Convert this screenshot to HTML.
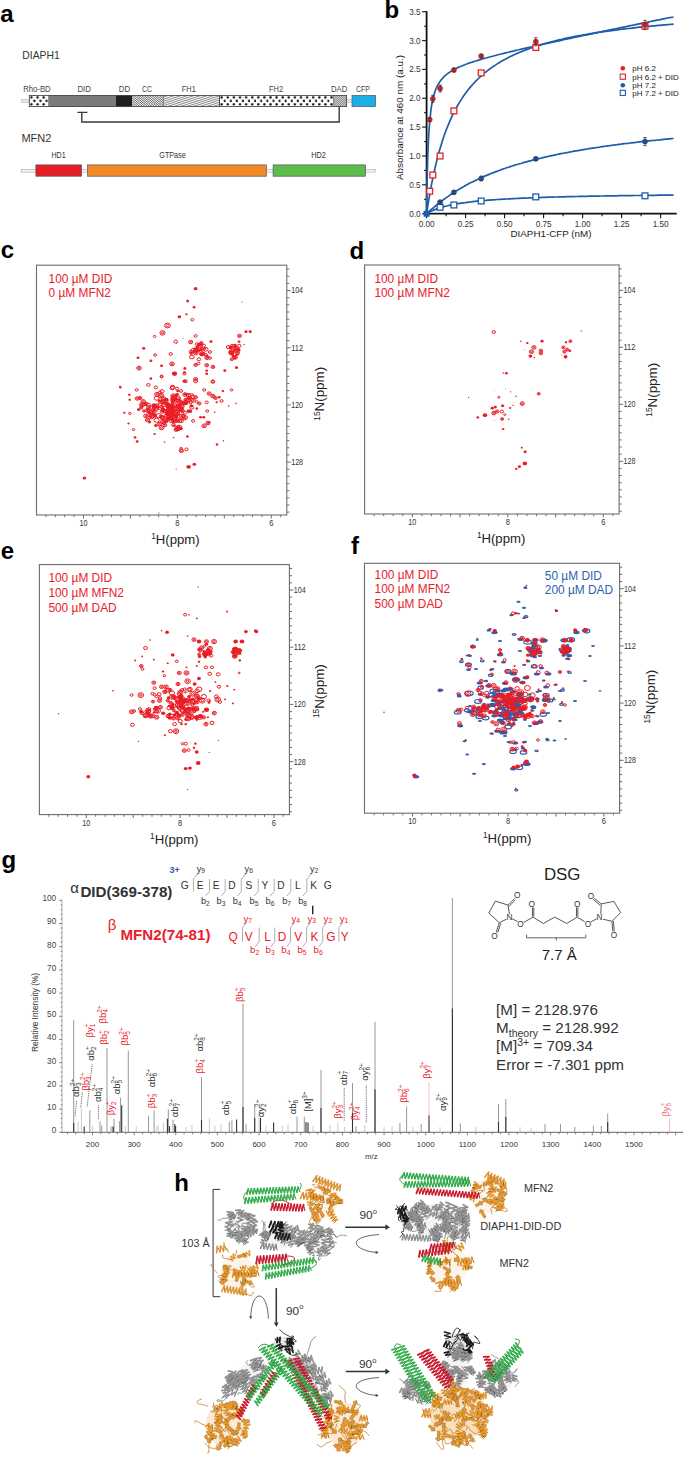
<!DOCTYPE html><html><head><meta charset="utf-8"><style>html,body{margin:0;padding:0;background:#fff;}svg{display:block;}.a{fill:none;stroke:#ea1c24;stroke-width:1}.b{fill:#ea1c24}.c{fill:none;stroke:#2a5fb0;stroke-width:1.2}.d{fill:#2a5fb0}</style></head><body><svg width="685" height="1458" viewBox="0 0 685 1458" font-family="Liberation Sans, sans-serif"><rect width="685" height="1458" fill="#fff"/><text x="0.3" y="21.6" font-size="24" fill="#000" text-anchor="start" font-weight="bold" >a</text><text x="384.6" y="18.4" font-size="24" fill="#000" text-anchor="start" font-weight="bold" >b</text><text x="0.7" y="258.3" font-size="24" fill="#000" text-anchor="start" font-weight="bold" >c</text><text x="349.6" y="258.6" font-size="24" fill="#000" text-anchor="start" font-weight="bold" >d</text><text x="0.7" y="559.4" font-size="24" fill="#000" text-anchor="start" font-weight="bold" >e</text><text x="351" y="553.8" font-size="24" fill="#000" text-anchor="start" font-weight="bold" >f</text><text x="1.5" y="867.5" font-size="24" fill="#000" text-anchor="start" font-weight="bold" >g</text><text x="174.3" y="1190.5" font-size="24" fill="#000" text-anchor="start" font-weight="bold" >h</text><defs><pattern id="dots" x="29.8" y="96.2" width="6.1" height="6.9" patternUnits="userSpaceOnUse"><rect width="6.1" height="6.9" fill="#fff"/><circle cx="1.6" cy="1.3" r="1.2" fill="#111"/><circle cx="4.6" cy="4.7" r="1.2" fill="#111"/></pattern><pattern id="dots2" x="219.5" y="96.2" width="6.1" height="6.9" patternUnits="userSpaceOnUse"><rect width="6.1" height="6.9" fill="#fff"/><circle cx="2.2" cy="1.3" r="1.2" fill="#111"/><circle cx="5.2" cy="4.7" r="1.2" fill="#111"/></pattern><pattern id="hatchCC" width="1.6" height="1.6" patternUnits="userSpaceOnUse" patternTransform="rotate(-50)"><rect width="1.6" height="1.6" fill="#fff"/><rect width="0.7" height="1.6" fill="#555"/></pattern><pattern id="hatchFH1" width="2" height="1.8" patternUnits="userSpaceOnUse" patternTransform="rotate(16)"><rect width="2" height="1.8" fill="#fff"/><rect width="2" height="0.7" fill="#6a6a6a"/></pattern><pattern id="dad" width="1.4" height="1.4" patternUnits="userSpaceOnUse" patternTransform="rotate(45)"><rect width="1.4" height="1.4" fill="#c8c8c8"/><rect width="0.6" height="1.4" fill="#8a8a8a"/></pattern></defs><text x="22.3" y="59" font-size="11.5" fill="#333" textLength="37.5" lengthAdjust="spacingAndGlyphs">DIAPH1</text><rect x="21.4" y="99.6" width="8" height="3" fill="#e6e6e6" stroke="#aaa" stroke-width="0.5" /><rect x="346.4" y="99.6" width="6" height="3" fill="#e6e6e6" stroke="#aaa" stroke-width="0.5" /><rect x="29.3" y="95.4" width="18.9" height="11.2" fill="url(#dots)" stroke="none" stroke-width="1" /><rect x="48.2" y="95.4" width="67.8" height="11.2" fill="#7b7b7b" stroke="none" stroke-width="1" /><rect x="116" y="95.4" width="16.4" height="11.2" fill="#231f20" stroke="none" stroke-width="1" /><rect x="132.4" y="95.4" width="31" height="11.2" fill="url(#hatchCC)" stroke="none" stroke-width="1" /><rect x="163.4" y="95.4" width="56.1" height="11.2" fill="url(#hatchFH1)" stroke="none" stroke-width="1" /><rect x="219.5" y="95.4" width="114.1" height="11.2" fill="url(#dots2)" stroke="none" stroke-width="1" /><rect x="333.6" y="95.4" width="12.8" height="11.2" fill="url(#dad)" stroke="none" stroke-width="1" /><rect x="29.3" y="95.4" width="317.1" height="11.2" fill="none" stroke="#3a3a3a" stroke-width="0.8" /><path d="M163.4,95.4L163.4,106.6" stroke="#444" stroke-width="0.6" /><path d="M219.5,95.4L219.5,106.6" stroke="#222" stroke-width="0.8" /><path d="M333.6,95.4L333.6,106.6" stroke="#444" stroke-width="0.6" /><rect x="352" y="95.4" width="23.6" height="11.2" fill="#1aafe6" stroke="#555" stroke-width="0.7" /><text x="36.9" y="91.9" font-size="8.6" fill="#444" text-anchor="middle" textLength="27.5" lengthAdjust="spacingAndGlyphs">Rho-BD</text><text x="84.2" y="91.9" font-size="8.6" fill="#444" text-anchor="middle" textLength="13.5" lengthAdjust="spacingAndGlyphs">DID</text><text x="124.5" y="91.9" font-size="8.6" fill="#444" text-anchor="middle" textLength="11.3" lengthAdjust="spacingAndGlyphs">DD</text><text x="147" y="91.9" font-size="8.6" fill="#444" text-anchor="middle" textLength="10" lengthAdjust="spacingAndGlyphs">CC</text><text x="188.8" y="91.9" font-size="8.6" fill="#444" text-anchor="middle" textLength="14" lengthAdjust="spacingAndGlyphs">FH1</text><text x="276.1" y="91.9" font-size="8.6" fill="#444" text-anchor="middle" textLength="14" lengthAdjust="spacingAndGlyphs">FH2</text><text x="339.1" y="91.9" font-size="8.6" fill="#444" text-anchor="middle" textLength="16.2" lengthAdjust="spacingAndGlyphs">DAD</text><text x="363" y="91.9" font-size="8.6" fill="#444" text-anchor="middle" textLength="14" lengthAdjust="spacingAndGlyphs">CFP</text><path d="M77.4,112.4 H87.4 M81.8,112.4 V122 H339.2 V106.6" fill="none" stroke="#3a3a3a" stroke-width="1.4"/><text x="21.4" y="142" font-size="11" fill="#333" text-anchor="start" >MFN2</text><rect x="21.4" y="169.3" width="354" height="2.8" fill="#f2f2f2" stroke="#9a9a9a" stroke-width="0.5" /><rect x="35.9" y="164.9" width="45.6" height="11.3" fill="#e31e25" stroke="#555" stroke-width="0.7" /><rect x="87.6" y="164.9" width="178.7" height="11.3" fill="#f18a26" stroke="#555" stroke-width="0.7" /><rect x="273.1" y="164.9" width="92.4" height="11.3" fill="#5dbd4c" stroke="#555" stroke-width="0.7" /><text x="58.6" y="157.9" font-size="8.6" fill="#333" text-anchor="middle" textLength="14.2" lengthAdjust="spacingAndGlyphs">HD1</text><text x="172.5" y="157.9" font-size="8.6" fill="#333" text-anchor="middle" textLength="26.3" lengthAdjust="spacingAndGlyphs">GTPase</text><text x="318.6" y="157.9" font-size="8.6" fill="#333" text-anchor="middle" textLength="14.7" lengthAdjust="spacingAndGlyphs">HD2</text><path d="M426.6,11.2L426.6,214.7" stroke="#111" stroke-width="1.8" /><path d="M425.6,213.7L676.7,213.7" stroke="#111" stroke-width="1.8" /><path d="M422.1,213.7L426.6,213.7" stroke="#111" stroke-width="1.1" /><text x="420.6" y="216.6" font-size="8.2" fill="#333" text-anchor="end" >0.0</text><path d="M424.1,199.3L426.6,199.3" stroke="#111" stroke-width="1.1" /><path d="M422.1,184.8L426.6,184.8" stroke="#111" stroke-width="1.1" /><text x="420.6" y="187.7" font-size="8.2" fill="#333" text-anchor="end" >0.5</text><path d="M424.1,170.4L426.6,170.4" stroke="#111" stroke-width="1.1" /><path d="M422.1,156L426.6,156" stroke="#111" stroke-width="1.1" /><text x="420.6" y="158.9" font-size="8.2" fill="#333" text-anchor="end" >1.0</text><path d="M424.1,141.6L426.6,141.6" stroke="#111" stroke-width="1.1" /><path d="M422.1,127.1L426.6,127.1" stroke="#111" stroke-width="1.1" /><text x="420.6" y="130" font-size="8.2" fill="#333" text-anchor="end" >1.5</text><path d="M424.1,112.7L426.6,112.7" stroke="#111" stroke-width="1.1" /><path d="M422.1,98.3L426.6,98.3" stroke="#111" stroke-width="1.1" /><text x="420.6" y="101.2" font-size="8.2" fill="#333" text-anchor="end" >2.0</text><path d="M424.1,83.9L426.6,83.9" stroke="#111" stroke-width="1.1" /><path d="M422.1,69.4L426.6,69.4" stroke="#111" stroke-width="1.1" /><text x="420.6" y="72.3" font-size="8.2" fill="#333" text-anchor="end" >2.5</text><path d="M424.1,55L426.6,55" stroke="#111" stroke-width="1.1" /><path d="M422.1,40.6L426.6,40.6" stroke="#111" stroke-width="1.1" /><text x="420.6" y="43.5" font-size="8.2" fill="#333" text-anchor="end" >3.0</text><path d="M424.1,26.2L426.6,26.2" stroke="#111" stroke-width="1.1" /><path d="M422.1,11.7L426.6,11.7" stroke="#111" stroke-width="1.1" /><text x="420.6" y="14.6" font-size="8.2" fill="#333" text-anchor="end" >3.5</text><path d="M426.6,213.7L426.6,218.2" stroke="#111" stroke-width="1.1" /><text x="426.6" y="227" font-size="8.2" fill="#333" text-anchor="middle" >0.00</text><path d="M446.1,213.7L446.1,216.2" stroke="#111" stroke-width="1.1" /><path d="M465.6,213.7L465.6,218.2" stroke="#111" stroke-width="1.1" /><text x="465.6" y="227" font-size="8.2" fill="#333" text-anchor="middle" >0.25</text><path d="M485.1,213.7L485.1,216.2" stroke="#111" stroke-width="1.1" /><path d="M504.6,213.7L504.6,218.2" stroke="#111" stroke-width="1.1" /><text x="504.6" y="227" font-size="8.2" fill="#333" text-anchor="middle" >0.50</text><path d="M524.1,213.7L524.1,216.2" stroke="#111" stroke-width="1.1" /><path d="M543.6,213.7L543.6,218.2" stroke="#111" stroke-width="1.1" /><text x="543.6" y="227" font-size="8.2" fill="#333" text-anchor="middle" >0.75</text><path d="M563.1,213.7L563.1,216.2" stroke="#111" stroke-width="1.1" /><path d="M582.6,213.7L582.6,218.2" stroke="#111" stroke-width="1.1" /><text x="582.6" y="227" font-size="8.2" fill="#333" text-anchor="middle" >1.00</text><path d="M602.1,213.7L602.1,216.2" stroke="#111" stroke-width="1.1" /><path d="M621.6,213.7L621.6,218.2" stroke="#111" stroke-width="1.1" /><text x="621.6" y="227" font-size="8.2" fill="#333" text-anchor="middle" >1.25</text><path d="M641.1,213.7L641.1,216.2" stroke="#111" stroke-width="1.1" /><path d="M660.6,213.7L660.6,218.2" stroke="#111" stroke-width="1.1" /><text x="660.6" y="227" font-size="8.2" fill="#333" text-anchor="middle" >1.50</text><text x="551" y="236.8" font-size="9.8" fill="#222" text-anchor="middle" >DIAPH1-CFP (nM)</text><text x="0" y="0" font-size="9.9" fill="#222" text-anchor="middle" transform="translate(402.9,117.5) rotate(-90)">Absorbance at 460 nm (a.u.)</text><polyline points="426.6,213.7 426.6,208 426.7,202.7 426.8,197.8 426.9,193.2 426.9,189 427,185 427.1,181.3 427.2,177.7 427.3,174.4 427.3,171.3 427.7,158 428.1,147.6 428.5,139.3 428.9,132.5 429.3,126.8 429.7,121.9 430.1,117.7 430.5,114.1 430.8,110.9 431.2,108.1 431.6,105.6 432,103.4 432.4,101.3 432.8,99.5 433.2,97.8 433.6,96.2 435.4,90.2 437.3,85.9 439.2,82.6 441.1,79.9 442.9,77.8 444.8,75.9 446.7,74.3 448.6,72.9 450.4,71.7 452.3,70.5 454.2,69.5 456,68.5 457.9,67.6 459.8,66.8 461.7,66 463.5,65.2 465.4,64.5 467.3,63.8 469.1,63.1 471,62.5 472.9,61.9 474.8,61.3 476.6,60.7 478.5,60.1 480.4,59.6 482.2,59 484.1,58.5 486,58 487.9,57.5 489.7,57 491.6,56.5 493.5,56 495.4,55.5 497.2,55 499.1,54.5 501,54 502.8,53.6 504.7,53.1 506.6,52.7 508.5,52.2 510.3,51.7 512.2,51.3 514.1,50.9 515.9,50.4 517.8,50 519.7,49.5 521.6,49.1 523.4,48.7 525.3,48.2 527.2,47.8 529,47.4 530.9,47 532.8,46.5 534.7,46.1 536.5,45.7 538.4,45.3 540.3,44.9 542.2,44.4 544,44 545.9,43.6 547.8,43.2 549.6,42.8 551.5,42.4 553.4,42 555.3,41.6 557.1,41.2 559,40.8 560.9,40.4 562.7,39.9 564.6,39.5 566.5,39.1 568.4,38.7 570.2,38.3 572.1,37.9 574,37.5 575.8,37.1 577.7,36.7 579.6,36.3 581.5,35.9 583.3,35.5 585.2,35.1 587.1,34.8 589,34.4 590.8,34 592.7,33.6 594.6,33.2 596.4,32.8 598.3,32.4 600.2,32 602.1,31.6 603.9,31.2 605.8,30.8 607.7,30.4 609.5,30 611.4,29.6 613.3,29.2 615.2,28.9 617,28.5 618.9,28.1 620.8,27.7 622.6,27.3 624.5,26.9 626.4,26.5 628.3,26.1 630.1,25.7 632,25.4 633.9,25 635.8,24.6 637.6,24.2 639.5,23.8 641.4,23.4 643.2,23 645.1,22.6 647,22.3 648.9,21.9 650.7,21.5 652.6,21.1 654.5,20.7 656.3,20.3 658.2,19.9 660.1,19.6 662,19.2 663.8,18.8 665.7,18.4 667.6,18 669.4,17.6 671.3,17.3 673.2,16.9 673.5,16.8" fill="none" stroke="#1f5cab" stroke-width="1.7"/><polyline points="426.6,213.7 426.6,213.2 426.7,212.7 426.8,212.2 426.9,211.7 426.9,211.2 427,210.7 427.1,210.2 427.2,209.7 427.3,209.3 427.3,208.8 427.7,206.3 428.1,203.9 428.5,201.5 428.9,199.2 429.3,196.9 429.7,194.7 430.1,192.5 430.5,190.3 430.8,188.2 431.2,186.1 431.6,184.1 432,182.1 432.4,180.2 432.8,178.2 433.2,176.4 433.6,174.5 435.4,166.2 437.3,158.6 439.2,151.6 441.1,145.2 442.9,139.3 444.8,133.8 446.7,128.8 448.6,124.1 450.4,119.8 452.3,115.7 454.2,111.9 456,108.4 457.9,105 459.8,101.9 461.7,98.9 463.5,96.1 465.4,93.5 467.3,91 469.1,88.6 471,86.4 472.9,84.3 474.8,82.2 476.6,80.3 478.5,78.5 480.4,76.7 482.2,75 484.1,73.4 486,71.9 487.9,70.4 489.7,69 491.6,67.6 493.5,66.3 495.4,65.1 497.2,63.9 499.1,62.7 501,61.6 502.8,60.5 504.7,59.5 506.6,58.5 508.5,57.5 510.3,56.6 512.2,55.7 514.1,54.8 515.9,53.9 517.8,53.1 519.7,52.3 521.6,51.6 523.4,50.8 525.3,50.1 527.2,49.4 529,48.7 530.9,48 532.8,47.4 534.7,46.8 536.5,46.1 538.4,45.5 540.3,45 542.2,44.4 544,43.9 545.9,43.3 547.8,42.8 549.6,42.3 551.5,41.8 553.4,41.3 555.3,40.8 557.1,40.4 559,39.9 560.9,39.5 562.7,39.1 564.6,38.6 566.5,38.2 568.4,37.8 570.2,37.4 572.1,37.1 574,36.7 575.8,36.3 577.7,35.9 579.6,35.6 581.5,35.3 583.3,34.9 585.2,34.6 587.1,34.3 589,33.9 590.8,33.6 592.7,33.3 594.6,33 596.4,32.7 598.3,32.4 600.2,32.2 602.1,31.9 603.9,31.6 605.8,31.3 607.7,31.1 609.5,30.8 611.4,30.6 613.3,30.3 615.2,30.1 617,29.8 618.9,29.6 620.8,29.4 622.6,29.1 624.5,28.9 626.4,28.7 628.3,28.5 630.1,28.3 632,28.1 633.9,27.8 635.8,27.6 637.6,27.4 639.5,27.2 641.4,27.1 643.2,26.9 645.1,26.7 647,26.5 648.9,26.3 650.7,26.1 652.6,25.9 654.5,25.8 656.3,25.6 658.2,25.4 660.1,25.3 662,25.1 663.8,24.9 665.7,24.8 667.6,24.6 669.4,24.5 671.3,24.3 673.2,24.2 673.5,24.1" fill="none" stroke="#1f5cab" stroke-width="1.7"/><polyline points="426.6,213.7 426.6,213.6 426.7,213.5 426.8,213.5 426.9,213.4 426.9,213.3 427,213.3 427.1,213.2 427.2,213.1 427.3,213.1 427.3,213 427.7,212.7 428.1,212.3 428.5,212 428.9,211.6 429.3,211.3 429.7,211 430.1,210.6 430.5,210.3 430.8,209.9 431.2,209.6 431.6,209.3 432,208.9 432.4,208.6 432.8,208.3 433.2,207.9 433.6,207.6 435.4,206 437.3,204.5 439.2,203 441.1,201.5 442.9,200.1 444.8,198.7 446.7,197.4 448.6,196.1 450.4,194.8 452.3,193.5 454.2,192.3 456,191.1 457.9,190 459.8,188.8 461.7,187.7 463.5,186.7 465.4,185.6 467.3,184.6 469.1,183.6 471,182.6 472.9,181.7 474.8,180.8 476.6,179.9 478.5,179 480.4,178.1 482.2,177.3 484.1,176.4 486,175.6 487.9,174.9 489.7,174.1 491.6,173.3 493.5,172.6 495.4,171.9 497.2,171.2 499.1,170.5 501,169.8 502.8,169.1 504.7,168.5 506.6,167.8 508.5,167.2 510.3,166.6 512.2,166 514.1,165.4 515.9,164.8 517.8,164.3 519.7,163.7 521.6,163.2 523.4,162.6 525.3,162.1 527.2,161.6 529,161.1 530.9,160.6 532.8,160.1 534.7,159.6 536.5,159.2 538.4,158.7 540.3,158.3 542.2,157.8 544,157.4 545.9,156.9 547.8,156.5 549.6,156.1 551.5,155.7 553.4,155.3 555.3,154.9 557.1,154.5 559,154.1 560.9,153.7 562.7,153.4 564.6,153 566.5,152.6 568.4,152.3 570.2,151.9 572.1,151.6 574,151.2 575.8,150.9 577.7,150.6 579.6,150.3 581.5,149.9 583.3,149.6 585.2,149.3 587.1,149 589,148.7 590.8,148.4 592.7,148.1 594.6,147.8 596.4,147.5 598.3,147.3 600.2,147 602.1,146.7 603.9,146.4 605.8,146.2 607.7,145.9 609.5,145.7 611.4,145.4 613.3,145.2 615.2,144.9 617,144.7 618.9,144.4 620.8,144.2 622.6,143.9 624.5,143.7 626.4,143.5 628.3,143.3 630.1,143 632,142.8 633.9,142.6 635.8,142.4 637.6,142.2 639.5,141.9 641.4,141.7 643.2,141.5 645.1,141.3 647,141.1 648.9,140.9 650.7,140.7 652.6,140.5 654.5,140.3 656.3,140.2 658.2,140 660.1,139.8 662,139.6 663.8,139.4 665.7,139.2 667.6,139.1 669.4,138.9 671.3,138.7 673.2,138.5 673.5,138.5" fill="none" stroke="#1f5cab" stroke-width="1.7"/><polyline points="426.6,213.7 426.6,213.6 426.7,213.6 426.8,213.5 426.9,213.5 426.9,213.4 427,213.4 427.1,213.3 427.2,213.3 427.3,213.2 427.3,213.2 427.7,213 428.1,212.7 428.5,212.5 428.9,212.3 429.3,212.1 429.7,211.9 430.1,211.7 430.5,211.5 430.8,211.3 431.2,211.2 431.6,211 432,210.8 432.4,210.6 432.8,210.5 433.2,210.3 433.6,210.1 435.4,209.4 437.3,208.7 439.2,208.1 441.1,207.5 442.9,206.9 444.8,206.4 446.7,206 448.6,205.5 450.4,205.1 452.3,204.7 454.2,204.4 456,204 457.9,203.7 459.8,203.4 461.7,203.1 463.5,202.8 465.4,202.6 467.3,202.3 469.1,202.1 471,201.9 472.9,201.6 474.8,201.4 476.6,201.2 478.5,201.1 480.4,200.9 482.2,200.7 484.1,200.5 486,200.4 487.9,200.2 489.7,200.1 491.6,199.9 493.5,199.8 495.4,199.7 497.2,199.5 499.1,199.4 501,199.3 502.8,199.2 504.7,199.1 506.6,199 508.5,198.9 510.3,198.8 512.2,198.7 514.1,198.6 515.9,198.5 517.8,198.4 519.7,198.3 521.6,198.2 523.4,198.1 525.3,198.1 527.2,198 529,197.9 530.9,197.8 532.8,197.8 534.7,197.7 536.5,197.6 538.4,197.6 540.3,197.5 542.2,197.4 544,197.4 545.9,197.3 547.8,197.2 549.6,197.2 551.5,197.1 553.4,197.1 555.3,197 557.1,197 559,196.9 560.9,196.9 562.7,196.8 564.6,196.8 566.5,196.7 568.4,196.7 570.2,196.6 572.1,196.6 574,196.6 575.8,196.5 577.7,196.5 579.6,196.4 581.5,196.4 583.3,196.4 585.2,196.3 587.1,196.3 589,196.2 590.8,196.2 592.7,196.2 594.6,196.1 596.4,196.1 598.3,196.1 600.2,196 602.1,196 603.9,196 605.8,195.9 607.7,195.9 609.5,195.9 611.4,195.9 613.3,195.8 615.2,195.8 617,195.8 618.9,195.7 620.8,195.7 622.6,195.7 624.5,195.7 626.4,195.6 628.3,195.6 630.1,195.6 632,195.6 633.9,195.5 635.8,195.5 637.6,195.5 639.5,195.5 641.4,195.4 643.2,195.4 645.1,195.4 647,195.4 648.9,195.4 650.7,195.3 652.6,195.3 654.5,195.3 656.3,195.3 658.2,195.2 660.1,195.2 662,195.2 663.8,195.2 665.7,195.2 667.6,195.2 669.4,195.1 671.3,195.1 673.2,195.1 673.5,195.1" fill="none" stroke="#1f5cab" stroke-width="1.7"/><rect x="426.8" y="188.3" width="5.8" height="5.8" fill="#fff" stroke="#e8202a" stroke-width="1.3" /><rect x="429.9" y="172.1" width="5.8" height="5.8" fill="#fff" stroke="#e8202a" stroke-width="1.3" /><rect x="437.2" y="153.1" width="5.8" height="5.8" fill="#fff" stroke="#e8202a" stroke-width="1.3" /><rect x="451" y="108" width="5.8" height="5.8" fill="#fff" stroke="#e8202a" stroke-width="1.3" /><rect x="478.3" y="70" width="5.8" height="5.8" fill="#fff" stroke="#e8202a" stroke-width="1.3" /><rect x="532.9" y="44.6" width="5.8" height="5.8" fill="#fff" stroke="#e8202a" stroke-width="1.3" /><rect x="642.1" y="23.2" width="5.8" height="5.8" fill="#fff" stroke="#e8202a" stroke-width="1.3" /><rect x="437.2" y="204.4" width="5.8" height="5.8" fill="#fff" stroke="#1f5cab" stroke-width="1.3" /><rect x="451" y="202.1" width="5.8" height="5.8" fill="#fff" stroke="#1f5cab" stroke-width="1.3" /><rect x="478.3" y="198.1" width="5.8" height="5.8" fill="#fff" stroke="#1f5cab" stroke-width="1.3" /><rect x="532.9" y="194" width="5.8" height="5.8" fill="#fff" stroke="#1f5cab" stroke-width="1.3" /><rect x="642.1" y="192.9" width="5.8" height="5.8" fill="#fff" stroke="#1f5cab" stroke-width="1.3" /><circle cx="429.7" cy="119.6" r="2.6" fill="#e8202a" stroke="#7a2020" stroke-width="0.4"/><path d="M429.7,117.9L429.7,121.4" stroke="#333" stroke-width="0.8" /><path d="M428.1,117.9L431.3,117.9" stroke="#333" stroke-width="0.8" /><path d="M428.1,121.4L431.3,121.4" stroke="#333" stroke-width="0.8" /><circle cx="432.8" cy="98.8" r="2.6" fill="#e8202a" stroke="#7a2020" stroke-width="0.4"/><path d="M432.8,95.4L432.8,102.3" stroke="#333" stroke-width="0.8" /><path d="M431.2,95.4L434.4,95.4" stroke="#333" stroke-width="0.8" /><path d="M431.2,102.3L434.4,102.3" stroke="#333" stroke-width="0.8" /><circle cx="440.1" cy="88.4" r="2.6" fill="#e8202a" stroke="#7a2020" stroke-width="0.4"/><path d="M440.2,85L440.2,92" stroke="#333" stroke-width="0.8" /><path d="M438.6,85L441.8,85" stroke="#333" stroke-width="0.8" /><path d="M438.6,92L441.8,92" stroke="#333" stroke-width="0.8" /><circle cx="453.9" cy="70" r="2.6" fill="#e8202a" stroke="#7a2020" stroke-width="0.4"/><path d="M453.9,68.3L453.9,71.8" stroke="#333" stroke-width="0.8" /><path d="M452.3,68.3L455.5,68.3" stroke="#333" stroke-width="0.8" /><path d="M452.3,71.8L455.5,71.8" stroke="#333" stroke-width="0.8" /><circle cx="481.2" cy="56.1" r="2.6" fill="#e8202a" stroke="#7a2020" stroke-width="0.4"/><path d="M481.2,54.4L481.2,57.9" stroke="#333" stroke-width="0.8" /><path d="M479.6,54.4L482.8,54.4" stroke="#333" stroke-width="0.8" /><path d="M479.6,57.9L482.8,57.9" stroke="#333" stroke-width="0.8" /><circle cx="535.8" cy="41.7" r="2.6" fill="#e8202a" stroke="#7a2020" stroke-width="0.4"/><path d="M535.8,37.7L535.8,45.8" stroke="#333" stroke-width="0.8" /><path d="M534.2,37.7L537.4,37.7" stroke="#333" stroke-width="0.8" /><path d="M534.2,45.8L537.4,45.8" stroke="#333" stroke-width="0.8" /><circle cx="645" cy="25" r="2.6" fill="#e8202a" stroke="#7a2020" stroke-width="0.4"/><path d="M645,20.4L645,29.6" stroke="#333" stroke-width="0.8" /><path d="M643.4,20.4L646.6,20.4" stroke="#333" stroke-width="0.8" /><path d="M643.4,29.6L646.6,29.6" stroke="#333" stroke-width="0.8" /><circle cx="440.1" cy="202.1" r="2.6" fill="#1f5cab" stroke="#1a2f60" stroke-width="0.4"/><path d="M440.2,201L440.2,203.3" stroke="#333" stroke-width="0.8" /><path d="M438.6,201L441.8,201" stroke="#333" stroke-width="0.8" /><path d="M438.6,203.3L441.8,203.3" stroke="#333" stroke-width="0.8" /><circle cx="453.9" cy="192.3" r="2.6" fill="#1f5cab" stroke="#1a2f60" stroke-width="0.4"/><path d="M453.9,191.2L453.9,193.5" stroke="#333" stroke-width="0.8" /><path d="M452.3,191.2L455.5,191.2" stroke="#333" stroke-width="0.8" /><path d="M452.3,193.5L455.5,193.5" stroke="#333" stroke-width="0.8" /><circle cx="481.2" cy="178.5" r="2.6" fill="#1f5cab" stroke="#1a2f60" stroke-width="0.4"/><path d="M481.2,176.2L481.2,180.8" stroke="#333" stroke-width="0.8" /><path d="M479.6,176.2L482.8,176.2" stroke="#333" stroke-width="0.8" /><path d="M479.6,180.8L482.8,180.8" stroke="#333" stroke-width="0.8" /><circle cx="535.8" cy="158.8" r="2.6" fill="#1f5cab" stroke="#1a2f60" stroke-width="0.4"/><path d="M535.8,157.7L535.8,160" stroke="#333" stroke-width="0.8" /><path d="M534.2,157.7L537.4,157.7" stroke="#333" stroke-width="0.8" /><path d="M534.2,160L537.4,160" stroke="#333" stroke-width="0.8" /><circle cx="645" cy="141.5" r="2.6" fill="#1f5cab" stroke="#1a2f60" stroke-width="0.4"/><path d="M645,137.5L645,145.6" stroke="#333" stroke-width="0.8" /><path d="M643.4,137.5L646.6,137.5" stroke="#333" stroke-width="0.8" /><path d="M643.4,145.6L646.6,145.6" stroke="#333" stroke-width="0.8" /><circle cx="426.6" cy="213.7" r="3" fill="#1f5cab"/><rect x="423.6" y="210.7" width="6" height="6" fill="#1f5cab" stroke="none" stroke-width="1" /><circle cx="622.8" cy="68.3" r="2.3" fill="#e8202a"/><rect x="620.2" y="74.1" width="5.2" height="5.2" fill="#fff" stroke="#e8202a" stroke-width="1.1" /><circle cx="622.8" cy="85.3" r="2.3" fill="#1f5cab"/><rect x="620.2" y="90.3" width="5.2" height="5.2" fill="#fff" stroke="#1f5cab" stroke-width="1.1" /><text x="632.3" y="71.2" font-size="8" fill="#222" text-anchor="start" >pH 6.2</text><text x="632.3" y="79.5" font-size="8" fill="#222" text-anchor="start" >pH 6.2 + DID</text><text x="632.3" y="87.9" font-size="8" fill="#222" text-anchor="start" >pH 7.2</text><text x="632.3" y="96.2" font-size="8" fill="#222" text-anchor="start" >pH 7.2 + DID</text><rect x="36.5" y="265.2" width="250.3" height="249.8" fill="none" stroke="#6d6d6d" stroke-width="1.1"/><path d="M286.8,269.1L289.4,269.1" stroke="#6d6d6d" stroke-width="1" /><path d="M286.8,276.3L289.4,276.3" stroke="#6d6d6d" stroke-width="1" /><path d="M286.8,283.4L289.4,283.4" stroke="#6d6d6d" stroke-width="1" /><path d="M286.8,290.6L290.8,290.6" stroke="#6d6d6d" stroke-width="1" /><text x="291.2" y="293.4" font-size="8.2" fill="#333" textLength="11.9" lengthAdjust="spacingAndGlyphs">104</text><path d="M286.8,297.7L289.4,297.7" stroke="#6d6d6d" stroke-width="1" /><path d="M286.8,304.9L289.4,304.9" stroke="#6d6d6d" stroke-width="1" /><path d="M286.8,312L289.4,312" stroke="#6d6d6d" stroke-width="1" /><path d="M286.8,319.2L289.4,319.2" stroke="#6d6d6d" stroke-width="1" /><path d="M286.8,326.3L289.4,326.3" stroke="#6d6d6d" stroke-width="1" /><path d="M286.8,333.5L289.4,333.5" stroke="#6d6d6d" stroke-width="1" /><path d="M286.8,340.6L289.4,340.6" stroke="#6d6d6d" stroke-width="1" /><path d="M286.8,347.8L290.8,347.8" stroke="#6d6d6d" stroke-width="1" /><text x="291.2" y="350.6" font-size="8.2" fill="#333" textLength="11.9" lengthAdjust="spacingAndGlyphs">112</text><path d="M286.8,354.9L289.4,354.9" stroke="#6d6d6d" stroke-width="1" /><path d="M286.8,362L289.4,362" stroke="#6d6d6d" stroke-width="1" /><path d="M286.8,369.2L289.4,369.2" stroke="#6d6d6d" stroke-width="1" /><path d="M286.8,376.3L289.4,376.3" stroke="#6d6d6d" stroke-width="1" /><path d="M286.8,383.5L289.4,383.5" stroke="#6d6d6d" stroke-width="1" /><path d="M286.8,390.6L289.4,390.6" stroke="#6d6d6d" stroke-width="1" /><path d="M286.8,397.8L289.4,397.8" stroke="#6d6d6d" stroke-width="1" /><path d="M286.8,404.9L290.8,404.9" stroke="#6d6d6d" stroke-width="1" /><text x="291.2" y="407.8" font-size="8.2" fill="#333" textLength="11.9" lengthAdjust="spacingAndGlyphs">120</text><path d="M286.8,412.1L289.4,412.1" stroke="#6d6d6d" stroke-width="1" /><path d="M286.8,419.2L289.4,419.2" stroke="#6d6d6d" stroke-width="1" /><path d="M286.8,426.4L289.4,426.4" stroke="#6d6d6d" stroke-width="1" /><path d="M286.8,433.5L289.4,433.5" stroke="#6d6d6d" stroke-width="1" /><path d="M286.8,440.7L289.4,440.7" stroke="#6d6d6d" stroke-width="1" /><path d="M286.8,447.8L289.4,447.8" stroke="#6d6d6d" stroke-width="1" /><path d="M286.8,455L289.4,455" stroke="#6d6d6d" stroke-width="1" /><path d="M286.8,462.1L290.8,462.1" stroke="#6d6d6d" stroke-width="1" /><text x="291.2" y="465" font-size="8.2" fill="#333" textLength="11.9" lengthAdjust="spacingAndGlyphs">128</text><path d="M286.8,469.3L289.4,469.3" stroke="#6d6d6d" stroke-width="1" /><path d="M286.8,476.4L289.4,476.4" stroke="#6d6d6d" stroke-width="1" /><path d="M286.8,483.6L289.4,483.6" stroke="#6d6d6d" stroke-width="1" /><path d="M286.8,490.7L289.4,490.7" stroke="#6d6d6d" stroke-width="1" /><path d="M286.8,497.8L289.4,497.8" stroke="#6d6d6d" stroke-width="1" /><path d="M286.8,505L289.4,505" stroke="#6d6d6d" stroke-width="1" /><path d="M286.8,512.1L289.4,512.1" stroke="#6d6d6d" stroke-width="1" /><path d="M45.9,515L45.9,517.2" stroke="#6d6d6d" stroke-width="1" /><path d="M55.3,515L55.3,517.2" stroke="#6d6d6d" stroke-width="1" /><path d="M64.7,515L64.7,517.2" stroke="#6d6d6d" stroke-width="1" /><path d="M74.1,515L74.1,517.2" stroke="#6d6d6d" stroke-width="1" /><path d="M83.5,515L83.5,518.4" stroke="#6d6d6d" stroke-width="1" /><text x="83.4" y="526.4" font-size="8.2" fill="#333" text-anchor="middle" textLength="8" lengthAdjust="spacingAndGlyphs">10</text><path d="M92.9,515L92.9,517.2" stroke="#6d6d6d" stroke-width="1" /><path d="M102.2,515L102.2,517.2" stroke="#6d6d6d" stroke-width="1" /><path d="M111.6,515L111.6,517.2" stroke="#6d6d6d" stroke-width="1" /><path d="M121,515L121,517.2" stroke="#6d6d6d" stroke-width="1" /><path d="M130.4,515L130.4,518.4" stroke="#6d6d6d" stroke-width="1" /><path d="M139.8,515L139.8,517.2" stroke="#6d6d6d" stroke-width="1" /><path d="M149.2,515L149.2,517.2" stroke="#6d6d6d" stroke-width="1" /><path d="M158.6,515L158.6,517.2" stroke="#6d6d6d" stroke-width="1" /><path d="M168,515L168,517.2" stroke="#6d6d6d" stroke-width="1" /><path d="M177.4,515L177.4,518.4" stroke="#6d6d6d" stroke-width="1" /><text x="177.3" y="526.4" font-size="8.2" fill="#333" text-anchor="middle" textLength="4.2" lengthAdjust="spacingAndGlyphs">8</text><path d="M186.8,515L186.8,517.2" stroke="#6d6d6d" stroke-width="1" /><path d="M196.2,515L196.2,517.2" stroke="#6d6d6d" stroke-width="1" /><path d="M205.6,515L205.6,517.2" stroke="#6d6d6d" stroke-width="1" /><path d="M215,515L215,517.2" stroke="#6d6d6d" stroke-width="1" /><path d="M224.3,515L224.3,518.4" stroke="#6d6d6d" stroke-width="1" /><path d="M233.7,515L233.7,517.2" stroke="#6d6d6d" stroke-width="1" /><path d="M243.1,515L243.1,517.2" stroke="#6d6d6d" stroke-width="1" /><path d="M252.5,515L252.5,517.2" stroke="#6d6d6d" stroke-width="1" /><path d="M261.9,515L261.9,517.2" stroke="#6d6d6d" stroke-width="1" /><path d="M271.3,515L271.3,518.4" stroke="#6d6d6d" stroke-width="1" /><text x="271.3" y="526.4" font-size="8.2" fill="#333" text-anchor="middle" textLength="4.2" lengthAdjust="spacingAndGlyphs">6</text><path d="M280.7,515L280.7,517.2" stroke="#6d6d6d" stroke-width="1" /><text x="151.2" y="539.1" font-size="8.3" fill="#222">1</text><text x="155.8" y="543.7" font-size="13.3" fill="#222" textLength="43.8" lengthAdjust="spacingAndGlyphs">H(ppm)</text><g transform="translate(324.3,393.8) rotate(-90)"><text x="-26.9" y="-4.6" font-size="8.3" fill="#222">15</text><text x="-17.7" y="0" font-size="13.3" fill="#222" textLength="44.6" lengthAdjust="spacingAndGlyphs">N(ppm)</text></g><rect x="364.6" y="265" width="254.5" height="249" fill="none" stroke="#6d6d6d" stroke-width="1.1"/><path d="M619.1,268.9L621.7,268.9" stroke="#6d6d6d" stroke-width="1" /><path d="M619.1,276L621.7,276" stroke="#6d6d6d" stroke-width="1" /><path d="M619.1,283.2L621.7,283.2" stroke="#6d6d6d" stroke-width="1" /><path d="M619.1,290.3L623.1,290.3" stroke="#6d6d6d" stroke-width="1" /><text x="623.5" y="293.1" font-size="8.2" fill="#333" textLength="11.9" lengthAdjust="spacingAndGlyphs">104</text><path d="M619.1,297.4L621.7,297.4" stroke="#6d6d6d" stroke-width="1" /><path d="M619.1,304.5L621.7,304.5" stroke="#6d6d6d" stroke-width="1" /><path d="M619.1,311.7L621.7,311.7" stroke="#6d6d6d" stroke-width="1" /><path d="M619.1,318.8L621.7,318.8" stroke="#6d6d6d" stroke-width="1" /><path d="M619.1,325.9L621.7,325.9" stroke="#6d6d6d" stroke-width="1" /><path d="M619.1,333L621.7,333" stroke="#6d6d6d" stroke-width="1" /><path d="M619.1,340.2L621.7,340.2" stroke="#6d6d6d" stroke-width="1" /><path d="M619.1,347.3L623.1,347.3" stroke="#6d6d6d" stroke-width="1" /><text x="623.5" y="350.1" font-size="8.2" fill="#333" textLength="11.9" lengthAdjust="spacingAndGlyphs">112</text><path d="M619.1,354.4L621.7,354.4" stroke="#6d6d6d" stroke-width="1" /><path d="M619.1,361.5L621.7,361.5" stroke="#6d6d6d" stroke-width="1" /><path d="M619.1,368.7L621.7,368.7" stroke="#6d6d6d" stroke-width="1" /><path d="M619.1,375.8L621.7,375.8" stroke="#6d6d6d" stroke-width="1" /><path d="M619.1,382.9L621.7,382.9" stroke="#6d6d6d" stroke-width="1" /><path d="M619.1,390L621.7,390" stroke="#6d6d6d" stroke-width="1" /><path d="M619.1,397.2L621.7,397.2" stroke="#6d6d6d" stroke-width="1" /><path d="M619.1,404.3L623.1,404.3" stroke="#6d6d6d" stroke-width="1" /><text x="623.5" y="407.1" font-size="8.2" fill="#333" textLength="11.9" lengthAdjust="spacingAndGlyphs">120</text><path d="M619.1,411.4L621.7,411.4" stroke="#6d6d6d" stroke-width="1" /><path d="M619.1,418.5L621.7,418.5" stroke="#6d6d6d" stroke-width="1" /><path d="M619.1,425.7L621.7,425.7" stroke="#6d6d6d" stroke-width="1" /><path d="M619.1,432.8L621.7,432.8" stroke="#6d6d6d" stroke-width="1" /><path d="M619.1,439.9L621.7,439.9" stroke="#6d6d6d" stroke-width="1" /><path d="M619.1,447L621.7,447" stroke="#6d6d6d" stroke-width="1" /><path d="M619.1,454.2L621.7,454.2" stroke="#6d6d6d" stroke-width="1" /><path d="M619.1,461.3L623.1,461.3" stroke="#6d6d6d" stroke-width="1" /><text x="623.5" y="464.1" font-size="8.2" fill="#333" textLength="11.9" lengthAdjust="spacingAndGlyphs">128</text><path d="M619.1,468.4L621.7,468.4" stroke="#6d6d6d" stroke-width="1" /><path d="M619.1,475.5L621.7,475.5" stroke="#6d6d6d" stroke-width="1" /><path d="M619.1,482.7L621.7,482.7" stroke="#6d6d6d" stroke-width="1" /><path d="M619.1,489.8L621.7,489.8" stroke="#6d6d6d" stroke-width="1" /><path d="M619.1,496.9L621.7,496.9" stroke="#6d6d6d" stroke-width="1" /><path d="M619.1,504L621.7,504" stroke="#6d6d6d" stroke-width="1" /><path d="M619.1,511.2L621.7,511.2" stroke="#6d6d6d" stroke-width="1" /><path d="M374.1,514L374.1,516.2" stroke="#6d6d6d" stroke-width="1" /><path d="M383.7,514L383.7,516.2" stroke="#6d6d6d" stroke-width="1" /><path d="M393.2,514L393.2,516.2" stroke="#6d6d6d" stroke-width="1" /><path d="M402.8,514L402.8,516.2" stroke="#6d6d6d" stroke-width="1" /><path d="M412.3,514L412.3,517.4" stroke="#6d6d6d" stroke-width="1" /><text x="412.3" y="525.2" font-size="8.2" fill="#333" text-anchor="middle" textLength="8" lengthAdjust="spacingAndGlyphs">10</text><path d="M421.9,514L421.9,516.2" stroke="#6d6d6d" stroke-width="1" /><path d="M431.4,514L431.4,516.2" stroke="#6d6d6d" stroke-width="1" /><path d="M441,514L441,516.2" stroke="#6d6d6d" stroke-width="1" /><path d="M450.5,514L450.5,516.2" stroke="#6d6d6d" stroke-width="1" /><path d="M460.1,514L460.1,517.4" stroke="#6d6d6d" stroke-width="1" /><path d="M469.6,514L469.6,516.2" stroke="#6d6d6d" stroke-width="1" /><path d="M479.2,514L479.2,516.2" stroke="#6d6d6d" stroke-width="1" /><path d="M488.7,514L488.7,516.2" stroke="#6d6d6d" stroke-width="1" /><path d="M498.3,514L498.3,516.2" stroke="#6d6d6d" stroke-width="1" /><path d="M507.8,514L507.8,517.4" stroke="#6d6d6d" stroke-width="1" /><text x="507.8" y="525.2" font-size="8.2" fill="#333" text-anchor="middle" textLength="4.2" lengthAdjust="spacingAndGlyphs">8</text><path d="M517.4,514L517.4,516.2" stroke="#6d6d6d" stroke-width="1" /><path d="M526.9,514L526.9,516.2" stroke="#6d6d6d" stroke-width="1" /><path d="M536.5,514L536.5,516.2" stroke="#6d6d6d" stroke-width="1" /><path d="M546,514L546,516.2" stroke="#6d6d6d" stroke-width="1" /><path d="M555.6,514L555.6,517.4" stroke="#6d6d6d" stroke-width="1" /><path d="M565.1,514L565.1,516.2" stroke="#6d6d6d" stroke-width="1" /><path d="M574.7,514L574.7,516.2" stroke="#6d6d6d" stroke-width="1" /><path d="M584.2,514L584.2,516.2" stroke="#6d6d6d" stroke-width="1" /><path d="M593.8,514L593.8,516.2" stroke="#6d6d6d" stroke-width="1" /><path d="M603.3,514L603.3,517.4" stroke="#6d6d6d" stroke-width="1" /><text x="603.3" y="525.2" font-size="8.2" fill="#333" text-anchor="middle" textLength="4.2" lengthAdjust="spacingAndGlyphs">6</text><path d="M612.9,514L612.9,516.2" stroke="#6d6d6d" stroke-width="1" /><text x="476.9" y="538.4" font-size="8.3" fill="#222">1</text><text x="481.5" y="543" font-size="13.3" fill="#222" textLength="43.8" lengthAdjust="spacingAndGlyphs">H(ppm)</text><g transform="translate(656.5,389.8) rotate(-90)"><text x="-26.9" y="-4.6" font-size="8.3" fill="#222">15</text><text x="-17.7" y="0" font-size="13.3" fill="#222" textLength="44.6" lengthAdjust="spacingAndGlyphs">N(ppm)</text></g><rect x="39.4" y="564.6" width="250" height="250" fill="none" stroke="#6d6d6d" stroke-width="1.1"/><path d="M289.4,568.5L292,568.5" stroke="#6d6d6d" stroke-width="1" /><path d="M289.4,575.7L292,575.7" stroke="#6d6d6d" stroke-width="1" /><path d="M289.4,582.8L292,582.8" stroke="#6d6d6d" stroke-width="1" /><path d="M289.4,590L293.4,590" stroke="#6d6d6d" stroke-width="1" /><text x="293.8" y="592.8" font-size="8.2" fill="#333" textLength="11.9" lengthAdjust="spacingAndGlyphs">104</text><path d="M289.4,597.1L292,597.1" stroke="#6d6d6d" stroke-width="1" /><path d="M289.4,604.3L292,604.3" stroke="#6d6d6d" stroke-width="1" /><path d="M289.4,611.5L292,611.5" stroke="#6d6d6d" stroke-width="1" /><path d="M289.4,618.6L292,618.6" stroke="#6d6d6d" stroke-width="1" /><path d="M289.4,625.8L292,625.8" stroke="#6d6d6d" stroke-width="1" /><path d="M289.4,632.9L292,632.9" stroke="#6d6d6d" stroke-width="1" /><path d="M289.4,640.1L292,640.1" stroke="#6d6d6d" stroke-width="1" /><path d="M289.4,647.2L293.4,647.2" stroke="#6d6d6d" stroke-width="1" /><text x="293.8" y="650.1" font-size="8.2" fill="#333" textLength="11.9" lengthAdjust="spacingAndGlyphs">112</text><path d="M289.4,654.4L292,654.4" stroke="#6d6d6d" stroke-width="1" /><path d="M289.4,661.5L292,661.5" stroke="#6d6d6d" stroke-width="1" /><path d="M289.4,668.7L292,668.7" stroke="#6d6d6d" stroke-width="1" /><path d="M289.4,675.8L292,675.8" stroke="#6d6d6d" stroke-width="1" /><path d="M289.4,683L292,683" stroke="#6d6d6d" stroke-width="1" /><path d="M289.4,690.1L292,690.1" stroke="#6d6d6d" stroke-width="1" /><path d="M289.4,697.3L292,697.3" stroke="#6d6d6d" stroke-width="1" /><path d="M289.4,704.4L293.4,704.4" stroke="#6d6d6d" stroke-width="1" /><text x="293.8" y="707.3" font-size="8.2" fill="#333" textLength="11.9" lengthAdjust="spacingAndGlyphs">120</text><path d="M289.4,711.6L292,711.6" stroke="#6d6d6d" stroke-width="1" /><path d="M289.4,718.7L292,718.7" stroke="#6d6d6d" stroke-width="1" /><path d="M289.4,725.9L292,725.9" stroke="#6d6d6d" stroke-width="1" /><path d="M289.4,733.1L292,733.1" stroke="#6d6d6d" stroke-width="1" /><path d="M289.4,740.2L292,740.2" stroke="#6d6d6d" stroke-width="1" /><path d="M289.4,747.4L292,747.4" stroke="#6d6d6d" stroke-width="1" /><path d="M289.4,754.5L292,754.5" stroke="#6d6d6d" stroke-width="1" /><path d="M289.4,761.7L293.4,761.7" stroke="#6d6d6d" stroke-width="1" /><text x="293.8" y="764.5" font-size="8.2" fill="#333" textLength="11.9" lengthAdjust="spacingAndGlyphs">128</text><path d="M289.4,768.8L292,768.8" stroke="#6d6d6d" stroke-width="1" /><path d="M289.4,776L292,776" stroke="#6d6d6d" stroke-width="1" /><path d="M289.4,783.1L292,783.1" stroke="#6d6d6d" stroke-width="1" /><path d="M289.4,790.3L292,790.3" stroke="#6d6d6d" stroke-width="1" /><path d="M289.4,797.4L292,797.4" stroke="#6d6d6d" stroke-width="1" /><path d="M289.4,804.6L292,804.6" stroke="#6d6d6d" stroke-width="1" /><path d="M289.4,811.7L292,811.7" stroke="#6d6d6d" stroke-width="1" /><path d="M48.8,814.6L48.8,816.8" stroke="#6d6d6d" stroke-width="1" /><path d="M58.2,814.6L58.2,816.8" stroke="#6d6d6d" stroke-width="1" /><path d="M67.5,814.6L67.5,816.8" stroke="#6d6d6d" stroke-width="1" /><path d="M76.9,814.6L76.9,816.8" stroke="#6d6d6d" stroke-width="1" /><path d="M86.3,814.6L86.3,818" stroke="#6d6d6d" stroke-width="1" /><text x="86.3" y="825.9" font-size="8.2" fill="#333" text-anchor="middle" textLength="8" lengthAdjust="spacingAndGlyphs">10</text><path d="M95.7,814.6L95.7,816.8" stroke="#6d6d6d" stroke-width="1" /><path d="M105.1,814.6L105.1,816.8" stroke="#6d6d6d" stroke-width="1" /><path d="M114.4,814.6L114.4,816.8" stroke="#6d6d6d" stroke-width="1" /><path d="M123.8,814.6L123.8,816.8" stroke="#6d6d6d" stroke-width="1" /><path d="M133.2,814.6L133.2,818" stroke="#6d6d6d" stroke-width="1" /><path d="M142.6,814.6L142.6,816.8" stroke="#6d6d6d" stroke-width="1" /><path d="M152,814.6L152,816.8" stroke="#6d6d6d" stroke-width="1" /><path d="M161.4,814.6L161.4,816.8" stroke="#6d6d6d" stroke-width="1" /><path d="M170.7,814.6L170.7,816.8" stroke="#6d6d6d" stroke-width="1" /><path d="M180.1,814.6L180.1,818" stroke="#6d6d6d" stroke-width="1" /><text x="180.1" y="825.9" font-size="8.2" fill="#333" text-anchor="middle" textLength="4.2" lengthAdjust="spacingAndGlyphs">8</text><path d="M189.5,814.6L189.5,816.8" stroke="#6d6d6d" stroke-width="1" /><path d="M198.9,814.6L198.9,816.8" stroke="#6d6d6d" stroke-width="1" /><path d="M208.3,814.6L208.3,816.8" stroke="#6d6d6d" stroke-width="1" /><path d="M217.6,814.6L217.6,816.8" stroke="#6d6d6d" stroke-width="1" /><path d="M227,814.6L227,818" stroke="#6d6d6d" stroke-width="1" /><path d="M236.4,814.6L236.4,816.8" stroke="#6d6d6d" stroke-width="1" /><path d="M245.8,814.6L245.8,816.8" stroke="#6d6d6d" stroke-width="1" /><path d="M255.2,814.6L255.2,816.8" stroke="#6d6d6d" stroke-width="1" /><path d="M264.5,814.6L264.5,816.8" stroke="#6d6d6d" stroke-width="1" /><path d="M273.9,814.6L273.9,818" stroke="#6d6d6d" stroke-width="1" /><text x="273.9" y="825.9" font-size="8.2" fill="#333" text-anchor="middle" textLength="4.2" lengthAdjust="spacingAndGlyphs">6</text><path d="M283.3,814.6L283.3,816.8" stroke="#6d6d6d" stroke-width="1" /><text x="150.1" y="838.9" font-size="8.3" fill="#222">1</text><text x="154.7" y="843.5" font-size="13.3" fill="#222" textLength="43.8" lengthAdjust="spacingAndGlyphs">H(ppm)</text><g transform="translate(324,691.1) rotate(-90)"><text x="-26.9" y="-4.6" font-size="8.3" fill="#222">15</text><text x="-17.7" y="0" font-size="13.3" fill="#222" textLength="44.6" lengthAdjust="spacingAndGlyphs">N(ppm)</text></g><rect x="364.5" y="563.3" width="255.1" height="249.9" fill="none" stroke="#6d6d6d" stroke-width="1.1"/><path d="M619.6,567.2L622.2,567.2" stroke="#6d6d6d" stroke-width="1" /><path d="M619.6,574.4L622.2,574.4" stroke="#6d6d6d" stroke-width="1" /><path d="M619.6,581.5L622.2,581.5" stroke="#6d6d6d" stroke-width="1" /><path d="M619.6,588.7L623.6,588.7" stroke="#6d6d6d" stroke-width="1" /><text x="624" y="591.5" font-size="8.2" fill="#333" textLength="11.9" lengthAdjust="spacingAndGlyphs">104</text><path d="M619.6,595.8L622.2,595.8" stroke="#6d6d6d" stroke-width="1" /><path d="M619.6,603L622.2,603" stroke="#6d6d6d" stroke-width="1" /><path d="M619.6,610.1L622.2,610.1" stroke="#6d6d6d" stroke-width="1" /><path d="M619.6,617.3L622.2,617.3" stroke="#6d6d6d" stroke-width="1" /><path d="M619.6,624.4L622.2,624.4" stroke="#6d6d6d" stroke-width="1" /><path d="M619.6,631.6L622.2,631.6" stroke="#6d6d6d" stroke-width="1" /><path d="M619.6,638.7L622.2,638.7" stroke="#6d6d6d" stroke-width="1" /><path d="M619.6,645.9L623.6,645.9" stroke="#6d6d6d" stroke-width="1" /><text x="624" y="648.7" font-size="8.2" fill="#333" textLength="11.9" lengthAdjust="spacingAndGlyphs">112</text><path d="M619.6,653L622.2,653" stroke="#6d6d6d" stroke-width="1" /><path d="M619.6,660.2L622.2,660.2" stroke="#6d6d6d" stroke-width="1" /><path d="M619.6,667.3L622.2,667.3" stroke="#6d6d6d" stroke-width="1" /><path d="M619.6,674.5L622.2,674.5" stroke="#6d6d6d" stroke-width="1" /><path d="M619.6,681.6L622.2,681.6" stroke="#6d6d6d" stroke-width="1" /><path d="M619.6,688.8L622.2,688.8" stroke="#6d6d6d" stroke-width="1" /><path d="M619.6,695.9L622.2,695.9" stroke="#6d6d6d" stroke-width="1" /><path d="M619.6,703.1L623.6,703.1" stroke="#6d6d6d" stroke-width="1" /><text x="624" y="705.9" font-size="8.2" fill="#333" textLength="11.9" lengthAdjust="spacingAndGlyphs">120</text><path d="M619.6,710.2L622.2,710.2" stroke="#6d6d6d" stroke-width="1" /><path d="M619.6,717.4L622.2,717.4" stroke="#6d6d6d" stroke-width="1" /><path d="M619.6,724.5L622.2,724.5" stroke="#6d6d6d" stroke-width="1" /><path d="M619.6,731.7L622.2,731.7" stroke="#6d6d6d" stroke-width="1" /><path d="M619.6,738.8L622.2,738.8" stroke="#6d6d6d" stroke-width="1" /><path d="M619.6,746L622.2,746" stroke="#6d6d6d" stroke-width="1" /><path d="M619.6,753.1L622.2,753.1" stroke="#6d6d6d" stroke-width="1" /><path d="M619.6,760.3L623.6,760.3" stroke="#6d6d6d" stroke-width="1" /><text x="624" y="763.1" font-size="8.2" fill="#333" textLength="11.9" lengthAdjust="spacingAndGlyphs">128</text><path d="M619.6,767.4L622.2,767.4" stroke="#6d6d6d" stroke-width="1" /><path d="M619.6,774.6L622.2,774.6" stroke="#6d6d6d" stroke-width="1" /><path d="M619.6,781.7L622.2,781.7" stroke="#6d6d6d" stroke-width="1" /><path d="M619.6,788.9L622.2,788.9" stroke="#6d6d6d" stroke-width="1" /><path d="M619.6,796L622.2,796" stroke="#6d6d6d" stroke-width="1" /><path d="M619.6,803.2L622.2,803.2" stroke="#6d6d6d" stroke-width="1" /><path d="M619.6,810.3L622.2,810.3" stroke="#6d6d6d" stroke-width="1" /><path d="M374.1,813.2L374.1,815.4" stroke="#6d6d6d" stroke-width="1" /><path d="M383.6,813.2L383.6,815.4" stroke="#6d6d6d" stroke-width="1" /><path d="M393.2,813.2L393.2,815.4" stroke="#6d6d6d" stroke-width="1" /><path d="M402.8,813.2L402.8,815.4" stroke="#6d6d6d" stroke-width="1" /><path d="M412.4,813.2L412.4,816.6" stroke="#6d6d6d" stroke-width="1" /><text x="412.3" y="824.3" font-size="8.2" fill="#333" text-anchor="middle" textLength="8" lengthAdjust="spacingAndGlyphs">10</text><path d="M421.9,813.2L421.9,815.4" stroke="#6d6d6d" stroke-width="1" /><path d="M431.5,813.2L431.5,815.4" stroke="#6d6d6d" stroke-width="1" /><path d="M441.1,813.2L441.1,815.4" stroke="#6d6d6d" stroke-width="1" /><path d="M450.7,813.2L450.7,815.4" stroke="#6d6d6d" stroke-width="1" /><path d="M460.2,813.2L460.2,816.6" stroke="#6d6d6d" stroke-width="1" /><path d="M469.8,813.2L469.8,815.4" stroke="#6d6d6d" stroke-width="1" /><path d="M479.4,813.2L479.4,815.4" stroke="#6d6d6d" stroke-width="1" /><path d="M488.9,813.2L488.9,815.4" stroke="#6d6d6d" stroke-width="1" /><path d="M498.5,813.2L498.5,815.4" stroke="#6d6d6d" stroke-width="1" /><path d="M508.1,813.2L508.1,816.6" stroke="#6d6d6d" stroke-width="1" /><text x="508" y="824.3" font-size="8.2" fill="#333" text-anchor="middle" textLength="4.2" lengthAdjust="spacingAndGlyphs">8</text><path d="M517.7,813.2L517.7,815.4" stroke="#6d6d6d" stroke-width="1" /><path d="M527.2,813.2L527.2,815.4" stroke="#6d6d6d" stroke-width="1" /><path d="M536.8,813.2L536.8,815.4" stroke="#6d6d6d" stroke-width="1" /><path d="M546.4,813.2L546.4,815.4" stroke="#6d6d6d" stroke-width="1" /><path d="M555.9,813.2L555.9,816.6" stroke="#6d6d6d" stroke-width="1" /><path d="M565.5,813.2L565.5,815.4" stroke="#6d6d6d" stroke-width="1" /><path d="M575.1,813.2L575.1,815.4" stroke="#6d6d6d" stroke-width="1" /><path d="M584.7,813.2L584.7,815.4" stroke="#6d6d6d" stroke-width="1" /><path d="M594.2,813.2L594.2,815.4" stroke="#6d6d6d" stroke-width="1" /><path d="M603.8,813.2L603.8,816.6" stroke="#6d6d6d" stroke-width="1" /><text x="603.8" y="824.3" font-size="8.2" fill="#333" text-anchor="middle" textLength="4.2" lengthAdjust="spacingAndGlyphs">6</text><path d="M613.4,813.2L613.4,815.4" stroke="#6d6d6d" stroke-width="1" /><text x="483" y="838.2" font-size="8.3" fill="#222">1</text><text x="487.6" y="842.8" font-size="13.3" fill="#222" textLength="43.8" lengthAdjust="spacingAndGlyphs">H(ppm)</text><g transform="translate(654.9,696.6) rotate(-90)"><text x="-26.9" y="-4.6" font-size="8.3" fill="#222">15</text><text x="-17.7" y="0" font-size="13.3" fill="#222" textLength="44.6" lengthAdjust="spacingAndGlyphs">N(ppm)</text></g><text x="48.6" y="283.1" font-size="11.9" fill="#e8202a" text-anchor="start" >100 µM DID</text><text x="48.6" y="297.2" font-size="11.9" fill="#e8202a" text-anchor="start" >0 µM MFN2</text><text x="374.4" y="282.9" font-size="11.9" fill="#e8202a" text-anchor="start" >100 µM DID</text><text x="374.4" y="297.2" font-size="11.9" fill="#e8202a" text-anchor="start" >100 µM MFN2</text><text x="48.4" y="582.3" font-size="11.9" fill="#e8202a" text-anchor="start" >100 µM DID</text><text x="48.4" y="596.9" font-size="11.9" fill="#e8202a" text-anchor="start" >100 µM MFN2</text><text x="48.4" y="611.6" font-size="11.9" fill="#e8202a" text-anchor="start" >500 µM DAD</text><text x="374.6" y="578.6" font-size="11.9" fill="#e8202a" text-anchor="start" >100 µM DID</text><text x="374.6" y="593.1" font-size="11.9" fill="#e8202a" text-anchor="start" >100 µM MFN2</text><text x="374.6" y="607.6" font-size="11.9" fill="#e8202a" text-anchor="start" >500 µM DAD</text><text x="544.8" y="579.9" font-size="11.9" fill="#2b62b3" text-anchor="start" >50 µM DID</text><text x="544.8" y="594.3" font-size="11.9" fill="#2b62b3" text-anchor="start" >200 µM DAD</text><ellipse cx="207" cy="357.7" rx="2.2" ry="1.8" class="a"/><ellipse cx="207" cy="357.7" rx="1" ry="0.8" class="a"/><ellipse cx="206.8" cy="356.2" rx="1.6" ry="1.4" class="b"/><ellipse cx="200.5" cy="348.3" rx="1.1" ry="0.9" class="b"/><ellipse cx="191.5" cy="353.9" rx="1" ry="0.9" class="b"/><ellipse cx="198.9" cy="359.4" rx="1.8" ry="1.5" class="a"/><ellipse cx="201.1" cy="349.7" rx="1.1" ry="0.9" class="a"/><ellipse cx="205" cy="348.6" rx="1.3" ry="1.1" class="b"/><ellipse cx="198.9" cy="344.4" rx="2" ry="1.7" class="b"/><ellipse cx="195.2" cy="349" rx="1.9" ry="1.6" class="b"/><ellipse cx="202.2" cy="349.4" rx="2" ry="1.6" class="a"/><ellipse cx="202.2" cy="349.4" rx="0.9" ry="0.7" class="a"/><ellipse cx="203.5" cy="353.6" rx="1.9" ry="1.6" class="b"/><ellipse cx="201.6" cy="354.3" rx="2.2" ry="1.9" class="b"/><ellipse cx="203.7" cy="345.6" rx="1.8" ry="1.5" class="a"/><ellipse cx="190.9" cy="351.5" rx="1.6" ry="1.3" class="a"/><ellipse cx="201.4" cy="342.4" rx="1.2" ry="1" class="a"/><ellipse cx="201.1" cy="344.5" rx="1.5" ry="1.3" class="b"/><ellipse cx="199.3" cy="344.9" rx="1.4" ry="1.2" class="b"/><ellipse cx="197.9" cy="348" rx="1.4" ry="1.1" class="a"/><ellipse cx="200.8" cy="344.3" rx="2.2" ry="1.8" class="a"/><ellipse cx="195.8" cy="353" rx="2.3" ry="1.9" class="a"/><ellipse cx="195.8" cy="353" rx="1" ry="0.8" class="a"/><ellipse cx="195.7" cy="351.5" rx="1.8" ry="1.5" class="a"/><ellipse cx="191.9" cy="357" rx="2.3" ry="1.9" class="a"/><ellipse cx="192.9" cy="349.7" rx="1.6" ry="1.3" class="a"/><ellipse cx="194.8" cy="351" rx="1.7" ry="1.5" class="b"/><ellipse cx="194.8" cy="350.9" rx="1.6" ry="1.3" class="a"/><ellipse cx="194.8" cy="350.9" rx="0.7" ry="0.6" class="a"/><ellipse cx="198.7" cy="350.8" rx="1.4" ry="1.1" class="a"/><ellipse cx="196.7" cy="349.5" rx="1.3" ry="1" class="a"/><ellipse cx="196.7" cy="349.5" rx="0.6" ry="0.4" class="a"/><ellipse cx="191.1" cy="352.9" rx="1.5" ry="1.3" class="a"/><ellipse cx="191.1" cy="352.9" rx="0.7" ry="0.5" class="a"/><ellipse cx="205.9" cy="354.9" rx="1.5" ry="1.3" class="a"/><ellipse cx="202" cy="353.8" rx="2.4" ry="2" class="a"/><ellipse cx="202" cy="353.8" rx="1.1" ry="0.9" class="a"/><ellipse cx="197.2" cy="347.1" rx="1.9" ry="1.6" class="b"/><ellipse cx="198.8" cy="350.6" rx="1.5" ry="1.3" class="b"/><ellipse cx="201.2" cy="346.8" rx="1.4" ry="1.2" class="a"/><ellipse cx="205.7" cy="349.3" rx="2.3" ry="1.9" class="a"/><ellipse cx="235.8" cy="350.8" rx="2" ry="1.6" class="a"/><ellipse cx="230.3" cy="352.3" rx="1.6" ry="1.3" class="a"/><ellipse cx="238.5" cy="349.5" rx="1.9" ry="1.6" class="b"/><ellipse cx="234.7" cy="357.2" rx="1.7" ry="1.4" class="a"/><ellipse cx="234.7" cy="357.2" rx="0.7" ry="0.6" class="a"/><ellipse cx="232.1" cy="346.2" rx="2" ry="1.7" class="a"/><ellipse cx="231.7" cy="359.3" rx="1.6" ry="1.3" class="a"/><ellipse cx="231.7" cy="359.3" rx="0.7" ry="0.6" class="a"/><ellipse cx="233.8" cy="345.5" rx="1.4" ry="1.2" class="a"/><ellipse cx="228.1" cy="347" rx="1.8" ry="1.5" class="a"/><ellipse cx="238.1" cy="349" rx="1.3" ry="1.1" class="a"/><ellipse cx="231.8" cy="353.5" rx="1.3" ry="1.1" class="b"/><ellipse cx="230.8" cy="347.5" rx="2.2" ry="1.9" class="b"/><ellipse cx="232.9" cy="355.8" rx="1.4" ry="1.2" class="b"/><ellipse cx="234.5" cy="349.9" rx="1.4" ry="1.2" class="a"/><ellipse cx="234.5" cy="349.9" rx="0.6" ry="0.5" class="a"/><ellipse cx="235.5" cy="344.8" rx="1.2" ry="1" class="b"/><ellipse cx="235.1" cy="357.4" rx="2.2" ry="1.9" class="a"/><ellipse cx="235.1" cy="357.4" rx="1" ry="0.8" class="a"/><ellipse cx="239.3" cy="345.8" rx="1.8" ry="1.5" class="a"/><ellipse cx="234.8" cy="351" rx="1.3" ry="1" class="a"/><ellipse cx="235.9" cy="348.7" rx="2.1" ry="1.8" class="a"/><ellipse cx="235.9" cy="348.7" rx="1" ry="0.8" class="a"/><ellipse cx="232" cy="353.6" rx="1.4" ry="1.2" class="b"/><ellipse cx="236.7" cy="355" rx="1.2" ry="1" class="a"/><ellipse cx="231.3" cy="353" rx="2.3" ry="1.9" class="a"/><ellipse cx="235.4" cy="346.6" rx="1.8" ry="1.5" class="b"/><ellipse cx="237.6" cy="353.2" rx="1.9" ry="1.6" class="a"/><ellipse cx="237.6" cy="353.2" rx="0.8" ry="0.7" class="a"/><ellipse cx="232.2" cy="353.4" rx="1.8" ry="1.5" class="a"/><ellipse cx="231.4" cy="351.5" rx="2.2" ry="1.8" class="a"/><ellipse cx="231.4" cy="351.5" rx="1" ry="0.8" class="a"/><ellipse cx="238.8" cy="351" rx="1.2" ry="1" class="a"/><ellipse cx="177.7" cy="391.1" rx="1.4" ry="1.2" class="b"/><ellipse cx="174.9" cy="421.1" rx="2.2" ry="1.8" class="a"/><ellipse cx="167.7" cy="404.4" rx="2.4" ry="2" class="b"/><ellipse cx="173.2" cy="395.9" rx="2.5" ry="2" class="a"/><ellipse cx="173.2" cy="395.9" rx="1.1" ry="0.9" class="a"/><ellipse cx="165.5" cy="399.8" rx="1.6" ry="1.3" class="a"/><ellipse cx="165.5" cy="399.8" rx="0.7" ry="0.6" class="a"/><ellipse cx="169.6" cy="410.4" rx="2.7" ry="2.2" class="a"/><ellipse cx="169.6" cy="410.4" rx="1.2" ry="1" class="a"/><ellipse cx="166.4" cy="399.5" rx="1.7" ry="1.4" class="b"/><ellipse cx="174.3" cy="415.3" rx="2" ry="1.7" class="b"/><ellipse cx="163.1" cy="402.1" rx="2.1" ry="1.7" class="a"/><ellipse cx="163.1" cy="402.1" rx="0.9" ry="0.7" class="a"/><ellipse cx="171.5" cy="420.7" rx="2.4" ry="1.9" class="a"/><ellipse cx="181" cy="408.6" rx="2.2" ry="1.8" class="a"/><ellipse cx="181" cy="408.6" rx="1" ry="0.8" class="a"/><ellipse cx="179.1" cy="405.6" rx="1.7" ry="1.4" class="a"/><ellipse cx="179.1" cy="405.6" rx="0.8" ry="0.6" class="a"/><ellipse cx="176.2" cy="429.6" rx="2.1" ry="1.8" class="a"/><ellipse cx="176.2" cy="429.6" rx="0.9" ry="0.8" class="a"/><ellipse cx="168.1" cy="415.5" rx="2.1" ry="1.7" class="a"/><ellipse cx="168" cy="412.4" rx="1.6" ry="1.3" class="a"/><ellipse cx="167.6" cy="407.5" rx="1.3" ry="1.1" class="a"/><ellipse cx="167.6" cy="407.5" rx="0.6" ry="0.5" class="a"/><ellipse cx="144.1" cy="411" rx="1.5" ry="1.2" class="a"/><ellipse cx="144.1" cy="411" rx="0.7" ry="0.5" class="a"/><ellipse cx="177.6" cy="428.4" rx="2.7" ry="2.2" class="a"/><ellipse cx="177.6" cy="428.4" rx="1.2" ry="1" class="a"/><ellipse cx="161.5" cy="427.7" rx="2.5" ry="2.1" class="a"/><ellipse cx="161.5" cy="427.7" rx="1.1" ry="0.9" class="a"/><ellipse cx="173.7" cy="415.8" rx="2" ry="1.6" class="a"/><ellipse cx="172.1" cy="388.1" rx="2.1" ry="1.7" class="a"/><ellipse cx="173.5" cy="421.5" rx="1.4" ry="1.2" class="a"/><ellipse cx="167.9" cy="414.3" rx="2.4" ry="2.1" class="b"/><ellipse cx="153.7" cy="405.4" rx="2.3" ry="2" class="b"/><ellipse cx="190.7" cy="411.5" rx="1.4" ry="1.2" class="b"/><ellipse cx="185.1" cy="412.6" rx="1.8" ry="1.5" class="a"/><ellipse cx="178.3" cy="414.2" rx="1.4" ry="1.2" class="a"/><ellipse cx="165.4" cy="425.2" rx="1.5" ry="1.2" class="a"/><ellipse cx="168.1" cy="411.4" rx="1.9" ry="1.6" class="b"/><ellipse cx="183.5" cy="402.7" rx="1.6" ry="1.3" class="a"/><ellipse cx="183.5" cy="402.7" rx="0.7" ry="0.6" class="a"/><ellipse cx="154.3" cy="410.4" rx="1.5" ry="1.3" class="b"/><ellipse cx="159.4" cy="424.1" rx="2.3" ry="1.9" class="a"/><ellipse cx="159.4" cy="424.1" rx="1" ry="0.8" class="a"/><ellipse cx="176.3" cy="408.5" rx="2.6" ry="2.2" class="a"/><ellipse cx="176.3" cy="408.5" rx="1.2" ry="1" class="a"/><ellipse cx="179" cy="427.2" rx="2.6" ry="2.1" class="a"/><ellipse cx="179" cy="427.2" rx="1.1" ry="0.9" class="a"/><ellipse cx="164.9" cy="419.6" rx="2" ry="1.6" class="a"/><ellipse cx="162" cy="391.3" rx="2" ry="1.7" class="a"/><ellipse cx="161.2" cy="406.7" rx="1.6" ry="1.3" class="a"/><ellipse cx="185.8" cy="403.1" rx="2.2" ry="1.9" class="b"/><ellipse cx="160" cy="392.6" rx="1.7" ry="1.4" class="a"/><ellipse cx="162.8" cy="409.2" rx="1.6" ry="1.3" class="a"/><ellipse cx="174.3" cy="408.3" rx="2.3" ry="1.9" class="a"/><ellipse cx="179.5" cy="407.8" rx="2.2" ry="1.9" class="b"/><ellipse cx="152.5" cy="416.3" rx="1.9" ry="1.6" class="a"/><ellipse cx="179.9" cy="421" rx="1.8" ry="1.5" class="a"/><ellipse cx="162.8" cy="401.8" rx="1.7" ry="1.4" class="a"/><ellipse cx="182.2" cy="406.3" rx="2" ry="1.7" class="a"/><ellipse cx="156.6" cy="398.2" rx="2.4" ry="2" class="a"/><ellipse cx="171.1" cy="416" rx="1.6" ry="1.3" class="a"/><ellipse cx="171.1" cy="416" rx="0.7" ry="0.6" class="a"/><ellipse cx="160.1" cy="405.3" rx="2.2" ry="1.8" class="a"/><ellipse cx="154.6" cy="406" rx="2.4" ry="2" class="a"/><ellipse cx="157.3" cy="404.9" rx="1.6" ry="1.3" class="a"/><ellipse cx="170.1" cy="408.5" rx="2" ry="1.7" class="a"/><ellipse cx="177.2" cy="420.7" rx="2.1" ry="1.7" class="a"/><ellipse cx="177.2" cy="420.7" rx="0.9" ry="0.8" class="a"/><ellipse cx="151.3" cy="416.9" rx="2.4" ry="2" class="a"/><ellipse cx="151.3" cy="416.9" rx="1.1" ry="0.9" class="a"/><ellipse cx="180.9" cy="410" rx="1.9" ry="1.6" class="a"/><ellipse cx="180.9" cy="410" rx="0.9" ry="0.7" class="a"/><ellipse cx="157.4" cy="407.3" rx="2.1" ry="1.8" class="b"/><ellipse cx="156.6" cy="420.3" rx="2.6" ry="2.1" class="a"/><ellipse cx="181.3" cy="408.9" rx="2.3" ry="2" class="b"/><ellipse cx="185.4" cy="402.7" rx="2.6" ry="2.1" class="a"/><ellipse cx="151" cy="415.5" rx="1.5" ry="1.2" class="a"/><ellipse cx="161.1" cy="395.7" rx="2.7" ry="2.2" class="a"/><ellipse cx="161.1" cy="395.7" rx="1.2" ry="1" class="a"/><ellipse cx="178.2" cy="397.8" rx="2.2" ry="1.8" class="a"/><ellipse cx="148.1" cy="410.9" rx="2.2" ry="1.8" class="a"/><ellipse cx="148.1" cy="410.9" rx="1" ry="0.8" class="a"/><ellipse cx="159.5" cy="401" rx="2" ry="1.7" class="b"/><ellipse cx="172.7" cy="387.2" rx="2.3" ry="1.9" class="a"/><ellipse cx="162.5" cy="417.6" rx="2.3" ry="1.9" class="a"/><ellipse cx="162.5" cy="417.6" rx="1" ry="0.8" class="a"/><ellipse cx="181.1" cy="428.5" rx="1.8" ry="1.6" class="b"/><ellipse cx="158.4" cy="409.3" rx="1.3" ry="1.1" class="b"/><ellipse cx="172" cy="411.9" rx="1.8" ry="1.5" class="a"/><ellipse cx="163.5" cy="398.6" rx="2.3" ry="1.9" class="a"/><ellipse cx="163.5" cy="398.6" rx="1" ry="0.8" class="a"/><ellipse cx="170" cy="417.9" rx="2.6" ry="2.1" class="a"/><ellipse cx="170" cy="417.9" rx="1.1" ry="0.9" class="a"/><ellipse cx="184.9" cy="417.7" rx="2.6" ry="2.2" class="a"/><ellipse cx="184.9" cy="417.7" rx="1.2" ry="0.9" class="a"/><ellipse cx="152.9" cy="413" rx="1.3" ry="1.1" class="a"/><ellipse cx="152.9" cy="413" rx="0.6" ry="0.5" class="a"/><ellipse cx="157.1" cy="394.4" rx="2.5" ry="2" class="a"/><ellipse cx="157.1" cy="394.4" rx="1.1" ry="0.9" class="a"/><ellipse cx="155.8" cy="425.5" rx="1.7" ry="1.5" class="b"/><ellipse cx="177.9" cy="428.7" rx="2.5" ry="2.1" class="a"/><ellipse cx="177.9" cy="428.7" rx="1.1" ry="0.9" class="a"/><ellipse cx="166" cy="400.9" rx="2.1" ry="1.7" class="a"/><ellipse cx="169.6" cy="407.5" rx="2.4" ry="2" class="b"/><ellipse cx="162.8" cy="421.6" rx="2.4" ry="2" class="a"/><ellipse cx="162.8" cy="421.6" rx="1.1" ry="0.9" class="a"/><ellipse cx="174.2" cy="425.6" rx="1.4" ry="1.2" class="b"/><ellipse cx="167.2" cy="413.2" rx="2.3" ry="2" class="b"/><ellipse cx="164" cy="422.8" rx="1.7" ry="1.4" class="a"/><ellipse cx="169.9" cy="404.8" rx="1.4" ry="1.2" class="b"/><ellipse cx="172.8" cy="411.2" rx="2.5" ry="2" class="a"/><ellipse cx="174.4" cy="408.1" rx="1.3" ry="1.1" class="b"/><ellipse cx="164.2" cy="425.5" rx="1.5" ry="1.2" class="a"/><ellipse cx="176.4" cy="416.8" rx="1.9" ry="1.7" class="b"/><ellipse cx="171.4" cy="418.9" rx="2" ry="1.7" class="b"/><ellipse cx="173.4" cy="425" rx="1.8" ry="1.5" class="a"/><ellipse cx="182.1" cy="416.3" rx="2.7" ry="2.2" class="a"/><ellipse cx="182.1" cy="416.3" rx="1.2" ry="1" class="a"/><ellipse cx="180.6" cy="401.3" rx="1.7" ry="1.4" class="a"/><ellipse cx="171.2" cy="407.1" rx="2.6" ry="2.2" class="a"/><ellipse cx="162.9" cy="409.1" rx="1.7" ry="1.4" class="a"/><ellipse cx="158.8" cy="415.7" rx="2.6" ry="2.1" class="a"/><ellipse cx="163.2" cy="409.6" rx="1.6" ry="1.3" class="a"/><ellipse cx="163.2" cy="409.6" rx="0.7" ry="0.6" class="a"/><ellipse cx="172.3" cy="403.1" rx="1.5" ry="1.3" class="b"/><ellipse cx="164" cy="401.3" rx="2.3" ry="1.9" class="a"/><ellipse cx="167.6" cy="404.7" rx="2.3" ry="1.9" class="a"/><ellipse cx="167.6" cy="404.7" rx="1" ry="0.8" class="a"/><ellipse cx="167.9" cy="407" rx="1.4" ry="1.2" class="a"/><ellipse cx="165.8" cy="421.3" rx="2.1" ry="1.7" class="a"/><ellipse cx="177.7" cy="405.9" rx="2" ry="1.7" class="b"/><ellipse cx="173.1" cy="410.4" rx="1.7" ry="1.4" class="a"/><ellipse cx="178.7" cy="398.8" rx="1.4" ry="1.2" class="a"/><ellipse cx="177.6" cy="406.6" rx="2" ry="1.7" class="a"/><ellipse cx="172.8" cy="411.7" rx="2" ry="1.7" class="b"/><ellipse cx="160.9" cy="416.6" rx="1.8" ry="1.5" class="a"/><ellipse cx="160.9" cy="416.6" rx="0.8" ry="0.6" class="a"/><ellipse cx="171.8" cy="408.5" rx="1.3" ry="1.1" class="b"/><ellipse cx="175.7" cy="414.3" rx="2.5" ry="2.1" class="a"/><ellipse cx="175.7" cy="414.3" rx="1.1" ry="0.9" class="a"/><ellipse cx="174.2" cy="397.1" rx="2.6" ry="2.2" class="a"/><ellipse cx="174.2" cy="397.1" rx="1.2" ry="1" class="a"/><ellipse cx="181.3" cy="421" rx="2" ry="1.7" class="a"/><ellipse cx="168.1" cy="418.7" rx="2.3" ry="2" class="b"/><ellipse cx="178.4" cy="419.5" rx="2" ry="1.6" class="a"/><ellipse cx="180.7" cy="402.3" rx="1.8" ry="1.4" class="a"/><ellipse cx="173" cy="420" rx="1.7" ry="1.5" class="b"/><ellipse cx="166.2" cy="421.1" rx="1.5" ry="1.2" class="a"/><ellipse cx="166.2" cy="421.1" rx="0.6" ry="0.5" class="a"/><ellipse cx="166" cy="415.6" rx="1.7" ry="1.4" class="a"/><ellipse cx="167.3" cy="411.2" rx="2.7" ry="2.3" class="a"/><ellipse cx="167.3" cy="411.2" rx="1.2" ry="1" class="a"/><ellipse cx="172.8" cy="401.1" rx="2.1" ry="1.7" class="a"/><ellipse cx="172.8" cy="401.1" rx="0.9" ry="0.7" class="a"/><ellipse cx="181.3" cy="404.8" rx="1.5" ry="1.3" class="b"/><ellipse cx="173.1" cy="399" rx="2.5" ry="2.1" class="a"/><ellipse cx="173.1" cy="399" rx="1.1" ry="0.9" class="a"/><ellipse cx="182.5" cy="411.1" rx="1.9" ry="1.6" class="a"/><ellipse cx="182.5" cy="411.1" rx="0.9" ry="0.7" class="a"/><ellipse cx="167.1" cy="410.9" rx="1.6" ry="1.3" class="a"/><ellipse cx="173.6" cy="420" rx="2.4" ry="1.9" class="a"/><ellipse cx="166.6" cy="399.7" rx="1.6" ry="1.3" class="a"/><ellipse cx="165.6" cy="404.3" rx="1.5" ry="1.2" class="a"/><ellipse cx="172.2" cy="406.2" rx="2.4" ry="2.1" class="b"/><ellipse cx="177.1" cy="413.1" rx="2.6" ry="2.2" class="a"/><ellipse cx="177.1" cy="413.1" rx="1.2" ry="1" class="a"/><ellipse cx="171.8" cy="417.5" rx="2" ry="1.7" class="a"/><ellipse cx="162.3" cy="417.7" rx="2.1" ry="1.7" class="a"/><ellipse cx="174.1" cy="398.9" rx="2.6" ry="2.1" class="a"/><ellipse cx="174.1" cy="398.9" rx="1.2" ry="0.9" class="a"/><ellipse cx="170.3" cy="412.6" rx="2" ry="1.7" class="b"/><ellipse cx="163.5" cy="411.1" rx="1.8" ry="1.6" class="b"/><ellipse cx="183.2" cy="416.1" rx="2" ry="1.6" class="a"/><ellipse cx="180.7" cy="408.7" rx="2.2" ry="1.8" class="a"/><ellipse cx="174.4" cy="402.8" rx="2.9" ry="2.4" class="a"/><ellipse cx="174.4" cy="402.8" rx="1.3" ry="1" class="a"/><ellipse cx="179" cy="410" rx="2.2" ry="1.9" class="a"/><ellipse cx="179" cy="410" rx="1" ry="0.8" class="a"/><ellipse cx="162.9" cy="410.3" rx="2.4" ry="2" class="b"/><ellipse cx="164.1" cy="405.2" rx="2" ry="1.6" class="a"/><ellipse cx="162.3" cy="411.5" rx="2.1" ry="1.7" class="a"/><ellipse cx="170.9" cy="413.1" rx="1.9" ry="1.6" class="a"/><ellipse cx="181.1" cy="405.7" rx="2.3" ry="1.9" class="a"/><ellipse cx="189.9" cy="397.9" rx="1.8" ry="1.5" class="a"/><ellipse cx="189.9" cy="397.9" rx="0.8" ry="0.7" class="a"/><ellipse cx="177" cy="394.6" rx="2" ry="1.7" class="b"/><ellipse cx="182.6" cy="402.6" rx="1.6" ry="1.3" class="b"/><ellipse cx="188.6" cy="397.5" rx="1.4" ry="1.2" class="a"/><ellipse cx="188.6" cy="397.5" rx="0.6" ry="0.5" class="a"/><ellipse cx="192.8" cy="400.3" rx="2.4" ry="2" class="a"/><ellipse cx="192.8" cy="400.3" rx="1.1" ry="0.9" class="a"/><ellipse cx="185.2" cy="394.3" rx="1.6" ry="1.4" class="b"/><ellipse cx="188.8" cy="411.1" rx="2.2" ry="1.9" class="b"/><ellipse cx="185.3" cy="399.8" rx="1.4" ry="1.1" class="a"/><ellipse cx="186.2" cy="403.1" rx="1.4" ry="1.2" class="b"/><ellipse cx="186.4" cy="399.7" rx="2" ry="1.6" class="a"/><ellipse cx="187.5" cy="400.1" rx="1.9" ry="1.6" class="a"/><ellipse cx="177.7" cy="400.1" rx="1.6" ry="1.3" class="a"/><ellipse cx="184.9" cy="394.5" rx="2.2" ry="1.8" class="a"/><ellipse cx="196.6" cy="401.7" rx="1.4" ry="1.2" class="a"/><ellipse cx="188.3" cy="394.6" rx="1.3" ry="1.1" class="b"/><ellipse cx="191.4" cy="405.8" rx="1.9" ry="1.6" class="b"/><ellipse cx="188.8" cy="400.6" rx="2.2" ry="1.8" class="a"/><ellipse cx="191.7" cy="407.5" rx="2" ry="1.7" class="a"/><ellipse cx="178.7" cy="401.3" rx="2.3" ry="1.9" class="a"/><ellipse cx="178.7" cy="401.3" rx="1" ry="0.8" class="a"/><ellipse cx="192.7" cy="396.8" rx="2.1" ry="1.8" class="a"/><ellipse cx="188.3" cy="395.2" rx="2.2" ry="1.8" class="a"/><ellipse cx="154.6" cy="407.3" rx="1.8" ry="1.5" class="b"/><ellipse cx="155.7" cy="411.1" rx="1.5" ry="1.3" class="a"/><ellipse cx="147.3" cy="409.2" rx="1.4" ry="1.2" class="a"/><ellipse cx="141.9" cy="406.7" rx="1.3" ry="1.1" class="b"/><ellipse cx="149.1" cy="413.1" rx="1.5" ry="1.3" class="b"/><ellipse cx="151.2" cy="412.2" rx="1.8" ry="1.5" class="a"/><ellipse cx="151.2" cy="412.2" rx="0.8" ry="0.7" class="a"/><ellipse cx="154.5" cy="414.7" rx="2" ry="1.7" class="b"/><ellipse cx="147.9" cy="407.6" rx="1.6" ry="1.3" class="a"/><ellipse cx="143.2" cy="401.5" rx="2.3" ry="1.9" class="a"/><ellipse cx="143.2" cy="401.5" rx="1" ry="0.8" class="a"/><ellipse cx="145" cy="404.4" rx="1.4" ry="1.1" class="a"/><ellipse cx="148.6" cy="404.9" rx="1.9" ry="1.6" class="a"/><ellipse cx="141.5" cy="405.3" rx="1.5" ry="1.2" class="a"/><ellipse cx="141.1" cy="407.8" rx="1.6" ry="1.4" class="a"/><ellipse cx="141.1" cy="407.8" rx="0.7" ry="0.6" class="a"/><ellipse cx="151.2" cy="408" rx="1.6" ry="1.3" class="a"/><ellipse cx="153.6" cy="409.6" rx="2.1" ry="1.7" class="a"/><ellipse cx="153.6" cy="409.6" rx="0.9" ry="0.8" class="a"/><ellipse cx="148.8" cy="415.1" rx="1.7" ry="1.4" class="a"/><ellipse cx="148.4" cy="410.1" rx="1.5" ry="1.2" class="a"/><ellipse cx="149.2" cy="406.8" rx="1.3" ry="1.1" class="a"/><ellipse cx="195.6" cy="288.7" rx="1.9" ry="1.6" class="b"/><ellipse cx="187.6" cy="301.1" rx="1.5" ry="1.3" class="b"/><ellipse cx="194.1" cy="307.3" rx="1.4" ry="1.2" class="b"/><ellipse cx="242.2" cy="301.9" rx="0.6" ry="0.5" class="b"/><ellipse cx="179.4" cy="316.8" rx="1.8" ry="1.5" class="b"/><ellipse cx="186.4" cy="314.3" rx="1.2" ry="1" class="b"/><ellipse cx="192.3" cy="319.7" rx="1.5" ry="1.2" class="a"/><ellipse cx="167.5" cy="325.5" rx="2.9" ry="2.4" class="a"/><ellipse cx="167.5" cy="325.5" rx="1.3" ry="1" class="a"/><ellipse cx="162.5" cy="332.9" rx="2.6" ry="2.2" class="a"/><ellipse cx="162.5" cy="332.9" rx="1.2" ry="0.9" class="a"/><ellipse cx="154.6" cy="336.4" rx="1.3" ry="1.1" class="a"/><ellipse cx="175.7" cy="341.6" rx="1.9" ry="1.5" class="a"/><ellipse cx="143.7" cy="348.3" rx="1.6" ry="1.4" class="b"/><ellipse cx="138" cy="357.7" rx="1.5" ry="1.3" class="b"/><ellipse cx="155.1" cy="355" rx="1.5" ry="1.2" class="a"/><ellipse cx="170.7" cy="354" rx="1.7" ry="1.4" class="a"/><ellipse cx="150.9" cy="360.7" rx="1.5" ry="1.3" class="b"/><ellipse cx="139" cy="368.1" rx="2.3" ry="1.9" class="a"/><ellipse cx="139" cy="368.1" rx="1" ry="0.8" class="a"/><ellipse cx="161.6" cy="365.7" rx="1.5" ry="1.3" class="b"/><ellipse cx="172" cy="363.9" rx="2.3" ry="1.9" class="a"/><ellipse cx="172" cy="363.9" rx="1" ry="0.8" class="a"/><ellipse cx="174.5" cy="373.6" rx="2.5" ry="2.1" class="b"/><ellipse cx="184.4" cy="373.6" rx="1.7" ry="1.4" class="a"/><ellipse cx="184.9" cy="368.4" rx="1.5" ry="1.3" class="b"/><ellipse cx="161.6" cy="376.8" rx="1.3" ry="1.1" class="a"/><ellipse cx="150.9" cy="378.6" rx="1.2" ry="1" class="b"/><ellipse cx="195.6" cy="335.9" rx="1.6" ry="1.3" class="a"/><ellipse cx="190.6" cy="342.1" rx="2.1" ry="1.7" class="a"/><ellipse cx="190.6" cy="342.1" rx="0.9" ry="0.7" class="a"/><ellipse cx="196.8" cy="344.1" rx="1.6" ry="1.3" class="a"/><ellipse cx="211" cy="341.6" rx="1.5" ry="1.3" class="b"/><ellipse cx="210" cy="352" rx="1.6" ry="1.3" class="a"/><ellipse cx="210" cy="358" rx="1.5" ry="1.2" class="a"/><ellipse cx="206.7" cy="365.2" rx="1.9" ry="1.6" class="a"/><ellipse cx="206.7" cy="365.2" rx="0.9" ry="0.7" class="a"/><ellipse cx="212.9" cy="366.9" rx="1.9" ry="1.6" class="a"/><ellipse cx="212.9" cy="366.9" rx="0.9" ry="0.7" class="a"/><ellipse cx="206.7" cy="370.6" rx="1.4" ry="1.2" class="b"/><ellipse cx="212.9" cy="381.8" rx="1.9" ry="1.5" class="a"/><ellipse cx="195.6" cy="364.9" rx="1.8" ry="1.5" class="a"/><ellipse cx="195.6" cy="364.9" rx="0.8" ry="0.6" class="a"/><ellipse cx="198.5" cy="363.5" rx="1.5" ry="1.2" class="a"/><ellipse cx="195.6" cy="379.3" rx="2.1" ry="1.7" class="a"/><ellipse cx="195.6" cy="379.3" rx="0.9" ry="0.7" class="a"/><ellipse cx="185.6" cy="381.3" rx="1.7" ry="1.4" class="a"/><ellipse cx="224.8" cy="370.6" rx="1.5" ry="1.3" class="b"/><ellipse cx="236.5" cy="367.7" rx="1.6" ry="1.4" class="b"/><ellipse cx="239.5" cy="335.9" rx="1.9" ry="1.6" class="a"/><ellipse cx="239.5" cy="335.9" rx="0.9" ry="0.7" class="a"/><ellipse cx="246" cy="331.7" rx="1.6" ry="1.4" class="b"/><ellipse cx="250.2" cy="331.7" rx="1.6" ry="1.4" class="b"/><ellipse cx="239" cy="341.6" rx="1.4" ry="1.2" class="b"/><ellipse cx="244" cy="344.6" rx="0.8" ry="0.7" class="b"/><ellipse cx="176.5" cy="343" rx="0.7" ry="0.6" class="b"/><ellipse cx="183" cy="338" rx="0.6" ry="0.5" class="b"/><ellipse cx="120.4" cy="387.4" rx="1.3" ry="1.1" class="b"/><ellipse cx="129.3" cy="394.8" rx="1.3" ry="1.1" class="b"/><ellipse cx="129.8" cy="399.8" rx="1.3" ry="1.1" class="b"/><ellipse cx="136.7" cy="389.9" rx="1.5" ry="1.2" class="a"/><ellipse cx="137.2" cy="398.5" rx="2.1" ry="1.7" class="a"/><ellipse cx="137.2" cy="398.5" rx="0.9" ry="0.7" class="a"/><ellipse cx="140" cy="398" rx="1.8" ry="1.5" class="a"/><ellipse cx="140" cy="398" rx="0.8" ry="0.6" class="a"/><ellipse cx="142.2" cy="404.7" rx="2.6" ry="2.2" class="a"/><ellipse cx="142.2" cy="404.7" rx="1.2" ry="0.9" class="a"/><ellipse cx="146" cy="404" rx="2.1" ry="1.7" class="a"/><ellipse cx="146" cy="404" rx="0.9" ry="0.7" class="a"/><ellipse cx="138.5" cy="409.7" rx="1.6" ry="1.4" class="b"/><ellipse cx="124.3" cy="412.7" rx="1.2" ry="1" class="b"/><ellipse cx="129.8" cy="413.4" rx="1.3" ry="1.1" class="a"/><ellipse cx="128.5" cy="423.4" rx="1.2" ry="1" class="b"/><ellipse cx="133.5" cy="429.6" rx="1.3" ry="1.1" class="a"/><ellipse cx="145.9" cy="415.9" rx="2.3" ry="1.9" class="a"/><ellipse cx="145.9" cy="415.9" rx="1" ry="0.8" class="a"/><ellipse cx="147.5" cy="420" rx="2.1" ry="1.7" class="a"/><ellipse cx="147.5" cy="420" rx="0.9" ry="0.7" class="a"/><ellipse cx="155.1" cy="415.9" rx="2.1" ry="1.8" class="b"/><ellipse cx="149.6" cy="422.1" rx="1.5" ry="1.3" class="b"/><ellipse cx="137.2" cy="441.5" rx="1.4" ry="1.2" class="b"/><ellipse cx="154.6" cy="434" rx="1.2" ry="1" class="b"/><ellipse cx="164.5" cy="442" rx="0.9" ry="0.8" class="b"/><ellipse cx="173.7" cy="437.5" rx="0.8" ry="0.7" class="b"/><ellipse cx="187.4" cy="436.5" rx="1.4" ry="1.2" class="b"/><ellipse cx="181.4" cy="450.7" rx="2.2" ry="1.8" class="a"/><ellipse cx="181.4" cy="450.7" rx="1" ry="0.8" class="a"/><ellipse cx="186.4" cy="449.4" rx="1.7" ry="1.4" class="a"/><ellipse cx="188.6" cy="466.8" rx="2.3" ry="1.9" class="b"/><ellipse cx="194.3" cy="464.3" rx="1.8" ry="1.5" class="b"/><ellipse cx="190.6" cy="402.3" rx="1.7" ry="1.4" class="a"/><ellipse cx="195.6" cy="397.3" rx="1.9" ry="1.6" class="a"/><ellipse cx="195.6" cy="397.3" rx="0.9" ry="0.7" class="a"/><ellipse cx="191.8" cy="394.8" rx="1.5" ry="1.2" class="a"/><ellipse cx="199.3" cy="403.5" rx="1.8" ry="1.5" class="a"/><ellipse cx="199.3" cy="403.5" rx="0.8" ry="0.6" class="a"/><ellipse cx="196.8" cy="408.5" rx="1.4" ry="1.2" class="b"/><ellipse cx="190.6" cy="411" rx="1.5" ry="1.3" class="b"/><ellipse cx="200.5" cy="417.2" rx="1.4" ry="1.2" class="b"/><ellipse cx="203.7" cy="417.2" rx="1.5" ry="1.3" class="b"/><ellipse cx="193.1" cy="420.9" rx="1.6" ry="1.3" class="a"/><ellipse cx="204.2" cy="425.8" rx="2.3" ry="1.9" class="a"/><ellipse cx="204.2" cy="425.8" rx="1" ry="0.8" class="a"/><ellipse cx="208" cy="423" rx="2.1" ry="1.7" class="a"/><ellipse cx="208" cy="423" rx="0.9" ry="0.7" class="a"/><ellipse cx="209.2" cy="422.1" rx="1.4" ry="1.2" class="b"/><ellipse cx="207.2" cy="411" rx="1.5" ry="1.2" class="a"/><ellipse cx="206.7" cy="402.3" rx="1.6" ry="1.3" class="a"/><ellipse cx="204.2" cy="389.9" rx="1.5" ry="1.2" class="a"/><ellipse cx="209.2" cy="393.6" rx="2.1" ry="1.7" class="a"/><ellipse cx="209.2" cy="393.6" rx="0.9" ry="0.7" class="a"/><ellipse cx="212.9" cy="396.1" rx="2.2" ry="1.8" class="a"/><ellipse cx="212.9" cy="396.1" rx="1" ry="0.8" class="a"/><ellipse cx="215.5" cy="398" rx="1.8" ry="1.5" class="a"/><ellipse cx="215.5" cy="398" rx="0.8" ry="0.6" class="a"/><ellipse cx="219.1" cy="397.3" rx="1.4" ry="1.2" class="b"/><ellipse cx="221.6" cy="401" rx="1.6" ry="1.3" class="a"/><ellipse cx="216.7" cy="402.3" rx="1.2" ry="1" class="b"/><ellipse cx="222.9" cy="391.1" rx="1.3" ry="1.1" class="b"/><ellipse cx="231.5" cy="389.9" rx="1.3" ry="1.1" class="a"/><ellipse cx="228.6" cy="406" rx="0.9" ry="0.8" class="b"/><ellipse cx="236" cy="403.5" rx="0.8" ry="0.7" class="b"/><ellipse cx="214.7" cy="412.2" rx="0.8" ry="0.7" class="b"/><ellipse cx="217.1" cy="444.5" rx="1.2" ry="1" class="b"/><ellipse cx="223.4" cy="440.7" rx="0.8" ry="0.7" class="b"/><ellipse cx="184.4" cy="381.2" rx="1.9" ry="1.6" class="b"/><ellipse cx="195.6" cy="381.2" rx="2" ry="1.6" class="a"/><ellipse cx="212.9" cy="381.2" rx="1.5" ry="1.2" class="a"/><ellipse cx="174.5" cy="373.7" rx="2.4" ry="2" class="b"/><ellipse cx="161.6" cy="376.2" rx="1.5" ry="1.2" class="a"/><ellipse cx="150.9" cy="378.7" rx="1.3" ry="1.1" class="b"/><ellipse cx="148.4" cy="384.9" rx="1.7" ry="1.4" class="a"/><ellipse cx="155.8" cy="387.4" rx="1.7" ry="1.4" class="a"/><ellipse cx="177" cy="388.6" rx="1.7" ry="1.4" class="a"/><ellipse cx="181" cy="391" rx="1.6" ry="1.3" class="a"/><ellipse cx="184.4" cy="372.5" rx="1.4" ry="1.2" class="b"/><ellipse cx="206.7" cy="373.7" rx="1.4" ry="1.2" class="b"/><ellipse cx="84.4" cy="477.9" rx="1.8" ry="1.5" class="b"/><ellipse cx="176.2" cy="469" rx="0.7" ry="0.6" class="b"/><ellipse cx="158.8" cy="513.1" rx="0.7" ry="0.6" class="b"/><ellipse cx="120.1" cy="386.8" rx="1.2" ry="1" class="b"/><ellipse cx="135" cy="437.4" rx="1.4" ry="1.2" class="b"/><ellipse cx="216.9" cy="444.4" rx="1.2" ry="1" class="b"/><ellipse cx="181.1" cy="448.4" rx="1.2" ry="1" class="a"/><ellipse cx="493.8" cy="332" rx="1.7" ry="1.4" class="a"/><ellipse cx="581.4" cy="330.9" rx="0.8" ry="0.7" class="b"/><ellipse cx="520.7" cy="341.2" rx="0.8" ry="0.7" class="b"/><ellipse cx="527.3" cy="343" rx="1.3" ry="1.1" class="b"/><ellipse cx="542" cy="341.2" rx="1.6" ry="1.4" class="b"/><ellipse cx="533.9" cy="347.4" rx="2.1" ry="1.8" class="a"/><ellipse cx="533.9" cy="347.4" rx="0.9" ry="0.8" class="a"/><ellipse cx="531.5" cy="351.7" rx="2.1" ry="1.8" class="a"/><ellipse cx="531.5" cy="351.7" rx="0.9" ry="0.8" class="a"/><ellipse cx="530.4" cy="356.1" rx="1.9" ry="1.7" class="b"/><ellipse cx="534.3" cy="357.7" rx="0.8" ry="0.7" class="b"/><ellipse cx="524.9" cy="349.6" rx="0.5" ry="0.4" class="b"/><ellipse cx="540.9" cy="350.7" rx="1.8" ry="1.5" class="a"/><ellipse cx="540.9" cy="350.7" rx="0.8" ry="0.6" class="a"/><ellipse cx="540.9" cy="353.3" rx="1.8" ry="1.5" class="a"/><ellipse cx="540.9" cy="353.3" rx="0.8" ry="0.6" class="a"/><ellipse cx="566" cy="342.3" rx="1.3" ry="1.1" class="b"/><ellipse cx="570.4" cy="341.2" rx="1.5" ry="1.3" class="a"/><ellipse cx="570.4" cy="341.2" rx="0.7" ry="0.5" class="a"/><ellipse cx="563.4" cy="347.4" rx="1.6" ry="1.4" class="a"/><ellipse cx="563.4" cy="347.4" rx="0.7" ry="0.6" class="a"/><ellipse cx="567.1" cy="349.6" rx="1.6" ry="1.4" class="a"/><ellipse cx="567.1" cy="349.6" rx="0.7" ry="0.6" class="a"/><ellipse cx="569.8" cy="350.7" rx="1.5" ry="1.3" class="b"/><ellipse cx="564.3" cy="351.7" rx="1.6" ry="1.4" class="a"/><ellipse cx="564.3" cy="351.7" rx="0.7" ry="0.6" class="a"/><ellipse cx="565.6" cy="356.8" rx="1.9" ry="1.7" class="b"/><ellipse cx="561.2" cy="355" rx="0.5" ry="0.4" class="b"/><ellipse cx="506.5" cy="373.2" rx="1.4" ry="1.2" class="b"/><ellipse cx="503.5" cy="373" rx="0.9" ry="0.8" class="b"/><ellipse cx="494.4" cy="390.7" rx="0.4" ry="0.3" class="b"/><ellipse cx="505.8" cy="389" rx="0.5" ry="0.4" class="b"/><ellipse cx="510.7" cy="391.8" rx="0.7" ry="0.6" class="b"/><ellipse cx="516.1" cy="396.2" rx="0.8" ry="0.7" class="b"/><ellipse cx="498.8" cy="397.3" rx="1.1" ry="0.9" class="a"/><ellipse cx="468.6" cy="397.3" rx="0.7" ry="0.6" class="b"/><ellipse cx="538.7" cy="393.8" rx="1.5" ry="1.3" class="a"/><ellipse cx="538.7" cy="393.8" rx="0.7" ry="0.5" class="a"/><ellipse cx="522.3" cy="403.6" rx="2.1" ry="1.8" class="a"/><ellipse cx="522.3" cy="403.6" rx="0.9" ry="0.8" class="a"/><ellipse cx="502.6" cy="405.8" rx="1.6" ry="1.4" class="b"/><ellipse cx="513.1" cy="405.4" rx="0.7" ry="0.6" class="b"/><ellipse cx="510.2" cy="408" rx="0.9" ry="0.7" class="a"/><ellipse cx="492.3" cy="408.2" rx="1.6" ry="1.4" class="b"/><ellipse cx="495.3" cy="407.1" rx="1.6" ry="1.4" class="b"/><ellipse cx="493.8" cy="413.1" rx="2.1" ry="1.8" class="a"/><ellipse cx="493.8" cy="413.1" rx="0.9" ry="0.8" class="a"/><ellipse cx="497.1" cy="411.5" rx="1.8" ry="1.5" class="a"/><ellipse cx="497.1" cy="411.5" rx="0.8" ry="0.6" class="a"/><ellipse cx="501.9" cy="411.5" rx="1.7" ry="1.4" class="a"/><ellipse cx="504.7" cy="414.6" rx="1.1" ry="0.9" class="a"/><ellipse cx="502.1" cy="419" rx="1.5" ry="1.3" class="a"/><ellipse cx="502.1" cy="419" rx="0.7" ry="0.5" class="a"/><ellipse cx="508.7" cy="419.2" rx="0.8" ry="0.7" class="b"/><ellipse cx="494.4" cy="420.7" rx="0.5" ry="0.4" class="b"/><ellipse cx="485" cy="415.2" rx="2.2" ry="1.9" class="b"/><ellipse cx="477.8" cy="417.4" rx="1.4" ry="1.2" class="b"/><ellipse cx="503.2" cy="429" rx="1.3" ry="1.1" class="b"/><ellipse cx="503.7" cy="424" rx="0.4" ry="0.3" class="b"/><ellipse cx="521.8" cy="447.7" rx="1.1" ry="0.9" class="b"/><ellipse cx="525.1" cy="451.8" rx="1.6" ry="1.4" class="b"/><ellipse cx="524.9" cy="463.4" rx="2.2" ry="1.9" class="b"/><ellipse cx="519.4" cy="466.7" rx="1.6" ry="1.4" class="b"/><ellipse cx="516.3" cy="468.9" rx="1.3" ry="1.1" class="b"/><ellipse cx="205.3" cy="657" rx="1.6" ry="1.4" class="b"/><ellipse cx="203.9" cy="650.9" rx="1.2" ry="1" class="b"/><ellipse cx="204.8" cy="654.9" rx="2.5" ry="2.1" class="b"/><ellipse cx="200.1" cy="650.7" rx="1.7" ry="1.4" class="a"/><ellipse cx="205.2" cy="654.2" rx="2.4" ry="2" class="b"/><ellipse cx="204.6" cy="646" rx="1.3" ry="1.1" class="a"/><ellipse cx="204.6" cy="652.9" rx="2.3" ry="2" class="b"/><ellipse cx="199.6" cy="656.5" rx="1.7" ry="1.5" class="b"/><ellipse cx="207" cy="651.5" rx="1.7" ry="1.4" class="a"/><ellipse cx="206.8" cy="654.1" rx="2.4" ry="2.1" class="b"/><ellipse cx="206.4" cy="644.2" rx="1.7" ry="1.5" class="b"/><ellipse cx="200.5" cy="649.7" rx="1.8" ry="1.4" class="a"/><ellipse cx="209.9" cy="648.5" rx="2.6" ry="2.1" class="a"/><ellipse cx="209.9" cy="648.5" rx="1.2" ry="0.9" class="a"/><ellipse cx="210.9" cy="651.6" rx="1.5" ry="1.2" class="a"/><ellipse cx="210.9" cy="651.6" rx="0.7" ry="0.5" class="a"/><ellipse cx="199.2" cy="649.3" rx="1.6" ry="1.3" class="a"/><ellipse cx="199.2" cy="649.3" rx="0.7" ry="0.6" class="a"/><ellipse cx="204.6" cy="653.4" rx="2.3" ry="2" class="b"/><ellipse cx="211.1" cy="655.7" rx="1.8" ry="1.4" class="a"/><ellipse cx="209.1" cy="652.5" rx="1.8" ry="1.5" class="a"/><ellipse cx="210.3" cy="653.5" rx="1.3" ry="1.1" class="a"/><ellipse cx="210.3" cy="653.5" rx="0.6" ry="0.5" class="a"/><ellipse cx="204.4" cy="654.8" rx="1.2" ry="1" class="a"/><ellipse cx="209.7" cy="654.5" rx="1.2" ry="1" class="a"/><ellipse cx="208.2" cy="651.4" rx="1.6" ry="1.3" class="a"/><ellipse cx="208.6" cy="651.5" rx="1.7" ry="1.4" class="a"/><ellipse cx="208.1" cy="649.6" rx="1.8" ry="1.5" class="b"/><ellipse cx="201.6" cy="647.7" rx="2.1" ry="1.7" class="a"/><ellipse cx="201.6" cy="647.7" rx="0.9" ry="0.7" class="a"/><ellipse cx="199.2" cy="654.6" rx="1.6" ry="1.3" class="a"/><ellipse cx="199.2" cy="654.6" rx="0.7" ry="0.6" class="a"/><ellipse cx="234.7" cy="651.9" rx="1.6" ry="1.4" class="a"/><ellipse cx="234.7" cy="651.9" rx="0.7" ry="0.6" class="a"/><ellipse cx="239" cy="651.2" rx="1.9" ry="1.6" class="a"/><ellipse cx="234.1" cy="654" rx="1.4" ry="1.2" class="a"/><ellipse cx="234.1" cy="654" rx="0.6" ry="0.5" class="a"/><ellipse cx="232.8" cy="652" rx="1.7" ry="1.4" class="a"/><ellipse cx="232.8" cy="652" rx="0.8" ry="0.6" class="a"/><ellipse cx="236.4" cy="650.3" rx="1.3" ry="1" class="a"/><ellipse cx="238.3" cy="650.4" rx="1.8" ry="1.5" class="a"/><ellipse cx="238.3" cy="650.4" rx="0.8" ry="0.7" class="a"/><ellipse cx="237.2" cy="652.8" rx="2.2" ry="1.9" class="a"/><ellipse cx="237.2" cy="652.8" rx="1" ry="0.8" class="a"/><ellipse cx="235.7" cy="654" rx="2.2" ry="1.8" class="a"/><ellipse cx="240.2" cy="650.1" rx="1.4" ry="1.1" class="a"/><ellipse cx="235.3" cy="648.8" rx="1.5" ry="1.3" class="b"/><ellipse cx="235.8" cy="649.8" rx="2" ry="1.7" class="a"/><ellipse cx="235.8" cy="649.8" rx="0.9" ry="0.7" class="a"/><ellipse cx="235.6" cy="648.9" rx="2.2" ry="1.8" class="a"/><ellipse cx="240.1" cy="653.5" rx="1.4" ry="1.2" class="b"/><ellipse cx="235.9" cy="656.6" rx="1.2" ry="1" class="a"/><ellipse cx="234.6" cy="656.6" rx="2" ry="1.7" class="a"/><ellipse cx="234.6" cy="656.6" rx="0.9" ry="0.7" class="a"/><ellipse cx="233.9" cy="656.1" rx="1.4" ry="1.1" class="a"/><ellipse cx="233.9" cy="656.1" rx="0.6" ry="0.5" class="a"/><ellipse cx="234.2" cy="649.1" rx="1.9" ry="1.6" class="a"/><ellipse cx="234.2" cy="649.1" rx="0.9" ry="0.7" class="a"/><ellipse cx="233" cy="652" rx="1.5" ry="1.3" class="b"/><ellipse cx="239" cy="651.7" rx="1.4" ry="1.2" class="b"/><ellipse cx="239.1" cy="650.7" rx="2.4" ry="2" class="a"/><ellipse cx="196.2" cy="708.4" rx="2.6" ry="2.1" class="a"/><ellipse cx="196.2" cy="708.4" rx="1.2" ry="0.9" class="a"/><ellipse cx="199.1" cy="689.3" rx="2.8" ry="2.3" class="a"/><ellipse cx="181.6" cy="702.9" rx="2.7" ry="2.2" class="a"/><ellipse cx="177.8" cy="705.1" rx="2.5" ry="2" class="a"/><ellipse cx="168.9" cy="705.8" rx="1.3" ry="1.1" class="b"/><ellipse cx="185.8" cy="709.7" rx="2.7" ry="2.3" class="b"/><ellipse cx="182" cy="702.3" rx="1.7" ry="1.4" class="a"/><ellipse cx="153" cy="701.6" rx="1.7" ry="1.4" class="a"/><ellipse cx="153" cy="701.6" rx="0.7" ry="0.6" class="a"/><ellipse cx="203.9" cy="696.6" rx="2.6" ry="2.1" class="a"/><ellipse cx="160.5" cy="707.1" rx="2" ry="1.7" class="a"/><ellipse cx="160.5" cy="707.1" rx="0.9" ry="0.7" class="a"/><ellipse cx="180.2" cy="721.2" rx="2.1" ry="1.7" class="a"/><ellipse cx="154.4" cy="709.2" rx="1.3" ry="1.1" class="a"/><ellipse cx="180.7" cy="702.6" rx="1.3" ry="1.2" class="b"/><ellipse cx="209" cy="702.5" rx="1.4" ry="1.2" class="b"/><ellipse cx="174.7" cy="714.7" rx="1.8" ry="1.5" class="b"/><ellipse cx="167.8" cy="700.6" rx="1.7" ry="1.4" class="a"/><ellipse cx="167.8" cy="700.6" rx="0.8" ry="0.6" class="a"/><ellipse cx="172.9" cy="708.4" rx="1.3" ry="1.1" class="b"/><ellipse cx="185.4" cy="692.3" rx="1.3" ry="1.1" class="b"/><ellipse cx="159.2" cy="694.2" rx="1.9" ry="1.6" class="a"/><ellipse cx="168.5" cy="697.8" rx="1.8" ry="1.6" class="b"/><ellipse cx="180.8" cy="696.4" rx="2.7" ry="2.3" class="b"/><ellipse cx="169" cy="708" rx="2.1" ry="1.8" class="a"/><ellipse cx="183.5" cy="698.5" rx="1.5" ry="1.3" class="a"/><ellipse cx="193.3" cy="701.8" rx="2.8" ry="2.3" class="a"/><ellipse cx="193.3" cy="701.8" rx="1.3" ry="1" class="a"/><ellipse cx="196.6" cy="717.6" rx="2.6" ry="2.3" class="b"/><ellipse cx="167.9" cy="690.4" rx="2.2" ry="1.8" class="a"/><ellipse cx="188.9" cy="689.8" rx="2.1" ry="1.7" class="a"/><ellipse cx="180.6" cy="702.7" rx="1.5" ry="1.2" class="a"/><ellipse cx="172.1" cy="697" rx="2.7" ry="2.2" class="a"/><ellipse cx="172.1" cy="697" rx="1.2" ry="1" class="a"/><ellipse cx="184.1" cy="701.3" rx="2.5" ry="2.2" class="b"/><ellipse cx="156.3" cy="696.6" rx="1.4" ry="1.1" class="a"/><ellipse cx="199.5" cy="717.3" rx="2.8" ry="2.3" class="a"/><ellipse cx="182.5" cy="710" rx="2.9" ry="2.3" class="a"/><ellipse cx="157.6" cy="710.8" rx="2.9" ry="2.4" class="a"/><ellipse cx="157.6" cy="710.8" rx="1.3" ry="1.1" class="a"/><ellipse cx="169.8" cy="714.1" rx="1.8" ry="1.5" class="b"/><ellipse cx="194.2" cy="703.7" rx="1.6" ry="1.4" class="b"/><ellipse cx="163.2" cy="713.2" rx="2.1" ry="1.8" class="b"/><ellipse cx="188.4" cy="715.2" rx="2.7" ry="2.2" class="a"/><ellipse cx="200.5" cy="716.3" rx="2.6" ry="2.2" class="b"/><ellipse cx="154.6" cy="694.7" rx="1.5" ry="1.3" class="a"/><ellipse cx="190.9" cy="716.5" rx="2.9" ry="2.4" class="a"/><ellipse cx="190.9" cy="716.5" rx="1.3" ry="1.1" class="a"/><ellipse cx="166" cy="686.9" rx="2.3" ry="1.9" class="a"/><ellipse cx="166" cy="686.9" rx="1" ry="0.8" class="a"/><ellipse cx="189.8" cy="699.9" rx="1.7" ry="1.4" class="b"/><ellipse cx="185.9" cy="719.6" rx="1.6" ry="1.4" class="b"/><ellipse cx="181.2" cy="699.9" rx="2.7" ry="2.3" class="b"/><ellipse cx="176.9" cy="698.8" rx="2.2" ry="1.8" class="a"/><ellipse cx="156.2" cy="708" rx="2.5" ry="2.2" class="b"/><ellipse cx="196.7" cy="695.9" rx="2.5" ry="2.1" class="a"/><ellipse cx="208.4" cy="700.4" rx="1.7" ry="1.4" class="a"/><ellipse cx="181.3" cy="700.1" rx="2.3" ry="1.9" class="a"/><ellipse cx="189.3" cy="701" rx="2.8" ry="2.3" class="a"/><ellipse cx="189.3" cy="701" rx="1.2" ry="1" class="a"/><ellipse cx="182.6" cy="710.3" rx="2.5" ry="2.1" class="a"/><ellipse cx="203.7" cy="717.4" rx="1.9" ry="1.5" class="a"/><ellipse cx="203.7" cy="717.4" rx="0.8" ry="0.7" class="a"/><ellipse cx="156.6" cy="711.2" rx="1.8" ry="1.5" class="a"/><ellipse cx="171.8" cy="716.1" rx="2.1" ry="1.7" class="a"/><ellipse cx="164.7" cy="691.7" rx="2.1" ry="1.7" class="a"/><ellipse cx="172.7" cy="704.4" rx="1.7" ry="1.4" class="b"/><ellipse cx="185.6" cy="703.3" rx="2.9" ry="2.4" class="a"/><ellipse cx="185.6" cy="703.3" rx="1.3" ry="1.1" class="a"/><ellipse cx="173.7" cy="696.5" rx="2.1" ry="1.7" class="a"/><ellipse cx="173.7" cy="696.5" rx="0.9" ry="0.8" class="a"/><ellipse cx="169.7" cy="718" rx="2" ry="1.8" class="b"/><ellipse cx="174.7" cy="705.7" rx="1.8" ry="1.5" class="a"/><ellipse cx="165.2" cy="691.8" rx="1.6" ry="1.4" class="a"/><ellipse cx="165.2" cy="691.8" rx="0.7" ry="0.6" class="a"/><ellipse cx="196.8" cy="695.7" rx="1.5" ry="1.2" class="a"/><ellipse cx="198.9" cy="698.4" rx="2.2" ry="1.9" class="b"/><ellipse cx="159.6" cy="700.6" rx="2.1" ry="1.8" class="a"/><ellipse cx="159.6" cy="700.6" rx="0.9" ry="0.8" class="a"/><ellipse cx="184.7" cy="689.1" rx="1.5" ry="1.2" class="a"/><ellipse cx="180.5" cy="692.2" rx="2.6" ry="2.1" class="a"/><ellipse cx="180.5" cy="692.2" rx="1.2" ry="0.9" class="a"/><ellipse cx="189.6" cy="711.1" rx="1.4" ry="1.2" class="a"/><ellipse cx="197.1" cy="709.4" rx="1.8" ry="1.5" class="a"/><ellipse cx="197.1" cy="709.4" rx="0.8" ry="0.6" class="a"/><ellipse cx="154.1" cy="712.4" rx="1.4" ry="1.2" class="b"/><ellipse cx="184.1" cy="701.6" rx="1.7" ry="1.4" class="a"/><ellipse cx="171.9" cy="693.1" rx="2.7" ry="2.2" class="a"/><ellipse cx="183.8" cy="712.5" rx="1.9" ry="1.6" class="b"/><ellipse cx="190" cy="689.2" rx="2.2" ry="1.8" class="a"/><ellipse cx="197" cy="690.8" rx="2.2" ry="1.8" class="a"/><ellipse cx="170.8" cy="702.9" rx="1.8" ry="1.5" class="a"/><ellipse cx="170.8" cy="702.9" rx="0.8" ry="0.6" class="a"/><ellipse cx="206.5" cy="709.7" rx="2.6" ry="2.2" class="b"/><ellipse cx="173.5" cy="718" rx="2.2" ry="1.9" class="a"/><ellipse cx="173.5" cy="718" rx="1" ry="0.8" class="a"/><ellipse cx="197.6" cy="696" rx="1.4" ry="1.1" class="a"/><ellipse cx="179.8" cy="705.2" rx="2.5" ry="2.1" class="a"/><ellipse cx="172.2" cy="707.5" rx="2.2" ry="1.8" class="a"/><ellipse cx="183.1" cy="701.5" rx="2.6" ry="2.2" class="b"/><ellipse cx="186.9" cy="711.2" rx="2.5" ry="2" class="a"/><ellipse cx="191.3" cy="717.6" rx="2.4" ry="2" class="a"/><ellipse cx="192.9" cy="708.7" rx="2.1" ry="1.8" class="b"/><ellipse cx="180.5" cy="702.9" rx="2.8" ry="2.3" class="a"/><ellipse cx="179.2" cy="694.1" rx="2" ry="1.6" class="a"/><ellipse cx="196.4" cy="700.3" rx="2.1" ry="1.8" class="a"/><ellipse cx="178.1" cy="707.3" rx="1.5" ry="1.3" class="a"/><ellipse cx="189" cy="696.6" rx="2" ry="1.7" class="b"/><ellipse cx="178.8" cy="697.5" rx="2" ry="1.7" class="b"/><ellipse cx="178.9" cy="715.4" rx="2.5" ry="2.2" class="b"/><ellipse cx="173.8" cy="710.3" rx="1.6" ry="1.3" class="a"/><ellipse cx="173.8" cy="710.3" rx="0.7" ry="0.6" class="a"/><ellipse cx="176.8" cy="712.7" rx="2.2" ry="1.9" class="b"/><ellipse cx="182.1" cy="707.5" rx="1.9" ry="1.6" class="a"/><ellipse cx="182.1" cy="707.5" rx="0.8" ry="0.7" class="a"/><ellipse cx="187.5" cy="713.9" rx="1.8" ry="1.5" class="a"/><ellipse cx="192.5" cy="708.4" rx="2.2" ry="1.8" class="a"/><ellipse cx="189" cy="715.4" rx="2.1" ry="1.8" class="a"/><ellipse cx="183.5" cy="707.6" rx="2.1" ry="1.8" class="b"/><ellipse cx="194.3" cy="709.5" rx="1.8" ry="1.5" class="a"/><ellipse cx="180.5" cy="708.1" rx="2.9" ry="2.4" class="a"/><ellipse cx="182.4" cy="714.9" rx="1.8" ry="1.5" class="a"/><ellipse cx="182.4" cy="714.9" rx="0.8" ry="0.7" class="a"/><ellipse cx="176.7" cy="701.8" rx="1.7" ry="1.4" class="a"/><ellipse cx="184.3" cy="700.8" rx="2.8" ry="2.4" class="b"/><ellipse cx="171.7" cy="707.7" rx="1.6" ry="1.3" class="a"/><ellipse cx="171.7" cy="707.7" rx="0.7" ry="0.6" class="a"/><ellipse cx="176.9" cy="701.6" rx="1.5" ry="1.3" class="b"/><ellipse cx="192.5" cy="704.9" rx="1.5" ry="1.2" class="a"/><ellipse cx="181.3" cy="705.5" rx="2.1" ry="1.8" class="b"/><ellipse cx="193" cy="710.8" rx="2.8" ry="2.3" class="a"/><ellipse cx="192.8" cy="699" rx="1.9" ry="1.6" class="b"/><ellipse cx="188.6" cy="708.4" rx="2.3" ry="2" class="b"/><ellipse cx="187.6" cy="710.4" rx="2.8" ry="2.3" class="a"/><ellipse cx="171.9" cy="706.5" rx="2.2" ry="1.9" class="b"/><ellipse cx="187.9" cy="718.6" rx="2.7" ry="2.2" class="a"/><ellipse cx="187.9" cy="718.6" rx="1.2" ry="1" class="a"/><ellipse cx="188.7" cy="703.4" rx="2.1" ry="1.7" class="a"/><ellipse cx="142.1" cy="713.3" rx="1.7" ry="1.4" class="a"/><ellipse cx="141.3" cy="711.8" rx="2.2" ry="1.9" class="b"/><ellipse cx="149.1" cy="711.7" rx="1.5" ry="1.3" class="a"/><ellipse cx="148.7" cy="711" rx="2.1" ry="1.7" class="a"/><ellipse cx="145.6" cy="715" rx="2.2" ry="1.8" class="a"/><ellipse cx="147.6" cy="709.7" rx="1.7" ry="1.4" class="a"/><ellipse cx="150.3" cy="716.1" rx="2.4" ry="2" class="a"/><ellipse cx="150.3" cy="716.1" rx="1.1" ry="0.9" class="a"/><ellipse cx="146.2" cy="711.4" rx="1.4" ry="1.2" class="a"/><ellipse cx="148" cy="712.7" rx="1.5" ry="1.2" class="a"/><ellipse cx="147.4" cy="711.8" rx="1.6" ry="1.3" class="a"/><ellipse cx="148.9" cy="715.1" rx="1.9" ry="1.6" class="a"/><ellipse cx="148.9" cy="715.1" rx="0.8" ry="0.7" class="a"/><ellipse cx="149.1" cy="709" rx="1.5" ry="1.3" class="a"/><ellipse cx="198.2" cy="586.9" rx="0.7" ry="0.6" class="b"/><ellipse cx="185.1" cy="614.7" rx="1.6" ry="1.3" class="a"/><ellipse cx="189" cy="614.7" rx="0.9" ry="0.8" class="b"/><ellipse cx="196.8" cy="618.3" rx="1" ry="0.9" class="b"/><ellipse cx="227.3" cy="611.9" rx="0.9" ry="0.8" class="b"/><ellipse cx="167.1" cy="632.2" rx="1.9" ry="1.7" class="b"/><ellipse cx="161.6" cy="630.8" rx="0.9" ry="0.8" class="b"/><ellipse cx="187.6" cy="636" rx="0.9" ry="0.8" class="b"/><ellipse cx="194" cy="639.6" rx="2.1" ry="1.8" class="a"/><ellipse cx="194" cy="639.6" rx="0.9" ry="0.8" class="a"/><ellipse cx="199" cy="641.6" rx="2.3" ry="2" class="b"/><ellipse cx="206.5" cy="641.6" rx="2.1" ry="1.8" class="a"/><ellipse cx="206.5" cy="641.6" rx="0.9" ry="0.8" class="a"/><ellipse cx="214" cy="641.6" rx="2.5" ry="2.1" class="a"/><ellipse cx="214" cy="641.6" rx="1.1" ry="0.9" class="a"/><ellipse cx="235.6" cy="641.6" rx="2.3" ry="2" class="b"/><ellipse cx="242" cy="641.6" rx="2.3" ry="2" class="b"/><ellipse cx="245.9" cy="631.6" rx="1.9" ry="1.7" class="b"/><ellipse cx="256.4" cy="631.6" rx="1.9" ry="1.7" class="b"/><ellipse cx="239.8" cy="660.4" rx="1.3" ry="1.1" class="b"/><ellipse cx="239.2" cy="672.9" rx="0.9" ry="0.8" class="a"/><ellipse cx="145.5" cy="648" rx="1.9" ry="1.6" class="a"/><ellipse cx="142.1" cy="656.3" rx="1" ry="0.9" class="b"/><ellipse cx="135.2" cy="660.4" rx="1" ry="0.9" class="b"/><ellipse cx="153.8" cy="659.6" rx="1" ry="0.9" class="b"/><ellipse cx="172.7" cy="654.9" rx="1.9" ry="1.7" class="b"/><ellipse cx="176.8" cy="661.3" rx="1.5" ry="1.2" class="a"/><ellipse cx="167.7" cy="663.2" rx="1" ry="0.9" class="b"/><ellipse cx="141.3" cy="666" rx="1.8" ry="1.5" class="a"/><ellipse cx="141.3" cy="666" rx="0.8" ry="0.7" class="a"/><ellipse cx="142.5" cy="669" rx="1.5" ry="1.2" class="a"/><ellipse cx="163" cy="671.5" rx="1.3" ry="1.1" class="b"/><ellipse cx="164.3" cy="675.7" rx="1.3" ry="1.1" class="a"/><ellipse cx="179.3" cy="672.9" rx="2" ry="1.6" class="a"/><ellipse cx="179.3" cy="672.9" rx="0.9" ry="0.7" class="a"/><ellipse cx="186.5" cy="672.9" rx="2.5" ry="2.1" class="a"/><ellipse cx="186.5" cy="672.9" rx="1.1" ry="0.9" class="a"/><ellipse cx="186.5" cy="667.4" rx="1" ry="0.9" class="b"/><ellipse cx="199" cy="661.8" rx="1.3" ry="1.1" class="b"/><ellipse cx="196.8" cy="666" rx="1" ry="0.9" class="b"/><ellipse cx="205.9" cy="667.4" rx="1.7" ry="1.4" class="a"/><ellipse cx="212" cy="667.4" rx="1.6" ry="1.3" class="a"/><ellipse cx="209.8" cy="673.8" rx="1.9" ry="1.6" class="a"/><ellipse cx="218.2" cy="674.3" rx="1.9" ry="1.6" class="a"/><ellipse cx="199" cy="678.5" rx="1.9" ry="1.7" class="b"/><ellipse cx="187.6" cy="681.2" rx="2.8" ry="2.4" class="a"/><ellipse cx="187.6" cy="681.2" rx="1.3" ry="1" class="a"/><ellipse cx="194.6" cy="684" rx="1.9" ry="1.7" class="b"/><ellipse cx="215.4" cy="682.1" rx="1" ry="0.9" class="b"/><ellipse cx="227.3" cy="686" rx="1.1" ry="1" class="b"/><ellipse cx="219" cy="686.8" rx="1.7" ry="1.4" class="a"/><ellipse cx="210.1" cy="691" rx="1.1" ry="1" class="b"/><ellipse cx="234.2" cy="689.6" rx="1" ry="0.9" class="b"/><ellipse cx="153.8" cy="682.6" rx="2" ry="1.6" class="a"/><ellipse cx="153.8" cy="682.6" rx="0.9" ry="0.7" class="a"/><ellipse cx="161.6" cy="686.8" rx="2.1" ry="1.8" class="a"/><ellipse cx="161.6" cy="686.8" rx="0.9" ry="0.8" class="a"/><ellipse cx="154.6" cy="688.2" rx="1.6" ry="1.3" class="a"/><ellipse cx="131.6" cy="695.1" rx="1.5" ry="1.2" class="a"/><ellipse cx="140.8" cy="695.1" rx="2.8" ry="2.4" class="a"/><ellipse cx="140.8" cy="695.1" rx="1.3" ry="1" class="a"/><ellipse cx="112.7" cy="691" rx="0.7" ry="0.6" class="b"/><ellipse cx="152.4" cy="693.7" rx="1.6" ry="1.3" class="a"/><ellipse cx="131.6" cy="711.8" rx="2.3" ry="1.9" class="a"/><ellipse cx="131.6" cy="711.8" rx="1" ry="0.8" class="a"/><ellipse cx="134" cy="711" rx="1.6" ry="1.3" class="a"/><ellipse cx="139.9" cy="709" rx="1.6" ry="1.3" class="a"/><ellipse cx="145.5" cy="715.9" rx="2.3" ry="1.9" class="a"/><ellipse cx="145.5" cy="715.9" rx="1" ry="0.8" class="a"/><ellipse cx="152.4" cy="715.9" rx="2.4" ry="2" class="a"/><ellipse cx="152.4" cy="715.9" rx="1.1" ry="0.9" class="a"/><ellipse cx="156.6" cy="717.3" rx="2.3" ry="1.9" class="a"/><ellipse cx="156.6" cy="717.3" rx="1" ry="0.8" class="a"/><ellipse cx="192.6" cy="693.7" rx="2.8" ry="2.4" class="a"/><ellipse cx="192.6" cy="693.7" rx="1.3" ry="1" class="a"/><ellipse cx="196.8" cy="702" rx="2.3" ry="1.9" class="a"/><ellipse cx="196.8" cy="702" rx="1" ry="0.8" class="a"/><ellipse cx="202.3" cy="700.7" rx="2.8" ry="2.4" class="a"/><ellipse cx="202.3" cy="700.7" rx="1.3" ry="1" class="a"/><ellipse cx="209.8" cy="700.7" rx="1.1" ry="1" class="b"/><ellipse cx="216.2" cy="696.5" rx="1.9" ry="1.6" class="a"/><ellipse cx="217.6" cy="699.3" rx="2.8" ry="2.4" class="a"/><ellipse cx="217.6" cy="699.3" rx="1.3" ry="1" class="a"/><ellipse cx="219.8" cy="702" rx="1.7" ry="1.4" class="a"/><ellipse cx="194" cy="710.4" rx="2.1" ry="1.8" class="a"/><ellipse cx="194" cy="710.4" rx="0.9" ry="0.8" class="a"/><ellipse cx="196.8" cy="720.1" rx="1.1" ry="1" class="b"/><ellipse cx="203.2" cy="711.8" rx="1.1" ry="1" class="b"/><ellipse cx="206" cy="724.2" rx="2.1" ry="1.8" class="a"/><ellipse cx="206" cy="724.2" rx="0.9" ry="0.8" class="a"/><ellipse cx="212" cy="722.9" rx="2" ry="1.7" class="a"/><ellipse cx="207.9" cy="717.3" rx="1.1" ry="1" class="b"/><ellipse cx="214.3" cy="713.1" rx="2.1" ry="1.8" class="a"/><ellipse cx="214.3" cy="713.1" rx="0.9" ry="0.8" class="a"/><ellipse cx="225.1" cy="699.3" rx="1" ry="0.9" class="b"/><ellipse cx="232.9" cy="703.4" rx="1" ry="0.9" class="b"/><ellipse cx="132.4" cy="724.8" rx="1.9" ry="1.6" class="a"/><ellipse cx="164.9" cy="735.3" rx="1.1" ry="1" class="b"/><ellipse cx="170.4" cy="731.2" rx="1.9" ry="1.6" class="a"/><ellipse cx="176" cy="731.2" rx="2.8" ry="2.4" class="a"/><ellipse cx="176" cy="731.2" rx="1.3" ry="1" class="a"/><ellipse cx="174.6" cy="724.2" rx="1.9" ry="1.6" class="a"/><ellipse cx="181.5" cy="724.2" rx="1.3" ry="1.1" class="b"/><ellipse cx="185.7" cy="724.2" rx="1.3" ry="1.1" class="b"/><ellipse cx="187.1" cy="716.5" rx="1.3" ry="1.1" class="b"/><ellipse cx="138.5" cy="741.4" rx="0.7" ry="0.6" class="b"/><ellipse cx="218.4" cy="740.3" rx="0.7" ry="0.6" class="b"/><ellipse cx="185.7" cy="743.7" rx="1.7" ry="1.4" class="a"/><ellipse cx="182.5" cy="743.7" rx="1.3" ry="1.1" class="a"/><ellipse cx="195.4" cy="743.7" rx="1.3" ry="1.1" class="b"/><ellipse cx="184.3" cy="750.6" rx="2.1" ry="1.8" class="a"/><ellipse cx="184.3" cy="750.6" rx="0.9" ry="0.8" class="a"/><ellipse cx="188.5" cy="750" rx="1.6" ry="1.3" class="a"/><ellipse cx="194" cy="747.8" rx="1.3" ry="1.1" class="b"/><ellipse cx="196.8" cy="752" rx="1.9" ry="1.7" class="b"/><ellipse cx="209.3" cy="752.5" rx="0.7" ry="0.6" class="b"/><ellipse cx="198.2" cy="763.1" rx="2.3" ry="2" class="b"/><ellipse cx="185.7" cy="768.6" rx="1.9" ry="1.7" class="b"/><ellipse cx="189.9" cy="768.1" rx="1.9" ry="1.7" class="b"/><ellipse cx="88.3" cy="776.7" rx="1.9" ry="1.7" class="b"/><ellipse cx="58.6" cy="713.7" rx="0.7" ry="0.6" class="b"/><ellipse cx="187.6" cy="789.6" rx="0.7" ry="0.6" class="b"/><ellipse cx="226.8" cy="611" rx="0.7" ry="0.6" class="b"/><ellipse cx="113.2" cy="690.4" rx="0.7" ry="0.6" class="b"/><ellipse cx="255.6" cy="630.8" rx="1.8" ry="1.6" class="b"/><ellipse cx="150" cy="640" rx="0.9" ry="0.8" class="b"/><ellipse cx="160" cy="698" rx="1.6" ry="1.3" class="a"/><ellipse cx="170" cy="690" rx="2" ry="1.6" class="a"/><ellipse cx="170" cy="690" rx="0.9" ry="0.7" class="a"/><ellipse cx="178" cy="684" rx="2" ry="1.6" class="a"/><ellipse cx="178" cy="684" rx="0.9" ry="0.7" class="a"/><ellipse cx="182" cy="690" rx="1.7" ry="1.4" class="a"/><ellipse cx="175" cy="698" rx="2.1" ry="1.8" class="a"/><ellipse cx="175" cy="698" rx="0.9" ry="0.8" class="a"/><ellipse cx="186" cy="700" rx="2" ry="1.6" class="a"/><ellipse cx="186" cy="700" rx="0.9" ry="0.7" class="a"/><ellipse cx="168" cy="716" rx="2" ry="1.6" class="a"/><ellipse cx="168" cy="716" rx="0.9" ry="0.7" class="a"/><ellipse cx="178" cy="718" rx="2.1" ry="1.8" class="a"/><ellipse cx="178" cy="718" rx="0.9" ry="0.8" class="a"/><ellipse cx="182" cy="707" rx="1.7" ry="1.4" class="a"/><ellipse cx="531.6" cy="651.5" rx="2.4" ry="1.3" class="d"/><ellipse cx="539.7" cy="652.3" rx="2.4" ry="1.3" class="c"/><ellipse cx="537.7" cy="651.6" rx="2.2" ry="1.1" class="d"/><ellipse cx="534.2" cy="643" rx="3.4" ry="1.8" class="d"/><ellipse cx="535.2" cy="652.7" rx="2.2" ry="1.2" class="d"/><ellipse cx="532" cy="648.4" rx="3.2" ry="1.7" class="d"/><ellipse cx="533.2" cy="654.1" rx="3.2" ry="1.8" class="c"/><ellipse cx="530.1" cy="649.6" rx="3" ry="1.6" class="d"/><ellipse cx="534.8" cy="657.1" rx="2.2" ry="1.2" class="d"/><ellipse cx="533.2" cy="655.7" rx="3.3" ry="1.7" class="d"/><ellipse cx="531.4" cy="654.4" rx="2" ry="1.1" class="d"/><ellipse cx="534.3" cy="649.9" rx="3" ry="1.7" class="c"/><ellipse cx="535" cy="645.8" rx="3.5" ry="1.8" class="d"/><ellipse cx="538.4" cy="648.7" rx="2.2" ry="1.1" class="d"/><ellipse cx="538.3" cy="652.3" rx="3.2" ry="1.7" class="d"/><ellipse cx="535.4" cy="651.1" rx="3.1" ry="1.6" class="d"/><ellipse cx="532" cy="650.8" rx="3.6" ry="2" class="c"/><ellipse cx="531.4" cy="647.6" rx="2.1" ry="1.1" class="d"/><ellipse cx="565.8" cy="647.1" rx="1.7" ry="1" class="c"/><ellipse cx="564.2" cy="653.3" rx="2.2" ry="1.2" class="d"/><ellipse cx="566.3" cy="647.2" rx="3" ry="1.6" class="d"/><ellipse cx="567.8" cy="649.1" rx="3.3" ry="1.8" class="c"/><ellipse cx="564.2" cy="646.8" rx="2.6" ry="1.4" class="d"/><ellipse cx="565.6" cy="653.3" rx="3.2" ry="1.7" class="d"/><ellipse cx="568.4" cy="650.7" rx="3.4" ry="1.8" class="d"/><ellipse cx="561.4" cy="649.4" rx="2.4" ry="1.3" class="c"/><ellipse cx="569.3" cy="655.6" rx="3" ry="1.6" class="d"/><ellipse cx="566.6" cy="647.6" rx="3.2" ry="1.7" class="d"/><ellipse cx="565.7" cy="647.6" rx="2.7" ry="1.4" class="d"/><ellipse cx="567.6" cy="645" rx="1.7" ry="0.9" class="d"/><ellipse cx="563.6" cy="655.5" rx="2.2" ry="1.2" class="d"/><ellipse cx="568.1" cy="648.4" rx="3.4" ry="1.8" class="d"/><ellipse cx="515" cy="701.5" rx="2.5" ry="1.3" class="d"/><ellipse cx="516.4" cy="699.6" rx="2.2" ry="1.2" class="c"/><ellipse cx="517.4" cy="705.5" rx="3.2" ry="1.8" class="c"/><ellipse cx="501.2" cy="706.7" rx="2.4" ry="1.3" class="c"/><ellipse cx="492.1" cy="695" rx="3.2" ry="1.8" class="c"/><ellipse cx="489.6" cy="705.8" rx="3.2" ry="1.7" class="d"/><ellipse cx="504.5" cy="700.8" rx="2" ry="1.1" class="d"/><ellipse cx="518" cy="701.2" rx="3.6" ry="1.9" class="d"/><ellipse cx="515.2" cy="704" rx="3.3" ry="1.7" class="d"/><ellipse cx="484.1" cy="704.2" rx="2.1" ry="1.1" class="d"/><ellipse cx="493.8" cy="700.5" rx="3.1" ry="1.6" class="d"/><ellipse cx="496" cy="692.5" rx="3.4" ry="1.9" class="c"/><ellipse cx="508" cy="717.5" rx="2.3" ry="1.2" class="d"/><ellipse cx="495.1" cy="712.2" rx="3.6" ry="1.9" class="d"/><ellipse cx="521" cy="697.6" rx="3.1" ry="1.6" class="d"/><ellipse cx="493.1" cy="704.8" rx="3.9" ry="2.1" class="d"/><ellipse cx="519.8" cy="710.9" rx="2.3" ry="1.2" class="d"/><ellipse cx="508.4" cy="714.9" rx="3.9" ry="2" class="d"/><ellipse cx="501.8" cy="690.6" rx="1.9" ry="1" class="d"/><ellipse cx="503.7" cy="711.8" rx="2" ry="1.1" class="c"/><ellipse cx="506.4" cy="689.6" rx="3.9" ry="2" class="d"/><ellipse cx="503.3" cy="690.9" rx="2.9" ry="1.5" class="d"/><ellipse cx="500.9" cy="710.6" rx="3.8" ry="2.1" class="c"/><ellipse cx="499.7" cy="715.5" rx="2.8" ry="1.4" class="d"/><ellipse cx="511.1" cy="699.9" rx="2.1" ry="1.1" class="d"/><ellipse cx="486.3" cy="708.6" rx="2.3" ry="1.3" class="c"/><ellipse cx="522.2" cy="699.8" rx="3.7" ry="1.9" class="d"/><ellipse cx="519.5" cy="698.8" rx="3.2" ry="1.7" class="d"/><ellipse cx="508.3" cy="727" rx="3.3" ry="1.8" class="c"/><ellipse cx="512.1" cy="701.6" rx="2.4" ry="1.2" class="d"/><ellipse cx="495.2" cy="696" rx="4" ry="2.1" class="d"/><ellipse cx="478" cy="701.4" rx="3.4" ry="1.9" class="c"/><ellipse cx="529.5" cy="694.6" rx="2.1" ry="1.1" class="d"/><ellipse cx="533.5" cy="707.3" rx="2.3" ry="1.3" class="c"/><ellipse cx="501.8" cy="715.7" rx="3.2" ry="1.7" class="d"/><ellipse cx="491.2" cy="705.2" rx="3.1" ry="1.6" class="d"/><ellipse cx="508.4" cy="708.6" rx="3.7" ry="2.1" class="c"/><ellipse cx="520.8" cy="700.4" rx="3.5" ry="1.8" class="d"/><ellipse cx="507.4" cy="713.7" rx="3.8" ry="2.1" class="c"/><ellipse cx="513.1" cy="691.7" rx="3.4" ry="1.8" class="d"/><ellipse cx="516.8" cy="711" rx="2.8" ry="1.6" class="c"/><ellipse cx="500.1" cy="720.2" rx="3.3" ry="1.7" class="d"/><ellipse cx="508.1" cy="702" rx="3.5" ry="1.8" class="d"/><ellipse cx="493.4" cy="691" rx="3.5" ry="1.9" class="c"/><ellipse cx="513.6" cy="705.6" rx="2.2" ry="1.2" class="c"/><ellipse cx="498.8" cy="694.4" rx="3.7" ry="1.9" class="d"/><ellipse cx="502" cy="714.2" rx="2.7" ry="1.4" class="d"/><ellipse cx="512.3" cy="713.9" rx="3.1" ry="1.6" class="d"/><ellipse cx="499.1" cy="704.3" rx="2.3" ry="1.2" class="d"/><ellipse cx="519.6" cy="711.6" rx="3.3" ry="1.7" class="d"/><ellipse cx="502" cy="722.2" rx="2.7" ry="1.4" class="d"/><ellipse cx="533" cy="706.8" rx="2.8" ry="1.5" class="d"/><ellipse cx="517.4" cy="713.1" rx="3.1" ry="1.6" class="d"/><ellipse cx="514.4" cy="719.7" rx="3.1" ry="1.6" class="d"/><ellipse cx="508.7" cy="719.1" rx="3.2" ry="1.7" class="d"/><ellipse cx="501.5" cy="720.9" rx="2.2" ry="1.2" class="d"/><ellipse cx="500.9" cy="701.9" rx="3.3" ry="1.7" class="d"/><ellipse cx="517.6" cy="699.2" rx="3.8" ry="2.1" class="c"/><ellipse cx="518.2" cy="715.7" rx="3.3" ry="1.9" class="c"/><ellipse cx="509.5" cy="703.1" rx="3.8" ry="2" class="d"/><ellipse cx="513.6" cy="713.6" rx="2.7" ry="1.4" class="d"/><ellipse cx="513.9" cy="706.4" rx="2.8" ry="1.5" class="d"/><ellipse cx="505.8" cy="708.9" rx="3" ry="1.6" class="c"/><ellipse cx="514.7" cy="699.8" rx="4" ry="2.1" class="d"/><ellipse cx="507.5" cy="715.1" rx="3" ry="1.6" class="d"/><ellipse cx="511.7" cy="717.8" rx="2.2" ry="1.1" class="d"/><ellipse cx="521.8" cy="713.3" rx="2.8" ry="1.4" class="d"/><ellipse cx="498.3" cy="701.9" rx="3.3" ry="1.8" class="d"/><ellipse cx="503.9" cy="709.6" rx="2.8" ry="1.5" class="d"/><ellipse cx="506.8" cy="701.2" rx="3.1" ry="1.6" class="d"/><ellipse cx="517.3" cy="706.7" rx="3.3" ry="1.7" class="d"/><ellipse cx="508.3" cy="713" rx="2.7" ry="1.4" class="d"/><ellipse cx="504.3" cy="703.4" rx="3.9" ry="2.2" class="c"/><ellipse cx="505" cy="719" rx="2.4" ry="1.3" class="d"/><ellipse cx="518.2" cy="698.3" rx="2.4" ry="1.3" class="d"/><ellipse cx="499.1" cy="708.7" rx="2.8" ry="1.5" class="d"/><ellipse cx="517.3" cy="705.6" rx="3.6" ry="1.9" class="d"/><ellipse cx="514.4" cy="703.7" rx="2.8" ry="1.5" class="d"/><ellipse cx="516.3" cy="702.9" rx="3.6" ry="1.9" class="d"/><ellipse cx="509.8" cy="703.7" rx="2.3" ry="1.3" class="c"/><ellipse cx="479.9" cy="710.7" rx="2.9" ry="1.6" class="c"/><ellipse cx="474.2" cy="713.2" rx="2.7" ry="1.5" class="c"/><ellipse cx="478.1" cy="708.5" rx="2.8" ry="1.5" class="d"/><ellipse cx="480" cy="709.9" rx="2.9" ry="1.5" class="d"/><ellipse cx="472.4" cy="710.8" rx="2.9" ry="1.5" class="d"/><ellipse cx="474.1" cy="708" rx="3" ry="1.6" class="d"/><ellipse cx="471.9" cy="712.5" rx="2.1" ry="1.1" class="d"/><ellipse cx="469.6" cy="711.7" rx="3.1" ry="1.6" class="d"/><ellipse cx="525.4" cy="587.1" rx="1.5" ry="0.8" class="d"/><ellipse cx="518.4" cy="613.6" rx="1.7" ry="0.9" class="d"/><ellipse cx="526" cy="616.7" rx="1.9" ry="1" class="c"/><ellipse cx="556.5" cy="610.7" rx="1.7" ry="0.9" class="d"/><ellipse cx="494.5" cy="632.6" rx="3.2" ry="1.7" class="d"/><ellipse cx="490.2" cy="628.9" rx="1.7" ry="0.9" class="d"/><ellipse cx="513.9" cy="634.5" rx="1.7" ry="0.9" class="c"/><ellipse cx="520.5" cy="639.2" rx="3.2" ry="1.7" class="d"/><ellipse cx="527.6" cy="642" rx="3.8" ry="2.1" class="c"/><ellipse cx="535.4" cy="639.9" rx="3.2" ry="1.7" class="d"/><ellipse cx="543.9" cy="640.6" rx="3.8" ry="2" class="d"/><ellipse cx="564.2" cy="640.2" rx="3.8" ry="2" class="d"/><ellipse cx="570.8" cy="639.7" rx="3.8" ry="2.1" class="c"/><ellipse cx="576.5" cy="632.5" rx="3.2" ry="1.7" class="d"/><ellipse cx="586.6" cy="631" rx="3.2" ry="1.8" class="c"/><ellipse cx="567.5" cy="658.7" rx="2.3" ry="1.2" class="d"/><ellipse cx="569.6" cy="672.6" rx="1.7" ry="0.9" class="c"/><ellipse cx="473" cy="646.7" rx="3" ry="1.6" class="d"/><ellipse cx="467.5" cy="655.6" rx="1.9" ry="1" class="d"/><ellipse cx="461.4" cy="661.6" rx="1.9" ry="1" class="c"/><ellipse cx="482.2" cy="660.8" rx="1.9" ry="1" class="c"/><ellipse cx="500.1" cy="654.7" rx="3.2" ry="1.7" class="d"/><ellipse cx="503.5" cy="662.3" rx="2.5" ry="1.3" class="d"/><ellipse cx="494.7" cy="661.3" rx="1.9" ry="1" class="d"/><ellipse cx="468.5" cy="664.8" rx="2.9" ry="1.6" class="c"/><ellipse cx="468.5" cy="669.7" rx="2.5" ry="1.3" class="d"/><ellipse cx="492.1" cy="669.3" rx="2.3" ry="1.2" class="d"/><ellipse cx="490.7" cy="675.3" rx="2.3" ry="1.2" class="c"/><ellipse cx="508" cy="671.4" rx="3" ry="1.7" class="c"/><ellipse cx="513.3" cy="673.5" rx="3.8" ry="2" class="d"/><ellipse cx="528.1" cy="661.3" rx="2.3" ry="1.2" class="d"/><ellipse cx="523.9" cy="665.1" rx="1.9" ry="1" class="d"/><ellipse cx="534.2" cy="666.4" rx="2.9" ry="1.6" class="c"/><ellipse cx="541.5" cy="668.1" rx="2.7" ry="1.4" class="d"/><ellipse cx="536.9" cy="674" rx="3" ry="1.6" class="d"/><ellipse cx="548.4" cy="673.9" rx="3" ry="1.6" class="d"/><ellipse cx="525.8" cy="677.7" rx="3.2" ry="1.7" class="d"/><ellipse cx="516.1" cy="679.6" rx="4.2" ry="2.2" class="d"/><ellipse cx="522.4" cy="682.5" rx="3.2" ry="1.7" class="d"/><ellipse cx="543.7" cy="680.5" rx="1.9" ry="1" class="d"/><ellipse cx="555.5" cy="684.8" rx="2.1" ry="1.1" class="d"/><ellipse cx="546" cy="687" rx="2.9" ry="1.5" class="d"/><ellipse cx="537.5" cy="691.8" rx="2.1" ry="1.1" class="d"/><ellipse cx="562.4" cy="690.2" rx="1.9" ry="1" class="c"/><ellipse cx="479.6" cy="683" rx="3" ry="1.6" class="d"/><ellipse cx="488.6" cy="685.9" rx="3.2" ry="1.7" class="d"/><ellipse cx="480.7" cy="687.7" rx="2.7" ry="1.5" class="c"/><ellipse cx="459.3" cy="696.2" rx="2.5" ry="1.3" class="d"/><ellipse cx="469" cy="693.3" rx="4.2" ry="2.3" class="c"/><ellipse cx="439.7" cy="690.7" rx="1.5" ry="0.8" class="c"/><ellipse cx="480.4" cy="694.5" rx="2.7" ry="1.4" class="d"/><ellipse cx="457.7" cy="712.3" rx="3.4" ry="1.9" class="c"/><ellipse cx="467" cy="710.3" rx="2.7" ry="1.5" class="c"/><ellipse cx="479.4" cy="716.6" rx="3.6" ry="2" class="c"/><ellipse cx="485.6" cy="718" rx="3.4" ry="1.9" class="c"/><ellipse cx="519.9" cy="694.1" rx="4.2" ry="2.2" class="d"/><ellipse cx="523.9" cy="699.9" rx="3.4" ry="1.8" class="d"/><ellipse cx="530.3" cy="698.7" rx="4.2" ry="2.2" class="d"/><ellipse cx="537.5" cy="698.9" rx="2.1" ry="1.1" class="d"/><ellipse cx="546.2" cy="695.3" rx="3" ry="1.7" class="c"/><ellipse cx="545.9" cy="699.9" rx="4.2" ry="2.2" class="d"/><ellipse cx="549.9" cy="700.4" rx="2.9" ry="1.6" class="c"/><ellipse cx="521.4" cy="709.5" rx="3.2" ry="1.7" class="d"/><ellipse cx="524.9" cy="719.8" rx="2.1" ry="1.1" class="d"/><ellipse cx="532.3" cy="710.7" rx="2.1" ry="1.1" class="d"/><ellipse cx="535.9" cy="723.4" rx="3.2" ry="1.7" class="d"/><ellipse cx="540" cy="721.9" rx="3.2" ry="1.7" class="d"/><ellipse cx="537.6" cy="716.3" rx="2.1" ry="1.1" class="d"/><ellipse cx="543.3" cy="714.5" rx="3.2" ry="1.8" class="c"/><ellipse cx="553.8" cy="699.4" rx="1.9" ry="1" class="d"/><ellipse cx="561.5" cy="704.3" rx="1.9" ry="1" class="c"/><ellipse cx="460.2" cy="725.8" rx="3" ry="1.6" class="d"/><ellipse cx="491.4" cy="733.5" rx="2.1" ry="1.1" class="d"/><ellipse cx="497.2" cy="731.2" rx="3" ry="1.6" class="d"/><ellipse cx="503.4" cy="732.4" rx="4.2" ry="2.2" class="d"/><ellipse cx="502.3" cy="722.6" rx="3" ry="1.6" class="d"/><ellipse cx="508.9" cy="724" rx="2.3" ry="1.2" class="d"/><ellipse cx="513.5" cy="724.2" rx="2.3" ry="1.2" class="d"/><ellipse cx="515.7" cy="715.8" rx="2.3" ry="1.2" class="c"/><ellipse cx="465.7" cy="740.3" rx="1.5" ry="0.8" class="d"/><ellipse cx="547.6" cy="740.1" rx="1.5" ry="0.8" class="c"/><ellipse cx="515.5" cy="743.1" rx="2.9" ry="1.5" class="d"/><ellipse cx="508.8" cy="742.1" rx="2.3" ry="1.2" class="d"/><ellipse cx="524.7" cy="742" rx="2.3" ry="1.2" class="d"/><ellipse cx="513" cy="751.7" rx="3.2" ry="1.8" class="c"/><ellipse cx="514.9" cy="749.6" rx="2.7" ry="1.4" class="d"/><ellipse cx="523" cy="748.2" rx="2.3" ry="1.2" class="d"/><ellipse cx="523.5" cy="752.4" rx="3.2" ry="1.8" class="c"/><ellipse cx="536.5" cy="750.8" rx="1.5" ry="0.8" class="c"/><ellipse cx="526.8" cy="764" rx="3.8" ry="2" class="d"/><ellipse cx="513.2" cy="768.7" rx="3.2" ry="1.7" class="d"/><ellipse cx="519.5" cy="767.7" rx="3.2" ry="1.8" class="c"/><ellipse cx="416" cy="776.8" rx="3.2" ry="1.7" class="d"/><ellipse cx="516.3" cy="790.2" rx="1.5" ry="0.8" class="c"/><ellipse cx="556.4" cy="611.2" rx="1.5" ry="0.8" class="d"/><ellipse cx="441.3" cy="690.2" rx="1.5" ry="0.8" class="c"/><ellipse cx="584.8" cy="630.4" rx="3" ry="1.6" class="d"/><ellipse cx="477.3" cy="639.9" rx="1.7" ry="0.9" class="d"/><ellipse cx="487.8" cy="697.2" rx="2.7" ry="1.4" class="d"/><ellipse cx="497.2" cy="690.4" rx="3" ry="1.6" class="d"/><ellipse cx="504.9" cy="683.3" rx="3" ry="1.6" class="d"/><ellipse cx="510.8" cy="688.7" rx="2.9" ry="1.5" class="d"/><ellipse cx="502.6" cy="696.4" rx="3.2" ry="1.7" class="d"/><ellipse cx="514.6" cy="700.7" rx="3" ry="1.6" class="d"/><ellipse cx="494.4" cy="715.8" rx="3" ry="1.6" class="d"/><ellipse cx="506.1" cy="716.4" rx="3.2" ry="1.8" class="c"/><ellipse cx="509.1" cy="707.5" rx="2.9" ry="1.5" class="d"/><ellipse cx="525.4" cy="587.9" rx="2.1" ry="1.1" class="d"/><ellipse cx="518.5" cy="601.8" rx="2.1" ry="1.1" class="d"/><ellipse cx="524" cy="607.9" rx="2.1" ry="1.1" class="d"/><ellipse cx="511.5" cy="615" rx="2.2" ry="1.2" class="d"/><ellipse cx="524" cy="617.9" rx="1.9" ry="1" class="d"/><ellipse cx="488.8" cy="630.4" rx="2.2" ry="1.2" class="d"/><ellipse cx="469.9" cy="655.9" rx="2.1" ry="1.1" class="d"/><ellipse cx="439.4" cy="690" rx="1.9" ry="1" class="d"/><ellipse cx="458.8" cy="694.7" rx="2.2" ry="1.2" class="d"/><ellipse cx="464.4" cy="741.3" rx="1.9" ry="1" class="d"/><ellipse cx="467.2" cy="754.4" rx="1.9" ry="1" class="d"/><ellipse cx="483.8" cy="764.1" rx="2.1" ry="1.1" class="d"/><ellipse cx="474.1" cy="773.8" rx="2.1" ry="1.1" class="d"/><ellipse cx="547" cy="739" rx="1.9" ry="1" class="d"/><ellipse cx="554.5" cy="740.5" rx="1.9" ry="1" class="d"/><ellipse cx="565.6" cy="739" rx="1.6" ry="0.8" class="d"/><ellipse cx="525.4" cy="762.7" rx="2.4" ry="1.3" class="d"/><ellipse cx="500" cy="641" rx="2.1" ry="1.1" class="d"/><ellipse cx="540" cy="656" rx="2.1" ry="1.1" class="d"/><ellipse cx="560" cy="691" rx="2.1" ry="1.1" class="d"/><ellipse cx="575" cy="701" rx="2.1" ry="1.1" class="d"/><ellipse cx="585" cy="681" rx="1.9" ry="1" class="d"/><ellipse cx="495" cy="701" rx="2.2" ry="1.2" class="d"/><ellipse cx="480" cy="721" rx="2.1" ry="1.1" class="d"/><ellipse cx="505" cy="736" rx="2.1" ry="1.1" class="d"/><ellipse cx="530" cy="726" rx="2.1" ry="1.1" class="d"/><ellipse cx="548" cy="713" rx="2.1" ry="1.1" class="d"/><ellipse cx="470" cy="706" rx="2.1" ry="1.1" class="d"/><ellipse cx="540" cy="691" rx="2.1" ry="1.1" class="d"/><ellipse cx="520" cy="651" rx="2.1" ry="1.1" class="d"/><ellipse cx="568" cy="651" rx="1.9" ry="1" class="d"/><ellipse cx="590" cy="656" rx="1.8" ry="0.9" class="d"/><ellipse cx="486" cy="681" rx="2.2" ry="1.2" class="d"/><ellipse cx="476" cy="669" rx="2.1" ry="1.1" class="d"/><ellipse cx="560" cy="721" rx="1.9" ry="1" class="d"/><ellipse cx="600" cy="691" rx="1.6" ry="0.8" class="d"/><ellipse cx="593" cy="646" rx="1.9" ry="1" class="d"/><ellipse cx="533.8" cy="655.6" rx="1.8" ry="1.5" class="b"/><ellipse cx="532.4" cy="649.6" rx="1.3" ry="1.1" class="b"/><ellipse cx="533.3" cy="653.5" rx="2.7" ry="2.3" class="b"/><ellipse cx="528.4" cy="649.3" rx="1.9" ry="1.6" class="a"/><ellipse cx="533.7" cy="652.9" rx="2.6" ry="2.2" class="b"/><ellipse cx="533.1" cy="644.7" rx="1.4" ry="1.1" class="a"/><ellipse cx="533.1" cy="651.6" rx="2.5" ry="2.1" class="b"/><ellipse cx="528" cy="655.2" rx="1.9" ry="1.6" class="b"/><ellipse cx="535.6" cy="650.1" rx="1.8" ry="1.5" class="a"/><ellipse cx="535.3" cy="652.7" rx="2.6" ry="2.3" class="b"/><ellipse cx="534.9" cy="642.9" rx="1.8" ry="1.6" class="b"/><ellipse cx="528.9" cy="648.4" rx="1.9" ry="1.6" class="a"/><ellipse cx="538.5" cy="647.2" rx="2.8" ry="2.3" class="a"/><ellipse cx="538.5" cy="647.2" rx="1.3" ry="1" class="a"/><ellipse cx="539.5" cy="650.3" rx="1.6" ry="1.3" class="a"/><ellipse cx="539.5" cy="650.3" rx="0.7" ry="0.6" class="a"/><ellipse cx="527.6" cy="648" rx="1.7" ry="1.4" class="a"/><ellipse cx="527.6" cy="648" rx="0.7" ry="0.6" class="a"/><ellipse cx="533.1" cy="652" rx="2.5" ry="2.1" class="b"/><ellipse cx="539.7" cy="654.4" rx="1.9" ry="1.6" class="a"/><ellipse cx="537.7" cy="651.2" rx="1.9" ry="1.6" class="a"/><ellipse cx="538.9" cy="652.1" rx="1.4" ry="1.2" class="a"/><ellipse cx="538.9" cy="652.1" rx="0.6" ry="0.5" class="a"/><ellipse cx="532.9" cy="653.5" rx="1.4" ry="1.1" class="a"/><ellipse cx="568.6" cy="651.7" rx="1.3" ry="1.1" class="a"/><ellipse cx="567.7" cy="649.1" rx="1.7" ry="1.4" class="a"/><ellipse cx="567.9" cy="649.2" rx="1.8" ry="1.5" class="a"/><ellipse cx="567.6" cy="647.7" rx="1.8" ry="1.6" class="b"/><ellipse cx="563.5" cy="646.2" rx="2.1" ry="1.8" class="a"/><ellipse cx="563.5" cy="646.2" rx="1" ry="0.8" class="a"/><ellipse cx="561.9" cy="651.8" rx="1.7" ry="1.4" class="a"/><ellipse cx="561.9" cy="651.8" rx="0.8" ry="0.6" class="a"/><ellipse cx="563.8" cy="650.6" rx="1.8" ry="1.5" class="a"/><ellipse cx="563.8" cy="650.6" rx="0.8" ry="0.6" class="a"/><ellipse cx="568.2" cy="649.9" rx="2.1" ry="1.7" class="a"/><ellipse cx="563.1" cy="652.7" rx="1.5" ry="1.3" class="a"/><ellipse cx="563.1" cy="652.7" rx="0.7" ry="0.6" class="a"/><ellipse cx="561.8" cy="650.7" rx="1.9" ry="1.5" class="a"/><ellipse cx="561.8" cy="650.7" rx="0.8" ry="0.7" class="a"/><ellipse cx="565.5" cy="648.9" rx="1.4" ry="1.1" class="a"/><ellipse cx="567.5" cy="649.1" rx="2" ry="1.7" class="a"/><ellipse cx="567.5" cy="649.1" rx="0.9" ry="0.7" class="a"/><ellipse cx="566.3" cy="651.5" rx="2.4" ry="2" class="a"/><ellipse cx="566.3" cy="651.5" rx="1.1" ry="0.9" class="a"/><ellipse cx="564.8" cy="652.6" rx="2.3" ry="1.9" class="a"/><ellipse cx="569.4" cy="648.7" rx="1.5" ry="1.2" class="a"/><ellipse cx="564.4" cy="647.5" rx="1.7" ry="1.4" class="b"/><ellipse cx="503.8" cy="700.6" rx="2.5" ry="2.1" class="a"/><ellipse cx="503.8" cy="700.6" rx="1.1" ry="0.9" class="a"/><ellipse cx="503" cy="697.6" rx="2.8" ry="2.3" class="a"/><ellipse cx="530" cy="713.3" rx="1.7" ry="1.5" class="b"/><ellipse cx="504.4" cy="723.8" rx="1.5" ry="1.2" class="a"/><ellipse cx="496.3" cy="723.8" rx="2.5" ry="2.1" class="a"/><ellipse cx="496.3" cy="723.8" rx="1.1" ry="0.9" class="a"/><ellipse cx="492.5" cy="722" rx="1.7" ry="1.4" class="a"/><ellipse cx="492.5" cy="722" rx="0.7" ry="0.6" class="a"/><ellipse cx="494.4" cy="698.5" rx="2.4" ry="2" class="a"/><ellipse cx="494.4" cy="698.5" rx="1.1" ry="0.9" class="a"/><ellipse cx="486.7" cy="708" rx="1.8" ry="1.6" class="b"/><ellipse cx="523.3" cy="707.1" rx="1.7" ry="1.5" class="b"/><ellipse cx="524.2" cy="703.6" rx="3" ry="2.5" class="a"/><ellipse cx="524.5" cy="707" rx="2.8" ry="2.3" class="a"/><ellipse cx="524.5" cy="707" rx="1.3" ry="1" class="a"/><ellipse cx="527.4" cy="688" rx="3" ry="2.5" class="a"/><ellipse cx="509.6" cy="701.5" rx="2.9" ry="2.4" class="a"/><ellipse cx="505.7" cy="703.8" rx="2.7" ry="2.2" class="a"/><ellipse cx="496.6" cy="704.4" rx="1.4" ry="1.2" class="b"/><ellipse cx="513.9" cy="708.3" rx="2.9" ry="2.5" class="b"/><ellipse cx="510" cy="701" rx="1.8" ry="1.5" class="a"/><ellipse cx="480.4" cy="700.2" rx="1.8" ry="1.5" class="a"/><ellipse cx="480.4" cy="700.2" rx="0.8" ry="0.7" class="a"/><ellipse cx="532.4" cy="695.2" rx="2.8" ry="2.3" class="a"/><ellipse cx="488.1" cy="705.7" rx="2.2" ry="1.8" class="a"/><ellipse cx="488.1" cy="705.7" rx="1" ry="0.8" class="a"/><ellipse cx="508.2" cy="719.9" rx="2.3" ry="1.9" class="a"/><ellipse cx="481.8" cy="707.8" rx="1.5" ry="1.2" class="a"/><ellipse cx="508.7" cy="701.3" rx="1.5" ry="1.3" class="b"/><ellipse cx="537.6" cy="701.2" rx="1.5" ry="1.3" class="b"/><ellipse cx="502.6" cy="713.3" rx="1.9" ry="1.7" class="b"/><ellipse cx="495.5" cy="699.2" rx="1.8" ry="1.5" class="a"/><ellipse cx="495.5" cy="699.2" rx="0.8" ry="0.7" class="a"/><ellipse cx="500.7" cy="707.1" rx="1.4" ry="1.2" class="b"/><ellipse cx="513.5" cy="690.9" rx="1.5" ry="1.2" class="b"/><ellipse cx="486.7" cy="692.9" rx="2.1" ry="1.7" class="a"/><ellipse cx="496.3" cy="696.4" rx="2" ry="1.7" class="b"/><ellipse cx="508.8" cy="695.1" rx="2.9" ry="2.5" class="b"/><ellipse cx="496.8" cy="706.6" rx="2.3" ry="1.9" class="a"/><ellipse cx="511.5" cy="697.2" rx="1.7" ry="1.4" class="a"/><ellipse cx="521.6" cy="700.5" rx="3.1" ry="2.5" class="a"/><ellipse cx="521.6" cy="700.5" rx="1.4" ry="1.1" class="a"/><ellipse cx="524.9" cy="716.2" rx="2.9" ry="2.5" class="b"/><ellipse cx="495.6" cy="689.1" rx="2.4" ry="2" class="a"/><ellipse cx="517.1" cy="688.4" rx="2.2" ry="1.8" class="a"/><ellipse cx="508.6" cy="701.3" rx="1.6" ry="1.3" class="a"/><ellipse cx="499.9" cy="695.6" rx="2.9" ry="2.4" class="a"/><ellipse cx="499.9" cy="695.6" rx="1.3" ry="1.1" class="a"/><ellipse cx="512.2" cy="699.9" rx="2.7" ry="2.3" class="b"/><ellipse cx="483.8" cy="695.2" rx="1.5" ry="1.2" class="a"/><ellipse cx="527.9" cy="716" rx="3" ry="2.5" class="a"/><ellipse cx="510.5" cy="708.6" rx="3.1" ry="2.5" class="a"/><ellipse cx="485.1" cy="709.4" rx="3.1" ry="2.6" class="a"/><ellipse cx="485.1" cy="709.4" rx="1.4" ry="1.1" class="a"/><ellipse cx="497.6" cy="712.8" rx="1.9" ry="1.7" class="b"/><ellipse cx="522.4" cy="702.4" rx="1.8" ry="1.5" class="b"/><ellipse cx="490.8" cy="711.8" rx="2.3" ry="2" class="b"/><ellipse cx="516.5" cy="713.9" rx="2.9" ry="2.4" class="a"/><ellipse cx="528.9" cy="714.9" rx="2.8" ry="2.4" class="b"/><ellipse cx="482" cy="693.4" rx="1.7" ry="1.4" class="a"/><ellipse cx="519.1" cy="715.1" rx="3.1" ry="2.6" class="a"/><ellipse cx="519.1" cy="715.1" rx="1.4" ry="1.1" class="a"/><ellipse cx="493.7" cy="685.6" rx="2.5" ry="2.1" class="a"/><ellipse cx="493.7" cy="685.6" rx="1.1" ry="0.9" class="a"/><ellipse cx="518" cy="698.6" rx="1.8" ry="1.6" class="b"/><ellipse cx="514" cy="718.2" rx="1.8" ry="1.5" class="b"/><ellipse cx="509.2" cy="698.5" rx="2.9" ry="2.5" class="b"/><ellipse cx="504.8" cy="697.5" rx="2.4" ry="2" class="a"/><ellipse cx="483.6" cy="706.7" rx="2.7" ry="2.4" class="b"/><ellipse cx="525.1" cy="694.5" rx="2.7" ry="2.2" class="a"/><ellipse cx="536.9" cy="699.1" rx="1.8" ry="1.5" class="a"/><ellipse cx="509.3" cy="698.7" rx="2.5" ry="2" class="a"/><ellipse cx="517.4" cy="699.6" rx="3" ry="2.5" class="a"/><ellipse cx="517.4" cy="699.6" rx="1.4" ry="1.1" class="a"/><ellipse cx="510.6" cy="709" rx="2.8" ry="2.3" class="a"/><ellipse cx="532.2" cy="716.1" rx="2" ry="1.7" class="a"/><ellipse cx="532.2" cy="716.1" rx="0.9" ry="0.7" class="a"/><ellipse cx="484.1" cy="709.9" rx="2" ry="1.6" class="a"/><ellipse cx="505.5" cy="713" rx="2.4" ry="2" class="a"/><ellipse cx="501.7" cy="695.2" rx="2.4" ry="2" class="a"/><ellipse cx="506" cy="704.5" rx="2" ry="1.7" class="b"/><ellipse cx="513.1" cy="703.6" rx="3.3" ry="2.7" class="a"/><ellipse cx="513.1" cy="703.6" rx="1.5" ry="1.2" class="a"/><ellipse cx="506.6" cy="698.7" rx="2.4" ry="2" class="a"/><ellipse cx="506.6" cy="698.7" rx="1.1" ry="0.9" class="a"/><ellipse cx="504.4" cy="714.4" rx="2.4" ry="2" class="b"/><ellipse cx="507.1" cy="705.4" rx="2.1" ry="1.7" class="a"/><ellipse cx="501.9" cy="695.3" rx="1.9" ry="1.6" class="a"/><ellipse cx="501.9" cy="695.3" rx="0.9" ry="0.7" class="a"/><ellipse cx="519.1" cy="698.2" rx="1.8" ry="1.5" class="a"/><ellipse cx="520.3" cy="700.1" rx="2.5" ry="2.2" class="b"/><ellipse cx="498.9" cy="701.7" rx="2.5" ry="2" class="a"/><ellipse cx="498.9" cy="701.7" rx="1.1" ry="0.9" class="a"/><ellipse cx="512.5" cy="693.3" rx="1.8" ry="1.5" class="a"/><ellipse cx="510.3" cy="695.6" rx="2.9" ry="2.4" class="a"/><ellipse cx="510.3" cy="695.6" rx="1.3" ry="1.1" class="a"/><ellipse cx="515.2" cy="709.3" rx="1.7" ry="1.4" class="a"/><ellipse cx="519.3" cy="708.1" rx="2.1" ry="1.7" class="a"/><ellipse cx="519.3" cy="708.1" rx="0.9" ry="0.8" class="a"/><ellipse cx="495.9" cy="710.2" rx="1.6" ry="1.4" class="b"/><ellipse cx="512.2" cy="702.4" rx="2" ry="1.7" class="a"/><ellipse cx="505.6" cy="696.2" rx="3.1" ry="2.5" class="a"/><ellipse cx="512.1" cy="710.3" rx="2.2" ry="1.9" class="b"/><ellipse cx="515.4" cy="693.4" rx="2.6" ry="2.1" class="a"/><ellipse cx="519.2" cy="694.5" rx="2.5" ry="2.1" class="a"/><ellipse cx="505" cy="703.4" rx="2.1" ry="1.7" class="a"/><ellipse cx="505" cy="703.4" rx="0.9" ry="0.8" class="a"/><ellipse cx="524.4" cy="708.3" rx="2.9" ry="2.5" class="b"/><ellipse cx="506.5" cy="714.3" rx="2.6" ry="2.1" class="a"/><ellipse cx="506.5" cy="714.3" rx="1.2" ry="0.9" class="a"/><ellipse cx="519.6" cy="698.4" rx="1.6" ry="1.4" class="a"/><ellipse cx="509.9" cy="705.1" rx="2.9" ry="2.4" class="a"/><ellipse cx="500" cy="706.1" rx="2.4" ry="1.9" class="a"/><ellipse cx="511.1" cy="700.2" rx="2.8" ry="2.4" class="b"/><ellipse cx="477.8" cy="711.9" rx="2.2" ry="1.8" class="a"/><ellipse cx="480" cy="713.9" rx="2.2" ry="1.8" class="a"/><ellipse cx="480.9" cy="711.1" rx="2" ry="1.7" class="b"/><ellipse cx="474.5" cy="709.3" rx="2.5" ry="2" class="a"/><ellipse cx="473.8" cy="706.6" rx="1.9" ry="1.5" class="a"/><ellipse cx="482.7" cy="708.5" rx="2" ry="1.6" class="a"/><ellipse cx="473.3" cy="710.7" rx="1.5" ry="1.2" class="a"/><ellipse cx="478.9" cy="707.4" rx="1.8" ry="1.6" class="b"/><ellipse cx="473.7" cy="707.6" rx="1.9" ry="1.6" class="b"/><ellipse cx="526.5" cy="585.5" rx="0.8" ry="0.7" class="b"/><ellipse cx="513.1" cy="613.3" rx="1.7" ry="1.4" class="a"/><ellipse cx="517.1" cy="613.3" rx="1" ry="0.8" class="b"/><ellipse cx="525.1" cy="616.9" rx="1.1" ry="0.9" class="b"/><ellipse cx="556.2" cy="610.5" rx="1" ry="0.8" class="b"/><ellipse cx="494.8" cy="630.8" rx="2.1" ry="1.8" class="b"/><ellipse cx="489.1" cy="629.4" rx="1" ry="0.8" class="b"/><ellipse cx="515.7" cy="634.6" rx="1" ry="0.8" class="b"/><ellipse cx="522.2" cy="638.2" rx="2.3" ry="1.9" class="a"/><ellipse cx="522.2" cy="638.2" rx="1" ry="0.8" class="a"/><ellipse cx="527.3" cy="640.2" rx="2.5" ry="2.2" class="b"/><ellipse cx="535" cy="640.2" rx="2.3" ry="1.9" class="a"/><ellipse cx="535" cy="640.2" rx="1" ry="0.8" class="a"/><ellipse cx="542.6" cy="640.2" rx="2.8" ry="2.3" class="a"/><ellipse cx="542.6" cy="640.2" rx="1.2" ry="1" class="a"/><ellipse cx="564.7" cy="640.2" rx="2.5" ry="2.2" class="b"/><ellipse cx="571.2" cy="640.2" rx="2.5" ry="2.2" class="b"/><ellipse cx="575.2" cy="630.2" rx="2.1" ry="1.8" class="b"/><ellipse cx="585.9" cy="630.2" rx="2.1" ry="1.8" class="b"/><ellipse cx="568.9" cy="659" rx="1.4" ry="1.2" class="b"/><ellipse cx="568.3" cy="671.5" rx="1" ry="0.8" class="a"/><ellipse cx="472.7" cy="646.6" rx="2" ry="1.7" class="a"/><ellipse cx="469.3" cy="654.9" rx="1.1" ry="0.9" class="b"/><ellipse cx="462.2" cy="659" rx="1.1" ry="0.9" class="b"/><ellipse cx="481.2" cy="658.2" rx="1.1" ry="0.9" class="b"/><ellipse cx="500.5" cy="653.5" rx="2.1" ry="1.8" class="b"/><ellipse cx="504.7" cy="659.9" rx="1.6" ry="1.3" class="a"/><ellipse cx="495.4" cy="661.8" rx="1.1" ry="0.9" class="b"/><ellipse cx="468.4" cy="664.6" rx="2" ry="1.6" class="a"/><ellipse cx="468.4" cy="664.6" rx="0.9" ry="0.7" class="a"/><ellipse cx="469.7" cy="667.6" rx="1.6" ry="1.3" class="a"/><ellipse cx="490.6" cy="670.1" rx="1.4" ry="1.2" class="b"/><ellipse cx="491.9" cy="674.3" rx="1.4" ry="1.2" class="a"/><ellipse cx="507.2" cy="671.5" rx="2.1" ry="1.8" class="a"/><ellipse cx="507.2" cy="671.5" rx="1" ry="0.8" class="a"/><ellipse cx="514.6" cy="671.5" rx="2.8" ry="2.3" class="a"/><ellipse cx="514.6" cy="671.5" rx="1.2" ry="1" class="a"/><ellipse cx="514.6" cy="666" rx="1.1" ry="0.9" class="b"/><ellipse cx="527.3" cy="660.4" rx="1.4" ry="1.2" class="b"/><ellipse cx="525.1" cy="664.6" rx="1.1" ry="0.9" class="b"/><ellipse cx="534.4" cy="666" rx="1.9" ry="1.6" class="a"/><ellipse cx="540.6" cy="666" rx="1.7" ry="1.4" class="a"/><ellipse cx="538.3" cy="672.4" rx="2" ry="1.7" class="a"/><ellipse cx="546.9" cy="672.9" rx="2" ry="1.7" class="a"/><ellipse cx="527.3" cy="677.1" rx="2.1" ry="1.8" class="b"/><ellipse cx="515.7" cy="679.8" rx="3.1" ry="2.6" class="a"/><ellipse cx="515.7" cy="679.8" rx="1.4" ry="1.1" class="a"/><ellipse cx="522.8" cy="682.6" rx="2.1" ry="1.8" class="b"/><ellipse cx="544" cy="680.7" rx="1.1" ry="0.9" class="b"/><ellipse cx="556.2" cy="684.6" rx="1.2" ry="1.1" class="b"/><ellipse cx="547.7" cy="685.4" rx="1.9" ry="1.6" class="a"/><ellipse cx="538.6" cy="689.6" rx="1.2" ry="1.1" class="b"/><ellipse cx="563.2" cy="688.2" rx="1.1" ry="0.9" class="b"/><ellipse cx="481.2" cy="681.2" rx="2.1" ry="1.8" class="a"/><ellipse cx="481.2" cy="681.2" rx="1" ry="0.8" class="a"/><ellipse cx="489.1" cy="685.4" rx="2.3" ry="1.9" class="a"/><ellipse cx="489.1" cy="685.4" rx="1" ry="0.8" class="a"/><ellipse cx="482" cy="686.8" rx="1.7" ry="1.4" class="a"/><ellipse cx="458.5" cy="693.7" rx="1.6" ry="1.3" class="a"/><ellipse cx="467.9" cy="693.7" rx="3.1" ry="2.6" class="a"/><ellipse cx="467.9" cy="693.7" rx="1.4" ry="1.1" class="a"/><ellipse cx="439.3" cy="689.6" rx="0.8" ry="0.7" class="b"/><ellipse cx="479.8" cy="692.3" rx="1.7" ry="1.4" class="a"/><ellipse cx="458.5" cy="710.4" rx="2.5" ry="2" class="a"/><ellipse cx="458.5" cy="710.4" rx="1.1" ry="0.9" class="a"/><ellipse cx="461" cy="709.6" rx="1.7" ry="1.4" class="a"/><ellipse cx="467" cy="707.6" rx="1.7" ry="1.4" class="a"/><ellipse cx="472.7" cy="714.5" rx="2.5" ry="2" class="a"/><ellipse cx="472.7" cy="714.5" rx="1.1" ry="0.9" class="a"/><ellipse cx="479.8" cy="714.5" rx="2.6" ry="2.2" class="a"/><ellipse cx="479.8" cy="714.5" rx="1.2" ry="0.9" class="a"/><ellipse cx="484" cy="715.9" rx="2.5" ry="2" class="a"/><ellipse cx="484" cy="715.9" rx="1.1" ry="0.9" class="a"/><ellipse cx="520.8" cy="692.3" rx="3.1" ry="2.6" class="a"/><ellipse cx="520.8" cy="692.3" rx="1.4" ry="1.1" class="a"/><ellipse cx="525.1" cy="700.6" rx="2.5" ry="2" class="a"/><ellipse cx="525.1" cy="700.6" rx="1.1" ry="0.9" class="a"/><ellipse cx="530.7" cy="699.3" rx="3.1" ry="2.6" class="a"/><ellipse cx="530.7" cy="699.3" rx="1.4" ry="1.1" class="a"/><ellipse cx="538.3" cy="699.3" rx="1.2" ry="1.1" class="b"/><ellipse cx="544.9" cy="695.1" rx="2" ry="1.7" class="a"/><ellipse cx="546.3" cy="697.9" rx="3.1" ry="2.6" class="a"/><ellipse cx="546.3" cy="697.9" rx="1.4" ry="1.1" class="a"/><ellipse cx="548.5" cy="700.6" rx="1.9" ry="1.6" class="a"/><ellipse cx="522.2" cy="709" rx="2.3" ry="1.9" class="a"/><ellipse cx="522.2" cy="709" rx="1" ry="0.8" class="a"/><ellipse cx="525.1" cy="718.7" rx="1.2" ry="1.1" class="b"/><ellipse cx="531.6" cy="710.4" rx="1.2" ry="1.1" class="b"/><ellipse cx="534.5" cy="722.8" rx="2.3" ry="1.9" class="a"/><ellipse cx="534.5" cy="722.8" rx="1" ry="0.8" class="a"/><ellipse cx="540.6" cy="721.5" rx="2.2" ry="1.8" class="a"/><ellipse cx="536.4" cy="715.9" rx="1.2" ry="1.1" class="b"/><ellipse cx="542.9" cy="711.7" rx="2.3" ry="1.9" class="a"/><ellipse cx="542.9" cy="711.7" rx="1" ry="0.8" class="a"/><ellipse cx="553.9" cy="697.9" rx="1.1" ry="0.9" class="b"/><ellipse cx="561.9" cy="702" rx="1.1" ry="0.9" class="b"/><ellipse cx="459.4" cy="723.4" rx="2" ry="1.7" class="a"/><ellipse cx="492.5" cy="733.9" rx="1.2" ry="1.1" class="b"/><ellipse cx="498.1" cy="729.8" rx="2" ry="1.7" class="a"/><ellipse cx="503.8" cy="729.8" rx="3.1" ry="2.6" class="a"/><ellipse cx="503.8" cy="729.8" rx="1.4" ry="1.1" class="a"/><ellipse cx="502.4" cy="722.8" rx="2" ry="1.7" class="a"/><ellipse cx="509.5" cy="722.8" rx="1.4" ry="1.2" class="b"/><ellipse cx="513.7" cy="722.8" rx="1.4" ry="1.2" class="b"/><ellipse cx="515.2" cy="715.1" rx="1.4" ry="1.2" class="b"/><ellipse cx="465.6" cy="740" rx="0.8" ry="0.7" class="b"/><ellipse cx="547.1" cy="738.9" rx="0.8" ry="0.7" class="b"/><ellipse cx="513.7" cy="742.3" rx="1.9" ry="1.6" class="a"/><ellipse cx="510.5" cy="742.3" rx="1.4" ry="1.2" class="a"/><ellipse cx="523.6" cy="742.3" rx="1.4" ry="1.2" class="b"/><ellipse cx="512.3" cy="749.2" rx="2.3" ry="1.9" class="a"/><ellipse cx="512.3" cy="749.2" rx="1" ry="0.8" class="a"/><ellipse cx="516.6" cy="748.6" rx="1.7" ry="1.4" class="a"/><ellipse cx="522.2" cy="746.4" rx="1.4" ry="1.2" class="b"/><ellipse cx="525.1" cy="750.6" rx="2.1" ry="1.8" class="b"/><ellipse cx="537.8" cy="751.1" rx="0.8" ry="0.7" class="b"/><ellipse cx="526.5" cy="761.7" rx="2.5" ry="2.2" class="b"/><ellipse cx="513.7" cy="767.2" rx="2.1" ry="1.8" class="b"/><ellipse cx="518" cy="766.7" rx="2.1" ry="1.8" class="b"/><ellipse cx="414.4" cy="775.3" rx="2.1" ry="1.8" class="b"/><ellipse cx="384" cy="712.3" rx="0.8" ry="0.7" class="b"/><ellipse cx="515.7" cy="788.2" rx="0.8" ry="0.7" class="b"/><ellipse cx="555.7" cy="609.6" rx="0.8" ry="0.7" class="b"/><ellipse cx="439.8" cy="689" rx="0.8" ry="0.7" class="b"/><ellipse cx="585.1" cy="629.4" rx="2" ry="1.7" class="b"/><ellipse cx="477.3" cy="638.6" rx="1" ry="0.8" class="b"/><ellipse cx="487.5" cy="696.6" rx="1.7" ry="1.4" class="a"/><ellipse cx="497.7" cy="688.6" rx="2.1" ry="1.8" class="a"/><ellipse cx="497.7" cy="688.6" rx="1" ry="0.8" class="a"/><ellipse cx="505.9" cy="682.6" rx="2.1" ry="1.8" class="a"/><ellipse cx="505.9" cy="682.6" rx="1" ry="0.8" class="a"/><ellipse cx="510" cy="688.6" rx="1.9" ry="1.6" class="a"/><ellipse cx="502.8" cy="696.6" rx="2.3" ry="1.9" class="a"/><ellipse cx="502.8" cy="696.6" rx="1" ry="0.8" class="a"/><ellipse cx="514" cy="698.6" rx="2.1" ry="1.8" class="a"/><ellipse cx="514" cy="698.6" rx="1" ry="0.8" class="a"/><ellipse cx="495.7" cy="714.6" rx="2.1" ry="1.8" class="a"/><ellipse cx="495.7" cy="714.6" rx="1" ry="0.8" class="a"/><ellipse cx="505.9" cy="716.6" rx="2.3" ry="1.9" class="a"/><ellipse cx="505.9" cy="716.6" rx="1" ry="0.8" class="a"/><ellipse cx="510" cy="705.6" rx="1.9" ry="1.6" class="a"/><ellipse cx="515.7" cy="613.3" rx="1.4" ry="1.2" class="b"/><ellipse cx="555.9" cy="610.5" rx="1.2" ry="1" class="b"/><ellipse cx="494.3" cy="630.8" rx="1.5" ry="1.3" class="b"/><ellipse cx="575.3" cy="629.9" rx="1.5" ry="1.3" class="b"/><ellipse cx="585.9" cy="629.9" rx="1.5" ry="1.3" class="b"/><ellipse cx="472.7" cy="646.6" rx="1.4" ry="1.2" class="b"/><ellipse cx="461.6" cy="659" rx="1.3" ry="1.1" class="b"/><ellipse cx="459.7" cy="724.2" rx="1.4" ry="1.2" class="a"/><ellipse cx="517.1" cy="765.9" rx="1.6" ry="1.4" class="b"/><ellipse cx="522" cy="765" rx="1.4" ry="1.2" class="b"/><ellipse cx="530" cy="700" rx="1.9" ry="1.6" class="a"/><ellipse cx="530" cy="700" rx="0.8" ry="0.7" class="a"/><ellipse cx="545" cy="705" rx="1.8" ry="1.5" class="a"/><ellipse cx="545" cy="705" rx="0.8" ry="0.6" class="a"/><ellipse cx="560" cy="672" rx="1.6" ry="1.4" class="a"/><ellipse cx="560" cy="672" rx="0.7" ry="0.6" class="a"/><ellipse cx="478" cy="690" rx="1.9" ry="1.6" class="a"/><ellipse cx="478" cy="690" rx="0.8" ry="0.7" class="a"/><ellipse cx="490" cy="712" rx="1.9" ry="1.6" class="a"/><ellipse cx="490" cy="712" rx="0.8" ry="0.7" class="a"/><ellipse cx="512" cy="725" rx="1.8" ry="1.5" class="a"/><ellipse cx="512" cy="725" rx="0.8" ry="0.6" class="a"/><ellipse cx="538" cy="740" rx="1.4" ry="1.2" class="a"/><ellipse cx="500" cy="650" rx="1.6" ry="1.4" class="a"/><ellipse cx="500" cy="650" rx="0.7" ry="0.6" class="a"/><ellipse cx="565" cy="705" rx="1.4" ry="1.2" class="a"/><path d="M62,899.8L62,1132.3" stroke="#b0b0b0" stroke-width="1" /><path d="M59.3,1132.3L62,1132.3" stroke="#555" stroke-width="0.8" /><text x="56.2" y="1133.1" font-size="8.2" fill="#444" text-anchor="end" >0</text><path d="M60.8,1127.7L62,1127.7" stroke="#555" stroke-width="0.8" /><path d="M60.8,1123L62,1123" stroke="#555" stroke-width="0.8" /><path d="M60.8,1118.4L62,1118.4" stroke="#555" stroke-width="0.8" /><path d="M60.8,1113.7L62,1113.7" stroke="#555" stroke-width="0.8" /><path d="M59.3,1109.1L62,1109.1" stroke="#555" stroke-width="0.8" /><text x="56.2" y="1109.9" font-size="8.2" fill="#444" text-anchor="end" >10</text><path d="M60.8,1104.5L62,1104.5" stroke="#555" stroke-width="0.8" /><path d="M60.8,1099.8L62,1099.8" stroke="#555" stroke-width="0.8" /><path d="M60.8,1095.2L62,1095.2" stroke="#555" stroke-width="0.8" /><path d="M60.8,1090.5L62,1090.5" stroke="#555" stroke-width="0.8" /><path d="M59.3,1085.9L62,1085.9" stroke="#555" stroke-width="0.8" /><text x="56.2" y="1086.7" font-size="8.2" fill="#444" text-anchor="end" >20</text><path d="M60.8,1081.3L62,1081.3" stroke="#555" stroke-width="0.8" /><path d="M60.8,1076.6L62,1076.6" stroke="#555" stroke-width="0.8" /><path d="M60.8,1072L62,1072" stroke="#555" stroke-width="0.8" /><path d="M60.8,1067.3L62,1067.3" stroke="#555" stroke-width="0.8" /><path d="M59.3,1062.7L62,1062.7" stroke="#555" stroke-width="0.8" /><text x="56.2" y="1063.5" font-size="8.2" fill="#444" text-anchor="end" >30</text><path d="M60.8,1058.1L62,1058.1" stroke="#555" stroke-width="0.8" /><path d="M60.8,1053.4L62,1053.4" stroke="#555" stroke-width="0.8" /><path d="M60.8,1048.8L62,1048.8" stroke="#555" stroke-width="0.8" /><path d="M60.8,1044.1L62,1044.1" stroke="#555" stroke-width="0.8" /><path d="M59.3,1039.5L62,1039.5" stroke="#555" stroke-width="0.8" /><text x="56.2" y="1040.3" font-size="8.2" fill="#444" text-anchor="end" >40</text><path d="M60.8,1034.9L62,1034.9" stroke="#555" stroke-width="0.8" /><path d="M60.8,1030.2L62,1030.2" stroke="#555" stroke-width="0.8" /><path d="M60.8,1025.6L62,1025.6" stroke="#555" stroke-width="0.8" /><path d="M60.8,1020.9L62,1020.9" stroke="#555" stroke-width="0.8" /><path d="M59.3,1016.3L62,1016.3" stroke="#555" stroke-width="0.8" /><text x="56.2" y="1017.1" font-size="8.2" fill="#444" text-anchor="end" >50</text><path d="M60.8,1011.7L62,1011.7" stroke="#555" stroke-width="0.8" /><path d="M60.8,1007L62,1007" stroke="#555" stroke-width="0.8" /><path d="M60.8,1002.4L62,1002.4" stroke="#555" stroke-width="0.8" /><path d="M60.8,997.7L62,997.7" stroke="#555" stroke-width="0.8" /><path d="M59.3,993.1L62,993.1" stroke="#555" stroke-width="0.8" /><text x="56.2" y="993.9" font-size="8.2" fill="#444" text-anchor="end" >60</text><path d="M60.8,988.5L62,988.5" stroke="#555" stroke-width="0.8" /><path d="M60.8,983.8L62,983.8" stroke="#555" stroke-width="0.8" /><path d="M60.8,979.2L62,979.2" stroke="#555" stroke-width="0.8" /><path d="M60.8,974.5L62,974.5" stroke="#555" stroke-width="0.8" /><path d="M59.3,969.9L62,969.9" stroke="#555" stroke-width="0.8" /><text x="56.2" y="970.7" font-size="8.2" fill="#444" text-anchor="end" >70</text><path d="M60.8,965.3L62,965.3" stroke="#555" stroke-width="0.8" /><path d="M60.8,960.6L62,960.6" stroke="#555" stroke-width="0.8" /><path d="M60.8,956L62,956" stroke="#555" stroke-width="0.8" /><path d="M60.8,951.3L62,951.3" stroke="#555" stroke-width="0.8" /><path d="M59.3,946.7L62,946.7" stroke="#555" stroke-width="0.8" /><text x="56.2" y="947.5" font-size="8.2" fill="#444" text-anchor="end" >80</text><path d="M60.8,942.1L62,942.1" stroke="#555" stroke-width="0.8" /><path d="M60.8,937.4L62,937.4" stroke="#555" stroke-width="0.8" /><path d="M60.8,932.8L62,932.8" stroke="#555" stroke-width="0.8" /><path d="M60.8,928.1L62,928.1" stroke="#555" stroke-width="0.8" /><path d="M59.3,923.5L62,923.5" stroke="#555" stroke-width="0.8" /><text x="56.2" y="924.3" font-size="8.2" fill="#444" text-anchor="end" >90</text><path d="M60.8,918.9L62,918.9" stroke="#555" stroke-width="0.8" /><path d="M60.8,914.2L62,914.2" stroke="#555" stroke-width="0.8" /><path d="M60.8,909.6L62,909.6" stroke="#555" stroke-width="0.8" /><path d="M60.8,904.9L62,904.9" stroke="#555" stroke-width="0.8" /><path d="M59.3,900.3L62,900.3" stroke="#555" stroke-width="0.8" /><text x="56.2" y="901.1" font-size="8.2" fill="#444" text-anchor="end" >100</text><text transform="translate(37.7,1012.4) rotate(-90)" x="0" y="0" font-size="8.4" fill="#333" text-anchor="middle">Relative Intensity (%)</text><path d="M61.5,1132.3L683.2,1132.3" stroke="#666" stroke-width="1" /><path d="M67.5,1132.3L67.5,1134.3" stroke="#666" stroke-width="0.8" /><path d="M75.8,1132.3L75.8,1134.3" stroke="#666" stroke-width="0.8" /><path d="M84.2,1132.3L84.2,1134.3" stroke="#666" stroke-width="0.8" /><path d="M92.5,1132.3L92.5,1135.3" stroke="#666" stroke-width="0.8" /><text x="92.5" y="1146.8" font-size="8" fill="#333" text-anchor="middle" >200</text><path d="M100.8,1132.3L100.8,1134.3" stroke="#666" stroke-width="0.8" /><path d="M109.2,1132.3L109.2,1134.3" stroke="#666" stroke-width="0.8" /><path d="M117.5,1132.3L117.5,1134.3" stroke="#666" stroke-width="0.8" /><path d="M125.8,1132.3L125.8,1134.3" stroke="#666" stroke-width="0.8" /><path d="M134.2,1132.3L134.2,1135.3" stroke="#666" stroke-width="0.8" /><text x="134.1" y="1146.8" font-size="8" fill="#333" text-anchor="middle" >300</text><path d="M142.5,1132.3L142.5,1134.3" stroke="#666" stroke-width="0.8" /><path d="M150.8,1132.3L150.8,1134.3" stroke="#666" stroke-width="0.8" /><path d="M159.1,1132.3L159.1,1134.3" stroke="#666" stroke-width="0.8" /><path d="M167.5,1132.3L167.5,1134.3" stroke="#666" stroke-width="0.8" /><path d="M175.8,1132.3L175.8,1135.3" stroke="#666" stroke-width="0.8" /><text x="175.8" y="1146.8" font-size="8" fill="#333" text-anchor="middle" >400</text><path d="M184.1,1132.3L184.1,1134.3" stroke="#666" stroke-width="0.8" /><path d="M192.5,1132.3L192.5,1134.3" stroke="#666" stroke-width="0.8" /><path d="M200.8,1132.3L200.8,1134.3" stroke="#666" stroke-width="0.8" /><path d="M209.1,1132.3L209.1,1134.3" stroke="#666" stroke-width="0.8" /><path d="M217.4,1132.3L217.4,1135.3" stroke="#666" stroke-width="0.8" /><text x="217.4" y="1146.8" font-size="8" fill="#333" text-anchor="middle" >500</text><path d="M225.8,1132.3L225.8,1134.3" stroke="#666" stroke-width="0.8" /><path d="M234.1,1132.3L234.1,1134.3" stroke="#666" stroke-width="0.8" /><path d="M242.4,1132.3L242.4,1134.3" stroke="#666" stroke-width="0.8" /><path d="M250.8,1132.3L250.8,1134.3" stroke="#666" stroke-width="0.8" /><path d="M259.1,1132.3L259.1,1135.3" stroke="#666" stroke-width="0.8" /><text x="259.1" y="1146.8" font-size="8" fill="#333" text-anchor="middle" >600</text><path d="M267.4,1132.3L267.4,1134.3" stroke="#666" stroke-width="0.8" /><path d="M275.8,1132.3L275.8,1134.3" stroke="#666" stroke-width="0.8" /><path d="M284.1,1132.3L284.1,1134.3" stroke="#666" stroke-width="0.8" /><path d="M292.4,1132.3L292.4,1134.3" stroke="#666" stroke-width="0.8" /><path d="M300.8,1132.3L300.8,1135.3" stroke="#666" stroke-width="0.8" /><text x="300.7" y="1146.8" font-size="8" fill="#333" text-anchor="middle" >700</text><path d="M309.1,1132.3L309.1,1134.3" stroke="#666" stroke-width="0.8" /><path d="M317.4,1132.3L317.4,1134.3" stroke="#666" stroke-width="0.8" /><path d="M325.7,1132.3L325.7,1134.3" stroke="#666" stroke-width="0.8" /><path d="M334.1,1132.3L334.1,1134.3" stroke="#666" stroke-width="0.8" /><path d="M342.4,1132.3L342.4,1135.3" stroke="#666" stroke-width="0.8" /><text x="342.4" y="1146.8" font-size="8" fill="#333" text-anchor="middle" >800</text><path d="M350.7,1132.3L350.7,1134.3" stroke="#666" stroke-width="0.8" /><path d="M359.1,1132.3L359.1,1134.3" stroke="#666" stroke-width="0.8" /><path d="M367.4,1132.3L367.4,1134.3" stroke="#666" stroke-width="0.8" /><path d="M375.7,1132.3L375.7,1134.3" stroke="#666" stroke-width="0.8" /><path d="M384.1,1132.3L384.1,1135.3" stroke="#666" stroke-width="0.8" /><text x="384" y="1146.8" font-size="8" fill="#333" text-anchor="middle" >900</text><path d="M392.4,1132.3L392.4,1134.3" stroke="#666" stroke-width="0.8" /><path d="M400.7,1132.3L400.7,1134.3" stroke="#666" stroke-width="0.8" /><path d="M409,1132.3L409,1134.3" stroke="#666" stroke-width="0.8" /><path d="M417.4,1132.3L417.4,1134.3" stroke="#666" stroke-width="0.8" /><path d="M425.7,1132.3L425.7,1135.3" stroke="#666" stroke-width="0.8" /><text x="425.7" y="1146.8" font-size="8" fill="#333" text-anchor="middle" >1000</text><path d="M434,1132.3L434,1134.3" stroke="#666" stroke-width="0.8" /><path d="M442.4,1132.3L442.4,1134.3" stroke="#666" stroke-width="0.8" /><path d="M450.7,1132.3L450.7,1134.3" stroke="#666" stroke-width="0.8" /><path d="M459,1132.3L459,1134.3" stroke="#666" stroke-width="0.8" /><path d="M467.3,1132.3L467.3,1135.3" stroke="#666" stroke-width="0.8" /><text x="467.3" y="1146.8" font-size="8" fill="#333" text-anchor="middle" >1100</text><path d="M475.7,1132.3L475.7,1134.3" stroke="#666" stroke-width="0.8" /><path d="M484,1132.3L484,1134.3" stroke="#666" stroke-width="0.8" /><path d="M492.3,1132.3L492.3,1134.3" stroke="#666" stroke-width="0.8" /><path d="M500.7,1132.3L500.7,1134.3" stroke="#666" stroke-width="0.8" /><path d="M509,1132.3L509,1135.3" stroke="#666" stroke-width="0.8" /><text x="509" y="1146.8" font-size="8" fill="#333" text-anchor="middle" >1200</text><path d="M517.3,1132.3L517.3,1134.3" stroke="#666" stroke-width="0.8" /><path d="M525.7,1132.3L525.7,1134.3" stroke="#666" stroke-width="0.8" /><path d="M534,1132.3L534,1134.3" stroke="#666" stroke-width="0.8" /><path d="M542.3,1132.3L542.3,1134.3" stroke="#666" stroke-width="0.8" /><path d="M550.6,1132.3L550.6,1135.3" stroke="#666" stroke-width="0.8" /><text x="550.6" y="1146.8" font-size="8" fill="#333" text-anchor="middle" >1300</text><path d="M559,1132.3L559,1134.3" stroke="#666" stroke-width="0.8" /><path d="M567.3,1132.3L567.3,1134.3" stroke="#666" stroke-width="0.8" /><path d="M575.6,1132.3L575.6,1134.3" stroke="#666" stroke-width="0.8" /><path d="M584,1132.3L584,1134.3" stroke="#666" stroke-width="0.8" /><path d="M592.3,1132.3L592.3,1135.3" stroke="#666" stroke-width="0.8" /><text x="592.3" y="1146.8" font-size="8" fill="#333" text-anchor="middle" >1400</text><path d="M600.6,1132.3L600.6,1134.3" stroke="#666" stroke-width="0.8" /><path d="M609,1132.3L609,1134.3" stroke="#666" stroke-width="0.8" /><path d="M617.3,1132.3L617.3,1134.3" stroke="#666" stroke-width="0.8" /><path d="M625.6,1132.3L625.6,1134.3" stroke="#666" stroke-width="0.8" /><path d="M633.9,1132.3L633.9,1135.3" stroke="#666" stroke-width="0.8" /><text x="633.9" y="1146.8" font-size="8" fill="#333" text-anchor="middle" >1500</text><path d="M642.3,1132.3L642.3,1134.3" stroke="#666" stroke-width="0.8" /><path d="M650.6,1132.3L650.6,1134.3" stroke="#666" stroke-width="0.8" /><path d="M658.9,1132.3L658.9,1134.3" stroke="#666" stroke-width="0.8" /><path d="M667.3,1132.3L667.3,1134.3" stroke="#666" stroke-width="0.8" /><path d="M675.6,1132.3L675.6,1135.3" stroke="#666" stroke-width="0.8" /><text x="371.4" y="1159.2" font-size="7.8" fill="#333" text-anchor="middle" >m/z</text><path d="M78,1121.3V1132.3M81.4,1109V1132.3M92.6,1126V1132.3M110.5,1126.6V1132.3M125.3,1126.2V1132.3M136.2,1126.2V1132.3M156.9,1126.6V1132.3M158.1,1125.2V1132.3M163.4,1123V1132.3M209.4,1118V1132.3M259,1112.3V1132.3M282.4,1125.4V1132.3M337.9,1122.5V1132.3M344.6,1127V1132.3M364.8,1124.8V1132.3M186,1127V1132.3M192,1125V1132.3M215,1126V1132.3M221,1124V1132.3M266,1126V1132.3M288,1124V1132.3M313,1126V1132.3M330,1125V1132.3M384,1127V1132.3M392,1126V1132.3M413,1127V1132.3M440,1127V1132.3M476,1127V1132.3M520,1127V1132.3M531,1128V1132.3" stroke="#c4c4c4" stroke-width="0.9"/><path d="M73.7,1020V1132.3M89.8,1110.3V1132.3M100,1121.3V1132.3M101.7,1125.7V1132.3M107,1048V1132.3M112,1126.6V1132.3M114,1118.7V1132.3M119.6,1121V1132.3M120.6,1097.7V1132.3M128.3,1050.5V1132.3M148.5,1115.7V1132.3M154.1,1110.5V1132.3M168.3,1109.6V1132.3M173,1119.7V1132.3M201.5,1077.2V1132.3M229.3,1121.6V1132.3M231.9,1120.4V1132.3M243,1003.6V1132.3M246,1124V1132.3M254.7,1104V1132.3M297,1116.7V1132.3M304.3,1116.7V1132.3M321,1070V1132.3M352.5,1083V1132.3M356,1126.3V1132.3M375,1021.8V1132.3M399.9,1123V1132.3M406.6,1107V1132.3M421.2,1124V1132.3M452.4,898V1132.3M460.3,1123.4V1132.3M498.5,1104V1132.3M505.8,1099V1132.3M545,1124.2V1132.3M560.5,1124V1132.3M574.8,1127V1132.3M593.4,1125.6V1132.3M601.3,1126V1132.3M607.7,1113.7V1132.3" stroke="#8c8c8c" stroke-width="0.9"/><path d="M73.7,1122.7V1132.3M84.2,1126.6V1132.3M113.2,1126.6V1132.3M121.7,1105.2V1132.3M167.4,1118.7V1132.3M169.5,1126.2V1132.3M174.8,1124V1132.3M175.6,1126V1132.3M201.5,1120V1132.3M236.6,1119.6V1132.3M243,1107V1132.3M254.7,1118V1132.3M260.5,1118V1132.3M273.6,1122.5V1132.3M306,1122V1132.3M308,1122.5V1132.3M321,1108V1132.3M352.5,1113V1132.3M375,1089.5V1132.3M429,1115.2V1132.3M452.4,1008.6V1132.3M452.4,1100V1132.3M498.5,1122V1132.3M505.8,1117V1132.3M607.7,1122V1132.3" stroke="#333" stroke-width="1.1"/><text transform="translate(79.4,1096.9) rotate(-90)" x="0" y="0" font-size="9.5" fill="#333"><tspan>αb</tspan><tspan font-size="6.5" dy="1.9">3</tspan><tspan font-size="6.5" dx="-3.6" dy="-6">2+</tspan></text><text transform="translate(94,1060.7) rotate(-90)" x="0" y="0" font-size="9.5" fill="#333"><tspan>αb</tspan><tspan font-size="6.5" dy="1.9">2</tspan><tspan font-size="6.5" dx="-3.6" dy="-6">+</tspan></text><text transform="translate(101.3,1102.1) rotate(-90)" x="0" y="0" font-size="9.5" fill="#333"><tspan>αb</tspan><tspan font-size="6.5" dy="1.9">4</tspan><tspan font-size="6.5" dx="-3.6" dy="-6">2+</tspan></text><text transform="translate(119.7,1094.2) rotate(-90)" x="0" y="0" font-size="9.5" fill="#333"><tspan>αb</tspan><tspan font-size="6.5" dy="1.9">5</tspan><tspan font-size="6.5" dx="-3.6" dy="-6">2+</tspan></text><text transform="translate(154.8,1087.2) rotate(-90)" x="0" y="0" font-size="9.5" fill="#333"><tspan>αb</tspan><tspan font-size="6.5" dy="1.9">6</tspan><tspan font-size="6.5" dx="-3.6" dy="-6">2+</tspan></text><text transform="translate(178.4,1117.2) rotate(-90)" x="0" y="0" font-size="9.5" fill="#333"><tspan>αb</tspan><tspan font-size="6.5" dy="1.9">7</tspan><tspan font-size="6.5" dx="-3.6" dy="-6">2+</tspan></text><text transform="translate(203.4,1051.6) rotate(-90)" x="0" y="0" font-size="9.5" fill="#333"><tspan>αb</tspan><tspan font-size="6.5" dy="1.9">8</tspan><tspan font-size="6.5" dx="-3.6" dy="-6">2+</tspan></text><text transform="translate(228.9,1115.2) rotate(-90)" x="0" y="0" font-size="9.5" fill="#333"><tspan>αb</tspan><tspan font-size="6.5" dy="1.9">5</tspan><tspan font-size="6.5" dx="-3.6" dy="-6">+</tspan></text><text transform="translate(263.9,1117.2) rotate(-90)" x="0" y="0" font-size="9.5" fill="#333"><tspan>αy</tspan><tspan font-size="6.5" dy="1.9">2</tspan><tspan font-size="6.5" dx="-3.6" dy="-6">2+</tspan></text><text transform="translate(295.9,1114.2) rotate(-90)" x="0" y="0" font-size="9.5" fill="#333"><tspan>αb</tspan><tspan font-size="6.5" dy="1.9">6</tspan><tspan font-size="6.5" dx="-3.6" dy="-6">+</tspan></text><text transform="translate(346.5,1085.2) rotate(-90)" x="0" y="0" font-size="9.5" fill="#333"><tspan>αb</tspan><tspan font-size="6.5" dy="1.9">7</tspan><tspan font-size="6.5" dx="-3.6" dy="-6">+</tspan></text><text transform="translate(368.1,1080.8) rotate(-90)" x="0" y="0" font-size="9.5" fill="#333"><tspan>αy</tspan><tspan font-size="6.5" dy="1.9">6</tspan><tspan font-size="6.5" dx="-3.6" dy="-6">2+</tspan></text><text transform="translate(445.5,1110.9) rotate(-90)" x="0" y="0" font-size="9.5" fill="#333"><tspan>αy</tspan><tspan font-size="6.5" dy="1.9">9</tspan><tspan font-size="6.5" dx="-3.6" dy="-6">2+</tspan></text><text transform="translate(89.1,1090.7) rotate(-90)" x="0" y="0" font-size="9.5" fill="#e8202a"><tspan>βb</tspan><tspan font-size="6.5" dy="1.9">3</tspan><tspan font-size="6.5" dx="-3.6" dy="-6">2+</tspan></text><text transform="translate(113.6,1115.3) rotate(-90)" x="0" y="0" font-size="9.5" fill="#e8202a"><tspan>βy</tspan><tspan font-size="6.5" dy="1.9">2</tspan><tspan font-size="6.5" dx="-3.6" dy="-6">+</tspan></text><text transform="translate(154.8,1108.2) rotate(-90)" x="0" y="0" font-size="9.5" fill="#e8202a"><tspan>βb</tspan><tspan font-size="6.5" dy="1.9">3</tspan><tspan font-size="6.5" dx="-3.6" dy="-6">+</tspan></text><text transform="translate(92.6,1037.4) rotate(-90)" x="0" y="0" font-size="9.5" fill="#e8202a"><tspan>βy</tspan><tspan font-size="6.5" dy="1.9">1</tspan><tspan font-size="6.5" dx="-3.6" dy="-6">+</tspan></text><text transform="translate(107.2,1044.7) rotate(-90)" x="0" y="0" font-size="9.5" fill="#e8202a"><tspan>βb</tspan><tspan font-size="6.5" dy="1.9">2</tspan><tspan font-size="6.5" dx="-3.6" dy="-6">+</tspan></text><text transform="translate(106.4,1023.5) rotate(-90)" x="0" y="0" font-size="9.5" fill="#e8202a"><tspan>βb</tspan><tspan font-size="6.5" dy="1.9">4</tspan><tspan font-size="6.5" dx="-3.6" dy="-6">2+</tspan></text><text transform="translate(128.3,1045.4) rotate(-90)" x="0" y="0" font-size="9.5" fill="#e8202a"><tspan>βb</tspan><tspan font-size="6.5" dy="1.9">5</tspan><tspan font-size="6.5" dx="-3.6" dy="-6">2+</tspan></text><text transform="translate(203.4,1073.5) rotate(-90)" x="0" y="0" font-size="9.5" fill="#e8202a"><tspan>βb</tspan><tspan font-size="6.5" dy="1.9">4</tspan><tspan font-size="6.5" dx="-3.6" dy="-6">+</tspan></text><text transform="translate(243,1002) rotate(-90)" x="0" y="0" font-size="9.5" fill="#e8202a"><tspan>βb</tspan><tspan font-size="6.5" dy="1.9">5</tspan><tspan font-size="6.5" dx="-3.6" dy="-6">+</tspan></text><text transform="translate(340.7,1118.8) rotate(-90)" x="0" y="0" font-size="9.5" fill="#e8202a"><tspan>βy</tspan><tspan font-size="6.5" dy="1.9">3</tspan><tspan font-size="6.5" dx="-3.6" dy="-6">2+</tspan></text><text transform="translate(357.7,1120.2) rotate(-90)" x="0" y="0" font-size="9.5" fill="#e8202a"><tspan>βy</tspan><tspan font-size="6.5" dy="1.9">4</tspan><tspan font-size="6.5" dx="-3.6" dy="-6">2+</tspan></text><text transform="translate(406.7,1102.7) rotate(-90)" x="0" y="0" font-size="9.5" fill="#e8202a"><tspan>βb</tspan><tspan font-size="6.5" dy="1.9">6</tspan><tspan font-size="6.5" dx="-3.6" dy="-6">2+</tspan></text><text transform="translate(429.5,1078.8) rotate(-90)" x="0" y="0" font-size="9.5" fill="#e8202a"><tspan>βy</tspan><tspan font-size="6.5" dy="1.9">7</tspan><tspan font-size="6.5" dx="-3.6" dy="-6">2+</tspan></text><text transform="translate(668.7,1116.6) rotate(-90)" x="0" y="0" font-size="9.5" fill="#f06a6a"><tspan>βy</tspan><tspan font-size="6.5" dy="1.9">5</tspan><tspan font-size="6.5" dx="-3.6" dy="-6">+</tspan></text><text transform="translate(311,1111.5) rotate(-90)" x="0" y="0" font-size="9.2" fill="#333">[M]<tspan font-size="6.5" dy="-4.2">3+</tspan></text><path d="M76.6,1101L74.9,1117" stroke="#333" stroke-width="0.8" stroke-dasharray="0.9 0.9"/><path d="M82.4,1092.4L80.7,1108.2" stroke="#333" stroke-width="0.8" stroke-dasharray="0.9 0.9"/><path d="M92.1,1064.4L87.2,1106.4" stroke="#333" stroke-width="0.8" stroke-dasharray="0.9 0.9"/><path d="M98.5,1105.5L98.5,1119.6" stroke="#333" stroke-width="0.8" stroke-dasharray="0.9 0.9"/><path d="M344.2,1088L344.2,1121" stroke="#333" stroke-width="0.8" stroke-dasharray="0.9 0.9"/><path d="M366.3,1085.5L366.3,1122.5" stroke="#333" stroke-width="0.8" stroke-dasharray="0.9 0.9"/><path d="M429,1082L429,1115" stroke="#f4a0a0" stroke-width="0.7" /><path d="M669.5,1119L669.5,1132" stroke="#f4a0a0" stroke-width="0.7" /><path d="M406.6,1105L406.6,1108" stroke="#f4a0a0" stroke-width="0.7" /><path d="M243,1004L243,1006" stroke="#f4a0a0" stroke-width="0.7" /><text x="70.2" y="892.9" font-size="15" fill="#333">α</text><text x="80.4" y="896.7" font-size="15" font-weight="bold" fill="#333" textLength="92" lengthAdjust="spacingAndGlyphs">DID(369-378)</text><text x="107.8" y="929.8" font-size="15" fill="#e8202a">β</text><text x="120.5" y="940.3" font-size="15" font-weight="bold" fill="#e8202a" textLength="90" lengthAdjust="spacingAndGlyphs">MFN2(74-81)</text><text x="169.4" y="873.1" font-size="9" font-weight="bold" fill="#3556b0">3+</text><text x="184.6" y="888.7" font-size="10.2" fill="#333" text-anchor="middle" >G</text><text x="200.2" y="888.7" font-size="10.2" fill="#333" text-anchor="middle" >E</text><text x="216.1" y="888.7" font-size="10.2" fill="#333" text-anchor="middle" >E</text><text x="231.9" y="888.7" font-size="10.2" fill="#333" text-anchor="middle" >D</text><text x="248.8" y="888.7" font-size="10.2" fill="#333" text-anchor="middle" >S</text><text x="264.9" y="888.7" font-size="10.2" fill="#333" text-anchor="middle" >Y</text><text x="281" y="888.7" font-size="10.2" fill="#333" text-anchor="middle" >D</text><text x="297.9" y="888.7" font-size="10.2" fill="#333" text-anchor="middle" >L</text><text x="313.6" y="888.7" font-size="10.2" fill="#333" text-anchor="middle" >K</text><text x="327.7" y="888.7" font-size="10.2" fill="#333" text-anchor="middle" >G</text><path d="M193.4,879L193.4,891.5" stroke="#999" stroke-width="0.8" /><path d="M193.4,879L198.4,873.5" stroke="#999" stroke-width="0.8" /><text x="200.8" y="871.6" font-size="9.2" fill="#333" text-anchor="middle">y<tspan font-size="6.6" dy="1.6">9</tspan></text><path d="M209.5,879L209.5,891.5" stroke="#999" stroke-width="0.8" /><path d="M209.5,891.5L205.5,896" stroke="#999" stroke-width="0.8" /><text x="205.3" y="904" font-size="9.2" fill="#333" text-anchor="middle">b<tspan font-size="6.6" dy="1.6">2</tspan></text><path d="M225.2,879L225.2,891.5" stroke="#999" stroke-width="0.8" /><path d="M225.2,891.5L221.2,896" stroke="#999" stroke-width="0.8" /><text x="221" y="904" font-size="9.2" fill="#333" text-anchor="middle">b<tspan font-size="6.6" dy="1.6">3</tspan></text><path d="M241.3,879L241.3,891.5" stroke="#999" stroke-width="0.8" /><path d="M241.3,879L246.3,873.5" stroke="#999" stroke-width="0.8" /><text x="248.7" y="871.6" font-size="9.2" fill="#333" text-anchor="middle">y<tspan font-size="6.6" dy="1.6">6</tspan></text><path d="M241.3,891.5L237.3,896" stroke="#999" stroke-width="0.8" /><text x="237.1" y="904" font-size="9.2" fill="#333" text-anchor="middle">b<tspan font-size="6.6" dy="1.6">4</tspan></text><path d="M258.2,879L258.2,891.5" stroke="#999" stroke-width="0.8" /><path d="M258.2,891.5L254.2,896" stroke="#999" stroke-width="0.8" /><text x="254" y="904" font-size="9.2" fill="#333" text-anchor="middle">b<tspan font-size="6.6" dy="1.6">5</tspan></text><path d="M274.2,879L274.2,891.5" stroke="#999" stroke-width="0.8" /><path d="M274.2,891.5L270.2,896" stroke="#999" stroke-width="0.8" /><text x="270" y="904" font-size="9.2" fill="#333" text-anchor="middle">b<tspan font-size="6.6" dy="1.6">6</tspan></text><path d="M290.8,879L290.8,891.5" stroke="#999" stroke-width="0.8" /><path d="M290.8,891.5L286.8,896" stroke="#999" stroke-width="0.8" /><text x="286.6" y="904" font-size="9.2" fill="#333" text-anchor="middle">b<tspan font-size="6.6" dy="1.6">7</tspan></text><path d="M306.8,879L306.8,891.5" stroke="#999" stroke-width="0.8" /><path d="M306.8,879L311.8,873.5" stroke="#999" stroke-width="0.8" /><text x="314.2" y="871.6" font-size="9.2" fill="#333" text-anchor="middle">y<tspan font-size="6.6" dy="1.6">2</tspan></text><path d="M306.8,891.5L302.8,896" stroke="#999" stroke-width="0.8" /><text x="302.6" y="904" font-size="9.2" fill="#333" text-anchor="middle">b<tspan font-size="6.6" dy="1.6">8</tspan></text><path d="M312.7,905.7L312.7,914.2" stroke="#222" stroke-width="1.4" /><text x="233" y="940.8" font-size="11.9" fill="#e8202a" text-anchor="middle" >Q</text><text x="248.7" y="940.8" font-size="11.9" fill="#e8202a" text-anchor="middle" >V</text><text x="267.5" y="940.8" font-size="11.9" fill="#e8202a" text-anchor="middle" >L</text><text x="282.1" y="940.8" font-size="11.9" fill="#e8202a" text-anchor="middle" >D</text><text x="298.1" y="940.8" font-size="11.9" fill="#e8202a" text-anchor="middle" >V</text><text x="314.4" y="940.8" font-size="11.9" fill="#e8202a" text-anchor="middle" >K</text><text x="330.8" y="940.8" font-size="11.9" fill="#e8202a" text-anchor="middle" >G</text><text x="344.8" y="940.8" font-size="11.9" fill="#e8202a" text-anchor="middle" >Y</text><path d="M242.5,927.5L242.5,941.8" stroke="#999" stroke-width="0.8" /><path d="M242.5,927.5L246.5,922.5" stroke="#999" stroke-width="0.8" /><text x="247.7" y="921.6" font-size="9.6" fill="#e8202a" text-anchor="middle">y<tspan font-size="6.8" dy="1.6">7</tspan></text><path d="M259.2,927.5L259.2,941.8" stroke="#999" stroke-width="0.8" /><path d="M259.2,941.8L255.2,946.8" stroke="#999" stroke-width="0.8" /><text x="254.6" y="953.4" font-size="9.6" fill="#e8202a" text-anchor="middle">b<tspan font-size="6.8" dy="1.6">2</tspan></text><path d="M274.7,927.5L274.7,941.8" stroke="#999" stroke-width="0.8" /><path d="M274.7,941.8L270.7,946.8" stroke="#999" stroke-width="0.8" /><text x="270.1" y="953.4" font-size="9.6" fill="#e8202a" text-anchor="middle">b<tspan font-size="6.8" dy="1.6">3</tspan></text><path d="M290.5,927.5L290.5,941.8" stroke="#999" stroke-width="0.8" /><path d="M290.5,927.5L294.5,922.5" stroke="#999" stroke-width="0.8" /><text x="295.7" y="921.6" font-size="9.6" fill="#e8202a" text-anchor="middle">y<tspan font-size="6.8" dy="1.6">4</tspan></text><path d="M290.5,941.8L286.5,946.8" stroke="#999" stroke-width="0.8" /><text x="285.9" y="953.4" font-size="9.6" fill="#e8202a" text-anchor="middle">b<tspan font-size="6.8" dy="1.6">4</tspan></text><path d="M306.6,927.5L306.6,941.8" stroke="#999" stroke-width="0.8" /><path d="M306.6,927.5L310.6,922.5" stroke="#999" stroke-width="0.8" /><text x="311.8" y="921.6" font-size="9.6" fill="#e8202a" text-anchor="middle">y<tspan font-size="6.8" dy="1.6">3</tspan></text><path d="M306.6,941.8L302.6,946.8" stroke="#999" stroke-width="0.8" /><text x="302" y="953.4" font-size="9.6" fill="#e8202a" text-anchor="middle">b<tspan font-size="6.8" dy="1.6">5</tspan></text><path d="M322.7,927.5L322.7,941.8" stroke="#999" stroke-width="0.8" /><path d="M322.7,927.5L326.7,922.5" stroke="#999" stroke-width="0.8" /><text x="327.9" y="921.6" font-size="9.6" fill="#e8202a" text-anchor="middle">y<tspan font-size="6.8" dy="1.6">2</tspan></text><path d="M322.7,941.8L318.7,946.8" stroke="#999" stroke-width="0.8" /><text x="318.1" y="953.4" font-size="9.6" fill="#e8202a" text-anchor="middle">b<tspan font-size="6.8" dy="1.6">6</tspan></text><path d="M338.9,927.5L338.9,941.8" stroke="#999" stroke-width="0.8" /><path d="M338.9,927.5L342.9,922.5" stroke="#999" stroke-width="0.8" /><text x="344.1" y="921.6" font-size="9.6" fill="#e8202a" text-anchor="middle">y<tspan font-size="6.8" dy="1.6">1</tspan></text><text x="562.2" y="880.4" font-size="16.9" fill="#222" text-anchor="middle" >DSG</text><path d="M509.4,914.2 L508.1,905.1 L495.3,901.1 L488.8,913.1 L499.3,922.7 L506.5,919.2" stroke="#444" stroke-width="0.9" fill="none"/><path d="M508.1,905.1 L514.6,898.4 M509,906.4 L515.6,899.6" stroke="#444" stroke-width="0.9" fill="none"/><path d="M499.3,922.7 L496.2,932.3 M500.7,923.3 L497.7,932.8" stroke="#444" stroke-width="0.9" fill="none"/><path d="M512.2,918.8 L517.5,921.6 M523.8,922.4 L533,917.1 L543.4,923.5 L554.7,917.1 L566.7,923.5 L577.2,917.1 L584.6,921.6" stroke="#444" stroke-width="0.9" fill="none"/><path d="M532.4,916.6 L532.4,907.4 M533.8,916.6 L533.8,907.4 M576.5,916.6 L576.5,907.4 M577.9,916.6 L577.9,907.4" stroke="#444" stroke-width="0.9" fill="none"/><path d="M591,921.8 L596.6,918.8" stroke="#444" stroke-width="0.9" fill="none"/><path d="M600.8,914.2 L601.2,903.9 L613.9,901.4 L620.6,912.6 L611.9,921.3 L603.2,919.2" stroke="#444" stroke-width="0.9" fill="none"/><path d="M601.2,903.9 L594.2,898.2 M600,905.2 L593.2,899.4" stroke="#444" stroke-width="0.9" fill="none"/><path d="M611.9,921.3 L612.8,931.5 M613.4,921.1 L614.3,931.3" stroke="#444" stroke-width="0.9" fill="none"/><text x="517.3" y="898.4" font-size="8.3" fill="#333" text-anchor="middle" >O</text><text x="494.5" y="938.6" font-size="8.3" fill="#333" text-anchor="middle" >O</text><text x="520.6" y="926.5" font-size="8.3" fill="#333" text-anchor="middle" >O</text><text x="531.7" y="907.3" font-size="8.3" fill="#333" text-anchor="middle" >O</text><text x="577.2" y="907.3" font-size="8.3" fill="#333" text-anchor="middle" >O</text><text x="587.9" y="926.8" font-size="8.3" fill="#333" text-anchor="middle" >O</text><text x="591" y="898.7" font-size="8.3" fill="#333" text-anchor="middle" >O</text><text x="613.9" y="938.1" font-size="8.3" fill="#333" text-anchor="middle" >O</text><text x="509.4" y="920.1" font-size="8.3" fill="#333" text-anchor="middle" >N</text><text x="599.6" y="920.2" font-size="8.3" fill="#333" text-anchor="middle" >N</text><path d="M526.6,934.6 V937.8 H585.8 V934.6 M556.3,937.8 V940.4" stroke="#555" stroke-width="0.9" fill="none"/><text x="559.2" y="959.9" font-size="15" fill="#222" text-anchor="middle" >7.7 Å</text><text x="496.1" y="1015.4" font-size="15.2" fill="#333" text-anchor="start" >[M] = 2128.976</text><text x="496.1" y="1033.4" font-size="15.2" fill="#333">M<tspan font-size="10.5" dy="3.2">theory</tspan><tspan dy="-3.2"> = 2128.992</tspan></text><text x="496.1" y="1051.4" font-size="15.2" fill="#333">[M]<tspan font-size="10.5" dy="-5.5">3+</tspan><tspan dy="5.5"> = 709.34</tspan></text><text x="496.1" y="1070.2" font-size="15.2" fill="#333" text-anchor="start" >Error = -7.301 ppm</text><text x="181.6" y="1247.3" font-size="10.7" fill="#333">103 Å</text><path d="M220.2,1189.4 H213.1 V1296.7 H220.2" fill="none" stroke="#333" stroke-width="1"/><text x="359.5" y="1219.4" font-size="11.8" fill="#333">90<tspan font-size="7.5" dy="-5.2">o</tspan></text><text x="286" y="1314.6" font-size="11.8" fill="#333">90<tspan font-size="7.5" dy="-5.2">o</tspan></text><text x="359" y="1367.8" font-size="11.8" fill="#333">90<tspan font-size="7.5" dy="-5.2">o</tspan></text><line x1="345.3" y1="1227.2" x2="385.9" y2="1227.2" stroke="#333" stroke-width="1.5"/><polygon points="385.4,1224.3 389.9,1227.2 385.4,1230.1" fill="#333"/><line x1="345.7" y1="1371.6" x2="385.9" y2="1371.6" stroke="#333" stroke-width="1.5"/><polygon points="385.4,1368.6 389.9,1371.6 385.4,1374.5" fill="#333"/><line x1="276.3" y1="1288.1" x2="276.3" y2="1323" stroke="#333" stroke-width="1.5"/><polygon points="274,1322.6 276.3,1326.9 278.6,1322.6" fill="#333"/><path d="M379,1234.6 C366.2,1235.1 356.2,1238.6 356.2,1242.8 C356.2,1248.1 368.2,1252.1 376.2,1252.3" fill="none" stroke="#555" stroke-width="0.9"/><polygon points="375.7,1250.8 378.7,1252.5 375.7,1254" fill="#444"/><path d="M379,1377.6 C366.2,1378.1 356.2,1381.6 356.2,1385.8 C356.2,1391.1 368.2,1395.1 376.2,1395.3" fill="none" stroke="#555" stroke-width="0.9"/><polygon points="375.7,1393.8 378.7,1395.5 375.7,1397" fill="#444"/><path d="M268.4,1318.7 C268,1305 264,1296 259.4,1296 C254.5,1296 251.2,1305 250.7,1316.5" fill="none" stroke="#555" stroke-width="0.9"/><polygon points="249.1,1316.3 250.7,1319.3 252.3,1316.3" fill="#444"/><text x="523.9" y="1192" font-size="10.8" fill="#333" text-anchor="start" >MFN2</text><text x="480.2" y="1230" font-size="10.9" fill="#333" text-anchor="start" >DIAPH1-DID-DD</text><text x="499.5" y="1267" font-size="10.8" fill="#333" text-anchor="start" >MFN2</text><ellipse cx="241" cy="1227" rx="14.4" ry="13.6" fill="#939393" fill-opacity="0.1" transform="rotate(0 241 1227)"/><path d="M239.2,1229 Q238.7,1233.2 236.8,1235.1 Q234.9,1236.9 234.8,1237.6 Q234.7,1238.3 232.8,1237.9 L230.9,1237.6" fill="none" stroke="#7c7c7c" stroke-width="0.8"/><path d="M228.1,1228.3 Q229.7,1229.4 229.1,1229.1 Q228.4,1228.9 229.9,1229.8 Q231.3,1230.7 232,1232.6 Q232.8,1234.6 230.2,1231.8 L227.5,1229.1" fill="none" stroke="#7c7c7c" stroke-width="0.8"/><path d="M254.6,1230.3 Q252.5,1231.4 250.7,1229.8 Q248.9,1228.2 247.6,1225.3 Q246.4,1222.3 243.9,1223.2 L241.4,1224.2" fill="none" stroke="#7c7c7c" stroke-width="0.8"/><path d="M237.6,1228.7 Q240.1,1226.5 238.5,1225.2 Q236.8,1223.9 234.3,1225.5 L231.7,1227.1" fill="none" stroke="#7c7c7c" stroke-width="0.8"/><path d="M237.4,1238.7 Q232.2,1232.9 233.3,1231.2 Q234.4,1229.5 237,1226.8 Q239.5,1224.1 238.8,1225.4 L238,1226.6" fill="none" stroke="#7c7c7c" stroke-width="0.8"/><path d="M238.1,1229.2 Q241.4,1226.4 238.9,1225.4 Q236.5,1224.4 239.2,1226 L242,1227.5" fill="none" stroke="#7c7c7c" stroke-width="0.8"/><path d="M227.2,1218.3 Q221.3,1217.9 221.3,1219 Q221.2,1220.1 219.3,1220.1 L217.4,1220.2" fill="none" stroke="#7c7c7c" stroke-width="0.8"/><path d="M238,1223 Q237.1,1219.6 235.7,1222.4 Q234.3,1225.2 236.2,1224 Q238,1222.9 240.3,1221.1 L242.6,1219.4" fill="none" stroke="#7c7c7c" stroke-width="0.8"/><path d="M237.1,1239 Q238.1,1233.5 236,1233.2 Q233.8,1232.8 230.9,1233.5 Q227.9,1234.1 229.9,1233.4 Q231.9,1232.8 229.4,1231 L226.8,1229.3" fill="none" stroke="#7c7c7c" stroke-width="0.8"/><path d="M236.2,1231.1 Q241.7,1230.9 242.2,1233.1 Q242.6,1235.3 240.7,1233.2 L238.8,1231.2" fill="none" stroke="#7c7c7c" stroke-width="0.8"/><path d="M234.2,1214.3L229.3,1217.2M235,1217.1L230.1,1220" stroke="#505050" stroke-width="0.8"/><path d="M228.5,1214.4L234.2,1214.3M229.3,1217.2L235,1217.1" stroke="#939393" stroke-width="1.8" stroke-linecap="round"/><path d="M254.3,1227.9L253.7,1232.3M257.2,1229.5L256.6,1234" stroke="#505050" stroke-width="0.8"/><path d="M250.8,1230.7L254.3,1227.9M253.7,1232.3L257.2,1229.5" stroke="#939393" stroke-width="1.8" stroke-linecap="round"/><path d="M233.3,1231.6L229.4,1234.5M234.2,1235.2L230.3,1238.1" stroke="#505050" stroke-width="0.8"/><path d="M228.5,1230.9L233.3,1231.6M229.4,1234.5L234.2,1235.2" stroke="#939393" stroke-width="1.8" stroke-linecap="round"/><path d="M231.8,1234.2L227.3,1233.6M230.7,1236.6L226.2,1236" stroke="#505050" stroke-width="0.8"/><path d="M228.4,1231.2L231.8,1234.2M227.3,1233.6L230.7,1236.6" stroke="#939393" stroke-width="1.8" stroke-linecap="round"/><path d="M243.9,1235.4L240.6,1238.6M245.1,1238.1L241.8,1241.2M246.3,1240.7L243,1243.8" stroke="#505050" stroke-width="0.8"/><path d="M239.4,1236L243.9,1235.4M240.6,1238.6L245.1,1238.1M241.8,1241.2L246.3,1240.7" stroke="#939393" stroke-width="1.8" stroke-linecap="round"/><path d="M240.6,1209.8L236.9,1213M241.7,1212.5L238.1,1215.6" stroke="#505050" stroke-width="0.8"/><path d="M235.8,1210.3L240.6,1209.8M236.9,1213L241.7,1212.5" stroke="#939393" stroke-width="1.8" stroke-linecap="round"/><path d="M243.6,1210.6L240.7,1215M245.5,1212.9L242.6,1217.2M247.4,1215.1L244.5,1219.5" stroke="#505050" stroke-width="0.8"/><path d="M238.8,1212.7L243.6,1210.6M240.7,1215L245.5,1212.9M242.6,1217.2L247.4,1215.1" stroke="#939393" stroke-width="1.8" stroke-linecap="round"/><path d="M250.3,1229.2L246,1229.2M249.3,1231.9L245,1231.8" stroke="#505050" stroke-width="0.8"/><path d="M246.9,1226.6L250.3,1229.2M246,1229.2L249.3,1231.9" stroke="#939393" stroke-width="1.8" stroke-linecap="round"/><path d="M241.2,1232.2L238.6,1236.6M243,1234.1L240.5,1238.4" stroke="#505050" stroke-width="0.8"/><path d="M236.8,1234.7L241.2,1232.2M238.6,1236.6L243,1234.1" stroke="#939393" stroke-width="1.8" stroke-linecap="round"/><path d="M253.3,1234.7L249.2,1230.9M251,1236.2L246.9,1232.4M248.7,1237.7L244.6,1233.8" stroke="#505050" stroke-width="0.8"/><path d="M251.5,1229.4L253.3,1234.7M249.2,1230.9L251,1236.2M246.9,1232.4L248.7,1237.7" stroke="#939393" stroke-width="1.8" stroke-linecap="round"/><path d="M238.7,1232.6L233.2,1232.4M237.6,1235.8L232,1235.5" stroke="#505050" stroke-width="0.8"/><path d="M234.4,1229.3L238.7,1232.6M233.2,1232.4L237.6,1235.8" stroke="#939393" stroke-width="1.8" stroke-linecap="round"/><path d="M254.8,1226.6L252.2,1230.8M257.1,1229.6L254.4,1233.9" stroke="#505050" stroke-width="0.8"/><path d="M250,1227.8L254.8,1226.6M252.2,1230.8L257.1,1229.6" stroke="#939393" stroke-width="1.8" stroke-linecap="round"/><path d="M247.3,1228.4L241.7,1228.7M246.6,1231.3L241,1231.6M246,1234.2L240.4,1234.5" stroke="#505050" stroke-width="0.8"/><path d="M242.3,1225.7L247.3,1228.4M241.7,1228.7L246.6,1231.3M241,1231.6L246,1234.2" stroke="#939393" stroke-width="1.8" stroke-linecap="round"/><path d="M251.7,1221.3L246.8,1223.2M251.6,1225.2L246.7,1227.1" stroke="#505050" stroke-width="0.8"/><path d="M246.8,1219.2L251.7,1221.3M246.8,1223.2L251.6,1225.2" stroke="#939393" stroke-width="1.8" stroke-linecap="round"/><path d="M241.6,1238L236.5,1237.8M240.9,1240.4L235.8,1240.3" stroke="#505050" stroke-width="0.8"/><path d="M237.2,1235.4L241.6,1238M236.5,1237.8L240.9,1240.4" stroke="#939393" stroke-width="1.8" stroke-linecap="round"/><path d="M242.8,1216.1L237.9,1217.7M242.6,1219.9L237.6,1221.5" stroke="#505050" stroke-width="0.8"/><path d="M238.2,1213.8L242.8,1216.1M237.9,1217.7L242.6,1219.9" stroke="#939393" stroke-width="1.8" stroke-linecap="round"/><path d="M247.3,1239.2L242.6,1241.9M247.9,1242.2L243.3,1244.9" stroke="#505050" stroke-width="0.8"/><path d="M242,1238.8L247.3,1239.2M242.6,1241.9L247.9,1242.2" stroke="#939393" stroke-width="1.8" stroke-linecap="round"/><path d="M232.3,1212.5L227.6,1214.8M232.8,1215.3L228,1217.6M233.3,1218.2L228.5,1220.4" stroke="#505050" stroke-width="0.8"/><path d="M227.1,1211.9L232.3,1212.5M227.6,1214.8L232.8,1215.3M228,1217.6L233.3,1218.2" stroke="#939393" stroke-width="1.8" stroke-linecap="round"/><path d="M240.4,1238L236.8,1241.4M241.7,1240.6L238.1,1244" stroke="#505050" stroke-width="0.8"/><path d="M235.5,1238.8L240.4,1238M236.8,1241.4L241.7,1240.6" stroke="#939393" stroke-width="1.8" stroke-linecap="round"/><path d="M257.3,1221.8L252.5,1222.5M256.4,1225.4L251.6,1226.1" stroke="#505050" stroke-width="0.8"/><path d="M253.4,1219L257.3,1221.8M252.5,1222.5L256.4,1225.4" stroke="#939393" stroke-width="1.8" stroke-linecap="round"/><path d="M230.9,1225.3L225.2,1226.5M230.4,1229.2L224.6,1230.4" stroke="#505050" stroke-width="0.8"/><path d="M225.7,1222.6L230.9,1225.3M225.2,1226.5L230.4,1229.2" stroke="#939393" stroke-width="1.8" stroke-linecap="round"/><path d="M233.3,1213L231.4,1217.3M235.7,1215.3L233.9,1219.7" stroke="#505050" stroke-width="0.8"/><path d="M229,1215L233.3,1213M231.4,1217.3L235.7,1215.3" stroke="#939393" stroke-width="1.8" stroke-linecap="round"/><path d="M232.3,1221.4L228.4,1225.4M233.8,1224.1L229.9,1228.1" stroke="#505050" stroke-width="0.8"/><path d="M226.8,1222.6L232.3,1221.4M228.4,1225.4L233.8,1224.1" stroke="#939393" stroke-width="1.8" stroke-linecap="round"/><path d="M250,1226.8L246.2,1230.7M251.6,1229.5L247.7,1233.4" stroke="#505050" stroke-width="0.8"/><path d="M244.7,1228L250,1226.8M246.2,1230.7L251.6,1229.5" stroke="#939393" stroke-width="1.8" stroke-linecap="round"/><path d="M254.9,1215.9L250.5,1218.4M255.5,1219.6L251.1,1222.1" stroke="#505050" stroke-width="0.8"/><path d="M250,1214.7L254.9,1215.9M250.5,1218.4L255.5,1219.6" stroke="#939393" stroke-width="1.8" stroke-linecap="round"/><path d="M248,1229.2L242.8,1231.3M248.4,1231.9L243.1,1234M248.8,1234.6L243.5,1236.7" stroke="#505050" stroke-width="0.8"/><path d="M242.4,1228.6L248,1229.2M242.8,1231.3L248.4,1231.9M243.1,1234L248.8,1234.6" stroke="#939393" stroke-width="1.8" stroke-linecap="round"/><path d="M249.3,1214.6L245.5,1217.8M250.3,1216.9L246.6,1220.1" stroke="#505050" stroke-width="0.8"/><path d="M244.4,1215.5L249.3,1214.6M245.5,1217.8L250.3,1216.9" stroke="#939393" stroke-width="1.8" stroke-linecap="round"/><path d="M250.7,1214.2L246.5,1216.5M251.2,1217.2L247,1219.5" stroke="#505050" stroke-width="0.8"/><path d="M245.9,1213.5L250.7,1214.2M246.5,1216.5L251.2,1217.2" stroke="#939393" stroke-width="1.8" stroke-linecap="round"/><ellipse cx="283" cy="1238" rx="16.8" ry="10.4" fill="#939393" fill-opacity="0.1" transform="rotate(0 283 1238)"/><path d="M281.9,1242 Q280.1,1240.6 283.1,1240.5 Q286,1240.4 286.9,1240.2 Q287.8,1239.9 290,1238.3 Q292.1,1236.7 289.1,1237.4 L286.2,1238.2" fill="none" stroke="#7c7c7c" stroke-width="0.8"/><path d="M303,1234.5 Q307.9,1229.2 309.8,1226.7 Q311.7,1224.1 312.9,1223.1 Q314,1222.2 313.4,1224.2 L312.8,1226.3" fill="none" stroke="#7c7c7c" stroke-width="0.8"/><path d="M300.4,1238.2 Q306.3,1237.3 305.9,1238.2 Q305.6,1239.2 308.4,1239.4 L311.2,1239.7" fill="none" stroke="#7c7c7c" stroke-width="0.8"/><path d="M299,1239.5 Q303.6,1240.1 303.7,1237.6 Q303.7,1235.1 304.4,1236.1 Q305,1237.2 304.8,1237.8 Q304.6,1238.5 304.9,1239.3 L305.1,1240.2" fill="none" stroke="#7c7c7c" stroke-width="0.8"/><path d="M295,1231.8 Q299.4,1230.4 298.3,1228.9 Q297.1,1227.4 296.1,1226.6 Q295.2,1225.9 295.6,1227.5 L296,1229" fill="none" stroke="#7c7c7c" stroke-width="0.8"/><path d="M269.5,1234.9 Q263.9,1229.2 264.9,1226.4 Q266,1223.7 264.2,1224.3 Q262.4,1225 264,1223.3 L265.5,1221.6" fill="none" stroke="#7c7c7c" stroke-width="0.8"/><path d="M265.2,1232.1 Q262.5,1230.2 263.4,1227.5 Q264.2,1224.8 263.9,1223.1 Q263.7,1221.3 262.4,1221.2 L261.1,1221" fill="none" stroke="#7c7c7c" stroke-width="0.8"/><path d="M302.2,1237.5 Q301.8,1238 299.9,1239.6 Q298,1241.2 296.3,1241.9 L294.6,1242.5" fill="none" stroke="#7c7c7c" stroke-width="0.8"/><path d="M298.5,1230.3L294.3,1227.9M295.5,1232.6L291.3,1230.2" stroke="#505050" stroke-width="0.8"/><path d="M297.3,1225.7L298.5,1230.3M294.3,1227.9L295.5,1232.6" stroke="#939393" stroke-width="1.8" stroke-linecap="round"/><path d="M269.8,1233.4L264.2,1234M269.4,1236.2L263.7,1236.8" stroke="#505050" stroke-width="0.8"/><path d="M264.6,1231.1L269.8,1233.4M264.2,1234L269.4,1236.2" stroke="#939393" stroke-width="1.8" stroke-linecap="round"/><path d="M300.2,1239.6L297,1244.1M302,1241.8L298.8,1246.2" stroke="#505050" stroke-width="0.8"/><path d="M295.2,1241.9L300.2,1239.6M297,1244.1L302,1241.8" stroke="#939393" stroke-width="1.8" stroke-linecap="round"/><path d="M284,1234.2L280.4,1237.5M285.2,1236.7L281.6,1240M286.4,1239.2L282.8,1242.6" stroke="#505050" stroke-width="0.8"/><path d="M279.1,1235L284,1234.2M280.4,1237.5L285.2,1236.7M281.6,1240L286.4,1239.2" stroke="#939393" stroke-width="1.8" stroke-linecap="round"/><path d="M295.6,1236.3L290.9,1235.9M294.7,1238.7L290,1238.3" stroke="#505050" stroke-width="0.8"/><path d="M291.9,1233.4L295.6,1236.3M290.9,1235.9L294.7,1238.7" stroke="#939393" stroke-width="1.8" stroke-linecap="round"/><path d="M300.2,1238.3L295.4,1240.6M300.8,1241.2L295.9,1243.6M301.3,1244.1L296.4,1246.5" stroke="#505050" stroke-width="0.8"/><path d="M294.9,1237.7L300.2,1238.3M295.4,1240.6L300.8,1241.2M295.9,1243.6L301.3,1244.1" stroke="#939393" stroke-width="1.8" stroke-linecap="round"/><path d="M285.1,1229.1L284.4,1234.1M287.8,1230.4L287.2,1235.3" stroke="#505050" stroke-width="0.8"/><path d="M281.7,1232.8L285.1,1229.1M284.4,1234.1L287.8,1230.4" stroke="#939393" stroke-width="1.8" stroke-linecap="round"/><path d="M268.2,1238.7L263.8,1237.2M266.2,1241.2L261.7,1239.7M264.1,1243.7L259.7,1242.2" stroke="#505050" stroke-width="0.8"/><path d="M265.8,1234.7L268.2,1238.7M263.8,1237.2L266.2,1241.2M261.7,1239.7L264.1,1243.7" stroke="#939393" stroke-width="1.8" stroke-linecap="round"/><path d="M266,1232.1L264.3,1237.8M269.1,1234.4L267.4,1240.1" stroke="#505050" stroke-width="0.8"/><path d="M261.1,1235.5L266,1232.1M264.3,1237.8L269.1,1234.4" stroke="#939393" stroke-width="1.8" stroke-linecap="round"/><path d="M287.4,1231.8L286.5,1236.2M289.8,1233.2L289,1237.6M292.3,1234.5L291.5,1238.9" stroke="#505050" stroke-width="0.8"/><path d="M284.1,1234.8L287.4,1231.8M286.5,1236.2L289.8,1233.2M289,1237.6L292.3,1234.5" stroke="#939393" stroke-width="1.8" stroke-linecap="round"/><path d="M264,1231.8L262.2,1237M266.6,1233.7L264.8,1238.9M269.2,1235.6L267.4,1240.8" stroke="#505050" stroke-width="0.8"/><path d="M259.6,1235.1L264,1231.8M262.2,1237L266.6,1233.7M264.8,1238.9L269.2,1235.6" stroke="#939393" stroke-width="1.8" stroke-linecap="round"/><path d="M291.8,1226L288.9,1230.5M293.7,1228.2L290.9,1232.7M295.7,1230.5L292.9,1235" stroke="#505050" stroke-width="0.8"/><path d="M287,1228.2L291.8,1226M288.9,1230.5L293.7,1228.2M290.9,1232.7L295.7,1230.5" stroke="#939393" stroke-width="1.8" stroke-linecap="round"/><path d="M282.7,1237.7L281.1,1242.9M285.8,1240.1L284.2,1245.4" stroke="#505050" stroke-width="0.8"/><path d="M277.9,1240.4L282.7,1237.7M281.1,1242.9L285.8,1240.1" stroke="#939393" stroke-width="1.8" stroke-linecap="round"/><path d="M287.8,1224.7L284.4,1227.9M289,1227.1L285.5,1230.3" stroke="#505050" stroke-width="0.8"/><path d="M283.2,1225.4L287.8,1224.7M284.4,1227.9L289,1227.1" stroke="#939393" stroke-width="1.8" stroke-linecap="round"/><path d="M292.1,1241.1L288.7,1245.2M293.8,1243.5L290.4,1247.6" stroke="#505050" stroke-width="0.8"/><path d="M287.1,1242.7L292.1,1241.1M288.7,1245.2L293.8,1243.5" stroke="#939393" stroke-width="1.8" stroke-linecap="round"/><path d="M288.8,1233.4L287.4,1238.5M291.4,1235L290,1240" stroke="#505050" stroke-width="0.8"/><path d="M284.9,1236.9L288.8,1233.4M287.4,1238.5L291.4,1235" stroke="#939393" stroke-width="1.8" stroke-linecap="round"/><path d="M285.5,1225.5L279.8,1225.7M284.4,1229L278.7,1229.2" stroke="#505050" stroke-width="0.8"/><path d="M280.9,1222.2L285.5,1225.5M279.8,1225.7L284.4,1229" stroke="#939393" stroke-width="1.8" stroke-linecap="round"/><path d="M298.2,1240.1L296,1244.2M300.5,1243.2L298.2,1247.2" stroke="#505050" stroke-width="0.8"/><path d="M293.7,1241.1L298.2,1240.1M296,1244.2L300.5,1243.2" stroke="#939393" stroke-width="1.8" stroke-linecap="round"/><path d="M302.3,1231.9L297.5,1233.6M302.3,1235.4L297.5,1237.1" stroke="#505050" stroke-width="0.8"/><path d="M297.5,1230.2L302.3,1231.9M297.5,1233.6L302.3,1235.4" stroke="#939393" stroke-width="1.8" stroke-linecap="round"/><path d="M294.3,1238.2L290,1234.9M292.3,1239.8L288,1236.6" stroke="#505050" stroke-width="0.8"/><path d="M292.1,1233.3L294.3,1238.2M290,1234.9L292.3,1239.8" stroke="#939393" stroke-width="1.8" stroke-linecap="round"/><ellipse cx="319" cy="1240" rx="14.4" ry="12" fill="#939393" fill-opacity="0.1" transform="rotate(0 319 1240)"/><path d="M310.3,1245.5 Q313.9,1250.2 314.8,1251.2 Q315.7,1252.2 317.9,1253 Q320.2,1253.9 318.3,1251.3 Q316.4,1248.7 318.5,1250.2 L320.6,1251.7" fill="none" stroke="#7c7c7c" stroke-width="0.8"/><path d="M332.9,1232.8 Q335.9,1238.2 337.6,1236.8 Q339.4,1235.3 341.5,1235.2 Q343.6,1235.1 345.1,1235.5 L346.7,1235.9" fill="none" stroke="#7c7c7c" stroke-width="0.8"/><path d="M316.4,1235.9 Q318.1,1237.7 317.2,1238.3 Q316.2,1238.9 317,1237.5 Q317.8,1236 317.5,1236.7 L317.2,1237.4" fill="none" stroke="#7c7c7c" stroke-width="0.8"/><path d="M336.5,1238.2 Q335.8,1234.3 334,1234.4 Q332.2,1234.6 330.8,1234.3 Q329.3,1234.1 329.9,1233.4 Q330.6,1232.8 328.3,1232.8 L326.1,1232.7" fill="none" stroke="#7c7c7c" stroke-width="0.8"/><path d="M309.4,1232 Q311.8,1227.6 311.4,1228.4 Q311,1229.1 310.8,1226.2 L310.6,1223.2" fill="none" stroke="#7c7c7c" stroke-width="0.8"/><path d="M316.2,1251 Q311.9,1254.7 314,1255.5 Q316,1256.3 313.9,1255.8 L311.9,1255.3" fill="none" stroke="#7c7c7c" stroke-width="0.8"/><path d="M329.9,1231 Q328.4,1233.6 326.2,1236.5 Q324,1239.3 324.6,1240.6 Q325.3,1242 323.5,1242.7 Q321.8,1243.4 322.3,1243.9 L322.8,1244.5" fill="none" stroke="#7c7c7c" stroke-width="0.8"/><path d="M313.9,1246.8 Q310.1,1243.1 311.8,1243.4 Q313.5,1243.8 315.9,1241.8 Q318.3,1239.8 317.9,1240.3 L317.5,1240.9" fill="none" stroke="#7c7c7c" stroke-width="0.8"/><path d="M330,1245.8 Q333.9,1247.6 334.1,1245.3 Q334.2,1243.1 333.1,1242.5 Q332,1242 334.4,1242.4 L336.8,1242.7" fill="none" stroke="#7c7c7c" stroke-width="0.8"/><path d="M326.1,1253.1 Q324.5,1257.1 321.6,1256.1 Q318.6,1255.1 318.6,1258 Q318.5,1260.8 318.6,1260.6 Q318.7,1260.5 319.8,1259.2 L320.8,1258" fill="none" stroke="#7c7c7c" stroke-width="0.8"/><path d="M312.3,1243.3L308,1245.9M312.9,1247L308.6,1249.5" stroke="#505050" stroke-width="0.8"/><path d="M307.4,1242.3L312.3,1243.3M308,1245.9L312.9,1247" stroke="#939393" stroke-width="1.8" stroke-linecap="round"/><path d="M311,1231.2L307.8,1234.8M312.5,1233.7L309.3,1237.3" stroke="#505050" stroke-width="0.8"/><path d="M306.3,1232.3L311,1231.2M307.8,1234.8L312.5,1233.7" stroke="#939393" stroke-width="1.8" stroke-linecap="round"/><path d="M329.4,1228L327.2,1232.3M331.6,1230.3L329.4,1234.5" stroke="#505050" stroke-width="0.8"/><path d="M325.1,1230L329.4,1228M327.2,1232.3L331.6,1230.3" stroke="#939393" stroke-width="1.8" stroke-linecap="round"/><path d="M317.9,1225.8L314.3,1228.3M318.7,1228.6L315,1231M319.4,1231.3L315.8,1233.7" stroke="#505050" stroke-width="0.8"/><path d="M313.5,1225.6L317.9,1225.8M314.3,1228.3L318.7,1228.6M315,1231L319.4,1231.3" stroke="#939393" stroke-width="1.8" stroke-linecap="round"/><path d="M332,1229.5L328.7,1232.4M333.1,1231.8L329.8,1234.8" stroke="#505050" stroke-width="0.8"/><path d="M327.7,1230.1L332,1229.5M328.7,1232.4L333.1,1231.8" stroke="#939393" stroke-width="1.8" stroke-linecap="round"/><path d="M316.8,1235.4L311.2,1236.8M316.8,1238.3L311.2,1239.7M316.8,1241.1L311.2,1242.5" stroke="#505050" stroke-width="0.8"/><path d="M311.2,1234L316.8,1235.4M311.2,1236.8L316.8,1238.3M311.2,1239.7L316.8,1241.1" stroke="#939393" stroke-width="1.8" stroke-linecap="round"/><path d="M305.4,1239.8L299.9,1240.7M305.1,1242.9L299.5,1243.9" stroke="#505050" stroke-width="0.8"/><path d="M300.2,1237.6L305.4,1239.8M299.9,1240.7L305.1,1242.9" stroke="#939393" stroke-width="1.8" stroke-linecap="round"/><path d="M323,1227.8L318.5,1228.5M322.6,1230.3L318.1,1231" stroke="#505050" stroke-width="0.8"/><path d="M318.8,1226L323,1227.8M318.5,1228.5L322.6,1230.3" stroke="#939393" stroke-width="1.8" stroke-linecap="round"/><path d="M319.3,1233.4L316.2,1237.8M321.2,1235.7L318.1,1240" stroke="#505050" stroke-width="0.8"/><path d="M314.4,1235.5L319.3,1233.4M316.2,1237.8L321.2,1235.7" stroke="#939393" stroke-width="1.8" stroke-linecap="round"/><path d="M322.5,1251.4L317.3,1252.1M321.8,1254.8L316.6,1255.4" stroke="#505050" stroke-width="0.8"/><path d="M318,1248.8L322.5,1251.4M317.3,1252.1L321.8,1254.8" stroke="#939393" stroke-width="1.8" stroke-linecap="round"/><path d="M325.5,1248.4L321,1250.6M326,1251.1L321.5,1253.4" stroke="#505050" stroke-width="0.8"/><path d="M320.5,1247.9L325.5,1248.4M321,1250.6L326,1251.1" stroke="#939393" stroke-width="1.8" stroke-linecap="round"/><path d="M332.1,1238.5L327.7,1242.1M333.4,1241.3L329,1245" stroke="#505050" stroke-width="0.8"/><path d="M326.4,1239.3L332.1,1238.5M327.7,1242.1L333.4,1241.3" stroke="#939393" stroke-width="1.8" stroke-linecap="round"/><path d="M313.3,1225.2L309.7,1228.1M314.2,1229L310.6,1231.9" stroke="#505050" stroke-width="0.8"/><path d="M308.8,1224.3L313.3,1225.2M309.7,1228.1L314.2,1229" stroke="#939393" stroke-width="1.8" stroke-linecap="round"/><path d="M328.4,1247.4L323.8,1250.3M329.3,1250.2L324.7,1253.2M330.2,1253.1L325.5,1256.1" stroke="#505050" stroke-width="0.8"/><path d="M322.9,1247.4L328.4,1247.4M323.8,1250.3L329.3,1250.2M324.7,1253.2L330.2,1253.1" stroke="#939393" stroke-width="1.8" stroke-linecap="round"/><path d="M318.8,1242L313.7,1243.8M319,1245.1L313.8,1246.9" stroke="#505050" stroke-width="0.8"/><path d="M313.5,1240.7L318.8,1242M313.7,1243.8L319,1245.1" stroke="#939393" stroke-width="1.8" stroke-linecap="round"/><path d="M304.4,1230.5L302.2,1234.9M306.6,1232.5L304.4,1237M308.7,1234.6L306.5,1239.1" stroke="#505050" stroke-width="0.8"/><path d="M300.1,1232.8L304.4,1230.5M302.2,1234.9L306.6,1232.5M304.4,1237L308.7,1234.6" stroke="#939393" stroke-width="1.8" stroke-linecap="round"/><path d="M312.3,1246.6L308.6,1249.3M313.2,1249L309.4,1251.7" stroke="#505050" stroke-width="0.8"/><path d="M307.7,1246.9L312.3,1246.6M308.6,1249.3L313.2,1249" stroke="#939393" stroke-width="1.8" stroke-linecap="round"/><path d="M311.3,1247.1L307.3,1249.9M312.1,1249.8L308.1,1252.6M313,1252.5L309,1255.2" stroke="#505050" stroke-width="0.8"/><path d="M306.4,1247.2L311.3,1247.1M307.3,1249.9L312.1,1249.8M308.1,1252.6L313,1252.5" stroke="#939393" stroke-width="1.8" stroke-linecap="round"/><path d="M317.9,1230.1L317.4,1234.7M321,1231.9L320.5,1236.5" stroke="#505050" stroke-width="0.8"/><path d="M314.3,1232.9L317.9,1230.1M317.4,1234.7L321,1231.9" stroke="#939393" stroke-width="1.8" stroke-linecap="round"/><path d="M316.8,1237.5L312.1,1239.6M317.2,1240.4L312.5,1242.5" stroke="#505050" stroke-width="0.8"/><path d="M311.7,1236.8L316.8,1237.5M312.1,1239.6L317.2,1240.4" stroke="#939393" stroke-width="1.8" stroke-linecap="round"/><path d="M324.8,1232.4L319.5,1234.3M324.9,1236L319.6,1237.8" stroke="#505050" stroke-width="0.8"/><path d="M319.5,1230.7L324.8,1232.4M319.5,1234.3L324.9,1236" stroke="#939393" stroke-width="1.8" stroke-linecap="round"/><path d="M309.6,1244.5L306.8,1248.7M311.7,1247.6L308.9,1251.8" stroke="#505050" stroke-width="0.8"/><path d="M304.7,1245.5L309.6,1244.5M306.8,1248.7L311.7,1247.6" stroke="#939393" stroke-width="1.8" stroke-linecap="round"/><path d="M305.3,1238.1L300.5,1240.2M305.5,1241.6L300.7,1243.7" stroke="#505050" stroke-width="0.8"/><path d="M300.2,1236.8L305.3,1238.1M300.5,1240.2L305.5,1241.6" stroke="#939393" stroke-width="1.8" stroke-linecap="round"/><path d="M311.4,1238.8L307.6,1241.9M312.4,1241L308.7,1244.2" stroke="#505050" stroke-width="0.8"/><path d="M306.6,1239.6L311.4,1238.8M307.6,1241.9L312.4,1241" stroke="#939393" stroke-width="1.8" stroke-linecap="round"/><path d="M330,1232.6L326.1,1235.9M331.2,1236.4L327.3,1239.6" stroke="#505050" stroke-width="0.8"/><path d="M325,1232.2L330,1232.6M326.1,1235.9L331.2,1236.4" stroke="#939393" stroke-width="1.8" stroke-linecap="round"/><path d="M333,1243L328.4,1246M333.8,1246.8L329.3,1249.8" stroke="#505050" stroke-width="0.8"/><path d="M327.6,1242.1L333,1243M328.4,1246L333.8,1246.8" stroke="#939393" stroke-width="1.8" stroke-linecap="round"/><path d="M324.4,1231L320.2,1232.6M324.2,1234.7L320,1236.3" stroke="#505050" stroke-width="0.8"/><path d="M320.4,1228.9L324.4,1231M320.2,1232.6L324.2,1234.7" stroke="#939393" stroke-width="1.8" stroke-linecap="round"/><path d="M326.9,1241.8L321.5,1243M326.5,1245.3L321.1,1246.6" stroke="#505050" stroke-width="0.8"/><path d="M321.8,1239.5L326.9,1241.8M321.5,1243L326.5,1245.3" stroke="#939393" stroke-width="1.8" stroke-linecap="round"/><path d="M263,1243L263.9,1248.8M266.3,1243.5L267.2,1249.2M269.6,1243.9L270.5,1249.6M272.8,1244.3L273.8,1250.1M276.1,1244.7L277,1250.5" stroke="#505050" stroke-width="0.8"/><path d="M260.6,1248.4L263,1243M263.9,1248.8L266.3,1243.5M267.2,1249.2L269.6,1243.9M270.5,1249.6L272.8,1244.3M273.8,1250.1L276.1,1244.7" stroke="#939393" stroke-width="1.8" stroke-linecap="round"/><path d="M271.3,1221.3L272.7,1227.4M274.9,1221.6L276.2,1227.7M278.4,1221.8L279.8,1227.9M282,1222.1L283.4,1228.2" stroke="#0e0e0e" stroke-width="0.8"/><path d="M269.1,1227.2L271.3,1221.3M272.7,1227.4L274.9,1221.6M276.2,1227.7L278.4,1221.8M279.8,1227.9L282,1222.1" stroke="#1a1a1a" stroke-width="1.8" stroke-linecap="round"/><path d="M277.3,1232.6L278.1,1238.8M280.4,1233L281.1,1239.2M283.4,1233.4L284.2,1239.6M286.5,1233.8L287.3,1240M289.6,1234.2L290.3,1240.4" stroke="#0e0e0e" stroke-width="0.8"/><path d="M275,1238.4L277.3,1232.6M278.1,1238.8L280.4,1233M281.1,1239.2L283.4,1233.4M284.2,1239.6L286.5,1233.8M287.3,1240L289.6,1234.2" stroke="#1a1a1a" stroke-width="1.8" stroke-linecap="round"/><ellipse cx="280" cy="1230" rx="6.4" ry="4.8" fill="#1a1a1a" fill-opacity="0.1" transform="rotate(0 280 1230)"/><path d="M273.7,1232.4 Q274,1229.3 275.4,1228.1 Q276.8,1226.8 274.2,1226.5 Q271.7,1226.2 271.5,1228.5 Q271.3,1230.7 270.6,1233.2 L270,1235.6" fill="none" stroke="#161616" stroke-width="0.8"/><path d="M276.2,1234.4 Q274.5,1231.5 276.3,1232.3 Q278.1,1233.1 276,1233.4 Q273.9,1233.7 274.9,1231.7 L275.9,1229.7" fill="none" stroke="#161616" stroke-width="0.8"/><path d="M282.4,1225.4 Q276.7,1222.7 278.8,1222 Q281,1221.3 281.5,1223.9 Q282,1226.5 284.3,1224.1 L286.7,1221.6" fill="none" stroke="#161616" stroke-width="0.8"/><path d="M282.2,1234.6 Q283.3,1236.2 281.4,1233.8 Q279.5,1231.3 281.7,1231.4 Q283.9,1231.5 282.1,1231.2 Q280.3,1230.9 278.6,1232.7 L276.9,1234.5" fill="none" stroke="#161616" stroke-width="0.8"/><path d="M282.1,1226.5L278.8,1223.4M280.3,1227.7L276.9,1224.6" stroke="#0e0e0e" stroke-width="0.8"/><path d="M280.7,1222.2L282.1,1226.5M278.8,1223.4L280.3,1227.7" stroke="#1a1a1a" stroke-width="1.8" stroke-linecap="round"/><path d="M273,1227.4L273.1,1232.7M276.1,1228.3L276.2,1233.7" stroke="#0e0e0e" stroke-width="0.8"/><path d="M270,1231.8L273,1227.4M273.1,1232.7L276.1,1228.3" stroke="#1a1a1a" stroke-width="1.8" stroke-linecap="round"/><path d="M283,1227.8L278.1,1229.6M283.1,1230.9L278.2,1232.7" stroke="#0e0e0e" stroke-width="0.8"/><path d="M277.9,1226.5L283,1227.8M278.1,1229.6L283.1,1230.9" stroke="#1a1a1a" stroke-width="1.8" stroke-linecap="round"/><ellipse cx="323" cy="1202" rx="15.2" ry="16.8" fill="#e8982c" fill-opacity="0.1" transform="rotate(0 323 1202)"/><path d="M331.9,1187.6 Q326.1,1192.1 327.2,1194.3 Q328.3,1196.4 331.3,1194.9 L334.3,1193.3" fill="none" stroke="#c58125" stroke-width="0.8"/><path d="M316.8,1210.7 Q315.5,1208.8 318.1,1207.1 Q320.7,1205.3 319.9,1204.2 Q319,1203.1 317.8,1204.4 L316.7,1205.8" fill="none" stroke="#c58125" stroke-width="0.8"/><path d="M319.9,1205.2 Q319.8,1204.7 321.6,1204.4 Q323.4,1204 322.3,1205.2 Q321.2,1206.3 320.9,1208 L320.6,1209.7" fill="none" stroke="#c58125" stroke-width="0.8"/><path d="M311.4,1203.4 Q316.6,1205.7 318,1204.4 Q319.3,1203.1 319.2,1205.4 Q319.2,1207.8 316.8,1205.4 Q314.4,1203.1 311.7,1203 L309,1202.8" fill="none" stroke="#c58125" stroke-width="0.8"/><path d="M335.9,1204.3 Q341,1201.1 341.2,1201.1 Q341.5,1201.1 339,1199.9 Q336.4,1198.8 334.4,1199.5 L332.4,1200.3" fill="none" stroke="#c58125" stroke-width="0.8"/><path d="M318.7,1201 Q322,1204.1 324.1,1202.7 Q326.1,1201.3 323.9,1202.4 Q321.8,1203.4 321.1,1200.5 L320.5,1197.6" fill="none" stroke="#c58125" stroke-width="0.8"/><path d="M321.1,1183.5 Q317,1183.4 316.9,1186.3 Q316.8,1189.2 314,1186.5 Q311.3,1183.9 313.3,1184.3 L315.4,1184.7" fill="none" stroke="#c58125" stroke-width="0.8"/><path d="M321.5,1213.6 Q320.9,1216.3 322,1216.9 Q323.1,1217.6 320.4,1219.1 Q317.7,1220.6 319.7,1220.2 Q321.8,1219.8 319.1,1222.5 L316.4,1225.1" fill="none" stroke="#c58125" stroke-width="0.8"/><path d="M315.4,1199.7 Q319.3,1203.3 321.7,1205.6 Q324,1208 321.1,1209 Q318.2,1210 317.3,1209.4 Q316.4,1208.7 316.5,1206.5 L316.6,1204.4" fill="none" stroke="#c58125" stroke-width="0.8"/><path d="M316.5,1219.3 Q317.6,1219.2 314.6,1218.3 Q311.6,1217.5 310,1220 Q308.3,1222.6 310.4,1223.4 Q312.6,1224.3 312.6,1226.9 L312.6,1229.6" fill="none" stroke="#c58125" stroke-width="0.8"/><path d="M319.1,1217.7 Q317.1,1215.5 316.9,1216.1 Q316.7,1216.8 317.4,1217.3 L318.1,1217.7" fill="none" stroke="#c58125" stroke-width="0.8"/><path d="M326,1185.2 Q328.5,1184.7 326.5,1182.9 Q324.5,1181.1 324.7,1181.8 L325,1182.5" fill="none" stroke="#c58125" stroke-width="0.8"/><polygon points="311.8,1199.9 318,1199.1 318.1,1200.4 320.8,1197.4 317.5,1195.2 317.6,1196.5 311.5,1197.3" fill="#e8982c" stroke="#8b5b1a" stroke-width="0.4"/><polygon points="330.3,1210.4 333.4,1204.7 334.6,1205.4 333.7,1201.5 330,1202.9 331.1,1203.5 328,1209.1" fill="#e8982c" stroke="#8b5b1a" stroke-width="0.4"/><polygon points="343.2,1201.9 338.6,1198.4 339.4,1197.3 335.4,1197.6 336.2,1201.5 337,1200.4 341.6,1204" fill="#e8982c" stroke="#8b5b1a" stroke-width="0.4"/><polygon points="317.9,1209.3 315.5,1212.4 314.4,1211.6 314.6,1215.6 318.5,1214.9 317.5,1214 319.9,1211" fill="#e8982c" stroke="#8b5b1a" stroke-width="0.4"/><polygon points="322.3,1189.6 326.2,1191.3 325.6,1192.5 329.4,1191.4 327.8,1187.8 327.2,1189 323.4,1187.2" fill="#e8982c" stroke="#8b5b1a" stroke-width="0.4"/><polygon points="333.6,1195.9 337.5,1202.2 336.4,1202.9 340.2,1204 340.8,1200.1 339.7,1200.8 335.8,1194.5" fill="#e8982c" stroke="#8b5b1a" stroke-width="0.4"/><polygon points="314.3,1210.4 317.8,1207 318.7,1208 319,1204 315.1,1204.2 316,1205.2 312.5,1208.5" fill="#e8982c" stroke="#8b5b1a" stroke-width="0.4"/><polygon points="309.1,1208.4 312.3,1214.3 311.2,1214.9 314.9,1216.3 315.7,1212.4 314.6,1213 311.3,1207.1" fill="#e8982c" stroke="#8b5b1a" stroke-width="0.4"/><polygon points="317.8,1187.8 321.8,1189.6 321.3,1190.8 325.1,1189.7 323.4,1186.1 322.9,1187.2 318.9,1185.4" fill="#e8982c" stroke="#8b5b1a" stroke-width="0.4"/><polygon points="324.6,1216.1 320.6,1209.3 321.7,1208.7 318,1207.4 317.3,1211.3 318.4,1210.7 322.4,1217.5" fill="#e8982c" stroke="#8b5b1a" stroke-width="0.4"/><polygon points="324,1199.7 322.1,1197.1 323.2,1196.4 319.3,1195.4 319,1199.4 320,1198.6 321.8,1201.2" fill="#e8982c" stroke="#8b5b1a" stroke-width="0.4"/><polygon points="331.3,1194.5 327.4,1200.9 326.3,1200.2 327,1204.1 330.8,1202.9 329.7,1202.2 333.5,1195.8" fill="#e8982c" stroke="#8b5b1a" stroke-width="0.4"/><polygon points="330.2,1189.5 325.2,1191 324.8,1189.8 322.7,1193.1 326.3,1194.8 325.9,1193.5 330.9,1192" fill="#e8982c" stroke="#8b5b1a" stroke-width="0.4"/><polygon points="326.2,1199.7 330.7,1204.1 329.8,1205.1 333.7,1205.3 333.4,1201.4 332.5,1202.3 328,1197.8" fill="#e8982c" stroke="#8b5b1a" stroke-width="0.4"/><path d="M316.9,1216.4L313.9,1220.5M318.9,1219.8L315.8,1223.9" stroke="#7f5318" stroke-width="0.8"/><path d="M311.9,1217.1L316.9,1216.4M313.9,1220.5L318.9,1219.8" stroke="#e8982c" stroke-width="1.8" stroke-linecap="round"/><path d="M312.2,1202.2L308.3,1204.9M313.1,1204.7L309.1,1207.5" stroke="#7f5318" stroke-width="0.8"/><path d="M307.4,1202.3L312.2,1202.2M308.3,1204.9L313.1,1204.7" stroke="#e8982c" stroke-width="1.8" stroke-linecap="round"/><path d="M319.1,1220.8L315.5,1216.4M316.3,1222L312.7,1217.6" stroke="#7f5318" stroke-width="0.8"/><path d="M318.2,1215.2L319.1,1220.8M315.5,1216.4L316.3,1222" stroke="#e8982c" stroke-width="1.8" stroke-linecap="round"/><path d="M315,1195.6L312.5,1199.6M317.2,1198.7L314.8,1202.8" stroke="#7f5318" stroke-width="0.8"/><path d="M310.3,1196.5L315,1195.6M312.5,1199.6L317.2,1198.7" stroke="#e8982c" stroke-width="1.8" stroke-linecap="round"/><path d="M311.1,1189.1L308.3,1193.4M313.2,1191.8L310.4,1196.1" stroke="#7f5318" stroke-width="0.8"/><path d="M306.2,1190.7L311.1,1189.1M308.3,1193.4L313.2,1191.8" stroke="#e8982c" stroke-width="1.8" stroke-linecap="round"/><path d="M342.6,1200L338.1,1201.1M342.4,1202.7L338,1203.8" stroke="#7f5318" stroke-width="0.8"/><path d="M338.3,1198.4L342.6,1200M338.1,1201.1L342.4,1202.7" stroke="#e8982c" stroke-width="1.8" stroke-linecap="round"/><path d="M314.3,1190.5L310,1193.8M315.3,1194.1L311.1,1197.4" stroke="#7f5318" stroke-width="0.8"/><path d="M308.9,1190.1L314.3,1190.5M310,1193.8L315.3,1194.1" stroke="#e8982c" stroke-width="1.8" stroke-linecap="round"/><path d="M331.7,1214.1L329.4,1210M328.3,1214.6L326,1210.6" stroke="#7f5318" stroke-width="0.8"/><path d="M332.8,1209.5L331.7,1214.1M329.4,1210L328.3,1214.6" stroke="#e8982c" stroke-width="1.8" stroke-linecap="round"/><path d="M335.8,1193.4L332.5,1196.9M337.3,1196.1L334,1199.7" stroke="#7f5318" stroke-width="0.8"/><path d="M331,1194.1L335.8,1193.4M332.5,1196.9L337.3,1196.1" stroke="#e8982c" stroke-width="1.8" stroke-linecap="round"/><path d="M335.7,1204L333.1,1199.4M331.8,1204.5L329.2,1199.9" stroke="#7f5318" stroke-width="0.8"/><path d="M337,1198.9L335.7,1204M333.1,1199.4L331.8,1204.5" stroke="#e8982c" stroke-width="1.8" stroke-linecap="round"/><path d="M303,1192.7L303.9,1198.9M306.3,1193.2L307.2,1199.4M309.7,1193.6L310.6,1199.8M313,1194.1L313.9,1200.2M316.4,1194.5L317.3,1200.7M319.8,1195L320.7,1201.1M323.1,1195.4L324,1201.6" stroke="#7f5318" stroke-width="0.8"/><path d="M300.5,1198.5L303,1192.7M303.9,1198.9L306.3,1193.2M307.2,1199.4L309.7,1193.6M310.6,1199.8L313,1194.1M313.9,1200.2L316.4,1194.5M317.3,1200.7L319.8,1195M320.7,1201.1L323.1,1195.4" stroke="#e8982c" stroke-width="1.8" stroke-linecap="round"/><path d="M316.8,1175.8L316,1182.3M319.8,1176.9L319,1183.5M322.7,1178L321.9,1184.6M325.7,1179.2L324.9,1185.7M328.6,1180.3L327.8,1186.9M331.6,1181.4L330.8,1188M334.6,1182.6L333.7,1189.1M337.5,1183.7L336.7,1190.3M340.5,1184.8L339.7,1191.4" stroke="#7f5318" stroke-width="0.8"/><path d="M313.1,1181.2L316.8,1175.8M316,1182.3L319.8,1176.9M319,1183.5L322.7,1178M321.9,1184.6L325.7,1179.2M324.9,1185.7L328.6,1180.3M327.8,1186.9L331.6,1181.4M330.8,1188L334.6,1182.6M333.7,1189.1L337.5,1183.7M336.7,1190.3L340.5,1184.8" stroke="#e8982c" stroke-width="1.8" stroke-linecap="round"/><path d="M333,1211.9L329.3,1215.8M334.5,1214.4L330.8,1218.3M336,1216.9L332.3,1220.8M337.5,1219.4L333.8,1223.3" stroke="#7f5318" stroke-width="0.8"/><path d="M327.8,1213.3L333,1211.9M329.3,1215.8L334.5,1214.4M330.8,1218.3L336,1216.9M332.3,1220.8L337.5,1219.4" stroke="#e8982c" stroke-width="1.8" stroke-linecap="round"/><ellipse cx="237" cy="1272" rx="16" ry="18.4" fill="#e8982c" fill-opacity="0.1" transform="rotate(0 237 1272)"/><path d="M231.4,1271.1 Q228.1,1265.1 230.3,1266.4 Q232.4,1267.7 230.8,1266 Q229.2,1264.3 228,1266.2 L226.8,1268.1" fill="none" stroke="#c58125" stroke-width="0.8"/><path d="M243.6,1292.7 Q241.3,1296.2 244.1,1294.7 Q246.8,1293.2 249.2,1295.1 Q251.5,1296.9 252.5,1294.1 Q253.6,1291.3 253.3,1292 L253,1292.8" fill="none" stroke="#c58125" stroke-width="0.8"/><path d="M228.8,1259.3 Q227.1,1258.3 224.7,1258.3 Q222.2,1258.2 222.3,1256.3 Q222.4,1254.3 222.8,1254.8 L223.1,1255.3" fill="none" stroke="#c58125" stroke-width="0.8"/><path d="M228.3,1252.8 Q228.5,1249.6 226.5,1248.4 Q224.4,1247.3 224.2,1244.7 L223.9,1242.1" fill="none" stroke="#c58125" stroke-width="0.8"/><path d="M244.9,1282.4 Q244.3,1286.8 241.4,1288.8 Q238.4,1290.9 239.6,1288.6 L240.8,1286.4" fill="none" stroke="#c58125" stroke-width="0.8"/><path d="M243.1,1293.5 Q239.9,1292.4 239.1,1292.6 Q238.3,1292.8 239.3,1292.2 Q240.3,1291.6 239.2,1291.7 Q238.1,1291.8 240.8,1293.5 L243.5,1295.2" fill="none" stroke="#c58125" stroke-width="0.8"/><path d="M243.2,1286.5 Q241,1289 241.3,1287.5 Q241.5,1285.9 240.9,1283.2 L240.2,1280.5" fill="none" stroke="#c58125" stroke-width="0.8"/><path d="M250.7,1282.9 Q256,1286.1 253.9,1286.9 Q251.8,1287.7 250.3,1285.8 L248.9,1283.9" fill="none" stroke="#c58125" stroke-width="0.8"/><path d="M217.4,1273.1 Q212.6,1268.9 212,1266.1 Q211.3,1263.4 211.1,1264.7 L210.9,1266.1" fill="none" stroke="#c58125" stroke-width="0.8"/><path d="M235.4,1250.8 Q237.9,1249.9 236.4,1252.7 Q234.9,1255.5 234.2,1257.4 L233.5,1259.2" fill="none" stroke="#c58125" stroke-width="0.8"/><path d="M221.5,1278.1 Q216.9,1277.3 218.9,1275.7 Q221,1274.1 223.3,1276.4 Q225.6,1278.6 225.2,1277 L224.8,1275.3" fill="none" stroke="#c58125" stroke-width="0.8"/><path d="M224.3,1279.7 Q228.7,1276.2 228.2,1273.3 Q227.8,1270.4 226.6,1269.2 L225.4,1268" fill="none" stroke="#c58125" stroke-width="0.8"/><polygon points="241.1,1271.5 235.2,1272.5 235,1271.2 232.5,1274.3 235.9,1276.4 235.7,1275.1 241.5,1274" fill="#e8982c" stroke="#8b5b1a" stroke-width="0.4"/><polygon points="232.4,1270.5 237.8,1273.4 237.2,1274.5 241.1,1273.7 239.7,1270 239.1,1271.1 233.7,1268.2" fill="#e8982c" stroke="#8b5b1a" stroke-width="0.4"/><polygon points="244.1,1277.9 242.1,1282.8 240.9,1282.3 242.1,1286.1 245.7,1284.3 244.5,1283.8 246.5,1278.9" fill="#e8982c" stroke="#8b5b1a" stroke-width="0.4"/><polygon points="245.2,1282.4 249.6,1283.9 249.2,1285.2 252.8,1283.7 250.8,1280.2 250.4,1281.5 246,1280" fill="#e8982c" stroke="#8b5b1a" stroke-width="0.4"/><polygon points="226.3,1278.3 222.3,1281.2 221.5,1280.1 220.6,1283.9 224.5,1284.3 223.8,1283.3 227.8,1280.4" fill="#e8982c" stroke="#8b5b1a" stroke-width="0.4"/><polygon points="228.1,1274.1 226.8,1268 228.1,1267.8 225,1265.4 223,1268.8 224.3,1268.6 225.5,1274.6" fill="#e8982c" stroke="#8b5b1a" stroke-width="0.4"/><polygon points="229,1268.4 226.6,1266.1 227.5,1265.2 223.6,1264.9 223.9,1268.9 224.8,1268 227.2,1270.3" fill="#e8982c" stroke="#8b5b1a" stroke-width="0.4"/><polygon points="237.8,1258.3 244,1256.5 244.3,1257.8 246.5,1254.4 242.9,1252.8 243.3,1254 237.1,1255.8" fill="#e8982c" stroke="#8b5b1a" stroke-width="0.4"/><polygon points="224,1277.1 228.1,1271.1 229.2,1271.8 228.8,1267.9 224.9,1268.9 226,1269.6 221.9,1275.6" fill="#e8982c" stroke="#8b5b1a" stroke-width="0.4"/><polygon points="245,1283.5 244.7,1276 246,1275.9 243.2,1273 240.8,1276.2 242.1,1276.1 242.4,1283.7" fill="#e8982c" stroke="#8b5b1a" stroke-width="0.4"/><polygon points="237.5,1281.7 239.1,1276.4 240.4,1276.8 238.8,1273.2 235.4,1275.3 236.6,1275.6 235,1280.9" fill="#e8982c" stroke="#8b5b1a" stroke-width="0.4"/><polygon points="227.4,1271 223.6,1276.3 222.5,1275.6 222.9,1279.5 226.8,1278.6 225.7,1277.9 229.6,1272.5" fill="#e8982c" stroke="#8b5b1a" stroke-width="0.4"/><polygon points="225.5,1280.5 225.7,1276.9 227,1277 224.6,1273.9 221.8,1276.7 223.1,1276.8 222.9,1280.4" fill="#e8982c" stroke="#8b5b1a" stroke-width="0.4"/><polygon points="222.6,1266.6 224,1269.8 222.8,1270.3 226.4,1272 227.6,1268.2 226.4,1268.7 224.9,1265.6" fill="#e8982c" stroke="#8b5b1a" stroke-width="0.4"/><path d="M226.6,1280.3L222.6,1277.6M224.5,1282L220.5,1279.3M222.4,1283.8L218.4,1281" stroke="#7f5318" stroke-width="0.8"/><path d="M224.7,1275.9L226.6,1280.3M222.6,1277.6L224.5,1282M220.5,1279.3L222.4,1283.8" stroke="#e8982c" stroke-width="1.8" stroke-linecap="round"/><path d="M249.5,1255.5L246.3,1252.4M246.5,1256.9L243.2,1253.8" stroke="#7f5318" stroke-width="0.8"/><path d="M249.3,1251L249.5,1255.5M246.3,1252.4L246.5,1256.9" stroke="#e8982c" stroke-width="1.8" stroke-linecap="round"/><path d="M234.9,1258.1L230.9,1256.5M232.7,1260.5L228.6,1258.9" stroke="#7f5318" stroke-width="0.8"/><path d="M233.1,1254.2L234.9,1258.1M230.9,1256.5L232.7,1260.5" stroke="#e8982c" stroke-width="1.8" stroke-linecap="round"/><path d="M258,1268.6L253.6,1266.1M255.1,1270.9L250.7,1268.4" stroke="#7f5318" stroke-width="0.8"/><path d="M256.5,1263.8L258,1268.6M253.6,1266.1L255.1,1270.9" stroke="#e8982c" stroke-width="1.8" stroke-linecap="round"/><path d="M243.6,1271.8L244.5,1276.5M246.6,1272.2L247.5,1276.9M249.6,1272.6L250.4,1277.3" stroke="#7f5318" stroke-width="0.8"/><path d="M241.5,1276.1L243.6,1271.8M244.5,1276.5L246.6,1272.2M247.5,1276.9L249.6,1272.6" stroke="#e8982c" stroke-width="1.8" stroke-linecap="round"/><path d="M244.7,1270L242.8,1266.1M241.9,1270.4L240,1266.5" stroke="#7f5318" stroke-width="0.8"/><path d="M245.6,1265.8L244.7,1270M242.8,1266.1L241.9,1270.4" stroke="#e8982c" stroke-width="1.8" stroke-linecap="round"/><path d="M252.9,1272L250.3,1266.9M250.2,1272.6L247.6,1267.5" stroke="#7f5318" stroke-width="0.8"/><path d="M253.1,1266.3L252.9,1272M250.3,1266.9L250.2,1272.6" stroke="#e8982c" stroke-width="1.8" stroke-linecap="round"/><path d="M228,1273.8L223.1,1273.6M227,1276.6L222.1,1276.4M225.9,1279.4L221.1,1279.1" stroke="#7f5318" stroke-width="0.8"/><path d="M224.2,1270.8L228,1273.8M223.1,1273.6L227,1276.6M222.1,1276.4L225.9,1279.4" stroke="#e8982c" stroke-width="1.8" stroke-linecap="round"/><path d="M255.5,1270.2L250.9,1271.1M255.2,1273.1L250.6,1274.1M254.9,1276.1L250.2,1277" stroke="#7f5318" stroke-width="0.8"/><path d="M251.2,1268.2L255.5,1270.2M250.9,1271.1L255.2,1273.1M250.6,1274.1L254.9,1276.1" stroke="#e8982c" stroke-width="1.8" stroke-linecap="round"/><path d="M217.2,1246.4L220.1,1252M220.6,1245.8L223.5,1251.3M224,1245.1L226.9,1250.6" stroke="#7f5318" stroke-width="0.8"/><path d="M216.7,1252.6L217.2,1246.4M220.1,1252L220.6,1245.8M223.5,1251.3L224,1245.1" stroke="#e8982c" stroke-width="1.8" stroke-linecap="round"/><path d="M224.3,1285.8L224.9,1292M227.4,1286.3L227.9,1292.5M230.5,1286.8L231,1293M233.5,1287.3L234.1,1293.5M236.6,1287.8L237.1,1294M239.6,1288.4L240.2,1294.5M242.7,1288.9L243.2,1295M245.8,1289.4L246.3,1295.6" stroke="#7f5318" stroke-width="0.8"/><path d="M221.8,1291.5L224.3,1285.8M224.9,1292L227.4,1286.3M227.9,1292.5L230.5,1286.8M231,1293L233.5,1287.3M234.1,1293.5L236.6,1287.8M237.1,1294L239.6,1288.4M240.2,1294.5L242.7,1288.9M243.2,1295L245.8,1289.4" stroke="#e8982c" stroke-width="1.8" stroke-linecap="round"/><path d="M234,1271.1L235.9,1277.1M237.4,1271L239.2,1276.9M240.7,1270.9L242.6,1276.8M244,1270.8L245.9,1276.7M247.3,1270.6L249.2,1276.6M250.6,1270.5L252.5,1276.4M253.9,1270.4L255.8,1276.3M257.2,1270.3L259.1,1276.2" stroke="#7f5318" stroke-width="0.8"/><path d="M232.6,1277.2L234,1271.1M235.9,1277.1L237.4,1271M239.2,1276.9L240.7,1270.9M242.6,1276.8L244,1270.8M245.9,1276.7L247.3,1270.6M249.2,1276.6L250.6,1270.5M252.5,1276.4L253.9,1270.4M255.8,1276.3L257.2,1270.3" stroke="#e8982c" stroke-width="1.8" stroke-linecap="round"/><path d="M271,1204 Q276,1199 281,1200 Q286,1201 289,1203 L292,1205" fill="none" stroke="#b31123" stroke-width="0.9"/><path d="M272.9,1203.6L274.3,1210.1M276,1203.7L277.3,1210.2M279.1,1203.8L280.4,1210.3M282.1,1203.9L283.5,1210.4M285.2,1204L286.5,1210.5M288.2,1204.1L289.6,1210.5M291.3,1204.2L292.7,1210.6M294.4,1204.3L295.7,1210.7M297.4,1204.4L298.8,1210.8M300.5,1204.5L301.8,1210.9M303.6,1204.6L304.9,1211" stroke="#740b17" stroke-width="0.8"/><path d="M271.2,1210L272.9,1203.6M274.3,1210.1L276,1203.7M277.3,1210.2L279.1,1203.8M280.4,1210.3L282.1,1203.9M283.5,1210.4L285.2,1204M286.5,1210.5L288.2,1204.1M289.6,1210.5L291.3,1204.2M292.7,1210.6L294.4,1204.3M295.7,1210.7L297.4,1204.4M298.8,1210.8L300.5,1204.5M301.8,1210.9L303.6,1204.6" stroke="#d3152a" stroke-width="1.8" stroke-linecap="round"/><path d="M257.4,1256.4L259.4,1263.3M260.5,1256.2L262.6,1263.1M263.7,1256L265.7,1262.9M266.9,1255.8L268.9,1262.7M270,1255.6L272.1,1262.4M273.2,1255.4L275.3,1262.2M276.4,1255.1L278.4,1262M279.5,1254.9L281.6,1261.8M282.7,1254.7L284.8,1261.6M285.9,1254.5L287.9,1261.4" stroke="#740b17" stroke-width="0.8"/><path d="M256.2,1263.5L257.4,1256.4M259.4,1263.3L260.5,1256.2M262.6,1263.1L263.7,1256M265.7,1262.9L266.9,1255.8M268.9,1262.7L270,1255.6M272.1,1262.4L273.2,1255.4M275.3,1262.2L276.4,1255.1M278.4,1262L279.5,1254.9M281.6,1261.8L282.7,1254.7M284.8,1261.6L285.9,1254.5" stroke="#d3152a" stroke-width="1.8" stroke-linecap="round"/><path d="M287,1256 Q295,1256 294.5,1259 Q294,1262 288,1263.5 L282,1265" fill="none" stroke="#b31123" stroke-width="0.9"/><path d="M248.3,1188.8L250,1194M251.4,1188.7L253.1,1193.9M254.5,1188.6L256.3,1193.7M257.6,1188.5L259.4,1193.6M260.8,1188.4L262.5,1193.5M263.9,1188.3L265.6,1193.4M267,1188.1L268.8,1193.3M270.1,1188L271.9,1193.2M273.3,1187.9L275,1193M276.4,1187.8L278.1,1192.9M279.5,1187.7L281.3,1192.8M282.6,1187.5L284.4,1192.7M285.7,1187.4L287.5,1192.6M288.9,1187.3L290.6,1192.5M292,1187.2L293.8,1192.3M295.1,1187.1L296.9,1192.2M298.2,1187L300,1192.1" stroke="#196228" stroke-width="0.8"/><path d="M246.9,1194.1L248.3,1188.8M250,1194L251.4,1188.7M253.1,1193.9L254.5,1188.6M256.3,1193.7L257.6,1188.5M259.4,1193.6L260.8,1188.4M262.5,1193.5L263.9,1188.3M265.6,1193.4L267,1188.1M268.8,1193.3L270.1,1188M271.9,1193.2L273.3,1187.9M275,1193L276.4,1187.8M278.1,1192.9L279.5,1187.7M281.3,1192.8L282.6,1187.5M284.4,1192.7L285.7,1187.4M287.5,1192.6L288.9,1187.3M290.6,1192.5L292,1187.2M293.8,1192.3L295.1,1187.1M296.9,1192.2L298.2,1187" stroke="#2fb34a" stroke-width="1.8" stroke-linecap="round"/><path d="M246.1,1198L248.1,1203M249.3,1197.7L251.3,1202.8M252.5,1197.5L254.5,1202.5M255.7,1197.2L257.7,1202.3M258.9,1197L260.9,1202M262.1,1196.7L264.1,1201.8M265.3,1196.4L267.3,1201.5M268.4,1196.2L270.5,1201.2M271.6,1195.9L273.7,1201M274.8,1195.7L276.8,1200.7M278,1195.4L280,1200.5M281.2,1195.2L283.2,1200.2M284.4,1194.9L286.4,1200M287.6,1194.6L289.6,1199.7M290.8,1194.4L292.8,1199.4M294,1194.1L296,1199.2" stroke="#196228" stroke-width="0.8"/><path d="M244.9,1203.3L246.1,1198M248.1,1203L249.3,1197.7M251.3,1202.8L252.5,1197.5M254.5,1202.5L255.7,1197.2M257.7,1202.3L258.9,1197M260.9,1202L262.1,1196.7M264.1,1201.8L265.3,1196.4M267.3,1201.5L268.4,1196.2M270.5,1201.2L271.6,1195.9M273.7,1201L274.8,1195.7M276.8,1200.7L278,1195.4M280,1200.5L281.2,1195.2M283.2,1200.2L284.4,1194.9M286.4,1200L287.6,1194.6M289.6,1199.7L290.8,1194.4M292.8,1199.4L294,1194.1" stroke="#2fb34a" stroke-width="1.8" stroke-linecap="round"/><path d="M299.9,1189.5 Q302,1185 301,1184 L300,1183" fill="none" stroke="#27983e" stroke-width="0.9"/><path d="M246.8,1191.5 Q243,1196 243.8,1198.3 L244.7,1200.7" fill="none" stroke="#27983e" stroke-width="0.9"/><path d="M263.3,1265.3L265.6,1270.2M266.4,1264.8L268.8,1269.7M269.5,1264.3L271.9,1269.2M272.7,1263.9L275,1268.8M275.8,1263.4L278.1,1268.3M278.9,1262.9L281.3,1267.8M282,1262.4L284.4,1267.3M285.2,1262L287.5,1266.9M288.3,1261.5L290.7,1266.4M291.4,1261L293.8,1265.9M294.6,1260.5L296.9,1265.4M297.7,1260.1L300,1265M300.8,1259.6L303.2,1264.5M304,1259.1L306.3,1264M307.1,1258.6L309.4,1263.5M310.2,1258.1L312.6,1263M313.3,1257.7L315.7,1262.6" stroke="#196228" stroke-width="0.8"/><path d="M262.5,1270.7L263.3,1265.3M265.6,1270.2L266.4,1264.8M268.8,1269.7L269.5,1264.3M271.9,1269.2L272.7,1263.9M275,1268.8L275.8,1263.4M278.1,1268.3L278.9,1262.9M281.3,1267.8L282,1262.4M284.4,1267.3L285.2,1262M287.5,1266.9L288.3,1261.5M290.7,1266.4L291.4,1261M293.8,1265.9L294.6,1260.5M296.9,1265.4L297.7,1260.1M300,1265L300.8,1259.6M303.2,1264.5L304,1259.1M306.3,1264L307.1,1258.6M309.4,1263.5L310.2,1258.1M312.6,1263L313.3,1257.7" stroke="#2fb34a" stroke-width="1.8" stroke-linecap="round"/><path d="M266.3,1273.5L268.7,1278.3M269.3,1272.9L271.8,1277.8M272.4,1272.4L274.9,1277.2M275.5,1271.8L277.9,1276.7M278.5,1271.3L281,1276.1M281.6,1270.7L284.1,1275.6M284.7,1270.2L287.1,1275M287.7,1269.6L290.2,1274.5M290.8,1269.1L293.3,1273.9M293.9,1268.5L296.3,1273.4M296.9,1268L299.4,1272.8M300,1267.5L302.5,1272.3M303.1,1266.9L305.5,1271.8M306.1,1266.4L308.6,1271.2M309.2,1265.8L311.7,1270.7" stroke="#196228" stroke-width="0.8"/><path d="M265.7,1278.9L266.3,1273.5M268.7,1278.3L269.3,1272.9M271.8,1277.8L272.4,1272.4M274.9,1277.2L275.5,1271.8M277.9,1276.7L278.5,1271.3M281,1276.1L281.6,1270.7M284.1,1275.6L284.7,1270.2M287.1,1275L287.7,1269.6M290.2,1274.5L290.8,1269.1M293.3,1273.9L293.9,1268.5M296.3,1273.4L296.9,1268M299.4,1272.8L300,1267.5M302.5,1272.3L303.1,1266.9M305.5,1271.8L306.1,1266.4M308.6,1271.2L309.2,1265.8" stroke="#2fb34a" stroke-width="1.8" stroke-linecap="round"/><path d="M315.3,1260 Q318,1264 314.6,1266 L311.2,1268.1" fill="none" stroke="#27983e" stroke-width="0.9"/><ellipse cx="437" cy="1220" rx="28.8" ry="16" fill="#939393" fill-opacity="0.1" transform="rotate(0 437 1220)"/><path d="M412.8,1227.5 Q410.2,1231.7 413.1,1231.5 Q416.1,1231.4 418.9,1229.5 Q421.6,1227.6 421.8,1229.3 Q422,1231 419.1,1233.6 L416.1,1236.2" fill="none" stroke="#7c7c7c" stroke-width="0.8"/><path d="M431.8,1205.8 Q436.8,1208.1 436.5,1211.1 Q436.1,1214 437.7,1213.5 L439.3,1212.9" fill="none" stroke="#7c7c7c" stroke-width="0.8"/><path d="M432.8,1238.2 Q432.7,1233.6 435.4,1232.8 Q438.2,1232 436.1,1233.9 Q434,1235.8 431.8,1238.4 Q429.5,1241 429.2,1241.3 L429,1241.6" fill="none" stroke="#7c7c7c" stroke-width="0.8"/><path d="M425.6,1219.3 Q427.6,1219 429.5,1216.4 Q431.5,1213.9 429.7,1214.9 L427.8,1216" fill="none" stroke="#7c7c7c" stroke-width="0.8"/><path d="M458.8,1226.3 Q464.6,1221.1 465,1221.5 Q465.4,1221.8 464.7,1220.9 Q464,1219.9 461.9,1220.1 Q459.8,1220.4 458.5,1223.1 L457.3,1225.8" fill="none" stroke="#7c7c7c" stroke-width="0.8"/><path d="M437.1,1212.7 Q435.7,1207 433.3,1208.3 Q430.8,1209.6 433.8,1209.6 Q436.7,1209.6 436.7,1209.9 L436.6,1210.2" fill="none" stroke="#7c7c7c" stroke-width="0.8"/><path d="M454.8,1208.8 Q452.6,1214.6 450.3,1215.6 Q448,1216.6 448.8,1218.6 Q449.5,1220.6 448.5,1222.2 Q447.5,1223.8 450.1,1222.3 L452.7,1220.7" fill="none" stroke="#7c7c7c" stroke-width="0.8"/><path d="M413.5,1217.1 Q415.7,1219.2 418.1,1222 Q420.5,1224.7 419.9,1227.6 L419.4,1230.6" fill="none" stroke="#7c7c7c" stroke-width="0.8"/><path d="M470.2,1223.6 Q470.1,1222.1 468.6,1224.3 Q467,1226.6 465,1224 Q463,1221.4 464.8,1223.1 L466.6,1224.7" fill="none" stroke="#7c7c7c" stroke-width="0.8"/><path d="M435.7,1233.4 Q440,1235.3 437.2,1233.8 Q434.4,1232.3 433.8,1234.5 L433.1,1236.8" fill="none" stroke="#7c7c7c" stroke-width="0.8"/><path d="M447.4,1205.8 Q450.4,1205.5 448.9,1208.3 Q447.4,1211.1 447.6,1212.4 L447.7,1213.8" fill="none" stroke="#7c7c7c" stroke-width="0.8"/><path d="M461.3,1231.8 Q462.5,1230.9 463,1233 Q463.5,1235.1 462.3,1235.3 Q461.2,1235.5 459.9,1237.1 L458.5,1238.7" fill="none" stroke="#7c7c7c" stroke-width="0.8"/><path d="M443.7,1225.7 Q442.8,1227.9 444.3,1229.8 Q445.8,1231.7 443.6,1229.5 Q441.4,1227.4 440.8,1225.5 Q440.2,1223.6 441,1225.3 L441.9,1227" fill="none" stroke="#7c7c7c" stroke-width="0.8"/><path d="M421.2,1212.1 Q420,1216.8 420.7,1214.9 Q421.4,1213 423.6,1211.2 Q425.7,1209.4 427.2,1210.9 L428.6,1212.5" fill="none" stroke="#7c7c7c" stroke-width="0.8"/><path d="M444.4,1220.2 Q447.7,1223.6 444.8,1223.4 Q441.8,1223.2 439.2,1224.8 Q436.6,1226.4 434.6,1227.6 Q432.7,1228.9 431.2,1230.1 L429.7,1231.3" fill="none" stroke="#7c7c7c" stroke-width="0.8"/><path d="M423.5,1201.6 Q419.4,1204.3 422.4,1206.3 Q425.3,1208.2 427.1,1208.1 Q428.9,1208 429.4,1208.3 L429.8,1208.6" fill="none" stroke="#7c7c7c" stroke-width="0.8"/><path d="M406.2,1221L403.4,1225M408.2,1224.2L405.4,1228.2" stroke="#505050" stroke-width="0.8"/><path d="M401.4,1221.7L406.2,1221M403.4,1225L408.2,1224.2" stroke="#939393" stroke-width="1.8" stroke-linecap="round"/><path d="M445,1226.9L443.6,1231.4M447.2,1228.4L445.8,1232.9M449.5,1230L448.1,1234.5" stroke="#505050" stroke-width="0.8"/><path d="M441.4,1229.9L445,1226.9M443.6,1231.4L447.2,1228.4M445.8,1232.9L449.5,1230" stroke="#939393" stroke-width="1.8" stroke-linecap="round"/><path d="M451.9,1218L448.6,1214M449.4,1219.1L446.1,1215.1M446.9,1220.2L443.6,1216.2" stroke="#505050" stroke-width="0.8"/><path d="M451.1,1212.9L451.9,1218M448.6,1214L449.4,1219.1M446.1,1215.1L446.9,1220.2" stroke="#939393" stroke-width="1.8" stroke-linecap="round"/><path d="M440.9,1236.8L436.1,1235.4M439.4,1239.2L434.6,1237.8M437.8,1241.6L433.1,1240.2" stroke="#505050" stroke-width="0.8"/><path d="M437.6,1233L440.9,1236.8M436.1,1235.4L439.4,1239.2M434.6,1237.8L437.8,1241.6" stroke="#939393" stroke-width="1.8" stroke-linecap="round"/><path d="M437.2,1232.3L437.4,1237.5M439.7,1232.8L439.9,1238.1" stroke="#505050" stroke-width="0.8"/><path d="M434.9,1236.9L437.2,1232.3M437.4,1237.5L439.7,1232.8" stroke="#939393" stroke-width="1.8" stroke-linecap="round"/><path d="M445,1212.7L440.8,1215.3M445.7,1215.7L441.5,1218.2M446.4,1218.6L442.2,1221.1" stroke="#505050" stroke-width="0.8"/><path d="M440.2,1212.3L445,1212.7M440.8,1215.3L445.7,1215.7M441.5,1218.2L446.4,1218.6" stroke="#939393" stroke-width="1.8" stroke-linecap="round"/><path d="M427.8,1210.3L425.4,1206.8M425.1,1211.1L422.7,1207.5M422.5,1211.8L420.1,1208.2" stroke="#505050" stroke-width="0.8"/><path d="M428,1206.1L427.8,1210.3M425.4,1206.8L425.1,1211.1M422.7,1207.5L422.5,1211.8" stroke="#939393" stroke-width="1.8" stroke-linecap="round"/><path d="M416.2,1214.2L411.2,1214.2M415.2,1217.1L410.2,1217" stroke="#505050" stroke-width="0.8"/><path d="M412.2,1211.3L416.2,1214.2M411.2,1214.2L415.2,1217.1" stroke="#939393" stroke-width="1.8" stroke-linecap="round"/><path d="M450.3,1224.5L445.4,1222M448.5,1226.5L443.7,1224M446.8,1228.5L441.9,1226" stroke="#505050" stroke-width="0.8"/><path d="M447.2,1220L450.3,1224.5M445.4,1222L448.5,1226.5M443.7,1224L446.8,1228.5" stroke="#939393" stroke-width="1.8" stroke-linecap="round"/><path d="M422.2,1217.6L417.6,1219.3M422.2,1220.9L417.6,1222.5" stroke="#505050" stroke-width="0.8"/><path d="M417.6,1216L422.2,1217.6M417.6,1219.3L422.2,1220.9" stroke="#939393" stroke-width="1.8" stroke-linecap="round"/><path d="M440.7,1230.1L438.1,1226.4M438,1230.9L435.3,1227.2" stroke="#505050" stroke-width="0.8"/><path d="M440.9,1225.6L440.7,1230.1M438.1,1226.4L438,1230.9" stroke="#939393" stroke-width="1.8" stroke-linecap="round"/><path d="M463.3,1225.9L463.4,1231M466.1,1226.7L466.2,1231.8" stroke="#505050" stroke-width="0.8"/><path d="M460.5,1230.2L463.3,1225.9M463.4,1231L466.1,1226.7" stroke="#939393" stroke-width="1.8" stroke-linecap="round"/><path d="M449.9,1214.6L444.8,1211.9M447.7,1216.9L442.5,1214.3M445.4,1219.3L440.2,1216.7" stroke="#505050" stroke-width="0.8"/><path d="M447,1209.5L449.9,1214.6M444.8,1211.9L447.7,1216.9M442.5,1214.3L445.4,1219.3" stroke="#939393" stroke-width="1.8" stroke-linecap="round"/><path d="M416,1217.2L410.9,1216M414.2,1220.1L409.1,1218.9" stroke="#505050" stroke-width="0.8"/><path d="M412.7,1213.1L416,1217.2M410.9,1216L414.2,1220.1" stroke="#939393" stroke-width="1.8" stroke-linecap="round"/><path d="M465.5,1216.5L463,1221.2M467.5,1218.4L465.1,1223.1M469.6,1220.3L467.1,1225" stroke="#505050" stroke-width="0.8"/><path d="M460.9,1219.3L465.5,1216.5M463,1221.2L467.5,1218.4M465.1,1223.1L469.6,1220.3" stroke="#939393" stroke-width="1.8" stroke-linecap="round"/><path d="M414.2,1213.2L409.9,1216.5M415.3,1216.7L411,1220" stroke="#505050" stroke-width="0.8"/><path d="M408.8,1213L414.2,1213.2M409.9,1216.5L415.3,1216.7" stroke="#939393" stroke-width="1.8" stroke-linecap="round"/><path d="M452.3,1226.5L446.6,1225.7M451.3,1229L445.6,1228.2" stroke="#505050" stroke-width="0.8"/><path d="M447.7,1223.1L452.3,1226.5M446.6,1225.7L451.3,1229" stroke="#939393" stroke-width="1.8" stroke-linecap="round"/><path d="M419.8,1212.1L415,1211.7M418.6,1214.9L413.8,1214.5M417.4,1217.8L412.5,1217.4" stroke="#505050" stroke-width="0.8"/><path d="M416.2,1208.8L419.8,1212.1M415,1211.7L418.6,1214.9M413.8,1214.5L417.4,1217.8" stroke="#939393" stroke-width="1.8" stroke-linecap="round"/><path d="M408.1,1220.7L404.2,1223.9M409.2,1224.2L405.3,1227.4" stroke="#505050" stroke-width="0.8"/><path d="M403,1220.5L408.1,1220.7M404.2,1223.9L409.2,1224.2" stroke="#939393" stroke-width="1.8" stroke-linecap="round"/><path d="M413.3,1212.4L414.7,1217.3M416.2,1212.4L417.6,1217.3" stroke="#505050" stroke-width="0.8"/><path d="M411.8,1217.3L413.3,1212.4M414.7,1217.3L416.2,1212.4" stroke="#939393" stroke-width="1.8" stroke-linecap="round"/><path d="M469.2,1218.5L465.5,1215.2M466.3,1220.1L462.7,1216.8" stroke="#505050" stroke-width="0.8"/><path d="M468.4,1213.7L469.2,1218.5M465.5,1215.2L466.3,1220.1" stroke="#939393" stroke-width="1.8" stroke-linecap="round"/><path d="M467.7,1207.4L462.5,1207.7M466.9,1210.3L461.8,1210.7M466.2,1213.3L461.1,1213.6" stroke="#505050" stroke-width="0.8"/><path d="M463.2,1204.8L467.7,1207.4M462.5,1207.7L466.9,1210.3M461.8,1210.7L466.2,1213.3" stroke="#939393" stroke-width="1.8" stroke-linecap="round"/><path d="M437.4,1231.6L432.6,1230.5M436.1,1234L431.3,1232.9" stroke="#505050" stroke-width="0.8"/><path d="M433.9,1228.2L437.4,1231.6M432.6,1230.5L436.1,1234" stroke="#939393" stroke-width="1.8" stroke-linecap="round"/><path d="M450.8,1204.2L446,1206.1M450.8,1208L446,1209.9" stroke="#505050" stroke-width="0.8"/><path d="M445.9,1202.3L450.8,1204.2M446,1206.1L450.8,1208" stroke="#939393" stroke-width="1.8" stroke-linecap="round"/><path d="M438.9,1227.1L434.6,1226.1M437.4,1229.5L433.1,1228.5" stroke="#505050" stroke-width="0.8"/><path d="M436.1,1223.6L438.9,1227.1M434.6,1226.1L437.4,1229.5" stroke="#939393" stroke-width="1.8" stroke-linecap="round"/><path d="M418.8,1223L420.2,1228.1M421.8,1223.1L423.2,1228.2M424.8,1223.2L426.2,1228.3" stroke="#505050" stroke-width="0.8"/><path d="M417.1,1228L418.8,1223M420.2,1228.1L421.8,1223.1M423.2,1228.2L424.8,1223.2" stroke="#939393" stroke-width="1.8" stroke-linecap="round"/><path d="M462.2,1212L458.4,1215.5M463.5,1214.6L459.7,1218.1" stroke="#505050" stroke-width="0.8"/><path d="M457.1,1212.9L462.2,1212M458.4,1215.5L463.5,1214.6" stroke="#939393" stroke-width="1.8" stroke-linecap="round"/><path d="M422.5,1229.7L418.7,1232.3M423.3,1232.1L419.5,1234.7" stroke="#505050" stroke-width="0.8"/><path d="M417.9,1229.8L422.5,1229.7M418.7,1232.3L423.3,1232.1" stroke="#939393" stroke-width="1.8" stroke-linecap="round"/><path d="M427.2,1206.9L425.2,1212.3M429.6,1208.6L427.6,1214" stroke="#505050" stroke-width="0.8"/><path d="M422.8,1210.5L427.2,1206.9M425.2,1212.3L429.6,1208.6" stroke="#939393" stroke-width="1.8" stroke-linecap="round"/><path d="M431.7,1209.8L429.9,1215M434.6,1212.2L432.8,1217.4" stroke="#505050" stroke-width="0.8"/><path d="M426.9,1212.6L431.7,1209.8M429.9,1215L434.6,1212.2" stroke="#939393" stroke-width="1.8" stroke-linecap="round"/><path d="M447.3,1225.2L442.6,1224.3M446.2,1227.5L441.5,1226.6" stroke="#505050" stroke-width="0.8"/><path d="M443.7,1222L447.3,1225.2M442.6,1224.3L446.2,1227.5" stroke="#939393" stroke-width="1.8" stroke-linecap="round"/><path d="M437.4,1232.9L433.3,1235M437.9,1235.4L433.7,1237.5" stroke="#505050" stroke-width="0.8"/><path d="M432.8,1232.5L437.4,1232.9M433.3,1235L437.9,1235.4" stroke="#939393" stroke-width="1.8" stroke-linecap="round"/><path d="M450.2,1224L445.5,1223.9M449.3,1226.7L444.6,1226.6" stroke="#505050" stroke-width="0.8"/><path d="M446.4,1221.3L450.2,1224M445.5,1223.9L449.3,1226.7" stroke="#939393" stroke-width="1.8" stroke-linecap="round"/><path d="M419.3,1218.8L413.9,1217M417.4,1221.5L411.9,1219.8" stroke="#505050" stroke-width="0.8"/><path d="M415.9,1214.2L419.3,1218.8M413.9,1217L417.4,1221.5" stroke="#939393" stroke-width="1.8" stroke-linecap="round"/><path d="M412,1207.9L413.3,1213.2M415.4,1208.2L416.7,1213.5" stroke="#505050" stroke-width="0.8"/><path d="M409.8,1212.9L412,1207.9M413.3,1213.2L415.4,1208.2" stroke="#939393" stroke-width="1.8" stroke-linecap="round"/><path d="M437.1,1213.6L435.6,1218.2M439.9,1216L438.5,1220.7" stroke="#505050" stroke-width="0.8"/><path d="M432.7,1215.7L437.1,1213.6M435.6,1218.2L439.9,1216" stroke="#939393" stroke-width="1.8" stroke-linecap="round"/><path d="M436.9,1232.4L434.7,1228.3M433.7,1232.9L431.5,1228.7M430.6,1233.3L428.4,1229.2" stroke="#505050" stroke-width="0.8"/><path d="M437.8,1227.8L436.9,1232.4M434.7,1228.3L433.7,1232.9M431.5,1228.7L430.6,1233.3" stroke="#939393" stroke-width="1.8" stroke-linecap="round"/><path d="M447.9,1212.7L442.8,1211.5M446.3,1215.3L441.2,1214.1M444.7,1218L439.6,1216.8" stroke="#505050" stroke-width="0.8"/><path d="M444.4,1208.8L447.9,1212.7M442.8,1211.5L446.3,1215.3M441.2,1214.1L444.7,1218" stroke="#939393" stroke-width="1.8" stroke-linecap="round"/><path d="M457.4,1207.1L451.6,1208.2M457,1210.5L451.3,1211.6" stroke="#505050" stroke-width="0.8"/><path d="M452,1204.8L457.4,1207.1M451.6,1208.2L457,1210.5" stroke="#939393" stroke-width="1.8" stroke-linecap="round"/><path d="M425.7,1205.3L420.9,1204.1M424.4,1207.6L419.6,1206.5M423.1,1209.9L418.3,1208.8" stroke="#505050" stroke-width="0.8"/><path d="M422.2,1201.8L425.7,1205.3M420.9,1204.1L424.4,1207.6M419.6,1206.5L423.1,1209.9" stroke="#939393" stroke-width="1.8" stroke-linecap="round"/><path d="M437.1,1204.6L435,1209.7M439.4,1206.5L437.3,1211.6" stroke="#505050" stroke-width="0.8"/><path d="M432.6,1207.9L437.1,1204.6M435,1209.7L439.4,1206.5" stroke="#939393" stroke-width="1.8" stroke-linecap="round"/><path d="M414.2,1216.5L415.2,1221M417.3,1216.9L418.3,1221.4M420.4,1217.3L421.3,1221.8" stroke="#505050" stroke-width="0.8"/><path d="M412.1,1220.6L414.2,1216.5M415.2,1221L417.3,1216.9M418.3,1221.4L420.4,1217.3" stroke="#939393" stroke-width="1.8" stroke-linecap="round"/><path d="M459.6,1211.5L455.7,1213.8M460.2,1214.6L456.4,1217" stroke="#505050" stroke-width="0.8"/><path d="M455.1,1210.6L459.6,1211.5M455.7,1213.8L460.2,1214.6" stroke="#939393" stroke-width="1.8" stroke-linecap="round"/><path d="M416.7,1203.4L415.6,1208.7M419.1,1204.5L418,1209.8" stroke="#505050" stroke-width="0.8"/><path d="M413.3,1207.6L416.7,1203.4M415.6,1208.7L419.1,1204.5" stroke="#939393" stroke-width="1.8" stroke-linecap="round"/><path d="M466.2,1213L462.2,1209.8M463,1214.8L459,1211.6" stroke="#505050" stroke-width="0.8"/><path d="M465.3,1208L466.2,1213M462.2,1209.8L463,1214.8" stroke="#939393" stroke-width="1.8" stroke-linecap="round"/><path d="M467.1,1221.8L463.3,1219.7M465,1223.6L461.2,1221.6M462.9,1225.5L459.2,1223.5" stroke="#505050" stroke-width="0.8"/><path d="M465.4,1217.8L467.1,1221.8M463.3,1219.7L465,1223.6M461.2,1221.6L462.9,1225.5" stroke="#939393" stroke-width="1.8" stroke-linecap="round"/><path d="M427.9,1212.9L422.5,1213.7M427.2,1216.5L421.8,1217.2" stroke="#505050" stroke-width="0.8"/><path d="M423.2,1210.1L427.9,1212.9M422.5,1213.7L427.2,1216.5" stroke="#939393" stroke-width="1.8" stroke-linecap="round"/><path d="M411.3,1226.3L407,1224.8M408.9,1229L404.5,1227.5" stroke="#505050" stroke-width="0.8"/><path d="M409.4,1222.1L411.3,1226.3M407,1224.8L408.9,1229" stroke="#939393" stroke-width="1.8" stroke-linecap="round"/><path d="M466.1,1219.8L462.4,1223.8M467.6,1222.5L463.9,1226.4M469.2,1225.2L465.5,1229.1" stroke="#505050" stroke-width="0.8"/><path d="M460.8,1221.1L466.1,1219.8M462.4,1223.8L467.6,1222.5M463.9,1226.4L469.2,1225.2" stroke="#939393" stroke-width="1.8" stroke-linecap="round"/><path d="M422.7,1204.4L418.6,1202.6M420.4,1206.7L416.3,1204.8M418.1,1208.9L414,1207.1" stroke="#505050" stroke-width="0.8"/><path d="M420.9,1200.3L422.7,1204.4M418.6,1202.6L420.4,1206.7M416.3,1204.8L418.1,1208.9" stroke="#939393" stroke-width="1.8" stroke-linecap="round"/><path d="M448.1,1224.5L442.8,1225.7M448,1227.4L442.7,1228.6" stroke="#505050" stroke-width="0.8"/><path d="M442.9,1222.9L448.1,1224.5M442.8,1225.7L448,1227.4" stroke="#939393" stroke-width="1.8" stroke-linecap="round"/><path d="M461.1,1207.7L459.1,1211.6M463.2,1210L461.2,1213.9M465.2,1212.2L463.3,1216.1" stroke="#505050" stroke-width="0.8"/><path d="M457.1,1209.4L461.1,1207.7M459.1,1211.6L463.2,1210M461.2,1213.9L465.2,1212.2" stroke="#939393" stroke-width="1.8" stroke-linecap="round"/><path d="M457.7,1220.8L453.3,1222.3M457.6,1224.1L453.2,1225.7M457.5,1227.5L453.1,1229" stroke="#505050" stroke-width="0.8"/><path d="M453.4,1219L457.7,1220.8M453.3,1222.3L457.6,1224.1M453.2,1225.7L457.5,1227.5" stroke="#939393" stroke-width="1.8" stroke-linecap="round"/><path d="M454.3,1217.9L449.4,1219.2M453.8,1221.7L448.9,1223.1" stroke="#505050" stroke-width="0.8"/><path d="M449.8,1215.4L454.3,1217.9M449.4,1219.2L453.8,1221.7" stroke="#939393" stroke-width="1.8" stroke-linecap="round"/><path d="M413.3,1212.9L408.5,1215.2M413.8,1215.6L409,1217.9M414.3,1218.3L409.5,1220.6" stroke="#505050" stroke-width="0.8"/><path d="M408,1212.5L413.3,1212.9M408.5,1215.2L413.8,1215.6M409,1217.9L414.3,1218.3" stroke="#939393" stroke-width="1.8" stroke-linecap="round"/><path d="M442.7,1213.5L440.2,1218.6M445,1215.5L442.5,1220.6M447.3,1217.6L444.8,1222.7" stroke="#505050" stroke-width="0.8"/><path d="M437.9,1216.5L442.7,1213.5M440.2,1218.6L445,1215.5M442.5,1220.6L447.3,1217.6" stroke="#939393" stroke-width="1.8" stroke-linecap="round"/><path d="M465.2,1232.3L462.4,1228.4M462.4,1233.2L459.7,1229.3M459.6,1234L456.9,1230.1" stroke="#505050" stroke-width="0.8"/><path d="M465.2,1227.5L465.2,1232.3M462.4,1228.4L462.4,1233.2M459.7,1229.3L459.6,1234" stroke="#939393" stroke-width="1.8" stroke-linecap="round"/><path d="M420.5,1223.7L417.6,1227.8M422.4,1226.3L419.6,1230.4M424.4,1228.9L421.5,1233.1" stroke="#505050" stroke-width="0.8"/><path d="M415.7,1225.1L420.5,1223.7M417.6,1227.8L422.4,1226.3M419.6,1230.4L424.4,1228.9" stroke="#939393" stroke-width="1.8" stroke-linecap="round"/><path d="M443.7,1205.1L439.4,1204.5M442.5,1207.6L438.2,1207M441.4,1210L437,1209.4" stroke="#505050" stroke-width="0.8"/><path d="M440.5,1202.1L443.7,1205.1M439.4,1204.5L442.5,1207.6M438.2,1207L441.4,1210" stroke="#939393" stroke-width="1.8" stroke-linecap="round"/><path d="M410.5,1225.2L408.3,1230.1M412.5,1226.7L410.3,1231.6" stroke="#505050" stroke-width="0.8"/><path d="M406.3,1228.6L410.5,1225.2M408.3,1230.1L412.5,1226.7" stroke="#939393" stroke-width="1.8" stroke-linecap="round"/><path d="M417.4,1219.6L415,1224.6M419.9,1222.1L417.6,1227.1" stroke="#505050" stroke-width="0.8"/><path d="M412.4,1222.1L417.4,1219.6M415,1224.6L419.9,1222.1" stroke="#939393" stroke-width="1.8" stroke-linecap="round"/><path d="M462.8,1218.1L460.7,1213.3M459.8,1218.5L457.7,1213.6M456.8,1218.9L454.7,1214" stroke="#505050" stroke-width="0.8"/><path d="M463.7,1212.9L462.8,1218.1M460.7,1213.3L459.8,1218.5M457.7,1213.6L456.8,1218.9" stroke="#939393" stroke-width="1.8" stroke-linecap="round"/><path d="M467.3,1216L462.4,1216.2M466.6,1218.5L461.8,1218.7" stroke="#505050" stroke-width="0.8"/><path d="M463.1,1213.6L467.3,1216M462.4,1216.2L466.6,1218.5" stroke="#939393" stroke-width="1.8" stroke-linecap="round"/><path d="M456.7,1216.4L457.4,1221.7M459.4,1216.7L460.1,1222.1M462.1,1217L462.8,1222.4" stroke="#505050" stroke-width="0.8"/><path d="M454.7,1221.4L456.7,1216.4M457.4,1221.7L459.4,1216.7M460.1,1222.1L462.1,1217" stroke="#939393" stroke-width="1.8" stroke-linecap="round"/><path d="M419.1,1215.1L416.8,1219.3M421.1,1217.4L418.9,1221.5M423.2,1219.6L421,1223.7" stroke="#505050" stroke-width="0.8"/><path d="M414.8,1217L419.1,1215.1M416.8,1219.3L421.1,1217.4M418.9,1221.5L423.2,1219.6" stroke="#939393" stroke-width="1.8" stroke-linecap="round"/><ellipse cx="452" cy="1235" rx="16" ry="6.4" fill="#939393" fill-opacity="0.1" transform="rotate(0 452 1235)"/><path d="M439.3,1228.9 Q443.9,1232.4 441.3,1231 Q438.8,1229.6 436.1,1232.5 Q433.4,1235.3 431.5,1235.7 Q429.6,1236 431,1235.5 L432.4,1235.1" fill="none" stroke="#7c7c7c" stroke-width="0.8"/><path d="M467.3,1236.2 Q468.4,1233.9 466.5,1236 Q464.7,1238.1 465.2,1240.7 L465.6,1243.4" fill="none" stroke="#7c7c7c" stroke-width="0.8"/><path d="M454.6,1238.1 Q452.6,1234.3 452,1236.7 Q451.3,1239.2 453.6,1241.9 Q455.8,1244.6 455.9,1243.3 Q456,1242 454.6,1243.1 L453.2,1244.3" fill="none" stroke="#7c7c7c" stroke-width="0.8"/><path d="M449.2,1232.4 Q448.3,1229.5 447,1231.7 Q445.7,1234 445.1,1236.6 L444.4,1239.1" fill="none" stroke="#7c7c7c" stroke-width="0.8"/><path d="M441.3,1234L437.1,1236.8M442.1,1236.4L437.9,1239.2" stroke="#505050" stroke-width="0.8"/><path d="M436.3,1234.4L441.3,1234M437.1,1236.8L442.1,1236.4" stroke="#939393" stroke-width="1.8" stroke-linecap="round"/><path d="M458.1,1235.2L453.9,1232.8M456.1,1237.1L451.8,1234.7M454,1239.1L449.7,1236.7" stroke="#505050" stroke-width="0.8"/><path d="M455.9,1230.8L458.1,1235.2M453.9,1232.8L456.1,1237.1M451.8,1234.7L454,1239.1" stroke="#939393" stroke-width="1.8" stroke-linecap="round"/><path d="M433.7,1231.3L433.7,1235.6M436.2,1232.2L436.3,1236.5M438.8,1233L438.9,1237.3" stroke="#505050" stroke-width="0.8"/><path d="M431.1,1234.8L433.7,1231.3M433.7,1235.6L436.2,1232.2M436.3,1236.5L438.8,1233" stroke="#939393" stroke-width="1.8" stroke-linecap="round"/><path d="M466.3,1227.6L464,1231.9M468.2,1229.3L465.9,1233.6" stroke="#505050" stroke-width="0.8"/><path d="M462.2,1230.2L466.3,1227.6M464,1231.9L468.2,1229.3" stroke="#939393" stroke-width="1.8" stroke-linecap="round"/><path d="M449.5,1231.6L446.4,1227.6M445.9,1232.6L442.8,1228.7" stroke="#505050" stroke-width="0.8"/><path d="M450,1226.5L449.5,1231.6M446.4,1227.6L445.9,1232.6" stroke="#939393" stroke-width="1.8" stroke-linecap="round"/><path d="M465.7,1238.6L461.3,1237.8M464.4,1241L460,1240.2" stroke="#505050" stroke-width="0.8"/><path d="M462.5,1235.4L465.7,1238.6M461.3,1237.8L464.4,1241" stroke="#939393" stroke-width="1.8" stroke-linecap="round"/><path d="M436.5,1235.4L435.8,1240.6M439.3,1236.6L438.5,1241.9" stroke="#505050" stroke-width="0.8"/><path d="M433,1239.4L436.5,1235.4M435.8,1240.6L439.3,1236.6" stroke="#939393" stroke-width="1.8" stroke-linecap="round"/><path d="M465,1231.5L465.8,1237.3M468.8,1232.3L469.6,1238.1" stroke="#505050" stroke-width="0.8"/><path d="M461.9,1236.5L465,1231.5M465.8,1237.3L468.8,1232.3" stroke="#939393" stroke-width="1.8" stroke-linecap="round"/><path d="M442.2,1226.3L441.2,1230.6M444.8,1228.1L443.9,1232.4" stroke="#505050" stroke-width="0.8"/><path d="M438.6,1228.8L442.2,1226.3M441.2,1230.6L444.8,1228.1" stroke="#939393" stroke-width="1.8" stroke-linecap="round"/><path d="M438.5,1235.8L433.8,1236.4M437.3,1239.6L432.7,1240.1" stroke="#505050" stroke-width="0.8"/><path d="M435,1232.7L438.5,1235.8M433.8,1236.4L437.3,1239.6" stroke="#939393" stroke-width="1.8" stroke-linecap="round"/><path d="M452.7,1232L452.8,1237.3M455.2,1232.5L455.3,1237.9" stroke="#505050" stroke-width="0.8"/><path d="M450.3,1236.8L452.7,1232M452.8,1237.3L455.2,1232.5" stroke="#939393" stroke-width="1.8" stroke-linecap="round"/><path d="M457.4,1234.8L452.6,1237.7M458.2,1237.4L453.5,1240.3" stroke="#505050" stroke-width="0.8"/><path d="M451.8,1235.1L457.4,1234.8M452.6,1237.7L458.2,1237.4" stroke="#939393" stroke-width="1.8" stroke-linecap="round"/><path d="M452.6,1226.2L450.3,1230.8M454.7,1228.1L452.3,1232.7M456.7,1229.9L454.4,1234.6" stroke="#505050" stroke-width="0.8"/><path d="M448.2,1228.9L452.6,1226.2M450.3,1230.8L454.7,1228.1M452.3,1232.7L456.7,1229.9" stroke="#939393" stroke-width="1.8" stroke-linecap="round"/><path d="M404,1234.5L405.4,1239.8M407.2,1234.7L408.5,1239.9M410.4,1234.8L411.7,1240.1M413.6,1235L414.9,1240.3M416.8,1235.2L418.1,1240.4M420,1235.3L421.3,1240.6M423.2,1235.5L424.5,1240.8M426.4,1235.7L427.7,1240.9M429.5,1235.8L430.9,1241.1" stroke="#505050" stroke-width="0.8"/><path d="M402.2,1239.6L404,1234.5M405.4,1239.8L407.2,1234.7M408.5,1239.9L410.4,1234.8M411.7,1240.1L413.6,1235M414.9,1240.3L416.8,1235.2M418.1,1240.4L420,1235.3M421.3,1240.6L423.2,1235.5M424.5,1240.8L426.4,1235.7M427.7,1240.9L429.5,1235.8" stroke="#939393" stroke-width="1.8" stroke-linecap="round"/><ellipse cx="405" cy="1216" rx="5.6" ry="7.2" fill="#1a1a1a" fill-opacity="0.1" transform="rotate(0 405 1216)"/><path d="M406.2,1214.6 Q404.5,1217.3 403.1,1214.4 Q401.7,1211.5 402.5,1213.9 Q403.2,1216.3 400.8,1219.2 Q398.5,1222.1 398.5,1219.2 L398.4,1216.3" fill="none" stroke="#161616" stroke-width="0.8"/><path d="M406.7,1214.7 Q403.2,1209.1 402.4,1207.2 Q401.6,1205.2 399.9,1206.6 L398.2,1208" fill="none" stroke="#161616" stroke-width="0.8"/><path d="M405.9,1222.4 Q403.2,1228.1 403.7,1230 Q404.1,1231.9 402.2,1231.8 Q400.3,1231.7 402,1232.8 Q403.8,1233.8 401.7,1235.6 L399.7,1237.4" fill="none" stroke="#161616" stroke-width="0.8"/><path d="M405.4,1219.1 Q401.8,1214.4 399.4,1211.7 Q397,1208.9 395.6,1209.4 Q394.3,1209.8 396.2,1208.8 Q398.1,1207.8 397.3,1206.5 L396.5,1205.2" fill="none" stroke="#161616" stroke-width="0.8"/><path d="M402.2,1221 Q398.8,1216.7 399.6,1214.5 Q400.3,1212.2 402,1212.1 Q403.8,1212.1 402.8,1209.9 Q401.8,1207.8 403.2,1205.4 L404.7,1203" fill="none" stroke="#161616" stroke-width="0.8"/><path d="M402.1,1212.6L403.1,1217.4M405.1,1212.9L406,1217.7" stroke="#0e0e0e" stroke-width="0.8"/><path d="M400.2,1217.1L402.1,1212.6M403.1,1217.4L405.1,1212.9" stroke="#1a1a1a" stroke-width="1.8" stroke-linecap="round"/><path d="M399.2,1208.4L400.2,1213.7M401.5,1208.5L402.5,1213.7" stroke="#0e0e0e" stroke-width="0.8"/><path d="M397.8,1213.6L399.2,1208.4M400.2,1213.7L401.5,1208.5" stroke="#1a1a1a" stroke-width="1.8" stroke-linecap="round"/><path d="M402.8,1206.2L404.1,1211.1M405.9,1206.4L407.3,1211.2" stroke="#0e0e0e" stroke-width="0.8"/><path d="M400.9,1210.9L402.8,1206.2M404.1,1211.1L405.9,1206.4" stroke="#1a1a1a" stroke-width="1.8" stroke-linecap="round"/><path d="M407.6,1219.1L403.6,1220.9M407.9,1221.5L403.9,1223.3" stroke="#0e0e0e" stroke-width="0.8"/><path d="M403.3,1218.4L407.6,1219.1M403.6,1220.9L407.9,1221.5" stroke="#1a1a1a" stroke-width="1.8" stroke-linecap="round"/><path d="M408.4,1218.8L404,1217.5M406.8,1221.1L402.4,1219.8" stroke="#0e0e0e" stroke-width="0.8"/><path d="M405.6,1215.1L408.4,1218.8M404,1217.5L406.8,1221.1" stroke="#1a1a1a" stroke-width="1.8" stroke-linecap="round"/><ellipse cx="488" cy="1196" rx="17.6" ry="16.8" fill="#e8982c" fill-opacity="0.1" transform="rotate(0 488 1196)"/><path d="M497.3,1210.2 Q493.9,1206.2 491.9,1207.3 Q489.9,1208.4 491.2,1211.4 L492.4,1214.4" fill="none" stroke="#c58125" stroke-width="0.8"/><path d="M501.4,1186.9 Q500.7,1191.2 503.7,1188.9 Q506.6,1186.6 506.7,1189.4 L506.8,1192.1" fill="none" stroke="#c58125" stroke-width="0.8"/><path d="M498.5,1193.6 Q498.5,1199.6 499.6,1198.1 Q500.7,1196.6 501.4,1197.7 Q502.1,1198.8 504.8,1196.2 L507.6,1193.7" fill="none" stroke="#c58125" stroke-width="0.8"/><path d="M494.5,1202.7 Q499.6,1200.5 502,1197.9 Q504.3,1195.3 501.9,1196.3 L499.5,1197.3" fill="none" stroke="#c58125" stroke-width="0.8"/><path d="M501.1,1209.4 Q505.4,1206.6 506.9,1209.1 Q508.3,1211.7 505.9,1211.6 Q503.5,1211.6 501.4,1209.4 L499.3,1207.3" fill="none" stroke="#c58125" stroke-width="0.8"/><path d="M487.1,1203.1 Q486.8,1200.2 486.8,1198.6 Q486.9,1196.9 488.6,1194.4 L490.4,1191.9" fill="none" stroke="#c58125" stroke-width="0.8"/><path d="M472,1188.1 Q473.8,1186.8 475.5,1186.2 Q477.3,1185.7 477.1,1187.6 Q476.9,1189.6 475.4,1187.7 Q473.9,1185.9 474.4,1185.5 L474.8,1185.1" fill="none" stroke="#c58125" stroke-width="0.8"/><path d="M504.4,1185.4 Q498.8,1189.9 500,1189.5 Q501.3,1189.1 503,1186.7 Q504.7,1184.2 502.2,1183.2 L499.7,1182.1" fill="none" stroke="#c58125" stroke-width="0.8"/><path d="M484,1190.8 Q484.9,1189.7 484.3,1188 Q483.6,1186.3 482.4,1185.1 Q481.3,1183.8 480.3,1186.3 L479.3,1188.7" fill="none" stroke="#c58125" stroke-width="0.8"/><path d="M501.1,1201.9 Q506,1207 503.1,1207.9 Q500.2,1208.7 499.6,1208.1 L499,1207.4" fill="none" stroke="#c58125" stroke-width="0.8"/><path d="M478.8,1193.9 Q481.9,1191.7 483.2,1191.1 Q484.5,1190.5 481.7,1190.2 Q478.8,1190 476.2,1191.7 Q473.6,1193.4 475.7,1193.6 L477.7,1193.8" fill="none" stroke="#c58125" stroke-width="0.8"/><path d="M505.5,1183.9 Q501.1,1187.8 498.8,1185.3 Q496.5,1182.8 494.9,1179.9 Q493.3,1177.1 496.1,1177 L498.9,1176.9" fill="none" stroke="#c58125" stroke-width="0.8"/><polygon points="474.7,1183.6 472,1190.5 470.8,1190 472.2,1193.7 475.7,1191.9 474.4,1191.4 477.1,1184.6" fill="#e8982c" stroke="#8b5b1a" stroke-width="0.4"/><polygon points="504.1,1199.4 498.5,1198.6 498.7,1197.3 495.4,1199.4 498,1202.4 498.1,1201.1 503.7,1201.9" fill="#e8982c" stroke="#8b5b1a" stroke-width="0.4"/><polygon points="476.4,1206.9 481.1,1204.3 481.7,1205.5 483,1201.7 479.2,1200.9 479.8,1202.1 475.2,1204.7" fill="#e8982c" stroke="#8b5b1a" stroke-width="0.4"/><polygon points="486.3,1216.9 482.7,1211.2 483.8,1210.5 480,1209.4 479.4,1213.3 480.5,1212.6 484.1,1218.3" fill="#e8982c" stroke="#8b5b1a" stroke-width="0.4"/><polygon points="492.4,1180 488.1,1181.7 487.6,1180.5 485.7,1184 489.5,1185.3 489,1184.1 493.4,1182.4" fill="#e8982c" stroke="#8b5b1a" stroke-width="0.4"/><polygon points="489,1178.5 495.4,1183.1 494.6,1184.2 498.6,1183.8 497.7,1180 496.9,1181 490.5,1176.4" fill="#e8982c" stroke="#8b5b1a" stroke-width="0.4"/><polygon points="490.6,1204.6 496.6,1200 497.4,1201 498.2,1197.1 494.2,1196.9 495,1197.9 489,1202.5" fill="#e8982c" stroke="#8b5b1a" stroke-width="0.4"/><polygon points="488.6,1178.7 484.2,1183 483.3,1182.1 483,1186 487,1185.8 486.1,1184.9 490.4,1180.6" fill="#e8982c" stroke="#8b5b1a" stroke-width="0.4"/><polygon points="497.3,1201.1 502.6,1200.8 502.7,1202.1 505.5,1199.4 502.4,1196.9 502.5,1198.2 497.2,1198.5" fill="#e8982c" stroke="#8b5b1a" stroke-width="0.4"/><polygon points="492.1,1202.5 485.6,1198.8 486.2,1197.7 482.3,1198.5 483.7,1202.3 484.3,1201.1 490.8,1204.8" fill="#e8982c" stroke="#8b5b1a" stroke-width="0.4"/><polygon points="481,1185.4 476.7,1186.1 476.5,1184.8 473.9,1187.9 477.3,1189.9 477.1,1188.7 481.4,1187.9" fill="#e8982c" stroke="#8b5b1a" stroke-width="0.4"/><polygon points="489.9,1182.6 491.3,1189.6 490.1,1189.8 493.2,1192.3 495.2,1188.8 493.9,1189.1 492.5,1182" fill="#e8982c" stroke="#8b5b1a" stroke-width="0.4"/><polygon points="496.3,1190.8 500.6,1193 500,1194.2 503.8,1193.2 502.3,1189.5 501.8,1190.7 497.5,1188.5" fill="#e8982c" stroke="#8b5b1a" stroke-width="0.4"/><polygon points="499.3,1196.2 504.5,1194.9 504.8,1196.2 507.1,1192.9 503.5,1191.1 503.8,1192.4 498.6,1193.7" fill="#e8982c" stroke="#8b5b1a" stroke-width="0.4"/><path d="M502.6,1206.9L498.1,1206.9M501.1,1210.2L496.6,1210.1" stroke="#7f5318" stroke-width="0.8"/><path d="M499.6,1203.6L502.6,1206.9M498.1,1206.9L501.1,1210.2" stroke="#e8982c" stroke-width="1.8" stroke-linecap="round"/><path d="M495,1192.1L492.3,1187.6M491.2,1192.7L488.6,1188.2" stroke="#7f5318" stroke-width="0.8"/><path d="M496,1187L495,1192.1M492.3,1187.6L491.2,1192.7" stroke="#e8982c" stroke-width="1.8" stroke-linecap="round"/><path d="M478.1,1185L473.4,1184.7M476.8,1188L472.1,1187.7" stroke="#7f5318" stroke-width="0.8"/><path d="M474.6,1181.8L478.1,1185M473.4,1184.7L476.8,1188" stroke="#e8982c" stroke-width="1.8" stroke-linecap="round"/><path d="M505.7,1188.8L502.5,1184.8M502.9,1189.9L499.6,1185.9" stroke="#7f5318" stroke-width="0.8"/><path d="M505.3,1183.7L505.7,1188.8M502.5,1184.8L502.9,1189.9" stroke="#e8982c" stroke-width="1.8" stroke-linecap="round"/><path d="M505.3,1187.3L502.5,1182.6M502.4,1188.1L499.6,1183.4" stroke="#7f5318" stroke-width="0.8"/><path d="M505.4,1181.8L505.3,1187.3M502.5,1182.6L502.4,1188.1" stroke="#e8982c" stroke-width="1.8" stroke-linecap="round"/><path d="M472.6,1194.3L470.3,1199.6M475.3,1196.7L473.1,1202.1" stroke="#7f5318" stroke-width="0.8"/><path d="M467.5,1197.2L472.6,1194.3M470.3,1199.6L475.3,1196.7" stroke="#e8982c" stroke-width="1.8" stroke-linecap="round"/><path d="M493.9,1199.4L490.4,1203.5M495.8,1202.9L492.3,1207" stroke="#7f5318" stroke-width="0.8"/><path d="M488.5,1200L493.9,1199.4M490.4,1203.5L495.8,1202.9" stroke="#e8982c" stroke-width="1.8" stroke-linecap="round"/><path d="M494.4,1188.8L489,1188.6M493.5,1191.6L488,1191.4" stroke="#7f5318" stroke-width="0.8"/><path d="M489.9,1185.8L494.4,1188.8M489,1188.6L493.5,1191.6" stroke="#e8982c" stroke-width="1.8" stroke-linecap="round"/><path d="M492.4,1192.2L488.2,1195.8M493.6,1194.9L489.4,1198.4" stroke="#7f5318" stroke-width="0.8"/><path d="M487,1193.1L492.4,1192.2M488.2,1195.8L493.6,1194.9" stroke="#e8982c" stroke-width="1.8" stroke-linecap="round"/><path d="M502.3,1208.6L500.7,1203.3M499.5,1208.7L497.9,1203.5" stroke="#7f5318" stroke-width="0.8"/><path d="M503.5,1203.2L502.3,1208.6M500.7,1203.3L499.5,1208.7" stroke="#e8982c" stroke-width="1.8" stroke-linecap="round"/><path d="M488.8,1172.2L487.8,1178.4M491.8,1173.6L490.9,1179.8M494.9,1175L494,1181.1M498,1176.3L497,1182.5M501,1177.7L500.1,1183.9M504.1,1179.1L503.2,1185.2" stroke="#7f5318" stroke-width="0.8"/><path d="M484.8,1177L488.8,1172.2M487.8,1178.4L491.8,1173.6M490.9,1179.8L494.9,1175M494,1181.1L498,1176.3M497,1182.5L501,1177.7M500.1,1183.9L504.1,1179.1" stroke="#e8982c" stroke-width="1.8" stroke-linecap="round"/><path d="M499.3,1198.2L494,1200.7M499.8,1201.7L494.5,1204.3M500.3,1205.3L495,1207.8M500.8,1208.8L495.5,1211.4" stroke="#7f5318" stroke-width="0.8"/><path d="M493.5,1197.2L499.3,1198.2M494,1200.7L499.8,1201.7M494.5,1204.3L500.3,1205.3M495,1207.8L500.8,1208.8" stroke="#e8982c" stroke-width="1.8" stroke-linecap="round"/><ellipse cx="448" cy="1265" rx="19.2" ry="20" fill="#e8982c" fill-opacity="0.1" transform="rotate(0 448 1265)"/><path d="M442,1286.3 Q438.6,1290.8 439.4,1288 Q440.3,1285.3 443,1283.8 L445.7,1282.3" fill="none" stroke="#c58125" stroke-width="0.8"/><path d="M438.6,1261.2 Q442.9,1262.1 444.3,1260.3 Q445.7,1258.4 448.5,1261.1 Q451.3,1263.8 450.1,1266.3 Q449,1268.8 449.3,1268.9 L449.6,1269" fill="none" stroke="#c58125" stroke-width="0.8"/><path d="M449.1,1284.1 Q451.3,1285.3 450.4,1284.4 Q449.6,1283.6 450.6,1284.3 Q451.7,1285 449.1,1284.4 Q446.5,1283.8 443.9,1284.6 L441.4,1285.5" fill="none" stroke="#c58125" stroke-width="0.8"/><path d="M450,1243.8 Q446.6,1242.9 447,1242.5 Q447.3,1242.1 447.3,1242.2 Q447.3,1242.2 447.2,1239.5 Q447.1,1236.9 449,1235.6 L450.9,1234.3" fill="none" stroke="#c58125" stroke-width="0.8"/><path d="M426.2,1260.4 Q427.8,1259.9 427.7,1258.2 Q427.5,1256.5 428.2,1255.6 Q428.9,1254.7 426.3,1252.5 L423.7,1250.3" fill="none" stroke="#c58125" stroke-width="0.8"/><path d="M428.4,1274.2 Q431.5,1270.8 429.3,1273.5 Q427.2,1276.2 426.5,1274.2 Q425.7,1272.2 426.1,1272.9 Q426.6,1273.7 426.8,1273.4 L427.1,1273.1" fill="none" stroke="#c58125" stroke-width="0.8"/><path d="M438.5,1264.7 Q438.1,1263.8 437.4,1263.8 Q436.7,1263.8 439.2,1266 Q441.8,1268.2 440.4,1267.1 L438.9,1266" fill="none" stroke="#c58125" stroke-width="0.8"/><path d="M451.4,1248.8 Q448.5,1244.1 450.4,1244.6 Q452.3,1245.2 449.5,1245.3 Q446.7,1245.4 444.6,1247.6 Q442.6,1249.8 441.2,1252.5 L439.9,1255.1" fill="none" stroke="#c58125" stroke-width="0.8"/><path d="M453.4,1243.9 Q455.4,1245.1 456.3,1245.3 Q457.2,1245.6 455,1248.4 Q452.8,1251.1 455.6,1248.7 L458.4,1246.2" fill="none" stroke="#c58125" stroke-width="0.8"/><path d="M451,1288.2 Q455.3,1292.9 453.4,1290.4 Q451.4,1287.8 453.9,1286.8 Q456.3,1285.8 454.3,1287.6 Q452.3,1289.4 450.9,1290.7 L449.5,1292" fill="none" stroke="#c58125" stroke-width="0.8"/><path d="M457.1,1254.6 Q458.3,1258.1 457.5,1256.6 Q456.7,1255.2 454,1253.1 Q451.3,1251.1 453.5,1248.3 L455.7,1245.5" fill="none" stroke="#c58125" stroke-width="0.8"/><path d="M438.7,1285.8 Q441.6,1291.6 440.7,1291.5 Q439.7,1291.3 437.1,1291.3 L434.4,1291.2" fill="none" stroke="#c58125" stroke-width="0.8"/><path d="M441.2,1265.1 Q440.6,1262.7 443.3,1260.7 Q446,1258.6 445.5,1257 Q444.9,1255.4 445.9,1258.1 L446.8,1260.8" fill="none" stroke="#c58125" stroke-width="0.8"/><path d="M463.8,1259.6 Q459.4,1264.2 460.4,1265.4 Q461.4,1266.7 463.8,1265.6 L466.2,1264.5" fill="none" stroke="#c58125" stroke-width="0.8"/><polygon points="459.2,1281.1 459.2,1277.8 460.5,1277.8 457.9,1274.8 455.3,1277.8 456.6,1277.8 456.6,1281.1" fill="#e8982c" stroke="#8b5b1a" stroke-width="0.4"/><polygon points="449.8,1245 445,1248.8 444.2,1247.8 443.4,1251.7 447.4,1251.9 446.6,1250.9 451.4,1247.1" fill="#e8982c" stroke="#8b5b1a" stroke-width="0.4"/><polygon points="457.6,1256 455.2,1258.6 454.3,1257.7 454.2,1261.7 458.1,1261.2 457.2,1260.4 459.6,1257.7" fill="#e8982c" stroke="#8b5b1a" stroke-width="0.4"/><polygon points="472.5,1266.5 468.8,1265.6 469.1,1264.3 465.5,1266.2 467.9,1269.4 468.2,1268.1 471.9,1269" fill="#e8982c" stroke="#8b5b1a" stroke-width="0.4"/><polygon points="452,1242.2 446.2,1244.1 445.8,1242.9 443.8,1246.3 447.5,1247.8 447,1246.6 452.8,1244.7" fill="#e8982c" stroke="#8b5b1a" stroke-width="0.4"/><polygon points="429.4,1277.6 432,1280.6 431.1,1281.5 435,1281.9 434.9,1277.9 434,1278.8 431.3,1275.9" fill="#e8982c" stroke="#8b5b1a" stroke-width="0.4"/><polygon points="443.8,1262.8 447.1,1262.6 447.2,1263.9 450.1,1261.2 447,1258.7 447,1260 443.7,1260.2" fill="#e8982c" stroke="#8b5b1a" stroke-width="0.4"/><polygon points="462.4,1261.2 465.2,1264.4 464.2,1265.2 468.1,1265.8 468.1,1261.9 467.1,1262.7 464.4,1259.5" fill="#e8982c" stroke="#8b5b1a" stroke-width="0.4"/><polygon points="448.9,1278.7 448.5,1274 449.8,1273.9 447,1271.1 444.7,1274.3 445.9,1274.2 446.4,1278.9" fill="#e8982c" stroke="#8b5b1a" stroke-width="0.4"/><polygon points="442.4,1285 446.1,1281.4 447,1282.3 447.4,1278.4 443.4,1278.6 444.3,1279.5 440.5,1283.2" fill="#e8982c" stroke="#8b5b1a" stroke-width="0.4"/><polygon points="437.2,1264.1 440.2,1265 439.8,1266.2 443.4,1264.6 441.3,1261.3 440.9,1262.5 438,1261.6" fill="#e8982c" stroke="#8b5b1a" stroke-width="0.4"/><polygon points="428.5,1262.1 428,1269 426.7,1269 429,1272.1 431.9,1269.3 430.6,1269.2 431,1262.3" fill="#e8982c" stroke="#8b5b1a" stroke-width="0.4"/><polygon points="426.9,1273.5 431.7,1274.1 431.5,1275.4 434.8,1273.2 432.2,1270.3 432,1271.5 427.3,1270.9" fill="#e8982c" stroke="#8b5b1a" stroke-width="0.4"/><polygon points="464.5,1260.2 464.5,1266 463.2,1266 465.8,1269 468.4,1266 467.1,1266 467.1,1260.2" fill="#e8982c" stroke="#8b5b1a" stroke-width="0.4"/><polygon points="442.5,1240.5 443.1,1243.7 441.8,1244 445,1246.4 446.9,1242.9 445.7,1243.2 445,1240" fill="#e8982c" stroke="#8b5b1a" stroke-width="0.4"/><polygon points="442.7,1268.1 447.8,1271.6 447.1,1272.7 451,1272.2 450,1268.4 449.3,1269.4 444.1,1266" fill="#e8982c" stroke="#8b5b1a" stroke-width="0.4"/><path d="M457.5,1288.4L455.1,1283.9M454.6,1289L452.2,1284.5M451.7,1289.5L449.3,1285.1" stroke="#7f5318" stroke-width="0.8"/><path d="M458,1283.3L457.5,1288.4M455.1,1283.9L454.6,1289M452.2,1284.5L451.7,1289.5" stroke="#e8982c" stroke-width="1.8" stroke-linecap="round"/><path d="M446.8,1258.2L446.2,1264.1M450.1,1259.7L449.6,1265.6" stroke="#7f5318" stroke-width="0.8"/><path d="M442.8,1262.6L446.8,1258.2M446.2,1264.1L450.1,1259.7" stroke="#e8982c" stroke-width="1.8" stroke-linecap="round"/><path d="M448.8,1279.9L446.4,1284.2M451,1282.3L448.6,1286.6" stroke="#7f5318" stroke-width="0.8"/><path d="M444.2,1281.8L448.8,1279.9M446.4,1284.2L451,1282.3" stroke="#e8982c" stroke-width="1.8" stroke-linecap="round"/><path d="M463.7,1248.3L458.6,1245.4M461.2,1250.6L456.1,1247.8" stroke="#7f5318" stroke-width="0.8"/><path d="M461.1,1243L463.7,1248.3M458.6,1245.4L461.2,1250.6" stroke="#e8982c" stroke-width="1.8" stroke-linecap="round"/><path d="M466.6,1258.3L463.9,1262.4M468.4,1260.5L465.7,1264.6M470.2,1262.7L467.5,1266.8" stroke="#7f5318" stroke-width="0.8"/><path d="M462.1,1260.3L466.6,1258.3M463.9,1262.4L468.4,1260.5M465.7,1264.6L470.2,1262.7" stroke="#e8982c" stroke-width="1.8" stroke-linecap="round"/><path d="M465.4,1264.4L465.7,1269.9M468,1264.9L468.3,1270.4" stroke="#7f5318" stroke-width="0.8"/><path d="M463,1269.4L465.4,1264.4M465.7,1269.9L468,1264.9" stroke="#e8982c" stroke-width="1.8" stroke-linecap="round"/><path d="M452,1277.5L447.4,1278.4M451.8,1280.1L447.2,1281" stroke="#7f5318" stroke-width="0.8"/><path d="M447.7,1275.8L452,1277.5M447.4,1278.4L451.8,1280.1" stroke="#e8982c" stroke-width="1.8" stroke-linecap="round"/><path d="M441,1281.6L438.4,1286.4M443.5,1284.6L441,1289.3" stroke="#7f5318" stroke-width="0.8"/><path d="M435.9,1283.4L441,1281.6M438.4,1286.4L443.5,1284.6" stroke="#e8982c" stroke-width="1.8" stroke-linecap="round"/><path d="M432.2,1261.3L427.4,1262.6M431.6,1265.2L426.8,1266.5" stroke="#7f5318" stroke-width="0.8"/><path d="M428,1258.7L432.2,1261.3M427.4,1262.6L431.6,1265.2" stroke="#e8982c" stroke-width="1.8" stroke-linecap="round"/><path d="M453,1283.3L450.6,1288M455,1285L452.6,1289.8M457,1286.8L454.7,1291.6" stroke="#7f5318" stroke-width="0.8"/><path d="M448.6,1286.3L453,1283.3M450.6,1288L455,1285M452.6,1289.8L457,1286.8" stroke="#e8982c" stroke-width="1.8" stroke-linecap="round"/><path d="M458.7,1259L461.1,1264.8M461.9,1258.6L464.3,1264.3M465.2,1258.2L467.6,1263.9M468.5,1257.8L470.9,1263.5M471.8,1257.3L474.2,1263.1" stroke="#7f5318" stroke-width="0.8"/><path d="M457.8,1265.2L458.7,1259M461.1,1264.8L461.9,1258.6M464.3,1264.3L465.2,1258.2M467.6,1263.9L468.5,1257.8M470.9,1263.5L471.8,1257.3" stroke="#e8982c" stroke-width="1.8" stroke-linecap="round"/><path d="M444.6,1279.6L446.2,1285.6M447.7,1279.6L449.2,1285.6M450.8,1279.6L452.3,1285.6M453.8,1279.6L455.4,1285.6M456.9,1279.6L458.4,1285.6M460,1279.6L461.5,1285.6" stroke="#7f5318" stroke-width="0.8"/><path d="M443.1,1285.6L444.6,1279.6M446.2,1285.6L447.7,1279.6M449.2,1285.6L450.8,1279.6M452.3,1285.6L453.8,1279.6M455.4,1285.6L456.9,1279.6M458.4,1285.6L460,1279.6" stroke="#e8982c" stroke-width="1.8" stroke-linecap="round"/><path d="M419.9,1250.8L422.2,1256.6M423.1,1250.4L425.5,1256.2M426.4,1250L428.8,1255.7M429.7,1249.6L432.1,1255.3M432.9,1249.2L435.3,1254.9M436.2,1248.8L438.6,1254.5M439.5,1248.4L441.9,1254.1M442.8,1247.9L445.1,1253.7M446,1247.5L448.4,1253.3M449.3,1247.1L451.7,1252.9" stroke="#740b17" stroke-width="0.8"/><path d="M419,1257L419.9,1250.8M422.2,1256.6L423.1,1250.4M425.5,1256.2L426.4,1250M428.8,1255.7L429.7,1249.6M432.1,1255.3L432.9,1249.2M435.3,1254.9L436.2,1248.8M438.6,1254.5L439.5,1248.4M441.9,1254.1L442.8,1247.9M445.1,1253.7L446,1247.5M448.4,1253.3L449.3,1247.1" stroke="#d3152a" stroke-width="1.8" stroke-linecap="round"/><path d="M431.4,1244.4L433.3,1249.2M434.5,1244.1L436.4,1249M437.6,1243.9L439.6,1248.7M440.7,1243.6L442.7,1248.5M443.9,1243.4L445.8,1248.2M447,1243.1L448.9,1248M450.1,1242.9L452.1,1247.7M453.2,1242.6L455.2,1247.5" stroke="#740b17" stroke-width="0.8"/><path d="M430.2,1249.5L431.4,1244.4M433.3,1249.2L434.5,1244.1M436.4,1249L437.6,1243.9M439.6,1248.7L440.7,1243.6M442.7,1248.5L443.9,1243.4M445.8,1248.2L447,1243.1M448.9,1248L450.1,1242.9M452.1,1247.7L453.2,1242.6" stroke="#d3152a" stroke-width="1.8" stroke-linecap="round"/><path d="M424.9,1255.5L425.1,1261.7M428,1256.2L428.2,1262.4M431,1256.9L431.2,1263.1M434.1,1257.6L434.3,1263.8M437.2,1258.2L437.4,1264.4M440.2,1258.9L440.4,1265.1" stroke="#196228" stroke-width="0.8"/><path d="M422,1261L424.9,1255.5M425.1,1261.7L428,1256.2M428.2,1262.4L431,1256.9M431.2,1263.1L434.1,1257.6M434.3,1263.8L437.2,1258.2M437.4,1264.4L440.2,1258.9" stroke="#2fb34a" stroke-width="1.8" stroke-linecap="round"/><path d="M418.4,1188.2L419.6,1193.5M421.6,1188.5L422.7,1193.8M424.7,1188.7L425.9,1194.1M427.9,1189L429.1,1194.3M431.1,1189.3L432.2,1194.6M434.2,1189.5L435.4,1194.8M437.4,1189.8L438.6,1195.1M440.6,1190L441.8,1195.3M443.8,1190.3L444.9,1195.6M446.9,1190.5L448.1,1195.8M450.1,1190.8L451.3,1196.1M453.3,1191L454.4,1196.4M456.4,1191.3L457.6,1196.6M459.6,1191.6L460.8,1196.9M462.8,1191.8L463.9,1197.1M465.9,1192.1L467.1,1197.4M469.1,1192.3L470.3,1197.6M472.3,1192.6L473.5,1197.9M475.5,1192.8L476.6,1198.1M478.6,1193.1L479.8,1198.4" stroke="#740b17" stroke-width="0.8"/><path d="M416.4,1193.3L418.4,1188.2M419.6,1193.5L421.6,1188.5M422.7,1193.8L424.7,1188.7M425.9,1194.1L427.9,1189M429.1,1194.3L431.1,1189.3M432.2,1194.6L434.2,1189.5M435.4,1194.8L437.4,1189.8M438.6,1195.1L440.6,1190M441.8,1195.3L443.8,1190.3M444.9,1195.6L446.9,1190.5M448.1,1195.8L450.1,1190.8M451.3,1196.1L453.3,1191M454.4,1196.4L456.4,1191.3M457.6,1196.6L459.6,1191.6M460.8,1196.9L462.8,1191.8M463.9,1197.1L465.9,1192.1M467.1,1197.4L469.1,1192.3M470.3,1197.6L472.3,1192.6M473.5,1197.9L475.5,1192.8M476.6,1198.1L478.6,1193.1" stroke="#d3152a" stroke-width="1.8" stroke-linecap="round"/><path d="M404.1,1172.8L405.3,1178.1M407.3,1173.1L408.5,1178.4M410.5,1173.3L411.7,1178.6M413.7,1173.6L414.9,1178.9M416.9,1173.8L418.2,1179.1M420.1,1174L421.4,1179.3M423.4,1174.3L424.6,1179.6M426.6,1174.5L427.8,1179.8M429.8,1174.8L431,1180.1M433,1175L434.2,1180.3M436.2,1175.3L437.4,1180.6M439.4,1175.5L440.6,1180.8M442.6,1175.7L443.8,1181M445.8,1176L447,1181.3M449,1176.2L450.2,1181.5M452.2,1176.5L453.5,1181.8M455.5,1176.7L456.7,1182M458.7,1177L459.9,1182.3M461.9,1177.2L463.1,1182.5M465.1,1177.4L466.3,1182.7M468.3,1177.7L469.5,1183" stroke="#196228" stroke-width="0.8"/><path d="M402.1,1177.9L404.1,1172.8M405.3,1178.1L407.3,1173.1M408.5,1178.4L410.5,1173.3M411.7,1178.6L413.7,1173.6M414.9,1178.9L416.9,1173.8M418.2,1179.1L420.1,1174M421.4,1179.3L423.4,1174.3M424.6,1179.6L426.6,1174.5M427.8,1179.8L429.8,1174.8M431,1180.1L433,1175M434.2,1180.3L436.2,1175.3M437.4,1180.6L439.4,1175.5M440.6,1180.8L442.6,1175.7M443.8,1181L445.8,1176M447,1181.3L449,1176.2M450.2,1181.5L452.2,1176.5M453.5,1181.8L455.5,1176.7M456.7,1182L458.7,1177M459.9,1182.3L461.9,1177.2M463.1,1182.5L465.1,1177.4M466.3,1182.7L468.3,1177.7" stroke="#2fb34a" stroke-width="1.8" stroke-linecap="round"/><path d="M405.8,1181.9L407.5,1187.1M409,1181.8L410.7,1187M412.2,1181.8L413.8,1187M415.3,1181.7L417,1186.9M418.5,1181.7L420.1,1186.9M421.7,1181.6L423.3,1186.8M424.8,1181.6L426.5,1186.8M428,1181.5L429.6,1186.7M431.1,1181.5L432.8,1186.7M434.3,1181.4L436,1186.6M437.5,1181.4L439.1,1186.6M440.6,1181.4L442.3,1186.5M443.8,1181.3L445.4,1186.5M446.9,1181.3L448.6,1186.4M450.1,1181.2L451.8,1186.4M453.3,1181.2L454.9,1186.3M456.4,1181.1L458.1,1186.3M459.6,1181.1L461.3,1186.2M462.8,1181L464.4,1186.2M465.9,1181L467.6,1186.1M469.1,1180.9L470.7,1186.1" stroke="#196228" stroke-width="0.8"/><path d="M404.3,1187.1L405.8,1181.9M407.5,1187.1L409,1181.8M410.7,1187L412.2,1181.8M413.8,1187L415.3,1181.7M417,1186.9L418.5,1181.7M420.1,1186.9L421.7,1181.6M423.3,1186.8L424.8,1181.6M426.5,1186.8L428,1181.5M429.6,1186.7L431.1,1181.5M432.8,1186.7L434.3,1181.4M436,1186.6L437.5,1181.4M439.1,1186.6L440.6,1181.4M442.3,1186.5L443.8,1181.3M445.4,1186.5L446.9,1181.3M448.6,1186.4L450.1,1181.2M451.8,1186.4L453.3,1181.2M454.9,1186.3L456.4,1181.1M458.1,1186.3L459.6,1181.1M461.3,1186.2L462.8,1181M464.4,1186.2L465.9,1181M467.6,1186.1L469.1,1180.9" stroke="#2fb34a" stroke-width="1.8" stroke-linecap="round"/><path d="M402.3,1175.3 Q398,1179 401.1,1181.7 L404.3,1184.5" fill="none" stroke="#27983e" stroke-width="0.9"/><ellipse cx="246" cy="1376" rx="24" ry="10.4" fill="#939393" fill-opacity="0.1" transform="rotate(-37 246 1376)"/><path d="M243.7,1383.6 Q249.1,1384.1 250.4,1381.9 Q251.6,1379.7 254.5,1376.9 L257.4,1374.1" fill="none" stroke="#7c7c7c" stroke-width="0.8"/><path d="M257.5,1368.1 Q263.5,1363.2 260.6,1365.9 Q257.7,1368.5 257.1,1366.7 L256.5,1364.9" fill="none" stroke="#7c7c7c" stroke-width="0.8"/><path d="M235.7,1379.3 Q232.2,1375.9 232.7,1376.2 Q233.3,1376.4 236,1378.5 L238.7,1380.5" fill="none" stroke="#7c7c7c" stroke-width="0.8"/><path d="M234.4,1375 Q228.8,1377.8 231,1378.8 Q233.2,1379.7 231.5,1381.4 Q229.8,1383.2 231.2,1381.4 L232.6,1379.5" fill="none" stroke="#7c7c7c" stroke-width="0.8"/><path d="M248.3,1365 Q245.5,1362.6 245.9,1362.4 Q246.3,1362.3 247.2,1361.2 L248.1,1360.1" fill="none" stroke="#7c7c7c" stroke-width="0.8"/><path d="M236.1,1391.5 Q239.6,1389.2 237.6,1389.9 Q235.7,1390.6 236,1391.7 L236.3,1392.7" fill="none" stroke="#7c7c7c" stroke-width="0.8"/><path d="M267.7,1362.9 Q273.2,1364.9 271.9,1363.7 Q270.6,1362.6 272.7,1364.9 Q274.7,1367.2 272.4,1365.4 Q270.1,1363.6 269.1,1363 L268.1,1362.4" fill="none" stroke="#7c7c7c" stroke-width="0.8"/><path d="M227.7,1396.7 Q222.9,1402.5 220.6,1400.7 Q218.3,1398.8 217.3,1400.1 Q216.3,1401.4 218.4,1401.2 L220.6,1401.1" fill="none" stroke="#7c7c7c" stroke-width="0.8"/><path d="M250.4,1382 Q254.7,1387.8 254.6,1388.3 Q254.6,1388.9 256.7,1388.8 Q258.8,1388.7 260.6,1389.3 L262.4,1390" fill="none" stroke="#7c7c7c" stroke-width="0.8"/><path d="M251,1382.9 Q248.1,1386.1 251,1385.2 Q253.9,1384.2 250.9,1383.5 L248,1382.7" fill="none" stroke="#7c7c7c" stroke-width="0.8"/><path d="M230.5,1377.1 Q226.1,1377.9 226.7,1380.4 Q227.4,1383 229.7,1384.7 L232.1,1386.4" fill="none" stroke="#7c7c7c" stroke-width="0.8"/><path d="M255.9,1370.3 Q258.2,1370.5 260.4,1370 Q262.5,1369.4 262.7,1370.7 Q262.8,1372 262.6,1373.3 Q262.4,1374.6 262.2,1372.4 L262,1370.2" fill="none" stroke="#7c7c7c" stroke-width="0.8"/><path d="M232.3,1395.4 Q228.6,1392.9 227.9,1394.6 Q227.2,1396.2 224.4,1397.2 Q221.7,1398.2 223.1,1396.5 Q224.5,1394.7 223,1397 L221.4,1399.3" fill="none" stroke="#7c7c7c" stroke-width="0.8"/><path d="M237.9,1394.7 Q238.4,1391.6 240.1,1393 Q241.8,1394.5 243.7,1391.7 Q245.7,1388.8 246.4,1391.2 L247.1,1393.6" fill="none" stroke="#7c7c7c" stroke-width="0.8"/><path d="M231.3,1375.8L227.5,1379.8M232.9,1378.7L229.1,1382.7" stroke="#505050" stroke-width="0.8"/><path d="M225.8,1377L231.3,1375.8M227.5,1379.8L232.9,1378.7" stroke="#939393" stroke-width="1.8" stroke-linecap="round"/><path d="M235.9,1371.2L234.4,1375.8M238.2,1372.9L236.8,1377.5" stroke="#505050" stroke-width="0.8"/><path d="M232,1374.1L235.9,1371.2M234.4,1375.8L238.2,1372.9" stroke="#939393" stroke-width="1.8" stroke-linecap="round"/><path d="M254.6,1363.4L251.4,1367.6M256.3,1365.9L253.2,1370" stroke="#505050" stroke-width="0.8"/><path d="M249.6,1365.2L254.6,1363.4M251.4,1367.6L256.3,1365.9" stroke="#939393" stroke-width="1.8" stroke-linecap="round"/><path d="M244.6,1373.1L242.4,1377.2M246.6,1375.2L244.4,1379.3M248.6,1377.3L246.5,1381.4" stroke="#505050" stroke-width="0.8"/><path d="M240.4,1375.2L244.6,1373.1M242.4,1377.2L246.6,1375.2M244.4,1379.3L248.6,1377.3" stroke="#939393" stroke-width="1.8" stroke-linecap="round"/><path d="M243,1370L240.2,1373.9M244.6,1371.9L241.8,1375.8" stroke="#505050" stroke-width="0.8"/><path d="M238.6,1371.9L243,1370M240.2,1373.9L244.6,1371.9" stroke="#939393" stroke-width="1.8" stroke-linecap="round"/><path d="M255.5,1358.8L252.4,1362.9M257.2,1361.1L254.1,1365.2M258.9,1363.4L255.8,1367.5" stroke="#505050" stroke-width="0.8"/><path d="M250.7,1360.6L255.5,1358.8M252.4,1362.9L257.2,1361.1M254.1,1365.2L258.9,1363.4" stroke="#939393" stroke-width="1.8" stroke-linecap="round"/><path d="M246.2,1381.6L242.9,1385.4M247.7,1383.9L244.5,1387.8M249.3,1386.2L246,1390.1" stroke="#505050" stroke-width="0.8"/><path d="M241.3,1383.1L246.2,1381.6M242.9,1385.4L247.7,1383.9M244.5,1387.8L249.3,1386.2" stroke="#939393" stroke-width="1.8" stroke-linecap="round"/><path d="M232.8,1372L228.9,1374.5M233.5,1375.6L229.5,1378.1" stroke="#505050" stroke-width="0.8"/><path d="M228.3,1370.9L232.8,1372M228.9,1374.5L233.5,1375.6" stroke="#939393" stroke-width="1.8" stroke-linecap="round"/><path d="M243,1379.3L237.9,1381.9M243.5,1382.8L238.5,1385.4" stroke="#505050" stroke-width="0.8"/><path d="M237.4,1378.4L243,1379.3M237.9,1381.9L243.5,1382.8" stroke="#939393" stroke-width="1.8" stroke-linecap="round"/><path d="M235.3,1377.5L233.4,1382.4M238.1,1380.1L236.3,1385" stroke="#505050" stroke-width="0.8"/><path d="M230.6,1379.8L235.3,1377.5M233.4,1382.4L238.1,1380.1" stroke="#939393" stroke-width="1.8" stroke-linecap="round"/><path d="M232,1381.5L229.5,1385.2M234,1384.9L231.5,1388.6" stroke="#505050" stroke-width="0.8"/><path d="M227.5,1381.9L232,1381.5M229.5,1385.2L234,1384.9" stroke="#939393" stroke-width="1.8" stroke-linecap="round"/><path d="M232.8,1381.4L231.3,1385.6M235.2,1383.3L233.6,1387.5M237.5,1385.2L235.9,1389.4" stroke="#505050" stroke-width="0.8"/><path d="M229,1383.7L232.8,1381.4M231.3,1385.6L235.2,1383.3M233.6,1387.5L237.5,1385.2" stroke="#939393" stroke-width="1.8" stroke-linecap="round"/><path d="M247.3,1369.8L244.2,1373.6M248.9,1372L245.7,1375.8M250.4,1374.3L247.3,1378.1" stroke="#505050" stroke-width="0.8"/><path d="M242.7,1371.3L247.3,1369.8M244.2,1373.6L248.9,1372M245.7,1375.8L250.4,1374.3" stroke="#939393" stroke-width="1.8" stroke-linecap="round"/><path d="M245.9,1373.1L242.4,1377.8M248,1376.4L244.6,1381" stroke="#505050" stroke-width="0.8"/><path d="M240.3,1374.5L245.9,1373.1M242.4,1377.8L248,1376.4" stroke="#939393" stroke-width="1.8" stroke-linecap="round"/><path d="M266.3,1366.1L263.3,1370.8M268.1,1368L265.1,1372.7" stroke="#505050" stroke-width="0.8"/><path d="M261.4,1368.8L266.3,1366.1M263.3,1370.8L268.1,1368" stroke="#939393" stroke-width="1.8" stroke-linecap="round"/><path d="M226.6,1389.9L223.2,1393.2M227.9,1392.4L224.5,1395.7M229.2,1395L225.8,1398.3" stroke="#505050" stroke-width="0.8"/><path d="M221.9,1390.6L226.6,1389.9M223.2,1393.2L227.9,1392.4M224.5,1395.7L229.2,1395" stroke="#939393" stroke-width="1.8" stroke-linecap="round"/><path d="M241,1375.2L237.2,1377.2M241.4,1378L237.6,1380M241.8,1380.8L238,1382.7" stroke="#505050" stroke-width="0.8"/><path d="M236.8,1374.5L241,1375.2M237.2,1377.2L241.4,1378M237.6,1380L241.8,1380.8" stroke="#939393" stroke-width="1.8" stroke-linecap="round"/><path d="M256.9,1363.6L254.5,1368.6M259.3,1365.8L256.9,1370.9" stroke="#505050" stroke-width="0.8"/><path d="M252,1366.4L256.9,1363.6M254.5,1368.6L259.3,1365.8" stroke="#939393" stroke-width="1.8" stroke-linecap="round"/><path d="M244.8,1377.3L241.3,1381.1M246.3,1379.6L242.8,1383.4" stroke="#505050" stroke-width="0.8"/><path d="M239.9,1378.7L244.8,1377.3M241.3,1381.1L246.3,1379.6" stroke="#939393" stroke-width="1.8" stroke-linecap="round"/><path d="M226.1,1384.4L225,1389M228.6,1385.9L227.5,1390.5" stroke="#505050" stroke-width="0.8"/><path d="M222.5,1387.5L226.1,1384.4M225,1389L228.6,1385.9" stroke="#939393" stroke-width="1.8" stroke-linecap="round"/><path d="M233,1375.4L232.6,1380M235.8,1376.8L235.5,1381.3" stroke="#505050" stroke-width="0.8"/><path d="M229.7,1378.6L233,1375.4M232.6,1380L235.8,1376.8" stroke="#939393" stroke-width="1.8" stroke-linecap="round"/><path d="M229.8,1377.4L226.6,1380.6M231,1380L227.8,1383.1M232.3,1382.5L229.1,1385.7" stroke="#505050" stroke-width="0.8"/><path d="M225.3,1378L229.8,1377.4M226.6,1380.6L231,1380M227.8,1383.1L232.3,1382.5" stroke="#939393" stroke-width="1.8" stroke-linecap="round"/><path d="M257.1,1358.6L254.3,1361.9M258.5,1360.8L255.7,1364.2" stroke="#505050" stroke-width="0.8"/><path d="M252.9,1359.7L257.1,1358.6M254.3,1361.9L258.5,1360.8" stroke="#939393" stroke-width="1.8" stroke-linecap="round"/><path d="M260.8,1363.2L259.8,1368M263.7,1365L262.8,1369.8" stroke="#505050" stroke-width="0.8"/><path d="M256.9,1366.1L260.8,1363.2M259.8,1368L263.7,1365" stroke="#939393" stroke-width="1.8" stroke-linecap="round"/><path d="M257.2,1366.6L252.3,1369.3M257.8,1369.7L252.9,1372.3" stroke="#505050" stroke-width="0.8"/><path d="M251.6,1366.2L257.2,1366.6M252.3,1369.3L257.8,1369.7" stroke="#939393" stroke-width="1.8" stroke-linecap="round"/><path d="M254.3,1377.5L250.3,1381.1M255.5,1380L251.6,1383.5" stroke="#505050" stroke-width="0.8"/><path d="M249.1,1378.6L254.3,1377.5M250.3,1381.1L255.5,1380" stroke="#939393" stroke-width="1.8" stroke-linecap="round"/><path d="M258.7,1376.7L254.3,1380.1M259.8,1380.2L255.4,1383.6" stroke="#505050" stroke-width="0.8"/><path d="M253.2,1376.6L258.7,1376.7M254.3,1380.1L259.8,1380.2" stroke="#939393" stroke-width="1.8" stroke-linecap="round"/><path d="M234.6,1381.9L232.8,1386.7M236.8,1383.5L235,1388.3M239,1385.1L237.2,1389.9" stroke="#505050" stroke-width="0.8"/><path d="M230.6,1385.1L234.6,1381.9M232.8,1386.7L236.8,1383.5M235,1388.3L239,1385.1" stroke="#939393" stroke-width="1.8" stroke-linecap="round"/><path d="M255.4,1379.7L251.3,1382.8M256.4,1382.2L252.3,1385.2" stroke="#505050" stroke-width="0.8"/><path d="M250.3,1380.3L255.4,1379.7M251.3,1382.8L256.4,1382.2" stroke="#939393" stroke-width="1.8" stroke-linecap="round"/><path d="M245.6,1373.8L242.4,1378.3M247.4,1375.9L244.1,1380.4M249.1,1378L245.9,1382.5" stroke="#505050" stroke-width="0.8"/><path d="M240.6,1376.1L245.6,1373.8M242.4,1378.3L247.4,1375.9M244.1,1380.4L249.1,1378" stroke="#939393" stroke-width="1.8" stroke-linecap="round"/><path d="M229.9,1385.5L225.7,1389.2M231.2,1387.9L227,1391.6" stroke="#505050" stroke-width="0.8"/><path d="M224.5,1386.7L229.9,1385.5M225.7,1389.2L231.2,1387.9" stroke="#939393" stroke-width="1.8" stroke-linecap="round"/><path d="M239.1,1375.4L234.4,1378.3M239.9,1378.1L235.2,1381M240.7,1380.9L236.1,1383.8" stroke="#505050" stroke-width="0.8"/><path d="M233.6,1375.6L239.1,1375.4M234.4,1378.3L239.9,1378.1M235.2,1381L240.7,1380.9" stroke="#939393" stroke-width="1.8" stroke-linecap="round"/><path d="M239.1,1379.1L236.2,1383.8M241,1381.1L238.1,1385.8" stroke="#505050" stroke-width="0.8"/><path d="M234.3,1381.8L239.1,1379.1M236.2,1383.8L241,1381.1" stroke="#939393" stroke-width="1.8" stroke-linecap="round"/><path d="M233.2,1389.3L231.4,1394.4M236.2,1392L234.4,1397" stroke="#505050" stroke-width="0.8"/><path d="M228.4,1391.7L233.2,1389.3M231.4,1394.4L236.2,1392" stroke="#939393" stroke-width="1.8" stroke-linecap="round"/><path d="M244.6,1385.2L241.3,1389.3M246.3,1387.5L243,1391.6M247.9,1389.9L244.6,1393.9" stroke="#505050" stroke-width="0.8"/><path d="M239.7,1386.9L244.6,1385.2M241.3,1389.3L246.3,1387.5M243,1391.6L247.9,1389.9" stroke="#939393" stroke-width="1.8" stroke-linecap="round"/><path d="M231.7,1373.9L228.8,1378.6M233.6,1375.8L230.7,1380.5" stroke="#505050" stroke-width="0.8"/><path d="M226.9,1376.7L231.7,1373.9M228.8,1378.6L233.6,1375.8" stroke="#939393" stroke-width="1.8" stroke-linecap="round"/><path d="M261.2,1357.7L258.4,1361.5M263.1,1360.4L260.3,1364.3" stroke="#505050" stroke-width="0.8"/><path d="M256.6,1358.7L261.2,1357.7M258.4,1361.5L263.1,1360.4" stroke="#939393" stroke-width="1.8" stroke-linecap="round"/><path d="M242.7,1377.5L239.9,1380.8M244.1,1380L241.3,1383.2" stroke="#505050" stroke-width="0.8"/><path d="M238.5,1378.3L242.7,1377.5M239.9,1380.8L244.1,1380" stroke="#939393" stroke-width="1.8" stroke-linecap="round"/><path d="M261.9,1373.1L259.3,1377.6M263.9,1375.2L261.3,1379.6M265.8,1377.2L263.2,1381.7" stroke="#505050" stroke-width="0.8"/><path d="M257.4,1375.6L261.9,1373.1M259.3,1377.6L263.9,1375.2M261.3,1379.6L265.8,1377.2" stroke="#939393" stroke-width="1.8" stroke-linecap="round"/><ellipse cx="311" cy="1378" rx="28.8" ry="10.4" fill="#939393" fill-opacity="0.1" transform="rotate(55 311 1378)"/><path d="M294.3,1372.3 Q288.6,1366.8 287.5,1365.8 Q286.5,1364.7 283.8,1365.9 Q281.2,1367 284.1,1366.8 L287.1,1366.7" fill="none" stroke="#7c7c7c" stroke-width="0.8"/><path d="M314.2,1384.6 Q314.5,1384.4 316.2,1382.6 Q317.8,1380.8 316.5,1383.4 L315.3,1385.9" fill="none" stroke="#7c7c7c" stroke-width="0.8"/><path d="M312.3,1372.3 Q318,1367.7 316,1364.8 Q313.9,1361.9 311.2,1359.1 L308.5,1356.4" fill="none" stroke="#7c7c7c" stroke-width="0.8"/><path d="M312.1,1364.3 Q314.8,1364.2 315,1366 Q315.2,1367.9 314,1368.4 Q312.8,1368.8 310.3,1366 L307.8,1363.2" fill="none" stroke="#7c7c7c" stroke-width="0.8"/><path d="M306.8,1362.4 Q303.7,1361.2 306.6,1360.8 Q309.6,1360.4 307,1360.2 L304.4,1360.1" fill="none" stroke="#7c7c7c" stroke-width="0.8"/><path d="M325,1395.6 Q330.9,1399.9 328.7,1398.5 Q326.5,1397.1 326.8,1394.9 Q327.1,1392.8 324.5,1393.3 Q321.8,1393.9 321.7,1393.9 L321.7,1393.9" fill="none" stroke="#7c7c7c" stroke-width="0.8"/><path d="M315.6,1376.8 Q315.5,1382.3 317.7,1383 Q319.9,1383.7 320,1383.7 Q320.2,1383.8 318.6,1383.1 L316.9,1382.3" fill="none" stroke="#7c7c7c" stroke-width="0.8"/><path d="M326.7,1386.6 Q322.2,1388.8 321.3,1388 Q320.4,1387.2 321.1,1390 Q321.9,1392.8 321.9,1390.5 Q321.9,1388.1 318.9,1390.2 L315.9,1392.4" fill="none" stroke="#7c7c7c" stroke-width="0.8"/><path d="M289.6,1363.6 Q294.7,1363.1 292.2,1362 Q289.7,1360.9 287.7,1360.1 Q285.7,1359.3 283.2,1360.6 L280.7,1361.8" fill="none" stroke="#7c7c7c" stroke-width="0.8"/><path d="M320.7,1395.7 Q322.9,1394.1 320.4,1395.7 Q318,1397.3 318.6,1399.6 Q319.3,1401.8 321.6,1399.1 L323.9,1396.4" fill="none" stroke="#7c7c7c" stroke-width="0.8"/><path d="M321.4,1379.2 Q324.6,1377.8 322.3,1376.7 Q320,1375.6 322.7,1378.5 Q325.4,1381.4 323.8,1381 Q322.2,1380.7 321.9,1383.1 L321.6,1385.5" fill="none" stroke="#7c7c7c" stroke-width="0.8"/><path d="M299.7,1364.1 Q297.9,1366.9 295.6,1365.2 Q293.3,1363.5 294.4,1362.6 L295.5,1361.6" fill="none" stroke="#7c7c7c" stroke-width="0.8"/><path d="M320.8,1383.2 Q326.7,1383.3 324.1,1381.4 Q321.5,1379.5 324.5,1382.3 L327.4,1385.2" fill="none" stroke="#7c7c7c" stroke-width="0.8"/><path d="M304.4,1360.3 Q306.1,1358.5 306.8,1355.6 Q307.5,1352.6 308.7,1349.7 Q309.8,1346.8 310.2,1343.9 Q310.5,1341.1 313.2,1338.7 L315.9,1336.4" fill="none" stroke="#7c7c7c" stroke-width="0.8"/><path d="M318,1392.3L314.2,1388.6M315.7,1393.6L312,1390" stroke="#505050" stroke-width="0.8"/><path d="M316.5,1387.3L318,1392.3M314.2,1388.6L315.7,1393.6" stroke="#939393" stroke-width="1.8" stroke-linecap="round"/><path d="M330.4,1402.3L327.6,1397.3M326.6,1403L323.8,1398" stroke="#505050" stroke-width="0.8"/><path d="M331.5,1396.7L330.4,1402.3M327.6,1397.3L326.6,1403" stroke="#939393" stroke-width="1.8" stroke-linecap="round"/><path d="M301.9,1370.1L298.3,1366.8M299.8,1371.5L296.1,1368.3" stroke="#505050" stroke-width="0.8"/><path d="M300.4,1365.4L301.9,1370.1M298.3,1366.8L299.8,1371.5" stroke="#939393" stroke-width="1.8" stroke-linecap="round"/><path d="M308.3,1385.7L302.7,1386M307.2,1389.3L301.6,1389.6" stroke="#505050" stroke-width="0.8"/><path d="M303.7,1382.4L308.3,1385.7M302.7,1386L307.2,1389.3" stroke="#939393" stroke-width="1.8" stroke-linecap="round"/><path d="M306.1,1359.6L302.1,1355.9M303.3,1361.3L299.3,1357.6" stroke="#505050" stroke-width="0.8"/><path d="M304.9,1354.3L306.1,1359.6M302.1,1355.9L303.3,1361.3" stroke="#939393" stroke-width="1.8" stroke-linecap="round"/><path d="M327.5,1386.2L323.4,1384M324.4,1388.6L320.3,1386.3" stroke="#505050" stroke-width="0.8"/><path d="M326.6,1381.7L327.5,1386.2M323.4,1384L324.4,1388.6" stroke="#939393" stroke-width="1.8" stroke-linecap="round"/><path d="M299.9,1367.2L298.2,1361.9M296,1367L294.3,1361.7" stroke="#505050" stroke-width="0.8"/><path d="M302.1,1362.1L299.9,1367.2M298.2,1361.9L296,1367" stroke="#939393" stroke-width="1.8" stroke-linecap="round"/><path d="M312.7,1361L308.3,1357.4M310,1362.8L305.6,1359.2" stroke="#505050" stroke-width="0.8"/><path d="M311,1355.6L312.7,1361M308.3,1357.4L310,1362.8" stroke="#939393" stroke-width="1.8" stroke-linecap="round"/><path d="M307,1369.1L302.4,1368.8M306,1371.8L301.4,1371.5M304.9,1374.5L300.3,1374.2" stroke="#505050" stroke-width="0.8"/><path d="M303.5,1366.1L307,1369.1M302.4,1368.8L306,1371.8M301.4,1371.5L304.9,1374.5" stroke="#939393" stroke-width="1.8" stroke-linecap="round"/><path d="M313.8,1396.9L309.4,1395M312,1399L307.6,1397.1" stroke="#505050" stroke-width="0.8"/><path d="M311.3,1392.9L313.8,1396.9M309.4,1395L312,1399" stroke="#939393" stroke-width="1.8" stroke-linecap="round"/><path d="M306.5,1385.4L302.2,1383.8M303.8,1388.1L299.5,1386.6" stroke="#505050" stroke-width="0.8"/><path d="M305,1381.1L306.5,1385.4M302.2,1383.8L303.8,1388.1" stroke="#939393" stroke-width="1.8" stroke-linecap="round"/><path d="M307.3,1372.2L303.9,1368.4M304.8,1373.4L301.4,1369.6M302.2,1374.6L298.8,1370.8" stroke="#505050" stroke-width="0.8"/><path d="M306.4,1367.1L307.3,1372.2M303.9,1368.4L304.8,1373.4M301.4,1369.6L302.2,1374.6" stroke="#939393" stroke-width="1.8" stroke-linecap="round"/><path d="M309.9,1362.3L307,1359.1M306.7,1363.4L303.8,1360.2" stroke="#505050" stroke-width="0.8"/><path d="M310.2,1358L309.9,1362.3M307,1359.1L306.7,1363.4" stroke="#939393" stroke-width="1.8" stroke-linecap="round"/><path d="M300.2,1354.3L296,1352.9M298.1,1356.7L293.9,1355.3" stroke="#505050" stroke-width="0.8"/><path d="M298.1,1350.4L300.2,1354.3M296,1352.9L298.1,1356.7" stroke="#939393" stroke-width="1.8" stroke-linecap="round"/><path d="M330.5,1383.7L326.4,1380.7M328.3,1385.4L324.3,1382.4M326.1,1387.1L322.1,1384.1" stroke="#505050" stroke-width="0.8"/><path d="M328.6,1379L330.5,1383.7M326.4,1380.7L328.3,1385.4M324.3,1382.4L326.1,1387.1" stroke="#939393" stroke-width="1.8" stroke-linecap="round"/><path d="M294,1360.3L288.7,1360.5M293.4,1363L288.1,1363.2M292.8,1365.7L287.4,1365.9" stroke="#505050" stroke-width="0.8"/><path d="M289.3,1357.8L294,1360.3M288.7,1360.5L293.4,1363M288.1,1363.2L292.8,1365.7" stroke="#939393" stroke-width="1.8" stroke-linecap="round"/><path d="M326.4,1399.4L322,1396.6M323.8,1401.4L319.4,1398.6" stroke="#505050" stroke-width="0.8"/><path d="M324.6,1394.5L326.4,1399.4M322,1396.6L323.8,1401.4" stroke="#939393" stroke-width="1.8" stroke-linecap="round"/><path d="M315.6,1366.8L311.5,1365M313.5,1369.1L309.4,1367.3" stroke="#505050" stroke-width="0.8"/><path d="M313.5,1362.8L315.6,1366.8M311.5,1365L313.5,1369.1" stroke="#939393" stroke-width="1.8" stroke-linecap="round"/><path d="M308.5,1391.8L307.2,1386.3M305.7,1391.7L304.3,1386.3" stroke="#505050" stroke-width="0.8"/><path d="M310.1,1386.4L308.5,1391.8M307.2,1386.3L305.7,1391.7" stroke="#939393" stroke-width="1.8" stroke-linecap="round"/><path d="M307.2,1369L303.8,1366M304.7,1370.4L301.3,1367.4M302.2,1371.8L298.8,1368.9" stroke="#505050" stroke-width="0.8"/><path d="M306.3,1364.6L307.2,1369M303.8,1366L304.7,1370.4M301.3,1367.4L302.2,1371.8" stroke="#939393" stroke-width="1.8" stroke-linecap="round"/><path d="M304.8,1383.6L300.2,1380.8M302.6,1385.6L298,1382.8M300.5,1387.6L295.9,1384.9" stroke="#505050" stroke-width="0.8"/><path d="M302.4,1378.8L304.8,1383.6M300.2,1380.8L302.6,1385.6M298,1382.8L300.5,1387.6" stroke="#939393" stroke-width="1.8" stroke-linecap="round"/><path d="M303.1,1362.1L299,1359M299.8,1364.1L295.7,1361" stroke="#505050" stroke-width="0.8"/><path d="M302.3,1357L303.1,1362.1M299,1359L299.8,1364.1" stroke="#939393" stroke-width="1.8" stroke-linecap="round"/><path d="M320.4,1379.3L317,1376.6M317.9,1380.9L314.5,1378.2" stroke="#505050" stroke-width="0.8"/><path d="M319.6,1375L320.4,1379.3M317,1376.6L317.9,1380.9" stroke="#939393" stroke-width="1.8" stroke-linecap="round"/><path d="M314.6,1369L309.9,1367.3M312.8,1371.3L308.2,1369.6M311.1,1373.6L306.4,1371.9" stroke="#505050" stroke-width="0.8"/><path d="M311.7,1365L314.6,1369M309.9,1367.3L312.8,1371.3M308.2,1369.6L311.1,1373.6" stroke="#939393" stroke-width="1.8" stroke-linecap="round"/><path d="M301.2,1375.3L297.5,1371.9M298.6,1376.8L295,1373.4" stroke="#505050" stroke-width="0.8"/><path d="M300.1,1370.5L301.2,1375.3M297.5,1371.9L298.6,1376.8" stroke="#939393" stroke-width="1.8" stroke-linecap="round"/><path d="M310.1,1367.1L305.9,1368.3M309.9,1370L305.8,1371.2M309.8,1372.8L305.6,1374" stroke="#505050" stroke-width="0.8"/><path d="M306.1,1365.5L310.1,1367.1M305.9,1368.3L309.9,1370M305.8,1371.2L309.8,1372.8" stroke="#939393" stroke-width="1.8" stroke-linecap="round"/><path d="M297,1364.3L292.5,1361.8M294.1,1366.7L289.6,1364.2" stroke="#505050" stroke-width="0.8"/><path d="M295.4,1359.4L297,1364.3M292.5,1361.8L294.1,1366.7" stroke="#939393" stroke-width="1.8" stroke-linecap="round"/><path d="M329.4,1398L326,1393.8M326.8,1399.2L323.4,1394.9M324.2,1400.3L320.9,1396.1" stroke="#505050" stroke-width="0.8"/><path d="M328.5,1392.7L329.4,1398M326,1393.8L326.8,1399.2M323.4,1394.9L324.2,1400.3" stroke="#939393" stroke-width="1.8" stroke-linecap="round"/><path d="M332.9,1395.7L328,1394.3M330.6,1398.7L325.6,1397.3" stroke="#505050" stroke-width="0.8"/><path d="M330.3,1391.3L332.9,1395.7M328,1394.3L330.6,1398.7" stroke="#939393" stroke-width="1.8" stroke-linecap="round"/><path d="M329.1,1404.9L324.2,1405.3M328.4,1407.9L323.5,1408.3" stroke="#505050" stroke-width="0.8"/><path d="M324.9,1402.3L329.1,1404.9M324.2,1405.3L328.4,1407.9" stroke="#939393" stroke-width="1.8" stroke-linecap="round"/><path d="M321.4,1372.8L319,1367.7M318.1,1373.3L315.8,1368.1" stroke="#505050" stroke-width="0.8"/><path d="M322.2,1367.2L321.4,1372.8M319,1367.7L318.1,1373.3" stroke="#939393" stroke-width="1.8" stroke-linecap="round"/><path d="M316.2,1377.9L312,1374.8M313.9,1379.7L309.7,1376.5M311.6,1381.4L307.3,1378.3" stroke="#505050" stroke-width="0.8"/><path d="M314.3,1373L316.2,1377.9M312,1374.8L313.9,1379.7M309.7,1376.5L311.6,1381.4" stroke="#939393" stroke-width="1.8" stroke-linecap="round"/><path d="M315.5,1374.5L312.5,1370M312.7,1375.4L309.7,1370.9" stroke="#505050" stroke-width="0.8"/><path d="M315.2,1369.1L315.5,1374.5M312.5,1370L312.7,1375.4" stroke="#939393" stroke-width="1.8" stroke-linecap="round"/><path d="M307.3,1378.1L303.3,1374.9M304.5,1379.9L300.4,1376.8" stroke="#505050" stroke-width="0.8"/><path d="M306.1,1373.1L307.3,1378.1M303.3,1374.9L304.5,1379.9" stroke="#939393" stroke-width="1.8" stroke-linecap="round"/><path d="M327.2,1389L322.9,1387.7M325.7,1391.2L321.4,1389.8" stroke="#505050" stroke-width="0.8"/><path d="M324.5,1385.5L327.2,1389M322.9,1387.7L325.7,1391.2" stroke="#939393" stroke-width="1.8" stroke-linecap="round"/><path d="M322.3,1380.8L316.9,1379.4M320.3,1383.9L314.9,1382.5" stroke="#505050" stroke-width="0.8"/><path d="M318.9,1376.4L322.3,1380.8M316.9,1379.4L320.3,1383.9" stroke="#939393" stroke-width="1.8" stroke-linecap="round"/><path d="M325.7,1377.3L322,1374.1M323.4,1378.8L319.7,1375.6" stroke="#505050" stroke-width="0.8"/><path d="M324.3,1372.6L325.7,1377.3M322,1374.1L323.4,1378.8" stroke="#939393" stroke-width="1.8" stroke-linecap="round"/><path d="M299.7,1371.8L296.3,1367.8M296.7,1373L293.3,1369" stroke="#505050" stroke-width="0.8"/><path d="M299.2,1366.5L299.7,1371.8M296.3,1367.8L296.7,1373" stroke="#939393" stroke-width="1.8" stroke-linecap="round"/><path d="M307.1,1359.2L302.6,1357.8M305.5,1361.5L301.1,1360.1M304,1363.8L299.5,1362.4" stroke="#505050" stroke-width="0.8"/><path d="M304.2,1355.5L307.1,1359.2M302.6,1357.8L305.5,1361.5M301.1,1360.1L304,1363.8" stroke="#939393" stroke-width="1.8" stroke-linecap="round"/><ellipse cx="284" cy="1344" rx="11.2" ry="7.2" fill="#1a1a1a" fill-opacity="0.1" transform="rotate(0 284 1344)"/><path d="M285.9,1346.3 Q285.7,1350.9 285.9,1351.1 Q286.1,1351.2 288.9,1353.7 Q291.8,1356.1 294.5,1355 L297.1,1353.9" fill="none" stroke="#161616" stroke-width="0.8"/><path d="M289.2,1343.6 Q294.5,1345.2 293.3,1344.1 Q292.1,1343 292.1,1340.3 Q292.1,1337.6 292.7,1339 L293.4,1340.4" fill="none" stroke="#161616" stroke-width="0.8"/><path d="M281.9,1350.2 Q282.6,1352.4 280.3,1349.7 Q278,1347 280.8,1345.7 Q283.7,1344.5 282,1346.8 L280.3,1349.2" fill="none" stroke="#161616" stroke-width="0.8"/><path d="M290.9,1337.2 Q294.2,1337.3 293.1,1336.4 Q292,1335.6 293,1335.9 Q293.9,1336.2 293.3,1337.4 L292.6,1338.5" fill="none" stroke="#161616" stroke-width="0.8"/><path d="M294.6,1341.5 Q297.5,1342.2 295.3,1340.1 Q293,1338 290.7,1336.9 Q288.5,1335.8 285.8,1334.5 Q283.2,1333.1 281.4,1331.3 L279.6,1329.4" fill="none" stroke="#161616" stroke-width="0.8"/><path d="M288.3,1343.2 Q291.7,1344.3 291.5,1346.4 Q291.2,1348.6 291.1,1345.7 Q291,1342.7 290.3,1344.3 L289.6,1345.8" fill="none" stroke="#161616" stroke-width="0.8"/><path d="M280.6,1344L278.4,1348.8M283.1,1346.4L280.8,1351.2" stroke="#0e0e0e" stroke-width="0.8"/><path d="M275.9,1346.5L280.6,1344M278.4,1348.8L283.1,1346.4" stroke="#1a1a1a" stroke-width="1.8" stroke-linecap="round"/><path d="M293,1352.3L289,1348.3M290.1,1353.9L286.1,1349.9" stroke="#0e0e0e" stroke-width="0.8"/><path d="M291.9,1346.7L293,1352.3M289,1348.3L290.1,1353.9" stroke="#1a1a1a" stroke-width="1.8" stroke-linecap="round"/><path d="M293.6,1343.9L288.2,1342.2M291.7,1346.6L286.3,1344.9" stroke="#0e0e0e" stroke-width="0.8"/><path d="M290,1339.4L293.6,1343.9M288.2,1342.2L291.7,1346.6" stroke="#1a1a1a" stroke-width="1.8" stroke-linecap="round"/><path d="M279.6,1342.2L277.5,1337.7M277,1342.6L274.9,1338.1" stroke="#0e0e0e" stroke-width="0.8"/><path d="M280.1,1337.3L279.6,1342.2M277.5,1337.7L277,1342.6" stroke="#1a1a1a" stroke-width="1.8" stroke-linecap="round"/><path d="M289,1346.4L285.3,1349.4M290.1,1349.3L286.4,1352.4" stroke="#0e0e0e" stroke-width="0.8"/><path d="M284.2,1346.5L289,1346.4M285.3,1349.4L290.1,1349.3" stroke="#1a1a1a" stroke-width="1.8" stroke-linecap="round"/><path d="M292.1,1339.2L288.1,1341.9M292.9,1342.5L288.8,1345.2" stroke="#0e0e0e" stroke-width="0.8"/><path d="M287.3,1338.6L292.1,1339.2M288.1,1341.9L292.9,1342.5" stroke="#1a1a1a" stroke-width="1.8" stroke-linecap="round"/><path d="M290.3,1342.8L287.2,1339.8M287.6,1344.1L284.5,1341" stroke="#0e0e0e" stroke-width="0.8"/><path d="M289.9,1338.5L290.3,1342.8M287.2,1339.8L287.6,1344.1" stroke="#1a1a1a" stroke-width="1.8" stroke-linecap="round"/><ellipse cx="225" cy="1425" rx="19.2" ry="21.6" fill="#e8982c" fill-opacity="0.2" transform="rotate(0 225 1425)"/><path d="M226.3,1429.6 Q231.1,1434.2 230.3,1436.9 Q229.5,1439.6 229,1438.4 L228.6,1437.2" fill="none" stroke="#c58125" stroke-width="0.8"/><path d="M205.5,1425.6 Q200.7,1423.8 197.7,1421.7 Q194.7,1419.6 194.8,1421.4 L195,1423.2" fill="none" stroke="#c58125" stroke-width="0.8"/><path d="M218.7,1437.9 Q222.7,1441.5 225.3,1442 Q227.9,1442.6 228.8,1441.3 Q229.6,1440.1 228.5,1438.3 Q227.4,1436.6 227.6,1437.2 L227.8,1437.8" fill="none" stroke="#c58125" stroke-width="0.8"/><path d="M228.5,1419.1 Q225.3,1421.3 223,1422.4 Q220.6,1423.4 218.1,1423.1 Q215.5,1422.7 215,1423.2 L214.5,1423.7" fill="none" stroke="#c58125" stroke-width="0.8"/><path d="M209.3,1440.1 Q208.8,1445 208.9,1447 Q209,1448.9 208.8,1451.1 Q208.7,1453.3 207.9,1453 L207,1452.7" fill="none" stroke="#c58125" stroke-width="0.8"/><path d="M207.7,1406.4 Q202.5,1404 200.1,1404.2 Q197.8,1404.3 197.2,1402.7 Q196.6,1401 199.3,1399.9 L202,1398.8" fill="none" stroke="#c58125" stroke-width="0.8"/><path d="M226.5,1446.3 Q232.1,1447.6 234.3,1445 Q236.5,1442.4 237.9,1441.4 Q239.3,1440.4 238.2,1442 L237.2,1443.6" fill="none" stroke="#c58125" stroke-width="0.8"/><path d="M236.6,1416.4 Q238.5,1410.4 239.8,1411.3 Q241.1,1412.1 241.1,1413.8 Q241.2,1415.5 239.2,1413.2 L237.2,1410.9" fill="none" stroke="#c58125" stroke-width="0.8"/><path d="M213.6,1402.5 Q214.1,1405.7 212.7,1406.9 Q211.2,1408 214.1,1406 Q217.1,1403.9 219.7,1406.8 Q222.3,1409.7 221.5,1411.6 L220.7,1413.5" fill="none" stroke="#c58125" stroke-width="0.8"/><path d="M223.3,1430 Q220.5,1433 221.7,1435.2 Q222.9,1437.3 224.3,1439.5 L225.7,1441.7" fill="none" stroke="#c58125" stroke-width="0.8"/><path d="M229.9,1427.3 Q224.2,1431.1 225,1431.9 Q225.7,1432.7 223.7,1430.2 Q221.7,1427.6 221.1,1427.7 L220.5,1427.8" fill="none" stroke="#c58125" stroke-width="0.8"/><path d="M225.8,1423 Q230.3,1428.4 229.2,1429.4 Q228.1,1430.4 229.6,1431.2 Q231.1,1431.9 228.8,1430.3 L226.6,1428.7" fill="none" stroke="#c58125" stroke-width="0.8"/><path d="M235.6,1432.2 Q230.9,1426.3 228.6,1426 Q226.3,1425.7 226.3,1425.9 Q226.3,1426.2 224.8,1428.7 Q223.3,1431.2 222.4,1428.9 L221.5,1426.5" fill="none" stroke="#c58125" stroke-width="0.8"/><path d="M217.4,1443.8 Q214.9,1448.3 217.3,1449.4 Q219.6,1450.5 216.8,1449.4 Q214.1,1448.2 212.1,1448.2 Q210.1,1448.2 207.3,1445.6 L204.6,1443" fill="none" stroke="#c58125" stroke-width="0.8"/><path d="M229.8,1444.7 Q227,1450.7 229,1447.9 Q231.1,1445.1 232.7,1444.5 Q234.2,1443.8 235.1,1444.7 Q235.9,1445.5 238,1444.3 L240.2,1443.1" fill="none" stroke="#c58125" stroke-width="0.8"/><path d="M209.9,1410.9 Q214.1,1413.2 213.2,1411.5 Q212.3,1409.8 214.2,1411.4 Q216,1413.1 215.3,1415.6 Q214.6,1418.1 215.8,1415.5 L217.1,1413" fill="none" stroke="#c58125" stroke-width="0.8"/><path d="M227.8,1440.4 Q230,1434.8 232.7,1433.2 Q235.3,1431.6 235.4,1430.8 L235.5,1430" fill="none" stroke="#c58125" stroke-width="0.8"/><path d="M242,1421.7 Q242.7,1419.3 242.4,1419.9 Q242.2,1420.4 244.5,1420.5 L246.8,1420.5" fill="none" stroke="#c58125" stroke-width="0.8"/><polygon points="233.5,1413.1 230.2,1413.7 230,1412.5 227.5,1415.6 231,1417.6 230.7,1416.3 234.1,1415.6" fill="#e8982c" stroke="#8b5b1a" stroke-width="0.4"/><polygon points="235.7,1402.2 232.4,1406.4 231.4,1405.6 231.6,1409.6 235.5,1408.9 234.4,1408.1 237.8,1403.8" fill="#e8982c" stroke="#8b5b1a" stroke-width="0.4"/><polygon points="218.8,1430.7 220.2,1435.9 218.9,1436.3 222.2,1438.5 224,1435 222.7,1435.3 221.4,1430.1" fill="#e8982c" stroke="#8b5b1a" stroke-width="0.4"/><polygon points="235,1408.6 239.9,1414 238.9,1414.9 242.9,1415.4 242.8,1411.4 241.8,1412.3 236.9,1406.8" fill="#e8982c" stroke="#8b5b1a" stroke-width="0.4"/><polygon points="233.8,1430.8 228.3,1425.6 229.2,1424.6 225.2,1424.5 225.6,1428.4 226.5,1427.5 232.1,1432.7" fill="#e8982c" stroke="#8b5b1a" stroke-width="0.4"/><polygon points="218.3,1422.6 221.3,1416.9 222.4,1417.5 221.5,1413.6 217.8,1415.1 219,1415.7 216,1421.4" fill="#e8982c" stroke="#8b5b1a" stroke-width="0.4"/><polygon points="227.7,1435.7 224.4,1438.1 223.6,1437.1 222.7,1440.9 226.7,1441.3 225.9,1440.2 229.2,1437.8" fill="#e8982c" stroke="#8b5b1a" stroke-width="0.4"/><polygon points="232.9,1435.8 236.5,1434.3 237,1435.5 238.7,1431.9 234.9,1430.7 235.5,1431.9 231.9,1433.4" fill="#e8982c" stroke="#8b5b1a" stroke-width="0.4"/><polygon points="230,1419.4 232.8,1418.4 233.3,1419.6 235.2,1416.2 231.5,1414.7 232,1416 229.1,1417" fill="#e8982c" stroke="#8b5b1a" stroke-width="0.4"/><polygon points="231.3,1433.4 235.8,1433.4 235.8,1434.7 238.8,1432.1 235.8,1429.5 235.8,1430.8 231.3,1430.8" fill="#e8982c" stroke="#8b5b1a" stroke-width="0.4"/><polygon points="238.8,1408.6 239.9,1412.4 238.7,1412.7 242,1414.9 243.7,1411.3 242.4,1411.6 241.3,1407.9" fill="#e8982c" stroke="#8b5b1a" stroke-width="0.4"/><polygon points="204,1436.6 207.9,1441.4 206.9,1442.3 210.8,1442.9 210.9,1439 209.9,1439.8 206,1434.9" fill="#e8982c" stroke="#8b5b1a" stroke-width="0.4"/><polygon points="218.9,1411.3 217.1,1408.5 218.1,1407.8 214.3,1406.7 213.8,1410.6 214.9,1409.9 216.7,1412.7" fill="#e8982c" stroke="#8b5b1a" stroke-width="0.4"/><polygon points="219.8,1441.4 218.1,1447 216.8,1446.6 218.4,1450.3 221.8,1448.2 220.5,1447.8 222.3,1442.2" fill="#e8982c" stroke="#8b5b1a" stroke-width="0.4"/><polygon points="233,1444 235.6,1441.5 236.5,1442.4 236.8,1438.4 232.8,1438.7 233.7,1439.6 231.2,1442.1" fill="#e8982c" stroke="#8b5b1a" stroke-width="0.4"/><polygon points="224.8,1447.7 227.2,1445.7 228.1,1446.7 228.6,1442.7 224.7,1442.7 225.5,1443.7 223.1,1445.8" fill="#e8982c" stroke="#8b5b1a" stroke-width="0.4"/><polygon points="212.5,1439.9 215.1,1438.1 215.8,1439.2 216.8,1435.3 212.8,1434.9 213.6,1436 211,1437.8" fill="#e8982c" stroke="#8b5b1a" stroke-width="0.4"/><polygon points="226.7,1425.1 228.8,1420.2 230,1420.7 228.7,1417 225.2,1418.7 226.4,1419.2 224.3,1424.1" fill="#e8982c" stroke="#8b5b1a" stroke-width="0.4"/><polygon points="238.7,1406.6 235.2,1402.4 236.2,1401.6 232.3,1400.9 232.2,1404.9 233.2,1404 236.7,1408.3" fill="#e8982c" stroke="#8b5b1a" stroke-width="0.4"/><polygon points="249.5,1419.8 244.4,1419.6 244.4,1418.3 241.3,1420.7 244.2,1423.5 244.3,1422.2 249.4,1422.4" fill="#e8982c" stroke="#8b5b1a" stroke-width="0.4"/><polygon points="225,1404.9 232.1,1407.1 231.7,1408.3 235.3,1406.7 233.2,1403.3 232.9,1404.6 225.8,1402.4" fill="#e8982c" stroke="#8b5b1a" stroke-width="0.4"/><polygon points="230.8,1400.9 225,1404.6 224.3,1403.5 223.2,1407.3 227.1,1407.9 226.4,1406.8 232.1,1403.1" fill="#e8982c" stroke="#8b5b1a" stroke-width="0.4"/><polygon points="212.3,1440.1 212.3,1434.6 213.6,1434.6 211,1431.6 208.4,1434.6 209.7,1434.6 209.7,1440.1" fill="#e8982c" stroke="#8b5b1a" stroke-width="0.4"/><polygon points="213.9,1423 216.6,1425.1 215.8,1426.1 219.7,1425.8 218.9,1421.9 218.1,1423 215.4,1421" fill="#e8982c" stroke="#8b5b1a" stroke-width="0.4"/><polygon points="221.3,1415.9 218.4,1421 217.3,1420.4 218.1,1424.3 221.8,1422.9 220.7,1422.3 223.5,1417.2" fill="#e8982c" stroke="#8b5b1a" stroke-width="0.4"/><polygon points="237.7,1422.8 237.5,1427.8 236.2,1427.7 238.6,1430.9 241.4,1428 240.1,1427.9 240.3,1423" fill="#e8982c" stroke="#8b5b1a" stroke-width="0.4"/><path d="M248.9,1421.5L243.9,1424.4M249.7,1424.5L244.7,1427.4" stroke="#7f5318" stroke-width="0.8"/><path d="M243.2,1421.4L248.9,1421.5M243.9,1424.4L249.7,1424.5" stroke="#e8982c" stroke-width="1.8" stroke-linecap="round"/><path d="M220.3,1416.7L215.4,1416.3M219.1,1419.4L214.3,1419" stroke="#7f5318" stroke-width="0.8"/><path d="M216.6,1413.5L220.3,1416.7M215.4,1416.3L219.1,1419.4" stroke="#e8982c" stroke-width="1.8" stroke-linecap="round"/><path d="M221.5,1427.6L216.1,1425.7M220.1,1429.9L214.7,1428M218.6,1432.1L213.2,1430.3" stroke="#7f5318" stroke-width="0.8"/><path d="M217.5,1423.5L221.5,1427.6M216.1,1425.7L220.1,1429.9M214.7,1428L218.6,1432.1" stroke="#e8982c" stroke-width="1.8" stroke-linecap="round"/><path d="M223.8,1406.1L219.7,1404.3M221.9,1408.1L217.9,1406.3M220.1,1410.2L216,1408.3" stroke="#7f5318" stroke-width="0.8"/><path d="M221.6,1402.2L223.8,1406.1M219.7,1404.3L221.9,1408.1M217.9,1406.3L220.1,1410.2" stroke="#e8982c" stroke-width="1.8" stroke-linecap="round"/><path d="M244.9,1432.7L243.3,1436.8M247.1,1434.5L245.4,1438.6" stroke="#7f5318" stroke-width="0.8"/><path d="M241.1,1435L244.9,1432.7M243.3,1436.8L247.1,1434.5" stroke="#e8982c" stroke-width="1.8" stroke-linecap="round"/><path d="M212.4,1428.9L207.5,1429.1M211.6,1431.8L206.7,1432M210.8,1434.7L206,1434.9" stroke="#7f5318" stroke-width="0.8"/><path d="M208.3,1426.2L212.4,1428.9M207.5,1429.1L211.6,1431.8M206.7,1432L210.8,1434.7" stroke="#e8982c" stroke-width="1.8" stroke-linecap="round"/><path d="M246.9,1432.8L242.4,1434.8M247,1436.6L242.6,1438.6" stroke="#7f5318" stroke-width="0.8"/><path d="M242.3,1431L246.9,1432.8M242.4,1434.8L247,1436.6" stroke="#e8982c" stroke-width="1.8" stroke-linecap="round"/><path d="M240.3,1414.1L236.5,1411.1M238.1,1415.7L234.2,1412.7M235.9,1417.3L232,1414.3" stroke="#7f5318" stroke-width="0.8"/><path d="M238.7,1409.5L240.3,1414.1M236.5,1411.1L238.1,1415.7M234.2,1412.7L235.9,1417.3" stroke="#e8982c" stroke-width="1.8" stroke-linecap="round"/><path d="M230.9,1409.3L227.1,1405.6M228.3,1410.7L224.5,1407" stroke="#7f5318" stroke-width="0.8"/><path d="M229.7,1404.1L230.9,1409.3M227.1,1405.6L228.3,1410.7" stroke="#e8982c" stroke-width="1.8" stroke-linecap="round"/><path d="M228.2,1410.2L224,1413.3M229.3,1413L225,1416.2" stroke="#7f5318" stroke-width="0.8"/><path d="M222.9,1410.5L228.2,1410.2M224,1413.3L229.3,1413" stroke="#e8982c" stroke-width="1.8" stroke-linecap="round"/><path d="M231,1403.5L231.6,1409.1M234.9,1404.4L235.4,1410.1" stroke="#7f5318" stroke-width="0.8"/><path d="M227.8,1408.1L231,1403.5M231.6,1409.1L234.9,1404.4" stroke="#e8982c" stroke-width="1.8" stroke-linecap="round"/><path d="M240.9,1441L236.1,1439.1M239.1,1443.3L234.3,1441.4M237.2,1445.7L232.4,1443.7" stroke="#7f5318" stroke-width="0.8"/><path d="M238,1436.8L240.9,1441M236.1,1439.1L239.1,1443.3M234.3,1441.4L237.2,1445.7" stroke="#e8982c" stroke-width="1.8" stroke-linecap="round"/><path d="M228.3,1423L224.9,1418.8M224.5,1424.2L221.1,1420" stroke="#7f5318" stroke-width="0.8"/><path d="M228.7,1417.7L228.3,1423M224.9,1418.8L224.5,1424.2" stroke="#e8982c" stroke-width="1.8" stroke-linecap="round"/><path d="M248.1,1428.6L243.8,1428M246.9,1431.1L242.6,1430.5M245.7,1433.5L241.4,1432.9" stroke="#7f5318" stroke-width="0.8"/><path d="M245,1425.6L248.1,1428.6M243.8,1428L246.9,1431.1M242.6,1430.5L245.7,1433.5" stroke="#e8982c" stroke-width="1.8" stroke-linecap="round"/><path d="M213.4,1431.2L209.4,1433.6M214.1,1434L210.1,1436.5M214.8,1436.9L210.7,1439.4" stroke="#7f5318" stroke-width="0.8"/><path d="M208.7,1430.8L213.4,1431.2M209.4,1433.6L214.1,1434M210.1,1436.5L214.8,1436.9" stroke="#e8982c" stroke-width="1.8" stroke-linecap="round"/><path d="M231.2,1442.3L229.4,1437.9M228.6,1442.6L226.7,1438.2" stroke="#7f5318" stroke-width="0.8"/><path d="M232,1437.6L231.2,1442.3M229.4,1437.9L228.6,1442.6" stroke="#e8982c" stroke-width="1.8" stroke-linecap="round"/><path d="M223.6,1438.8L224.4,1444.4M227,1439.4L227.9,1445" stroke="#7f5318" stroke-width="0.8"/><path d="M221,1443.9L223.6,1438.8M224.4,1444.4L227,1439.4" stroke="#e8982c" stroke-width="1.8" stroke-linecap="round"/><path d="M234.1,1440.2L228.9,1439.9M232.7,1443.5L227.5,1443.2" stroke="#7f5318" stroke-width="0.8"/><path d="M230.3,1436.6L234.1,1440.2M228.9,1439.9L232.7,1443.5" stroke="#e8982c" stroke-width="1.8" stroke-linecap="round"/><path d="M232.5,1403.6L233.4,1409.4M236.1,1404.2L236.9,1410" stroke="#7f5318" stroke-width="0.8"/><path d="M229.9,1408.8L232.5,1403.6M233.4,1409.4L236.1,1404.2" stroke="#e8982c" stroke-width="1.8" stroke-linecap="round"/><path d="M209.1,1423.6L209.1,1428.1M212.3,1425L212.3,1429.4" stroke="#7f5318" stroke-width="0.8"/><path d="M206,1426.7L209.1,1423.6M209.1,1428.1L212.3,1425" stroke="#e8982c" stroke-width="1.8" stroke-linecap="round"/><ellipse cx="345" cy="1425" rx="19.2" ry="22.4" fill="#e8982c" fill-opacity="0.2" transform="rotate(0 345 1425)"/><path d="M347.3,1439 Q345.4,1434.8 345,1433.3 Q344.6,1431.9 341.9,1432 Q339.3,1432.2 341.5,1434 Q343.7,1435.8 344.6,1437.6 L345.5,1439.4" fill="none" stroke="#c58125" stroke-width="0.8"/><path d="M345.6,1402.4 Q344.1,1396.7 345.2,1394 Q346.2,1391.3 344.6,1390.2 Q343,1389.2 341,1387.2 L338.9,1385.2" fill="none" stroke="#c58125" stroke-width="0.8"/><path d="M347.2,1443 Q345,1444.4 342.2,1446.1 Q339.5,1447.8 341.1,1447.5 Q342.7,1447.2 343,1444.5 L343.4,1441.8" fill="none" stroke="#c58125" stroke-width="0.8"/><path d="M337.1,1423.5 Q335.6,1427.8 335.3,1428.8 Q335,1429.9 333.5,1430.4 L332.1,1430.9" fill="none" stroke="#c58125" stroke-width="0.8"/><path d="M331.5,1441 Q325.7,1442.9 323.3,1445.6 Q320.8,1448.3 318.9,1446.1 L316.9,1443.9" fill="none" stroke="#c58125" stroke-width="0.8"/><path d="M363.8,1431.4 Q365.9,1431.4 367.4,1433.4 Q368.9,1435.4 369,1435.7 L369.2,1435.9" fill="none" stroke="#c58125" stroke-width="0.8"/><path d="M356.5,1442.4 Q355.1,1442.7 355.9,1442.9 Q356.6,1443.1 354.6,1443.8 Q352.6,1444.4 351.3,1446.8 Q350.1,1449.2 347.7,1450.9 L345.3,1452.5" fill="none" stroke="#c58125" stroke-width="0.8"/><path d="M325.1,1428.5 Q327.8,1434.3 330.6,1433.6 Q333.3,1432.8 333,1433.5 Q332.7,1434.2 332.5,1432.6 L332.2,1431" fill="none" stroke="#c58125" stroke-width="0.8"/><path d="M353.2,1427.1 Q348.5,1432 349.8,1429.7 Q351.1,1427.4 350.7,1424.8 Q350.2,1422.1 349.3,1422.5 L348.4,1422.9" fill="none" stroke="#c58125" stroke-width="0.8"/><path d="M322.2,1431 Q317.5,1428.8 319.1,1428.9 Q320.8,1429 323.3,1430.3 Q325.9,1431.5 324.3,1432.9 Q322.8,1434.3 323.1,1434 L323.3,1433.7" fill="none" stroke="#c58125" stroke-width="0.8"/><path d="M331,1408.6 Q327.7,1409.1 327.8,1408.5 Q327.8,1407.9 329.3,1405.8 Q330.9,1403.7 330.5,1403.3 Q330.2,1403 330.8,1405.2 L331.5,1407.4" fill="none" stroke="#c58125" stroke-width="0.8"/><path d="M349.5,1417 Q353.6,1414.2 355,1412.4 Q356.5,1410.6 359,1407.9 Q361.5,1405.2 359.5,1404.9 L357.5,1404.6" fill="none" stroke="#c58125" stroke-width="0.8"/><path d="M324.9,1428.5 Q324.6,1429.9 326.6,1431.9 Q328.7,1434 328.3,1433.1 Q327.9,1432.2 324.9,1433.6 Q322,1435.1 319.8,1434.9 L317.7,1434.7" fill="none" stroke="#c58125" stroke-width="0.8"/><path d="M326.9,1438.8 Q325.6,1433.1 326,1431.1 Q326.4,1429 326.5,1429.3 Q326.5,1429.7 328.9,1426.9 L331.2,1424.1" fill="none" stroke="#c58125" stroke-width="0.8"/><path d="M355,1432.4 Q358.1,1427.2 355.8,1428.9 Q353.5,1430.6 352.7,1427.8 Q351.9,1425.1 350.1,1424.7 L348.3,1424.2" fill="none" stroke="#c58125" stroke-width="0.8"/><path d="M325.2,1418 Q320.1,1416.2 319,1414.1 Q317.9,1412.1 320.6,1410.7 Q323.3,1409.4 321.5,1409 Q319.6,1408.7 317,1408.5 L314.5,1408.3" fill="none" stroke="#c58125" stroke-width="0.8"/><path d="M329.5,1424.6 Q327.8,1423.6 325.8,1423.2 Q323.7,1422.8 325.2,1421 L326.7,1419.3" fill="none" stroke="#c58125" stroke-width="0.8"/><path d="M333.8,1409.9 Q330,1415.1 328.8,1413.2 Q327.5,1411.3 329.4,1410 Q331.3,1408.7 331.6,1408.9 Q331.9,1409 331.9,1406.3 L331.9,1403.6" fill="none" stroke="#c58125" stroke-width="0.8"/><polygon points="351.4,1420.4 356.4,1414.3 357.4,1415.1 357.3,1411.1 353.3,1411.8 354.4,1412.7 349.4,1418.8" fill="#e8982c" stroke="#8b5b1a" stroke-width="0.4"/><polygon points="335.9,1447.3 339.6,1446.1 340,1447.4 342,1444 338.4,1442.4 338.8,1443.7 335.1,1444.9" fill="#e8982c" stroke="#8b5b1a" stroke-width="0.4"/><polygon points="332,1410.4 328.4,1411.5 328,1410.3 325.9,1413.7 329.6,1415.2 329.2,1414 332.7,1412.9" fill="#e8982c" stroke="#8b5b1a" stroke-width="0.4"/><polygon points="344,1417.3 341.8,1425 340.6,1424.6 342.3,1428.2 345.6,1426.1 344.3,1425.7 346.5,1418" fill="#e8982c" stroke="#8b5b1a" stroke-width="0.4"/><polygon points="346.2,1421.3 350.6,1426.3 349.6,1427.1 353.6,1427.6 353.5,1423.7 352.5,1424.5 348.1,1419.6" fill="#e8982c" stroke="#8b5b1a" stroke-width="0.4"/><polygon points="333.3,1445.4 337.3,1449.8 336.3,1450.7 340.3,1451.2 340.2,1447.2 339.2,1448.1 335.3,1443.7" fill="#e8982c" stroke="#8b5b1a" stroke-width="0.4"/><polygon points="352.9,1434.2 360.6,1432.1 360.9,1433.4 363.2,1430.1 359.6,1428.4 359.9,1429.6 352.3,1431.7" fill="#e8982c" stroke="#8b5b1a" stroke-width="0.4"/><polygon points="367.2,1421.3 364.1,1424.7 363.2,1423.9 363.1,1427.8 367,1427.3 366.1,1426.5 369.1,1423.1" fill="#e8982c" stroke="#8b5b1a" stroke-width="0.4"/><polygon points="330.9,1414.5 331.7,1410.9 333,1411.2 331.1,1407.7 327.9,1410 329.2,1410.3 328.3,1413.9" fill="#e8982c" stroke="#8b5b1a" stroke-width="0.4"/><polygon points="328.8,1427.2 333.5,1432.2 332.5,1433.1 336.4,1433.5 336.3,1429.6 335.4,1430.5 330.7,1425.4" fill="#e8982c" stroke="#8b5b1a" stroke-width="0.4"/><polygon points="356.2,1425.3 351.6,1425.6 351.5,1424.3 348.7,1427.2 351.9,1429.5 351.8,1428.2 356.4,1427.9" fill="#e8982c" stroke="#8b5b1a" stroke-width="0.4"/><polygon points="334.3,1402.7 339.6,1403.7 339.4,1405 342.8,1402.9 340.3,1399.9 340.1,1401.1 334.7,1400.2" fill="#e8982c" stroke="#8b5b1a" stroke-width="0.4"/><polygon points="358.3,1410.3 352.7,1410 352.8,1408.7 349.7,1411.1 352.5,1413.8 352.6,1412.6 358.1,1412.9" fill="#e8982c" stroke="#8b5b1a" stroke-width="0.4"/><polygon points="344,1409.4 339.5,1407.8 340,1406.5 336.3,1407.9 338.2,1411.4 338.6,1410.2 343.1,1411.8" fill="#e8982c" stroke="#8b5b1a" stroke-width="0.4"/><polygon points="346.8,1443 341.2,1438.9 342,1437.8 338,1438.1 338.9,1442 339.7,1441 345.3,1445.1" fill="#e8982c" stroke="#8b5b1a" stroke-width="0.4"/><polygon points="355,1426.3 357.7,1433.2 356.5,1433.6 360,1435.5 361.3,1431.7 360.1,1432.2 357.4,1425.4" fill="#e8982c" stroke="#8b5b1a" stroke-width="0.4"/><polygon points="340.6,1441.9 346.1,1444.8 345.5,1446 349.3,1445.1 347.9,1441.4 347.3,1442.5 341.8,1439.6" fill="#e8982c" stroke="#8b5b1a" stroke-width="0.4"/><polygon points="351.1,1448.9 350.2,1441.9 351.5,1441.7 348.5,1439.1 346.3,1442.4 347.6,1442.2 348.5,1449.2" fill="#e8982c" stroke="#8b5b1a" stroke-width="0.4"/><polygon points="349.6,1452 348.4,1448.3 349.7,1447.9 346.3,1445.9 344.7,1449.5 346,1449.1 347.1,1452.7" fill="#e8982c" stroke="#8b5b1a" stroke-width="0.4"/><polygon points="331.1,1418.7 333.2,1413 334.4,1413.5 333,1409.7 329.5,1411.6 330.7,1412.1 328.6,1417.8" fill="#e8982c" stroke="#8b5b1a" stroke-width="0.4"/><polygon points="352.8,1410.8 345.7,1409.3 346,1408 342.5,1410 344.9,1413.1 345.2,1411.8 352.2,1413.3" fill="#e8982c" stroke="#8b5b1a" stroke-width="0.4"/><polygon points="353.7,1427 354.3,1422.6 355.6,1422.8 353.4,1419.5 350.4,1422.1 351.7,1422.3 351.1,1426.7" fill="#e8982c" stroke="#8b5b1a" stroke-width="0.4"/><polygon points="355.9,1425.9 360.4,1427.2 360,1428.4 363.6,1426.7 361.5,1423.4 361.1,1424.7 356.7,1423.4" fill="#e8982c" stroke="#8b5b1a" stroke-width="0.4"/><polygon points="332.6,1422.8 326.1,1426.1 325.5,1424.9 324,1428.6 327.8,1429.5 327.2,1428.4 333.8,1425.1" fill="#e8982c" stroke="#8b5b1a" stroke-width="0.4"/><polygon points="353.2,1410.5 356.5,1403.6 357.6,1404.1 356.5,1400.3 352.9,1401.9 354.1,1402.5 350.9,1409.4" fill="#e8982c" stroke="#8b5b1a" stroke-width="0.4"/><polygon points="347.7,1442.6 352.6,1436.3 353.7,1437.1 353.5,1433.1 349.6,1433.9 350.6,1434.7 345.6,1441" fill="#e8982c" stroke="#8b5b1a" stroke-width="0.4"/><path d="M339.9,1408.9L339.2,1414.2M342.8,1410.3L342.1,1415.6" stroke="#7f5318" stroke-width="0.8"/><path d="M336.2,1412.8L339.9,1408.9M339.2,1414.2L342.8,1410.3" stroke="#e8982c" stroke-width="1.8" stroke-linecap="round"/><path d="M349.4,1431.8L350.1,1436M352,1432.2L352.7,1436.3" stroke="#7f5318" stroke-width="0.8"/><path d="M347.5,1435.6L349.4,1431.8M350.1,1436L352,1432.2" stroke="#e8982c" stroke-width="1.8" stroke-linecap="round"/><path d="M331,1416.7L326.3,1418.6M331.3,1419.6L326.6,1421.5M331.5,1422.6L326.8,1424.5" stroke="#7f5318" stroke-width="0.8"/><path d="M326,1415.6L331,1416.7M326.3,1418.6L331.3,1419.6M326.6,1421.5L331.5,1422.6" stroke="#e8982c" stroke-width="1.8" stroke-linecap="round"/><path d="M344.6,1405.9L344.4,1411.7M348.1,1407.2L347.9,1413" stroke="#7f5318" stroke-width="0.8"/><path d="M341,1410.4L344.6,1405.9M344.4,1411.7L348.1,1407.2" stroke="#e8982c" stroke-width="1.8" stroke-linecap="round"/><path d="M344.1,1412.7L340.3,1409.1M340.6,1414.3L336.7,1410.7" stroke="#7f5318" stroke-width="0.8"/><path d="M343.8,1407.4L344.1,1412.7M340.3,1409.1L340.6,1414.3" stroke="#e8982c" stroke-width="1.8" stroke-linecap="round"/><path d="M323.8,1432.6L325.2,1438M327.5,1432.9L329,1438.3" stroke="#7f5318" stroke-width="0.8"/><path d="M321.5,1437.7L323.8,1432.6M325.2,1438L327.5,1432.9" stroke="#e8982c" stroke-width="1.8" stroke-linecap="round"/><path d="M358.5,1434.9L360.2,1439.4M362.4,1435.1L364.2,1439.7" stroke="#7f5318" stroke-width="0.8"/><path d="M356.2,1439.2L358.5,1434.9M360.2,1439.4L362.4,1435.1" stroke="#e8982c" stroke-width="1.8" stroke-linecap="round"/><path d="M327.8,1430.4L322.4,1430.8M327.3,1433L322,1433.5M326.9,1435.7L321.5,1436.1" stroke="#7f5318" stroke-width="0.8"/><path d="M322.9,1428.2L327.8,1430.4M322.4,1430.8L327.3,1433M322,1433.5L326.9,1435.7" stroke="#e8982c" stroke-width="1.8" stroke-linecap="round"/><path d="M328.1,1414.7L328.5,1419.6M331,1415.4L331.5,1420.3" stroke="#7f5318" stroke-width="0.8"/><path d="M325.6,1419L328.1,1414.7M328.5,1419.6L331,1415.4" stroke="#e8982c" stroke-width="1.8" stroke-linecap="round"/><path d="M327.9,1420.5L327.3,1425.8M331.4,1422.4L330.8,1427.7" stroke="#7f5318" stroke-width="0.8"/><path d="M323.8,1423.9L327.9,1420.5M327.3,1425.8L331.4,1422.4" stroke="#e8982c" stroke-width="1.8" stroke-linecap="round"/><path d="M355.9,1434.1L350.8,1435.1M355.2,1437.8L350.1,1438.8" stroke="#7f5318" stroke-width="0.8"/><path d="M351.5,1431.3L355.9,1434.1M350.8,1435.1L355.2,1437.8" stroke="#e8982c" stroke-width="1.8" stroke-linecap="round"/><path d="M338.7,1417.6L334.3,1419.1M338.5,1421L334.1,1422.5" stroke="#7f5318" stroke-width="0.8"/><path d="M334.5,1415.7L338.7,1417.6M334.3,1419.1L338.5,1421" stroke="#e8982c" stroke-width="1.8" stroke-linecap="round"/><path d="M343.6,1404.8L340.3,1408M344.9,1408.5L341.6,1411.8" stroke="#7f5318" stroke-width="0.8"/><path d="M339,1404.2L343.6,1404.8M340.3,1408L344.9,1408.5" stroke="#e8982c" stroke-width="1.8" stroke-linecap="round"/><path d="M341,1445.5L342.7,1450.8M344.9,1445.7L346.6,1451" stroke="#7f5318" stroke-width="0.8"/><path d="M338.7,1450.6L341,1445.5M342.7,1450.8L344.9,1445.7" stroke="#e8982c" stroke-width="1.8" stroke-linecap="round"/><path d="M341.6,1427.3L341.5,1432.3M344.3,1428.1L344.2,1433.2M347,1428.9L347,1434" stroke="#7f5318" stroke-width="0.8"/><path d="M338.8,1431.5L341.6,1427.3M341.5,1432.3L344.3,1428.1M344.2,1433.2L347,1428.9" stroke="#e8982c" stroke-width="1.8" stroke-linecap="round"/><path d="M346.9,1445L343.8,1448M348.1,1447.6L344.9,1450.6M349.2,1450.1L346.1,1453.1" stroke="#7f5318" stroke-width="0.8"/><path d="M342.6,1445.5L346.9,1445M343.8,1448L348.1,1447.6M344.9,1450.6L349.2,1450.1" stroke="#e8982c" stroke-width="1.8" stroke-linecap="round"/><path d="M361.2,1415.8L362.4,1420.6M363.9,1415.9L365.1,1420.7M366.6,1416L367.8,1420.8" stroke="#7f5318" stroke-width="0.8"/><path d="M359.6,1420.5L361.2,1415.8M362.4,1420.6L363.9,1415.9M365.1,1420.7L366.6,1416" stroke="#e8982c" stroke-width="1.8" stroke-linecap="round"/><path d="M346.2,1421.3L345.7,1426.4M348.9,1422.4L348.4,1427.5M351.6,1423.5L351.1,1428.6" stroke="#7f5318" stroke-width="0.8"/><path d="M343,1425.2L346.2,1421.3M345.7,1426.4L348.9,1422.4M348.4,1427.5L351.6,1423.5" stroke="#e8982c" stroke-width="1.8" stroke-linecap="round"/><path d="M361.1,1431.3L355.8,1431.1M360.3,1434L355,1433.8" stroke="#7f5318" stroke-width="0.8"/><path d="M356.6,1428.4L361.1,1431.3M355.8,1431.1L360.3,1434" stroke="#e8982c" stroke-width="1.8" stroke-linecap="round"/><path d="M345.4,1408.1L342.9,1412.4M347.3,1410L344.8,1414.3" stroke="#7f5318" stroke-width="0.8"/><path d="M341.1,1410.5L345.4,1408.1M342.9,1412.4L347.3,1410" stroke="#e8982c" stroke-width="1.8" stroke-linecap="round"/><path d="M236.5,1415.5L241.6,1416.4M237.9,1412.7L243.1,1413.6M239.3,1410L244.5,1410.9M240.7,1407.2L245.9,1408.1M242.2,1404.5L247.3,1405.4M243.6,1401.7L248.7,1402.6M245,1399L250.1,1399.9M246.4,1396.2L251.6,1397.1M247.8,1393.5L253,1394.4M249.2,1390.7L254.4,1391.6M250.7,1388L255.8,1388.9M252.1,1385.2L257.2,1386.1" stroke="#740b17" stroke-width="0.8"/><path d="M240.2,1419.1L236.5,1415.5M241.6,1416.4L237.9,1412.7M243.1,1413.6L239.3,1410M244.5,1410.9L240.7,1407.2M245.9,1408.1L242.2,1404.5M247.3,1405.4L243.6,1401.7M248.7,1402.6L245,1399M250.1,1399.9L246.4,1396.2M251.6,1397.1L247.8,1393.5M253,1394.4L249.2,1390.7M254.4,1391.6L250.7,1388M255.8,1388.9L252.1,1385.2" stroke="#d3152a" stroke-width="1.8" stroke-linecap="round"/><path d="M260.6,1392.3L265.8,1393.4M262.3,1389.5L267.4,1390.5M263.9,1386.6L269.1,1387.6M265.5,1383.7L270.7,1384.7M267.1,1380.8L272.3,1381.9M268.8,1378L273.9,1379M270.4,1375.1L275.6,1376.1M272,1372.2L277.2,1373.2" stroke="#740b17" stroke-width="0.8"/><path d="M264.2,1396.2L260.6,1392.3M265.8,1393.4L262.3,1389.5M267.4,1390.5L263.9,1386.6M269.1,1387.6L265.5,1383.7M270.7,1384.7L267.1,1380.8M272.3,1381.9L268.8,1378M273.9,1379L270.4,1375.1M275.6,1376.1L272,1372.2" stroke="#d3152a" stroke-width="1.8" stroke-linecap="round"/><path d="M246.8,1395.1L252.1,1397M248.7,1392.5L254,1394.5M250.7,1390L255.9,1391.9M252.6,1387.4L257.9,1389.3M254.5,1384.8L259.8,1386.8M256.4,1382.2L261.7,1384.2M258.4,1379.7L263.7,1381.6M260.3,1377.1L265.6,1379M262.2,1374.5L267.5,1376.5M264.2,1372L269.4,1373.9M266.1,1369.4L271.4,1371.3M268,1366.8L273.3,1368.8M269.9,1364.2L275.2,1366.2M271.9,1361.7L277.2,1363.6" stroke="#196228" stroke-width="0.8"/><path d="M250.2,1399.6L246.8,1395.1M252.1,1397L248.7,1392.5M254,1394.5L250.7,1390M255.9,1391.9L252.6,1387.4M257.9,1389.3L254.5,1384.8M259.8,1386.8L256.4,1382.2M261.7,1384.2L258.4,1379.7M263.7,1381.6L260.3,1377.1M265.6,1379L262.2,1374.5M267.5,1376.5L264.2,1372M269.4,1373.9L266.1,1369.4M271.4,1371.3L268,1366.8M273.3,1368.8L269.9,1364.2M275.2,1366.2L271.9,1361.7" stroke="#2fb34a" stroke-width="1.8" stroke-linecap="round"/><path d="M254.9,1401.3L259.9,1402.9M256.8,1398.7L261.7,1400.3M258.6,1396.1L263.6,1397.7M260.5,1393.5L265.5,1395.2M262.3,1391L267.3,1392.6M264.2,1388.4L269.2,1390M266,1385.8L271,1387.5M267.9,1383.3L272.9,1384.9M269.8,1380.7L274.7,1382.3M271.6,1378.1L276.6,1379.7M273.5,1375.5L278.5,1377.2M275.3,1373L280.3,1374.6M277.2,1370.4L282.2,1372M279,1367.8L284,1369.5" stroke="#196228" stroke-width="0.8"/><path d="M258,1405.5L254.9,1401.3M259.9,1402.9L256.8,1398.7M261.7,1400.3L258.6,1396.1M263.6,1397.7L260.5,1393.5M265.5,1395.2L262.3,1391M267.3,1392.6L264.2,1388.4M269.2,1390L266,1385.8M271,1387.5L267.9,1383.3M272.9,1384.9L269.8,1380.7M274.7,1382.3L271.6,1378.1M276.6,1379.7L273.5,1375.5M278.5,1377.2L275.3,1373M280.3,1374.6L277.2,1370.4M282.2,1372L279,1367.8" stroke="#2fb34a" stroke-width="1.8" stroke-linecap="round"/><path d="M291.1,1360.2L287,1364M292.6,1363L288.5,1366.8M294,1365.8L289.9,1369.6M295.4,1368.6L291.4,1372.4M296.9,1371.4L292.8,1375.2M298.3,1374.2L294.2,1378M299.8,1377L295.7,1380.8M301.2,1379.8L297.1,1383.6M302.6,1382.6L298.6,1386.4M304.1,1385.4L300,1389.2M305.5,1388.2L301.4,1392M307,1391L302.9,1394.8M308.4,1393.8L304.3,1397.6M309.8,1396.6L305.8,1400.4M311.3,1399.4L307.2,1403.2M312.7,1402.2L308.6,1406M314.2,1405L310.1,1408.8M315.6,1407.8L311.5,1411.6M317,1410.6L313,1414.4M318.5,1413.4L314.4,1417.2M319.9,1416.2L315.8,1420M321.4,1419L317.3,1422.8M322.8,1421.8L318.7,1425.6M324.2,1424.6L320.2,1428.4M325.7,1427.4L321.6,1431.2" stroke="#740b17" stroke-width="0.8"/><path d="M285.6,1361.2L291.1,1360.2M287,1364L292.6,1363M288.5,1366.8L294,1365.8M289.9,1369.6L295.4,1368.6M291.4,1372.4L296.9,1371.4M292.8,1375.2L298.3,1374.2M294.2,1378L299.8,1377M295.7,1380.8L301.2,1379.8M297.1,1383.6L302.6,1382.6M298.6,1386.4L304.1,1385.4M300,1389.2L305.5,1388.2M301.4,1392L307,1391M302.9,1394.8L308.4,1393.8M304.3,1397.6L309.8,1396.6M305.8,1400.4L311.3,1399.4M307.2,1403.2L312.7,1402.2M308.6,1406L314.2,1405M310.1,1408.8L315.6,1407.8M311.5,1411.6L317,1410.6M313,1414.4L318.5,1413.4M314.4,1417.2L319.9,1416.2M315.8,1420L321.4,1419M317.3,1422.8L322.8,1421.8M318.7,1425.6L324.2,1424.6M320.2,1428.4L325.7,1427.4" stroke="#d3152a" stroke-width="1.8" stroke-linecap="round"/><path d="M299,1358.2L295.4,1362M300.5,1361L296.9,1364.8M302.1,1363.8L298.4,1367.7M303.6,1366.7L300,1370.5M305.1,1369.5L301.5,1373.3M306.7,1372.3L303.1,1376.1M308.2,1375.1L304.6,1378.9M309.8,1377.9L306.2,1381.7M311.3,1380.8L307.7,1384.6M312.9,1383.6L309.3,1387.4M314.4,1386.4L310.8,1390.2M316,1389.2L312.4,1393M317.5,1392L313.9,1395.8M319.1,1394.8L315.4,1398.7M320.6,1397.7L317,1401.5M322.1,1400.5L318.5,1404.3M323.7,1403.3L320.1,1407.1M325.2,1406.1L321.6,1409.9M326.8,1408.9L323.2,1412.7M328.3,1411.8L324.7,1415.6M329.9,1414.6L326.3,1418.4M331.4,1417.4L327.8,1421.2" stroke="#740b17" stroke-width="0.8"/><path d="M293.8,1359.2L299,1358.2M295.4,1362L300.5,1361M296.9,1364.8L302.1,1363.8M298.4,1367.7L303.6,1366.7M300,1370.5L305.1,1369.5M301.5,1373.3L306.7,1372.3M303.1,1376.1L308.2,1375.1M304.6,1378.9L309.8,1377.9M306.2,1381.7L311.3,1380.8M307.7,1384.6L312.9,1383.6M309.3,1387.4L314.4,1386.4M310.8,1390.2L316,1389.2M312.4,1393L317.5,1392M313.9,1395.8L319.1,1394.8M315.4,1398.7L320.6,1397.7M317,1401.5L322.1,1400.5M318.5,1404.3L323.7,1403.3M320.1,1407.1L325.2,1406.1M321.6,1409.9L326.8,1408.9M323.2,1412.7L328.3,1411.8M324.7,1415.6L329.9,1414.6M326.3,1418.4L331.4,1417.4" stroke="#d3152a" stroke-width="1.8" stroke-linecap="round"/><path d="M265.3,1347.2L261.9,1352.4M267.4,1349.6L264.1,1354.8M269.6,1352L266.2,1357.2M271.7,1354.4L268.3,1359.6M273.9,1356.8L270.5,1362M276,1359.2L272.6,1364.4M278.2,1361.6L274.8,1366.8M280.3,1363.9L276.9,1369.1M282.4,1366.3L279.1,1371.5M284.6,1368.7L281.2,1373.9M286.7,1371.1L283.3,1376.3M288.9,1373.5L285.5,1378.7M291,1375.9L287.6,1381.1M293.2,1378.3L289.8,1383.5M295.3,1380.7L291.9,1385.9M297.4,1383.1L294.1,1388.3M299.6,1385.5L296.2,1390.7M301.7,1387.9L298.3,1393.1M303.9,1390.3L300.5,1395.5M306,1392.7L302.6,1397.9M308.2,1395.1L304.8,1400.3M310.3,1397.4L306.9,1402.6M312.4,1399.8L309.1,1405M314.6,1402.2L311.2,1407.4M316.7,1404.6L313.3,1409.8M318.9,1407L315.5,1412.2M321,1409.4L317.6,1414.6M323.2,1411.8L319.8,1417" stroke="#196228" stroke-width="0.8"/><path d="M259.8,1350L265.3,1347.2M261.9,1352.4L267.4,1349.6M264.1,1354.8L269.6,1352M266.2,1357.2L271.7,1354.4M268.3,1359.6L273.9,1356.8M270.5,1362L276,1359.2M272.6,1364.4L278.2,1361.6M274.8,1366.8L280.3,1363.9M276.9,1369.1L282.4,1366.3M279.1,1371.5L284.6,1368.7M281.2,1373.9L286.7,1371.1M283.3,1376.3L288.9,1373.5M285.5,1378.7L291,1375.9M287.6,1381.1L293.2,1378.3M289.8,1383.5L295.3,1380.7M291.9,1385.9L297.4,1383.1M294.1,1388.3L299.6,1385.5M296.2,1390.7L301.7,1387.9M298.3,1393.1L303.9,1390.3M300.5,1395.5L306,1392.7M302.6,1397.9L308.2,1395.1M304.8,1400.3L310.3,1397.4M306.9,1402.6L312.4,1399.8M309.1,1405L314.6,1402.2M311.2,1407.4L316.7,1404.6M313.3,1409.8L318.9,1407M315.5,1412.2L321,1409.4M317.6,1414.6L323.2,1411.8" stroke="#2fb34a" stroke-width="1.8" stroke-linecap="round"/><path d="M273.1,1344.3L270.1,1349.2M275.3,1346.6L272.2,1351.6M277.4,1348.9L274.4,1353.9M279.6,1351.3L276.5,1356.2M281.7,1353.6L278.7,1358.6M283.9,1355.9L280.8,1360.9M286,1358.3L283,1363.2M288.2,1360.6L285.1,1365.6M290.3,1362.9L287.3,1367.9M292.5,1365.3L289.4,1370.2M294.6,1367.6L291.6,1372.6M296.8,1369.9L293.7,1374.9M298.9,1372.3L295.9,1377.2M301.1,1374.6L298,1379.6M303.2,1376.9L300.2,1381.9M305.4,1379.3L302.3,1384.2M307.5,1381.6L304.5,1386.6M309.7,1383.9L306.6,1388.9M311.8,1386.3L308.8,1391.2M313.9,1388.6L310.9,1393.6M316.1,1390.9L313.1,1395.9M318.2,1393.3L315.2,1398.2M320.4,1395.6L317.3,1400.6M322.5,1397.9L319.5,1402.9M324.7,1400.3L321.6,1405.2M326.8,1402.6L323.8,1407.6M329,1404.9L325.9,1409.9" stroke="#196228" stroke-width="0.8"/><path d="M267.9,1346.9L273.1,1344.3M270.1,1349.2L275.3,1346.6M272.2,1351.6L277.4,1348.9M274.4,1353.9L279.6,1351.3M276.5,1356.2L281.7,1353.6M278.7,1358.6L283.9,1355.9M280.8,1360.9L286,1358.3M283,1363.2L288.2,1360.6M285.1,1365.6L290.3,1362.9M287.3,1367.9L292.5,1365.3M289.4,1370.2L294.6,1367.6M291.6,1372.6L296.8,1369.9M293.7,1374.9L298.9,1372.3M295.9,1377.2L301.1,1374.6M298,1379.6L303.2,1376.9M300.2,1381.9L305.4,1379.3M302.3,1384.2L307.5,1381.6M304.5,1386.6L309.7,1383.9M306.6,1388.9L311.8,1386.3M308.8,1391.2L313.9,1388.6M310.9,1393.6L316.1,1390.9M313.1,1395.9L318.2,1393.3M315.2,1398.2L320.4,1395.6M317.3,1400.6L322.5,1397.9M319.5,1402.9L324.7,1400.3M321.6,1405.2L326.8,1402.6M323.8,1407.6L329,1404.9" stroke="#2fb34a" stroke-width="1.8" stroke-linecap="round"/><path d="M258,1348 Q262,1343 266,1344.5 L270,1346" fill="none" stroke="#27983e" stroke-width="0.9"/><ellipse cx="458" cy="1345" rx="13.6" ry="12" fill="#1a1a1a" fill-opacity="0.1" transform="rotate(0 458 1345)"/><path d="M453.9,1336.9 Q458.7,1335.5 461.1,1334.2 Q463.5,1332.9 462.2,1335 L460.8,1337.1" fill="none" stroke="#161616" stroke-width="0.8"/><path d="M451.8,1337.7 Q453.2,1332.4 455,1329.6 Q456.7,1326.8 458.9,1328.8 Q461.1,1330.9 459.4,1332.2 Q457.7,1333.6 459,1331.3 L460.4,1329.1" fill="none" stroke="#161616" stroke-width="0.8"/><path d="M463.7,1333.7 Q466,1339.4 463.3,1338.3 Q460.6,1337.2 461.4,1337.9 L462.1,1338.5" fill="none" stroke="#161616" stroke-width="0.8"/><path d="M469.7,1339 Q465,1334.1 462.1,1335.1 Q459.3,1336 461.4,1334.4 L463.6,1332.8" fill="none" stroke="#161616" stroke-width="0.8"/><path d="M473.1,1342 Q476,1342.5 478.3,1343.4 Q480.6,1344.3 479.5,1342.2 Q478.5,1340 475.9,1337.3 Q473.3,1334.5 475.4,1336.7 L477.6,1339" fill="none" stroke="#161616" stroke-width="0.8"/><path d="M466.5,1333.2 Q469,1338 468.4,1339.2 Q467.9,1340.5 465.4,1340.7 Q462.9,1340.8 463.6,1338.4 Q464.2,1336 466.8,1334.4 L469.5,1332.7" fill="none" stroke="#161616" stroke-width="0.8"/><path d="M453.3,1343.7 Q452.2,1343.1 455,1341.8 Q457.8,1340.5 456.1,1341.6 Q454.4,1342.7 453,1345.1 Q451.7,1347.5 450.7,1350 L449.6,1352.6" fill="none" stroke="#161616" stroke-width="0.8"/><path d="M453.9,1356.5 Q456.7,1353.1 454.6,1350.3 Q452.6,1347.5 450.7,1348.5 Q448.8,1349.5 446.2,1347.9 L443.6,1346.3" fill="none" stroke="#161616" stroke-width="0.8"/><path d="M460.2,1334.6 Q455.7,1333.2 457,1335.2 Q458.4,1337.1 458,1338.5 Q457.7,1340 455.9,1341.6 L454,1343.3" fill="none" stroke="#161616" stroke-width="0.8"/><path d="M454.3,1340.7 Q458.2,1335 458.7,1337.7 Q459.2,1340.3 460.1,1340.4 Q460.9,1340.5 461.8,1338.5 L462.7,1336.6" fill="none" stroke="#161616" stroke-width="0.8"/><path d="M465.7,1353.5 Q460.2,1355.5 461.4,1353.7 Q462.5,1352 461.9,1354.6 L461.3,1357.2" fill="none" stroke="#161616" stroke-width="0.8"/><path d="M449.8,1341.3 Q453.7,1345.8 452.4,1346.3 Q451.1,1346.8 449.9,1348.6 L448.7,1350.4" fill="none" stroke="#161616" stroke-width="0.8"/><path d="M466.7,1335.6L462.3,1337.2M466.7,1338.8L462.3,1340.4" stroke="#0e0e0e" stroke-width="0.8"/><path d="M462.3,1334L466.7,1335.6M462.3,1337.2L466.7,1338.8" stroke="#1a1a1a" stroke-width="1.8" stroke-linecap="round"/><path d="M446.4,1341.2L446.6,1346.9M449.3,1341.9L449.5,1347.6" stroke="#0e0e0e" stroke-width="0.8"/><path d="M443.7,1346.2L446.4,1341.2M446.6,1346.9L449.3,1341.9" stroke="#1a1a1a" stroke-width="1.8" stroke-linecap="round"/><path d="M471.8,1352.3L467,1349.9M470.5,1353.9L465.8,1351.5" stroke="#0e0e0e" stroke-width="0.8"/><path d="M468.3,1348.3L471.8,1352.3M467,1349.9L470.5,1353.9" stroke="#1a1a1a" stroke-width="1.8" stroke-linecap="round"/><path d="M448.7,1351.8L445.8,1355.2M450.2,1354.1L447.3,1357.5" stroke="#0e0e0e" stroke-width="0.8"/><path d="M444.4,1352.9L448.7,1351.8M445.8,1355.2L450.2,1354.1" stroke="#1a1a1a" stroke-width="1.8" stroke-linecap="round"/><path d="M470.3,1342.5L469.6,1347.6M473.2,1344L472.5,1349.1" stroke="#0e0e0e" stroke-width="0.8"/><path d="M466.6,1346.1L470.3,1342.5M469.6,1347.6L473.2,1344" stroke="#1a1a1a" stroke-width="1.8" stroke-linecap="round"/><path d="M468.9,1349.9L464.8,1352.7M469.7,1352.1L465.6,1354.9" stroke="#0e0e0e" stroke-width="0.8"/><path d="M464,1350.4L468.9,1349.9M464.8,1352.7L469.7,1352.1" stroke="#1a1a1a" stroke-width="1.8" stroke-linecap="round"/><path d="M463.5,1349L458.4,1350.8M463.6,1352.2L458.5,1353.9" stroke="#0e0e0e" stroke-width="0.8"/><path d="M458.3,1347.6L463.5,1349M458.4,1350.8L463.6,1352.2" stroke="#1a1a1a" stroke-width="1.8" stroke-linecap="round"/><path d="M450,1333.5L444.8,1335.5M450.2,1337L445,1339.1" stroke="#0e0e0e" stroke-width="0.8"/><path d="M444.6,1332L450,1333.5M444.8,1335.5L450.2,1337" stroke="#1a1a1a" stroke-width="1.8" stroke-linecap="round"/><path d="M472.5,1343.7L468.2,1341.7M471.1,1345.5L466.8,1343.5" stroke="#0e0e0e" stroke-width="0.8"/><path d="M469.6,1340L472.5,1343.7M468.2,1341.7L471.1,1345.5" stroke="#1a1a1a" stroke-width="1.8" stroke-linecap="round"/><path d="M468.8,1342.4L465.2,1339.3M467.1,1343.7L463.5,1340.6" stroke="#0e0e0e" stroke-width="0.8"/><path d="M466.9,1338L468.8,1342.4M465.2,1339.3L467.1,1343.7" stroke="#1a1a1a" stroke-width="1.8" stroke-linecap="round"/><ellipse cx="458" cy="1368" rx="12.8" ry="18.4" fill="#939393" fill-opacity="0.1" transform="rotate(0 458 1368)"/><path d="M462.4,1346.1 Q459.4,1341.8 457,1343.2 Q454.6,1344.7 454.9,1345.2 Q455.1,1345.8 452.3,1343.3 L449.5,1340.9" fill="none" stroke="#7c7c7c" stroke-width="0.8"/><path d="M449.4,1372.6 Q445.8,1374.4 446.1,1372.8 Q446.3,1371.1 446.9,1372.9 Q447.4,1374.8 444.4,1376.6 Q441.5,1378.5 442.7,1377.5 L443.9,1376.6" fill="none" stroke="#7c7c7c" stroke-width="0.8"/><path d="M452.7,1349.2 Q451,1347.3 449.6,1344.6 Q448.2,1341.9 448,1339.6 L447.7,1337.4" fill="none" stroke="#7c7c7c" stroke-width="0.8"/><path d="M451.3,1373.9 Q452.3,1376.3 449.5,1374.7 Q446.8,1373.1 445.6,1370.5 Q444.3,1368 442.7,1365.6 L441.1,1363.2" fill="none" stroke="#7c7c7c" stroke-width="0.8"/><path d="M450.9,1374.2 Q446.8,1372.5 447.8,1373.7 Q448.8,1374.9 449.9,1372.3 Q451,1369.7 451.9,1369.9 L452.7,1370.1" fill="none" stroke="#7c7c7c" stroke-width="0.8"/><path d="M449.8,1366.2 Q455.7,1367.9 456,1369 Q456.3,1370.1 458.4,1371.8 Q460.5,1373.4 458.8,1370.6 L457.2,1367.8" fill="none" stroke="#7c7c7c" stroke-width="0.8"/><path d="M452,1357.3 Q457,1358.1 458.3,1356.4 Q459.6,1354.6 459.6,1356.9 L459.6,1359.2" fill="none" stroke="#7c7c7c" stroke-width="0.8"/><path d="M462.5,1351.5 Q459.5,1352.3 458.1,1352.8 Q456.6,1353.3 459,1352.7 L461.4,1352.1" fill="none" stroke="#7c7c7c" stroke-width="0.8"/><path d="M458.3,1349.1 Q462.6,1345 460.6,1346.1 Q458.5,1347.1 459.1,1346.4 L459.7,1345.8" fill="none" stroke="#7c7c7c" stroke-width="0.8"/><path d="M461,1366.5 Q466.7,1370.8 463.7,1372.1 Q460.8,1373.5 461.9,1373.7 Q463,1373.9 461.6,1374.8 L460.2,1375.6" fill="none" stroke="#7c7c7c" stroke-width="0.8"/><path d="M444.7,1361.5L443.1,1365.9M446.9,1363.3L445.3,1367.6M449.2,1365L447.5,1369.4" stroke="#505050" stroke-width="0.8"/><path d="M440.9,1364.1L444.7,1361.5M443.1,1365.9L446.9,1363.3M445.3,1367.6L449.2,1365" stroke="#939393" stroke-width="1.8" stroke-linecap="round"/><path d="M461.2,1350.9L455.6,1351.3M460.7,1353.7L455.1,1354.2M460.2,1356.5L454.6,1357" stroke="#505050" stroke-width="0.8"/><path d="M456.1,1348.5L461.2,1350.9M455.6,1351.3L460.7,1353.7M455.1,1354.2L460.2,1356.5" stroke="#939393" stroke-width="1.8" stroke-linecap="round"/><path d="M453.3,1371.2L448.9,1373.6M453.9,1373.8L449.5,1376.2M454.5,1376.5L450.1,1378.9" stroke="#505050" stroke-width="0.8"/><path d="M448.3,1371L453.3,1371.2M448.9,1373.6L453.9,1373.8M449.5,1376.2L454.5,1376.5" stroke="#939393" stroke-width="1.8" stroke-linecap="round"/><path d="M468.9,1367.7L464.7,1369.8M469.4,1370.2L465.2,1372.3" stroke="#505050" stroke-width="0.8"/><path d="M464.2,1367.4L468.9,1367.7M464.7,1369.8L469.4,1370.2" stroke="#939393" stroke-width="1.8" stroke-linecap="round"/><path d="M447.8,1365.9L443.5,1365.2M446.6,1368.3L442.3,1367.6M445.4,1370.7L441.1,1370" stroke="#505050" stroke-width="0.8"/><path d="M444.7,1362.8L447.8,1365.9M443.5,1365.2L446.6,1368.3M442.3,1367.6L445.4,1370.7" stroke="#939393" stroke-width="1.8" stroke-linecap="round"/><path d="M460.1,1369.3L454.6,1369.8M459.6,1372.3L454,1372.8" stroke="#505050" stroke-width="0.8"/><path d="M455.1,1366.8L460.1,1369.3M454.6,1369.8L459.6,1372.3" stroke="#939393" stroke-width="1.8" stroke-linecap="round"/><path d="M456.5,1352.3L453.7,1356M458.2,1354.6L455.4,1358.4" stroke="#505050" stroke-width="0.8"/><path d="M452,1353.7L456.5,1352.3M453.7,1356L458.2,1354.6" stroke="#939393" stroke-width="1.8" stroke-linecap="round"/><path d="M457.9,1367L453.9,1369.3M458.4,1369.7L454.5,1371.9" stroke="#505050" stroke-width="0.8"/><path d="M453.3,1366.6L457.9,1367M453.9,1369.3L458.4,1369.7" stroke="#939393" stroke-width="1.8" stroke-linecap="round"/><path d="M455.3,1370.6L450.3,1372.2M455.4,1373.3L450.4,1374.8" stroke="#505050" stroke-width="0.8"/><path d="M450.2,1369.5L455.3,1370.6M450.3,1372.2L455.4,1373.3" stroke="#939393" stroke-width="1.8" stroke-linecap="round"/><path d="M451.9,1374.7L447.5,1375.4M451.4,1377.6L447,1378.3" stroke="#505050" stroke-width="0.8"/><path d="M448,1372.5L451.9,1374.7M447.5,1375.4L451.4,1377.6" stroke="#939393" stroke-width="1.8" stroke-linecap="round"/><path d="M471.9,1367.8L469.4,1371.5M473.6,1369.9L471.1,1373.7M475.3,1372.1L472.8,1375.8" stroke="#505050" stroke-width="0.8"/><path d="M467.7,1369.4L471.9,1367.8M469.4,1371.5L473.6,1369.9M471.1,1373.7L475.3,1372.1" stroke="#939393" stroke-width="1.8" stroke-linecap="round"/><path d="M447.5,1363.2L442.7,1364.7M447.4,1366.6L442.6,1368.1" stroke="#505050" stroke-width="0.8"/><path d="M442.8,1361.4L447.5,1363.2M442.7,1364.7L447.4,1366.6" stroke="#939393" stroke-width="1.8" stroke-linecap="round"/><path d="M467.7,1374.5L463.1,1375.8M467.4,1377.8L462.8,1379.1" stroke="#505050" stroke-width="0.8"/><path d="M463.4,1372.5L467.7,1374.5M463.1,1375.8L467.4,1377.8" stroke="#939393" stroke-width="1.8" stroke-linecap="round"/><path d="M471.8,1354.8L467.2,1356.6M472,1357.7L467.5,1359.5" stroke="#505050" stroke-width="0.8"/><path d="M467,1353.8L471.8,1354.8M467.2,1356.6L472,1357.7" stroke="#939393" stroke-width="1.8" stroke-linecap="round"/><path d="M458.1,1355.9L452.8,1358M458.3,1359.3L453.1,1361.4" stroke="#505050" stroke-width="0.8"/><path d="M452.6,1354.6L458.1,1355.9M452.8,1358L458.3,1359.3" stroke="#939393" stroke-width="1.8" stroke-linecap="round"/><path d="M463.6,1346.8L458.6,1344.4M461.6,1349.1L456.6,1346.7M459.6,1351.3L454.6,1348.9" stroke="#505050" stroke-width="0.8"/><path d="M460.6,1342.2L463.6,1346.8M458.6,1344.4L461.6,1349.1M456.6,1346.7L459.6,1351.3" stroke="#939393" stroke-width="1.8" stroke-linecap="round"/><path d="M460,1352.8L454.8,1355.3M460.6,1356L455.3,1358.5" stroke="#505050" stroke-width="0.8"/><path d="M454.2,1352.1L460,1352.8M454.8,1355.3L460.6,1356" stroke="#939393" stroke-width="1.8" stroke-linecap="round"/><path d="M452.8,1379.4L448.1,1381.1M452.8,1382.8L448.1,1384.5" stroke="#505050" stroke-width="0.8"/><path d="M448.1,1377.7L452.8,1379.4M448.1,1381.1L452.8,1382.8" stroke="#939393" stroke-width="1.8" stroke-linecap="round"/><path d="M462.5,1375.3L457.5,1376.3M462.2,1378.3L457.2,1379.3M462,1381.2L456.9,1382.2" stroke="#505050" stroke-width="0.8"/><path d="M457.8,1373.4L462.5,1375.3M457.5,1376.3L462.2,1378.3M457.2,1379.3L462,1381.2" stroke="#939393" stroke-width="1.8" stroke-linecap="round"/><path d="M462,1378.5L456.9,1379M461.6,1381.1L456.5,1381.6" stroke="#505050" stroke-width="0.8"/><path d="M457.4,1376.4L462,1378.5M456.9,1379L461.6,1381.1" stroke="#939393" stroke-width="1.8" stroke-linecap="round"/><path d="M460.6,1383.9L456.1,1383.4M459.5,1386.3L455,1385.8" stroke="#505050" stroke-width="0.8"/><path d="M457.2,1380.9L460.6,1383.9M456.1,1383.4L459.5,1386.3" stroke="#939393" stroke-width="1.8" stroke-linecap="round"/><path d="M463.6,1376.2L459.4,1374.8M461.8,1378.5L457.6,1377.1" stroke="#505050" stroke-width="0.8"/><path d="M461.3,1372.4L463.6,1376.2M459.4,1374.8L461.8,1378.5" stroke="#939393" stroke-width="1.8" stroke-linecap="round"/><path d="M462.7,1370.7L458.6,1374.8M464.3,1373.8L460.2,1377.9" stroke="#505050" stroke-width="0.8"/><path d="M457,1371.6L462.7,1370.7M458.6,1374.8L464.3,1373.8" stroke="#939393" stroke-width="1.8" stroke-linecap="round"/><path d="M451.1,1376.8L446.2,1377.6M450.6,1379.8L445.8,1380.5" stroke="#505050" stroke-width="0.8"/><path d="M446.7,1374.6L451.1,1376.8M446.2,1377.6L450.6,1379.8" stroke="#939393" stroke-width="1.8" stroke-linecap="round"/><path d="M465.4,1356.8L461.2,1359.5M466.1,1359.3L462,1362" stroke="#505050" stroke-width="0.8"/><path d="M460.4,1357L465.4,1356.8M461.2,1359.5L466.1,1359.3" stroke="#939393" stroke-width="1.8" stroke-linecap="round"/><path d="M457.4,1350.9L452.2,1349.9M456.1,1353.4L450.9,1352.4M454.9,1355.9L449.7,1354.8" stroke="#505050" stroke-width="0.8"/><path d="M453.4,1347.4L457.4,1350.9M452.2,1349.9L456.1,1353.4M450.9,1352.4L454.9,1355.9" stroke="#939393" stroke-width="1.8" stroke-linecap="round"/><path d="M469.3,1356.6L466.3,1359.8M470.6,1359L467.6,1362.2" stroke="#505050" stroke-width="0.8"/><path d="M465,1357.3L469.3,1356.6M466.3,1359.8L470.6,1359" stroke="#939393" stroke-width="1.8" stroke-linecap="round"/><path d="M446.1,1367.6L443.7,1372.2M448.3,1369.8L445.8,1374.4" stroke="#505050" stroke-width="0.8"/><path d="M441.5,1370L446.1,1367.6M443.7,1372.2L448.3,1369.8" stroke="#939393" stroke-width="1.8" stroke-linecap="round"/><path d="M467.2,1352L462.3,1355M468,1355.4L463.2,1358.4" stroke="#505050" stroke-width="0.8"/><path d="M461.5,1351.7L467.2,1352M462.3,1355L468,1355.4" stroke="#939393" stroke-width="1.8" stroke-linecap="round"/><path d="M457.7,1355.8L453,1358.4M458.4,1358.2L453.7,1360.9" stroke="#505050" stroke-width="0.8"/><path d="M452.4,1356L457.7,1355.8M453,1358.4L458.4,1358.2" stroke="#939393" stroke-width="1.8" stroke-linecap="round"/><path d="M464.2,1355.2L460.4,1357.2M464.5,1358.5L460.7,1360.6" stroke="#505050" stroke-width="0.8"/><path d="M460.1,1353.9L464.2,1355.2M460.4,1357.2L464.5,1358.5" stroke="#939393" stroke-width="1.8" stroke-linecap="round"/><path d="M471.7,1366.5L468.1,1370.1M473.1,1368.9L469.5,1372.5M474.4,1371.3L470.8,1374.9" stroke="#505050" stroke-width="0.8"/><path d="M466.7,1367.7L471.7,1366.5M468.1,1370.1L473.1,1368.9M469.5,1372.5L474.4,1371.3" stroke="#939393" stroke-width="1.8" stroke-linecap="round"/><path d="M454.4,1383.8L449.9,1384.7M454,1386.6L449.5,1387.5M453.6,1389.5L449.2,1390.3" stroke="#505050" stroke-width="0.8"/><path d="M450.3,1381.8L454.4,1383.8M449.9,1384.7L454,1386.6M449.5,1387.5L453.6,1389.5" stroke="#939393" stroke-width="1.8" stroke-linecap="round"/><ellipse cx="497" cy="1378" rx="16.8" ry="14.4" fill="#939393" fill-opacity="0.1" transform="rotate(0 497 1378)"/><path d="M482,1376.6 Q484.4,1371.8 485,1372.4 Q485.6,1373.1 485.7,1373.5 Q485.7,1374 486.5,1376.7 Q487.2,1379.4 489.5,1382.1 L491.9,1384.8" fill="none" stroke="#7c7c7c" stroke-width="0.8"/><path d="M492.5,1362 Q496.3,1360.5 493.9,1360.6 Q491.5,1360.7 491.5,1362.3 L491.4,1364" fill="none" stroke="#7c7c7c" stroke-width="0.8"/><path d="M501,1378.2 Q497.2,1373 497.7,1371.1 Q498.2,1369.2 495.5,1367.2 Q492.9,1365.2 491.6,1362.6 Q490.2,1360.1 491,1363 L491.7,1366" fill="none" stroke="#7c7c7c" stroke-width="0.8"/><path d="M510.1,1383.5 Q512.3,1378.6 513,1380.3 Q513.7,1382.1 516.1,1381.1 Q518.5,1380 518.7,1381.3 Q518.9,1382.5 516.9,1384.5 L514.9,1386.6" fill="none" stroke="#7c7c7c" stroke-width="0.8"/><path d="M500.8,1373.2 Q502.9,1368 505.8,1369 Q508.8,1370 507.6,1372.4 L506.3,1374.8" fill="none" stroke="#7c7c7c" stroke-width="0.8"/><path d="M506.6,1373 Q501.1,1378.6 501.7,1376.1 Q502.3,1373.6 500,1371.1 Q497.8,1368.6 498.8,1366.5 L499.8,1364.5" fill="none" stroke="#7c7c7c" stroke-width="0.8"/><path d="M509.9,1363.9 Q509,1364.9 506.8,1362.6 Q504.7,1360.2 506.5,1362.2 Q508.2,1364.1 506,1361.2 Q503.7,1358.3 505.4,1360.3 L507,1362.2" fill="none" stroke="#7c7c7c" stroke-width="0.8"/><path d="M508.7,1364.2 Q508.7,1369.5 509.9,1371.5 Q511.2,1373.6 513.3,1372.9 Q515.4,1372.2 516.7,1369.8 Q518,1367.3 516.2,1370 L514.5,1372.6" fill="none" stroke="#7c7c7c" stroke-width="0.8"/><path d="M493,1384.6 Q491.8,1385.7 491.2,1387.6 Q490.7,1389.4 490.1,1386.7 Q489.5,1384 489.7,1385.7 Q489.9,1387.4 488,1388.8 L486.2,1390.2" fill="none" stroke="#7c7c7c" stroke-width="0.8"/><path d="M488.6,1372.4 Q494.3,1376.3 493.6,1373.6 Q493,1371 493,1368.6 L493,1366.1" fill="none" stroke="#7c7c7c" stroke-width="0.8"/><path d="M497.1,1378.2 Q498.1,1375.3 495.8,1376.9 Q493.6,1378.5 491.5,1375.5 L489.5,1372.6" fill="none" stroke="#7c7c7c" stroke-width="0.8"/><path d="M505.3,1364.4 Q504.3,1363 501.9,1361.1 Q499.6,1359.2 497.3,1358.1 Q495,1357 495.2,1357.2 Q495.4,1357.4 493.3,1355.9 L491.2,1354.4" fill="none" stroke="#7c7c7c" stroke-width="0.8"/><path d="M499.7,1394.4L496.1,1390.9M497.3,1395.8L493.8,1392.3M494.9,1397.1L491.4,1393.6" stroke="#505050" stroke-width="0.8"/><path d="M498.5,1389.6L499.7,1394.4M496.1,1390.9L497.3,1395.8M493.8,1392.3L494.9,1397.1" stroke="#939393" stroke-width="1.8" stroke-linecap="round"/><path d="M488.9,1368.7L490.2,1374.3M491.8,1368.8L493.1,1374.4" stroke="#505050" stroke-width="0.8"/><path d="M487.3,1374.2L488.9,1368.7M490.2,1374.3L491.8,1368.8" stroke="#939393" stroke-width="1.8" stroke-linecap="round"/><path d="M484.7,1378.1L479.6,1381M485.4,1382L480.3,1384.9" stroke="#505050" stroke-width="0.8"/><path d="M478.9,1377.1L484.7,1378.1M479.6,1381L485.4,1382" stroke="#939393" stroke-width="1.8" stroke-linecap="round"/><path d="M509.9,1376.2L505,1377.2M509.4,1379.5L504.5,1380.5" stroke="#505050" stroke-width="0.8"/><path d="M505.6,1373.8L509.9,1376.2M505,1377.2L509.4,1379.5" stroke="#939393" stroke-width="1.8" stroke-linecap="round"/><path d="M504.7,1385.8L499.8,1383.5M502.8,1387.9L498,1385.6" stroke="#505050" stroke-width="0.8"/><path d="M501.6,1381.4L504.7,1385.8M499.8,1383.5L502.8,1387.9" stroke="#939393" stroke-width="1.8" stroke-linecap="round"/><path d="M506.1,1388.6L500.8,1387.7M505,1391.1L499.6,1390.1" stroke="#505050" stroke-width="0.8"/><path d="M501.9,1385.2L506.1,1388.6M500.8,1387.7L505,1391.1" stroke="#939393" stroke-width="1.8" stroke-linecap="round"/><path d="M502.7,1363L500.8,1368.1M504.9,1364.6L503,1369.7M507.2,1366.2L505.2,1371.3" stroke="#505050" stroke-width="0.8"/><path d="M498.5,1366.5L502.7,1363M500.8,1368.1L504.9,1364.6M503,1369.7L507.2,1366.2" stroke="#939393" stroke-width="1.8" stroke-linecap="round"/><path d="M481.4,1376.3L477,1375.3M479.4,1379.1L475,1378.2" stroke="#505050" stroke-width="0.8"/><path d="M479,1372.4L481.4,1376.3M477,1375.3L479.4,1379.1" stroke="#939393" stroke-width="1.8" stroke-linecap="round"/><path d="M488.8,1368.8L488.6,1374.6M491.9,1369.8L491.7,1375.7" stroke="#505050" stroke-width="0.8"/><path d="M485.5,1373.6L488.8,1368.8M488.6,1374.6L491.9,1369.8" stroke="#939393" stroke-width="1.8" stroke-linecap="round"/><path d="M488.9,1386.7L487.3,1391M491,1388.4L489.5,1392.6M493.2,1390.1L491.6,1394.3" stroke="#505050" stroke-width="0.8"/><path d="M485.2,1389.3L488.9,1386.7M487.3,1391L491,1388.4M489.5,1392.6L493.2,1390.1" stroke="#939393" stroke-width="1.8" stroke-linecap="round"/><path d="M491.3,1377L487.4,1373.5M488.6,1378.6L484.7,1375.1" stroke="#505050" stroke-width="0.8"/><path d="M490,1371.9L491.3,1377M487.4,1373.5L488.6,1378.6" stroke="#939393" stroke-width="1.8" stroke-linecap="round"/><path d="M485,1384.3L479.6,1383.6M483.4,1387.4L478.1,1386.8" stroke="#505050" stroke-width="0.8"/><path d="M481.1,1380.5L485,1384.3M479.6,1383.6L483.4,1387.4" stroke="#939393" stroke-width="1.8" stroke-linecap="round"/><path d="M495.1,1381.1L493.7,1377M492.4,1381.2L490.9,1377.1M489.6,1381.3L488.1,1377.1" stroke="#505050" stroke-width="0.8"/><path d="M496.4,1376.9L495.1,1381.1M493.7,1377L492.4,1381.2M490.9,1377.1L489.6,1381.3" stroke="#939393" stroke-width="1.8" stroke-linecap="round"/><path d="M506.5,1370.2L506.6,1375.3M509.7,1371.3L509.8,1376.4" stroke="#505050" stroke-width="0.8"/><path d="M503.4,1374.3L506.5,1370.2M506.6,1375.3L509.7,1371.3" stroke="#939393" stroke-width="1.8" stroke-linecap="round"/><path d="M498.6,1375.9L499.6,1381.1M502.2,1376.5L503.2,1381.7" stroke="#505050" stroke-width="0.8"/><path d="M496,1380.5L498.6,1375.9M499.6,1381.1L502.2,1376.5" stroke="#939393" stroke-width="1.8" stroke-linecap="round"/><path d="M501.2,1381.9L499.2,1377M498.7,1382.3L496.7,1377.4" stroke="#505050" stroke-width="0.8"/><path d="M501.7,1376.6L501.2,1381.9M499.2,1377L498.7,1382.3" stroke="#939393" stroke-width="1.8" stroke-linecap="round"/><path d="M495.1,1359.9L495.4,1365M498.9,1361.2L499.2,1366.3" stroke="#505050" stroke-width="0.8"/><path d="M491.7,1363.7L495.1,1359.9M495.4,1365L498.9,1361.2" stroke="#939393" stroke-width="1.8" stroke-linecap="round"/><path d="M481.5,1382.4L477.6,1384.8M482.1,1385.2L478.2,1387.5" stroke="#505050" stroke-width="0.8"/><path d="M476.9,1382.1L481.5,1382.4M477.6,1384.8L482.1,1385.2" stroke="#939393" stroke-width="1.8" stroke-linecap="round"/><path d="M497.9,1369.2L499.2,1373.8M501.1,1369.4L502.4,1374.1" stroke="#505050" stroke-width="0.8"/><path d="M496,1373.6L497.9,1369.2M499.2,1373.8L501.1,1369.4" stroke="#939393" stroke-width="1.8" stroke-linecap="round"/><path d="M479.3,1374.5L481.1,1378.9M483.2,1374.6L485,1379" stroke="#505050" stroke-width="0.8"/><path d="M477.2,1378.8L479.3,1374.5M481.1,1378.9L483.2,1374.6" stroke="#939393" stroke-width="1.8" stroke-linecap="round"/><path d="M492.2,1389.4L491.9,1394.6M494.7,1390.2L494.3,1395.3" stroke="#505050" stroke-width="0.8"/><path d="M489.5,1393.8L492.2,1389.4M491.9,1394.6L494.7,1390.2" stroke="#939393" stroke-width="1.8" stroke-linecap="round"/><path d="M499.9,1391.3L495.8,1388.9M496.8,1393.6L492.7,1391.2" stroke="#505050" stroke-width="0.8"/><path d="M498.9,1386.6L499.9,1391.3M495.8,1388.9L496.8,1393.6" stroke="#939393" stroke-width="1.8" stroke-linecap="round"/><path d="M492.2,1363.7L491.5,1368.8M495.6,1365.6L494.9,1370.8" stroke="#505050" stroke-width="0.8"/><path d="M488.1,1366.8L492.2,1363.7M491.5,1368.8L495.6,1365.6" stroke="#939393" stroke-width="1.8" stroke-linecap="round"/><path d="M502.9,1394.1L498.3,1392.7M500.9,1396.8L496.3,1395.4" stroke="#505050" stroke-width="0.8"/><path d="M500.3,1390.1L502.9,1394.1M498.3,1392.7L500.9,1396.8" stroke="#939393" stroke-width="1.8" stroke-linecap="round"/><path d="M494,1384.2L489,1387.1M494.7,1387.9L489.6,1390.8" stroke="#505050" stroke-width="0.8"/><path d="M488.3,1383.4L494,1384.2M489,1387.1L494.7,1387.9" stroke="#939393" stroke-width="1.8" stroke-linecap="round"/><path d="M513.5,1380.2L509.2,1376.5M510.7,1382L506.3,1378.3" stroke="#505050" stroke-width="0.8"/><path d="M512,1374.7L513.5,1380.2M509.2,1376.5L510.7,1382" stroke="#939393" stroke-width="1.8" stroke-linecap="round"/><path d="M505.6,1386.7L500.9,1390.2M506.7,1390L502,1393.5" stroke="#505050" stroke-width="0.8"/><path d="M499.8,1386.9L505.6,1386.7M500.9,1390.2L506.7,1390" stroke="#939393" stroke-width="1.8" stroke-linecap="round"/><path d="M488.3,1371L483.6,1374.1M489.2,1373.6L484.5,1376.7" stroke="#505050" stroke-width="0.8"/><path d="M482.7,1371.5L488.3,1371M483.6,1374.1L489.2,1373.6" stroke="#939393" stroke-width="1.8" stroke-linecap="round"/><path d="M503.2,1385L500.3,1381.7M500.8,1386L498,1382.8" stroke="#505050" stroke-width="0.8"/><path d="M502.7,1380.7L503.2,1385M500.3,1381.7L500.8,1386" stroke="#939393" stroke-width="1.8" stroke-linecap="round"/><path d="M501.9,1374.3L496.8,1375.4M501.8,1376.8L496.7,1378" stroke="#505050" stroke-width="0.8"/><path d="M496.8,1372.9L501.9,1374.3M496.8,1375.4L501.8,1376.8" stroke="#939393" stroke-width="1.8" stroke-linecap="round"/><path d="M503.2,1373.1L498.2,1372.3M501.4,1376.2L496.5,1375.4" stroke="#505050" stroke-width="0.8"/><path d="M500,1369.2L503.2,1373.1M498.2,1372.3L501.4,1376.2" stroke="#939393" stroke-width="1.8" stroke-linecap="round"/><path d="M489.9,1389.4L485,1390.1M489.6,1392L484.7,1392.7" stroke="#505050" stroke-width="0.8"/><path d="M485.3,1387.6L489.9,1389.4M485,1390.1L489.6,1392" stroke="#939393" stroke-width="1.8" stroke-linecap="round"/><path d="M495.1,1388.7L491.3,1386.7M493.2,1390.6L489.4,1388.6" stroke="#505050" stroke-width="0.8"/><path d="M493.2,1384.9L495.1,1388.7M491.3,1386.7L493.2,1390.6" stroke="#939393" stroke-width="1.8" stroke-linecap="round"/><path d="M508.9,1377.4L504.8,1380.1M509.8,1380.5L505.6,1383.2" stroke="#505050" stroke-width="0.8"/><path d="M504,1377L508.9,1377.4M504.8,1380.1L509.8,1380.5" stroke="#939393" stroke-width="1.8" stroke-linecap="round"/><path d="M516.8,1376.4L512.7,1377.8M516.8,1379.3L512.6,1380.7" stroke="#505050" stroke-width="0.8"/><path d="M512.7,1375L516.8,1376.4M512.7,1377.8L516.8,1379.3" stroke="#939393" stroke-width="1.8" stroke-linecap="round"/><path d="M493.8,1374.4L492.4,1378.9M496.7,1376.7L495.2,1381.3" stroke="#505050" stroke-width="0.8"/><path d="M489.6,1376.6L493.8,1374.4M492.4,1378.9L496.7,1376.7" stroke="#939393" stroke-width="1.8" stroke-linecap="round"/><ellipse cx="418" cy="1390" rx="13.6" ry="9.6" fill="#939393" fill-opacity="0.1" transform="rotate(0 418 1390)"/><path d="M414.8,1391 Q411,1387.7 408.1,1385.4 Q405.3,1383.1 402.4,1381 L399.4,1378.9" fill="none" stroke="#7c7c7c" stroke-width="0.8"/><path d="M418.4,1401.7 Q420,1402.8 421.6,1403.8 Q423.2,1404.8 422.4,1403.9 Q421.5,1402.9 420.2,1400.9 Q418.9,1398.8 419,1399.3 L419,1399.9" fill="none" stroke="#7c7c7c" stroke-width="0.8"/><path d="M410.1,1385.5 Q414,1383 413.1,1380.6 Q412.1,1378.2 412,1376.3 Q411.8,1374.4 409.6,1375.9 Q407.4,1377.4 409.1,1374.7 L410.7,1371.9" fill="none" stroke="#7c7c7c" stroke-width="0.8"/><path d="M433.6,1394.3 Q428.1,1396.8 429.5,1397.8 Q430.9,1398.7 429.9,1400.7 Q428.9,1402.6 429.6,1403.2 Q430.4,1403.7 430.7,1402.1 L430.9,1400.5" fill="none" stroke="#7c7c7c" stroke-width="0.8"/><path d="M416.4,1397 Q422.4,1398.4 425.2,1399.8 Q428.1,1401.3 426.7,1398.3 Q425.4,1395.4 427.7,1395.9 Q430,1396.3 430.6,1396.7 L431.2,1397" fill="none" stroke="#7c7c7c" stroke-width="0.8"/><path d="M410.5,1400.6 Q406.9,1396 406,1398 Q405,1400 405.6,1397.4 Q406.3,1394.7 405.9,1392 Q405.5,1389.3 406.2,1387 L407,1384.8" fill="none" stroke="#7c7c7c" stroke-width="0.8"/><path d="M407.1,1393.4 Q408.5,1390.9 409.4,1389.5 Q410.2,1388.2 407.3,1386.8 L404.3,1385.4" fill="none" stroke="#7c7c7c" stroke-width="0.8"/><path d="M424.4,1393 Q428.7,1398.7 426,1398.6 Q423.4,1398.5 426.2,1401.4 L429.1,1404.2" fill="none" stroke="#7c7c7c" stroke-width="0.8"/><path d="M430.3,1387.1L426.4,1384M428.2,1388.6L424.3,1385.6" stroke="#505050" stroke-width="0.8"/><path d="M428.5,1382.4L430.3,1387.1M426.4,1384L428.2,1388.6" stroke="#939393" stroke-width="1.8" stroke-linecap="round"/><path d="M417,1386.7L413.8,1383.1M413.9,1388L410.7,1384.4" stroke="#505050" stroke-width="0.8"/><path d="M417,1381.9L417,1386.7M413.8,1383.1L413.9,1388" stroke="#939393" stroke-width="1.8" stroke-linecap="round"/><path d="M416.6,1384.3L412,1386.7M417.2,1387.4L412.6,1389.7" stroke="#505050" stroke-width="0.8"/><path d="M411.5,1383.7L416.6,1384.3M412,1386.7L417.2,1387.4" stroke="#939393" stroke-width="1.8" stroke-linecap="round"/><path d="M407.6,1394.3L403.5,1395.9M407.6,1397.5L403.5,1399.1" stroke="#505050" stroke-width="0.8"/><path d="M403.5,1392.7L407.6,1394.3M403.5,1395.9L407.6,1397.5" stroke="#939393" stroke-width="1.8" stroke-linecap="round"/><path d="M411.6,1386.9L406.4,1388.3M411.5,1389.7L406.4,1391.1M411.5,1392.6L406.4,1393.9" stroke="#505050" stroke-width="0.8"/><path d="M406.5,1385.4L411.6,1386.9M406.4,1388.3L411.5,1389.7M406.4,1391.1L411.5,1392.6" stroke="#939393" stroke-width="1.8" stroke-linecap="round"/><path d="M416.5,1382.5L414.7,1378.5M413.7,1382.8L411.8,1378.8M410.8,1383.1L408.9,1379" stroke="#505050" stroke-width="0.8"/><path d="M417.5,1378.2L416.5,1382.5M414.7,1378.5L413.7,1382.8M411.8,1378.8L410.8,1383.1" stroke="#939393" stroke-width="1.8" stroke-linecap="round"/><path d="M417.8,1393.3L412.8,1391.9M415.9,1396L410.9,1394.6" stroke="#505050" stroke-width="0.8"/><path d="M414.6,1389.1L417.8,1393.3M412.8,1391.9L415.9,1396" stroke="#939393" stroke-width="1.8" stroke-linecap="round"/><path d="M418.3,1380.1L416.9,1385.7M420.8,1381.5L419.4,1387.1" stroke="#505050" stroke-width="0.8"/><path d="M414.5,1384.4L418.3,1380.1M416.9,1385.7L420.8,1381.5" stroke="#939393" stroke-width="1.8" stroke-linecap="round"/><path d="M424.2,1389.9L423.7,1394.4M427.3,1391.7L426.8,1396.2" stroke="#505050" stroke-width="0.8"/><path d="M420.6,1392.6L424.2,1389.9M423.7,1394.4L427.3,1391.7" stroke="#939393" stroke-width="1.8" stroke-linecap="round"/><path d="M401.8,1388.1L402.5,1392.9M404.6,1388.5L405.3,1393.3M407.4,1389L408.1,1393.8" stroke="#505050" stroke-width="0.8"/><path d="M399.7,1392.4L401.8,1388.1M402.5,1392.9L404.6,1388.5M405.3,1393.3L407.4,1389" stroke="#939393" stroke-width="1.8" stroke-linecap="round"/><path d="M409.9,1394.8L409.6,1399.3M413.2,1396.6L412.8,1401.1" stroke="#505050" stroke-width="0.8"/><path d="M406.3,1397.5L409.9,1394.8M409.6,1399.3L413.2,1396.6" stroke="#939393" stroke-width="1.8" stroke-linecap="round"/><path d="M421.4,1402.6L419.3,1398.3M417.7,1402.8L415.5,1398.5" stroke="#505050" stroke-width="0.8"/><path d="M423,1398L421.4,1402.6M419.3,1398.3L417.7,1402.8" stroke="#939393" stroke-width="1.8" stroke-linecap="round"/><path d="M407.9,1379L406.2,1384.3M410.2,1380.4L408.6,1385.7" stroke="#505050" stroke-width="0.8"/><path d="M403.9,1382.9L407.9,1379M406.2,1384.3L410.2,1380.4" stroke="#939393" stroke-width="1.8" stroke-linecap="round"/><path d="M426.4,1382.1L422.4,1385.5M427.6,1385.1L423.7,1388.5" stroke="#505050" stroke-width="0.8"/><path d="M421.2,1382.5L426.4,1382.1M422.4,1385.5L427.6,1385.1" stroke="#939393" stroke-width="1.8" stroke-linecap="round"/><path d="M425.9,1392.9L424.8,1397.8M428.5,1394.4L427.4,1399.2M431,1395.8L429.9,1400.7" stroke="#505050" stroke-width="0.8"/><path d="M422.3,1396.4L425.9,1392.9M424.8,1397.8L428.5,1394.4M427.4,1399.2L431,1395.8" stroke="#939393" stroke-width="1.8" stroke-linecap="round"/><path d="M418.4,1381.9L415.7,1386.2M420.6,1384.9L417.9,1389.1" stroke="#505050" stroke-width="0.8"/><path d="M413.5,1383.3L418.4,1381.9M415.7,1386.2L420.6,1384.9" stroke="#939393" stroke-width="1.8" stroke-linecap="round"/><path d="M407.3,1393.7L402.7,1394M406.5,1396.6L401.9,1396.9" stroke="#505050" stroke-width="0.8"/><path d="M403.5,1391.1L407.3,1393.7M402.7,1394L406.5,1396.6" stroke="#939393" stroke-width="1.8" stroke-linecap="round"/><path d="M415.1,1384.6L410,1387.4M415.8,1387.6L410.7,1390.4" stroke="#505050" stroke-width="0.8"/><path d="M409.3,1384.4L415.1,1384.6M410,1387.4L415.8,1387.6" stroke="#939393" stroke-width="1.8" stroke-linecap="round"/><path d="M418.6,1392.1L418.6,1397.2M421.5,1393L421.4,1398.1" stroke="#505050" stroke-width="0.8"/><path d="M415.8,1396.3L418.6,1392.1M418.6,1397.2L421.5,1393" stroke="#939393" stroke-width="1.8" stroke-linecap="round"/><path d="M411.5,1393.9L405.8,1392.9M409.7,1397.2L404,1396.2" stroke="#505050" stroke-width="0.8"/><path d="M407.6,1389.6L411.5,1393.9M405.8,1392.9L409.7,1397.2" stroke="#939393" stroke-width="1.8" stroke-linecap="round"/><ellipse cx="458" cy="1414" rx="28.8" ry="27.2" fill="#e8982c" fill-opacity="0.3" transform="rotate(0 458 1414)"/><path d="M441.5,1413.1 Q439.2,1407.4 439.1,1405.1 Q439,1402.8 440.8,1405.5 L442.7,1408.3" fill="none" stroke="#c58125" stroke-width="0.8"/><path d="M483.5,1424.1 Q478.3,1421.4 480.7,1419.3 Q483.1,1417.2 486.1,1418.8 Q489,1420.3 488.6,1421 Q488.1,1421.7 486,1419 L483.9,1416.4" fill="none" stroke="#c58125" stroke-width="0.8"/><path d="M447.6,1429.3 Q442.8,1424.3 444.3,1423.2 Q445.8,1422.1 445.1,1424.4 Q444.4,1426.7 445.9,1427.6 L447.4,1428.6" fill="none" stroke="#c58125" stroke-width="0.8"/><path d="M484.4,1429.7 Q486.1,1430.9 483.5,1433.3 Q480.9,1435.8 483.3,1434.9 Q485.8,1434 486.6,1431.1 Q487.3,1428.2 487.3,1428.9 L487.3,1429.7" fill="none" stroke="#c58125" stroke-width="0.8"/><path d="M443.1,1408.1 Q438.8,1407.6 436.3,1406.9 Q433.9,1406.2 436.2,1406.9 Q438.5,1407.6 435.6,1409.7 L432.8,1411.9" fill="none" stroke="#c58125" stroke-width="0.8"/><path d="M469.4,1415.4 Q467.2,1411.4 464.2,1410 Q461.3,1408.7 460.7,1410.9 Q460.1,1413.1 457.1,1415.6 L454.1,1418.1" fill="none" stroke="#c58125" stroke-width="0.8"/><path d="M473.3,1422.1 Q472.6,1420 475.4,1420.9 Q478.2,1421.8 478.3,1422.7 Q478.4,1423.7 478.4,1421.6 L478.4,1419.5" fill="none" stroke="#c58125" stroke-width="0.8"/><path d="M465.9,1433.3 Q460.7,1428.9 460.1,1429.5 Q459.4,1430.2 456.9,1431.3 L454.4,1432.5" fill="none" stroke="#c58125" stroke-width="0.8"/><path d="M476.3,1410.3 Q478.1,1407.7 479.7,1410 Q481.3,1412.3 479.3,1412.4 Q477.2,1412.6 474.4,1411.5 L471.6,1410.4" fill="none" stroke="#c58125" stroke-width="0.8"/><path d="M468.1,1446 Q464.9,1444.4 467.2,1442.7 Q469.6,1441 472.3,1440.3 Q475,1439.7 475.1,1440.9 L475.2,1442.2" fill="none" stroke="#c58125" stroke-width="0.8"/><path d="M471,1420.1 Q475.3,1419.7 477.1,1420.7 Q478.9,1421.7 477.3,1422.2 Q475.7,1422.6 478.1,1420 Q480.5,1417.3 478,1419.1 L475.5,1420.8" fill="none" stroke="#c58125" stroke-width="0.8"/><path d="M463,1399.1 Q468.3,1402.8 470.3,1402.1 Q472.4,1401.3 469.7,1403 Q467,1404.6 470,1404.4 L472.9,1404.1" fill="none" stroke="#c58125" stroke-width="0.8"/><path d="M486.7,1418.4 Q483.7,1417 481.2,1419.7 Q478.7,1422.4 477.3,1424.5 Q475.8,1426.5 473.7,1425.5 L471.6,1424.4" fill="none" stroke="#c58125" stroke-width="0.8"/><path d="M466.2,1430.6 Q467.2,1425.7 468.1,1426.8 Q469.1,1427.8 469.9,1429.5 Q470.6,1431.3 473.5,1432.7 Q476.4,1434 479.3,1434.9 L482.1,1435.9" fill="none" stroke="#c58125" stroke-width="0.8"/><path d="M442,1438.9 Q442.6,1444.5 443.3,1445.9 Q444.1,1447.4 443.5,1449 Q442.9,1450.7 441.5,1449.1 Q440.1,1447.4 438.3,1445 L436.6,1442.6" fill="none" stroke="#c58125" stroke-width="0.8"/><path d="M425.3,1413.2 Q424.2,1411.3 423.9,1412 Q423.5,1412.8 423.5,1411.4 Q423.6,1410.1 425.8,1411.9 Q428,1413.8 430.4,1411.5 L432.8,1409.3" fill="none" stroke="#c58125" stroke-width="0.8"/><path d="M460.5,1396 Q463.9,1392 464.5,1392.2 Q465.2,1392.4 467.4,1393.9 L469.6,1395.5" fill="none" stroke="#c58125" stroke-width="0.8"/><path d="M463.6,1440.3 Q459.9,1440.5 462.1,1443.1 Q464.3,1445.7 462.2,1443.4 Q460,1441.1 462.9,1441.3 L465.9,1441.4" fill="none" stroke="#c58125" stroke-width="0.8"/><path d="M467.6,1427.2 Q463.9,1423.3 462.4,1424.2 Q461,1425.1 460.1,1422.7 Q459.2,1420.3 457.6,1422.8 L456,1425.2" fill="none" stroke="#c58125" stroke-width="0.8"/><path d="M468.5,1415.6 Q466.6,1414 465.7,1412.8 Q464.7,1411.5 467.4,1413.8 Q470.1,1416 470.4,1413.3 L470.6,1410.5" fill="none" stroke="#c58125" stroke-width="0.8"/><path d="M467.9,1445.5 Q464,1446.5 462.7,1444.1 Q461.4,1441.7 463.5,1443.3 Q465.5,1445 467.6,1444.4 Q469.6,1443.7 471.1,1446.1 L472.5,1448.6" fill="none" stroke="#c58125" stroke-width="0.8"/><path d="M442,1436.7 Q446,1440.9 445.2,1442.5 Q444.4,1444.1 447.1,1443.7 L449.7,1443.4" fill="none" stroke="#c58125" stroke-width="0.8"/><path d="M453.8,1421.9 Q456.6,1420.5 456.5,1419.2 Q456.5,1417.9 455.1,1415.4 Q453.7,1412.9 452.3,1414.5 Q450.9,1416 453.2,1418.2 L455.6,1420.4" fill="none" stroke="#c58125" stroke-width="0.8"/><path d="M435.1,1439.1 Q440.3,1434.1 441.6,1433.7 Q443,1433.3 444.6,1433.8 L446.1,1434.4" fill="none" stroke="#c58125" stroke-width="0.8"/><path d="M491.5,1414.2 Q489.8,1415.9 487.2,1414 Q484.5,1412.1 486.4,1411.9 Q488.4,1411.6 488.4,1413.6 L488.3,1415.6" fill="none" stroke="#c58125" stroke-width="0.8"/><path d="M468.9,1391.6 Q472.4,1389.7 473.6,1388.9 Q474.8,1388.2 473.8,1389.3 Q472.9,1390.5 475.5,1392.4 L478,1394.3" fill="none" stroke="#c58125" stroke-width="0.8"/><path d="M454,1432.6 Q451.3,1434.7 452,1433.8 Q452.6,1432.9 451.3,1430.4 Q449.9,1427.9 448.2,1430.1 Q446.5,1432.2 445.7,1433.1 L445,1434.1" fill="none" stroke="#c58125" stroke-width="0.8"/><path d="M454.2,1395.9 Q455,1396.7 455,1399.3 Q455.1,1401.9 456.5,1404.8 Q457.9,1407.7 456.5,1406.5 L455,1405.3" fill="none" stroke="#c58125" stroke-width="0.8"/><path d="M478.9,1405 Q478.9,1405.2 476,1406.2 Q473.1,1407.3 473.1,1406.3 L473.1,1405.4" fill="none" stroke="#c58125" stroke-width="0.8"/><path d="M483.4,1431.1 Q487.9,1428.2 485.4,1426.6 Q482.9,1425 481.2,1426.2 Q479.5,1427.4 479.2,1428.5 L479,1429.6" fill="none" stroke="#c58125" stroke-width="0.8"/><polygon points="441.7,1423.5 442.9,1430.9 441.7,1431.1 444.7,1433.6 446.8,1430.2 445.5,1430.5 444.2,1423.1" fill="#e8982c" stroke="#8b5b1a" stroke-width="0.4"/><polygon points="474.2,1417.3 466.8,1417.4 466.8,1416.1 463.8,1418.7 466.8,1421.3 466.8,1420 474.2,1419.9" fill="#e8982c" stroke="#8b5b1a" stroke-width="0.4"/><polygon points="435.6,1402.7 440.3,1399.9 440.9,1401 442.2,1397.3 438.3,1396.6 439,1397.7 434.3,1400.4" fill="#e8982c" stroke="#8b5b1a" stroke-width="0.4"/><polygon points="487.9,1404.4 482.9,1404.3 482.9,1403 479.9,1405.6 482.8,1408.2 482.8,1406.9 487.9,1407" fill="#e8982c" stroke="#8b5b1a" stroke-width="0.4"/><polygon points="437.6,1431.1 437.1,1438.7 435.8,1438.6 438.1,1441.8 440.9,1439 439.6,1438.9 440.2,1431.3" fill="#e8982c" stroke="#8b5b1a" stroke-width="0.4"/><polygon points="488,1414.4 484.8,1414.9 484.6,1413.6 482,1416.6 485.3,1418.7 485.2,1417.4 488.4,1417" fill="#e8982c" stroke="#8b5b1a" stroke-width="0.4"/><polygon points="459.4,1406.7 458.1,1399 459.4,1398.8 456.3,1396.3 454.2,1399.7 455.5,1399.4 456.9,1407.1" fill="#e8982c" stroke="#8b5b1a" stroke-width="0.4"/><polygon points="464.3,1414.1 457.9,1414.4 457.9,1413.1 455,1415.8 458.1,1418.3 458,1417 464.4,1416.7" fill="#e8982c" stroke="#8b5b1a" stroke-width="0.4"/><polygon points="434.7,1407.4 436.7,1403.2 437.8,1403.7 436.7,1399.9 433.1,1401.6 434.3,1402.1 432.4,1406.4" fill="#e8982c" stroke="#8b5b1a" stroke-width="0.4"/><polygon points="462.1,1444.1 460.2,1438.3 461.5,1437.9 458.1,1435.8 456.5,1439.5 457.8,1439.1 459.6,1444.9" fill="#e8982c" stroke="#8b5b1a" stroke-width="0.4"/><polygon points="441.9,1417 437.8,1422.5 436.7,1421.7 437,1425.7 440.9,1424.8 439.9,1424 444,1418.5" fill="#e8982c" stroke="#8b5b1a" stroke-width="0.4"/><polygon points="453.1,1400.3 455.6,1395 456.7,1395.6 455.6,1391.8 452,1393.4 453.2,1393.9 450.8,1399.2" fill="#e8982c" stroke="#8b5b1a" stroke-width="0.4"/><polygon points="469.8,1402.2 471.8,1399.1 472.9,1399.9 472.4,1395.9 468.6,1396.9 469.7,1397.7 467.6,1400.7" fill="#e8982c" stroke="#8b5b1a" stroke-width="0.4"/><polygon points="473.6,1393.6 477,1396.7 476.2,1397.7 480.1,1397.7 479.6,1393.8 478.8,1394.8 475.3,1391.7" fill="#e8982c" stroke="#8b5b1a" stroke-width="0.4"/><polygon points="459.3,1389.8 454.9,1386.9 455.6,1385.8 451.7,1386.3 452.8,1390.1 453.5,1389 457.9,1391.9" fill="#e8982c" stroke="#8b5b1a" stroke-width="0.4"/><polygon points="474.4,1402.7 477.7,1397.7 478.8,1398.5 478.3,1394.5 474.5,1395.6 475.6,1396.3 472.3,1401.2" fill="#e8982c" stroke="#8b5b1a" stroke-width="0.4"/><polygon points="481.2,1426.3 481.5,1430.1 480.2,1430.2 483,1433 485.4,1429.8 484.1,1429.9 483.8,1426.1" fill="#e8982c" stroke="#8b5b1a" stroke-width="0.4"/><polygon points="474.3,1409.5 473.8,1406.2 475.1,1405.9 472,1403.4 469.9,1406.8 471.2,1406.6 471.8,1409.9" fill="#e8982c" stroke="#8b5b1a" stroke-width="0.4"/><polygon points="464.9,1425.1 464.8,1420.2 466.1,1420.1 463.4,1417.2 460.9,1420.3 462.2,1420.2 462.3,1425.1" fill="#e8982c" stroke="#8b5b1a" stroke-width="0.4"/><polygon points="478.1,1410 480.4,1404.5 481.6,1405 480.4,1401.3 476.8,1403 478,1403.5 475.7,1409" fill="#e8982c" stroke="#8b5b1a" stroke-width="0.4"/><polygon points="450.7,1417.7 445.8,1412.1 446.8,1411.2 442.8,1410.7 442.9,1414.7 443.8,1413.8 448.7,1419.4" fill="#e8982c" stroke="#8b5b1a" stroke-width="0.4"/><polygon points="457.9,1437.5 463.6,1437.9 463.5,1439.2 466.7,1436.9 463.9,1434 463.8,1435.3 458.1,1434.9" fill="#e8982c" stroke="#8b5b1a" stroke-width="0.4"/><polygon points="468.2,1435 470.8,1440 469.6,1440.6 473.3,1442 474.2,1438.2 473.1,1438.8 470.5,1433.8" fill="#e8982c" stroke="#8b5b1a" stroke-width="0.4"/><polygon points="457.4,1399.5 463.1,1395.6 463.9,1396.7 464.9,1392.8 461,1392.4 461.7,1393.5 455.9,1397.4" fill="#e8982c" stroke="#8b5b1a" stroke-width="0.4"/><polygon points="458.7,1439 454.1,1440.4 453.7,1439.2 451.6,1442.6 455.3,1444.2 454.9,1442.9 459.5,1441.5" fill="#e8982c" stroke="#8b5b1a" stroke-width="0.4"/><polygon points="433.3,1406.9 438,1403.3 438.8,1404.3 439.6,1400.4 435.7,1400.1 436.4,1401.2 431.7,1404.8" fill="#e8982c" stroke="#8b5b1a" stroke-width="0.4"/><polygon points="439.1,1417.9 440,1421 438.8,1421.4 442.1,1423.5 443.8,1419.9 442.5,1420.3 441.6,1417.2" fill="#e8982c" stroke="#8b5b1a" stroke-width="0.4"/><polygon points="480.1,1417.2 485.1,1411.6 486,1412.5 486.1,1408.5 482.2,1409 483.1,1409.9 478.1,1415.5" fill="#e8982c" stroke="#8b5b1a" stroke-width="0.4"/><polygon points="465.8,1413.6 465.5,1409.9 466.8,1409.8 464,1407 461.6,1410.2 462.9,1410.1 463.2,1413.8" fill="#e8982c" stroke="#8b5b1a" stroke-width="0.4"/><polygon points="441.3,1419.9 435.8,1423.3 435.1,1422.2 433.9,1426 437.8,1426.6 437.2,1425.5 442.7,1422.1" fill="#e8982c" stroke="#8b5b1a" stroke-width="0.4"/><polygon points="443.2,1403.8 439.3,1403.4 439.5,1402.1 436.2,1404.3 438.9,1407.2 439,1405.9 442.9,1406.4" fill="#e8982c" stroke="#8b5b1a" stroke-width="0.4"/><polygon points="481,1414 477.1,1414.7 476.9,1413.4 474.3,1416.4 477.7,1418.5 477.5,1417.2 481.4,1416.6" fill="#e8982c" stroke="#8b5b1a" stroke-width="0.4"/><polygon points="448.6,1411.8 443.4,1416.4 442.6,1415.4 442,1419.3 446,1419.3 445.1,1418.3 450.4,1413.8" fill="#e8982c" stroke="#8b5b1a" stroke-width="0.4"/><polygon points="461.9,1387.1 455.2,1388.4 455,1387.1 452.5,1390.2 456,1392.2 455.7,1390.9 462.4,1389.6" fill="#e8982c" stroke="#8b5b1a" stroke-width="0.4"/><polygon points="477.2,1425.8 480.9,1430.9 479.9,1431.7 483.8,1432.6 484.1,1428.7 483,1429.4 479.3,1424.3" fill="#e8982c" stroke="#8b5b1a" stroke-width="0.4"/><polygon points="456,1400.9 455.5,1396.6 456.7,1396.5 453.8,1393.8 451.6,1397.2 452.9,1397 453.5,1401.2" fill="#e8982c" stroke="#8b5b1a" stroke-width="0.4"/><polygon points="428.1,1426.5 431.9,1430 431,1431 435,1431.1 434.6,1427.2 433.7,1428.1 429.9,1424.6" fill="#e8982c" stroke="#8b5b1a" stroke-width="0.4"/><polygon points="446,1436.6 452.8,1438.5 452.5,1439.8 456.1,1438.1 453.9,1434.8 453.5,1436 446.7,1434.1" fill="#e8982c" stroke="#8b5b1a" stroke-width="0.4"/><polygon points="491.7,1410.2 488.4,1410.2 488.4,1408.9 485.3,1411.4 488.3,1414.1 488.3,1412.8 491.6,1412.8" fill="#e8982c" stroke="#8b5b1a" stroke-width="0.4"/><polygon points="460.3,1394.6 465,1394.7 465,1396 468.1,1393.5 465.1,1390.8 465.1,1392.1 460.3,1392" fill="#e8982c" stroke="#8b5b1a" stroke-width="0.4"/><polygon points="447.4,1394.1 452.7,1392.3 453.1,1393.5 455.1,1390.1 451.4,1388.6 451.8,1389.8 446.5,1391.7" fill="#e8982c" stroke="#8b5b1a" stroke-width="0.4"/><polygon points="446,1421.3 450,1420.4 450.3,1421.6 452.6,1418.4 449.1,1416.6 449.4,1417.8 445.3,1418.8" fill="#e8982c" stroke="#8b5b1a" stroke-width="0.4"/><polygon points="460.3,1445.2 453.8,1442.2 454.4,1441 450.5,1442.1 452.2,1445.7 452.7,1444.5 459.2,1447.5" fill="#e8982c" stroke="#8b5b1a" stroke-width="0.4"/><polygon points="478,1390.6 475.4,1392.9 474.6,1391.9 474,1395.8 478,1395.8 477.1,1394.8 479.7,1392.5" fill="#e8982c" stroke="#8b5b1a" stroke-width="0.4"/><polygon points="461.5,1440.9 464.6,1434.2 465.7,1434.7 464.6,1430.9 461,1432.6 462.2,1433.1 459.1,1439.8" fill="#e8982c" stroke="#8b5b1a" stroke-width="0.4"/><polygon points="452.2,1392.1 453.6,1398.2 452.3,1398.5 455.5,1400.8 457.4,1397.3 456.1,1397.6 454.7,1391.5" fill="#e8982c" stroke="#8b5b1a" stroke-width="0.4"/><polygon points="460.5,1412.8 463.6,1418.1 462.5,1418.7 466.3,1420 467,1416.1 465.9,1416.7 462.8,1411.5" fill="#e8982c" stroke="#8b5b1a" stroke-width="0.4"/><polygon points="473.4,1391.3 467.9,1389.2 468.4,1388 464.6,1389.3 466.5,1392.8 466.9,1391.6 472.5,1393.8" fill="#e8982c" stroke="#8b5b1a" stroke-width="0.4"/><polygon points="482.1,1393.9 479.2,1395.6 478.5,1394.5 477.4,1398.3 481.3,1399 480.6,1397.9 483.4,1396.1" fill="#e8982c" stroke="#8b5b1a" stroke-width="0.4"/><polygon points="468.8,1443.4 467.4,1437.8 468.6,1437.4 465.4,1435.2 463.6,1438.7 464.8,1438.4 466.3,1444.1" fill="#e8982c" stroke="#8b5b1a" stroke-width="0.4"/><path d="M439,1400.5L435.3,1397.8M436.3,1402.3L432.6,1399.6M433.6,1404.1L429.8,1401.4" stroke="#7f5318" stroke-width="0.8"/><path d="M438,1396L439,1400.5M435.3,1397.8L436.3,1402.3M432.6,1399.6L433.6,1404.1" stroke="#e8982c" stroke-width="1.8" stroke-linecap="round"/><path d="M424.1,1412.6L425,1417M427.1,1413L428,1417.4M430,1413.4L430.9,1417.8" stroke="#7f5318" stroke-width="0.8"/><path d="M422,1416.6L424.1,1412.6M425,1417L427.1,1413M428,1417.4L430,1413.4" stroke="#e8982c" stroke-width="1.8" stroke-linecap="round"/><path d="M432.2,1391.1L431.3,1396.1M435.1,1392.6L434.2,1397.7M437.9,1394.2L437,1399.2" stroke="#7f5318" stroke-width="0.8"/><path d="M428.5,1394.6L432.2,1391.1M431.3,1396.1L435.1,1392.6M434.2,1397.7L437.9,1394.2" stroke="#e8982c" stroke-width="1.8" stroke-linecap="round"/><path d="M453.7,1381.1L452.1,1385.4M455.9,1382.8L454.3,1387.1" stroke="#7f5318" stroke-width="0.8"/><path d="M450,1383.8L453.7,1381.1M452.1,1385.4L455.9,1382.8" stroke="#e8982c" stroke-width="1.8" stroke-linecap="round"/><path d="M446.1,1390.3L442.5,1393.3M447.2,1393.3L443.6,1396.3" stroke="#7f5318" stroke-width="0.8"/><path d="M441.4,1390.4L446.1,1390.3M442.5,1393.3L447.2,1393.3" stroke="#e8982c" stroke-width="1.8" stroke-linecap="round"/><path d="M468.6,1405.8L466.1,1400.9M464.8,1406.2L462.4,1401.3" stroke="#7f5318" stroke-width="0.8"/><path d="M469.9,1400.5L468.6,1405.8M466.1,1400.9L464.8,1406.2" stroke="#e8982c" stroke-width="1.8" stroke-linecap="round"/><path d="M481.3,1413.6L476.9,1415.1M481.1,1417.2L476.7,1418.7" stroke="#7f5318" stroke-width="0.8"/><path d="M477.1,1411.5L481.3,1413.6M476.9,1415.1L481.1,1417.2" stroke="#e8982c" stroke-width="1.8" stroke-linecap="round"/><path d="M474,1413.2L469.9,1414.6M473.8,1416.5L469.7,1417.8" stroke="#7f5318" stroke-width="0.8"/><path d="M470.1,1411.3L474,1413.2M469.9,1414.6L473.8,1416.5" stroke="#e8982c" stroke-width="1.8" stroke-linecap="round"/><path d="M454.3,1393.5L449.6,1392.2M452.7,1396L448,1394.6M451.1,1398.4L446.4,1397.1" stroke="#7f5318" stroke-width="0.8"/><path d="M451.2,1389.7L454.3,1393.5M449.6,1392.2L452.7,1396M448,1394.6L451.1,1398.4" stroke="#e8982c" stroke-width="1.8" stroke-linecap="round"/><path d="M480.6,1407.3L476.4,1410.4M481.6,1411.1L477.4,1414.1" stroke="#7f5318" stroke-width="0.8"/><path d="M475.4,1406.7L480.6,1407.3M476.4,1410.4L481.6,1411.1" stroke="#e8982c" stroke-width="1.8" stroke-linecap="round"/><path d="M491.7,1410.7L489.1,1407.3M488.6,1411.6L486,1408.1" stroke="#7f5318" stroke-width="0.8"/><path d="M492.3,1406.4L491.7,1410.7M489.1,1407.3L488.6,1411.6" stroke="#e8982c" stroke-width="1.8" stroke-linecap="round"/><path d="M438.2,1419L436.8,1414.9M435.7,1419.1L434.3,1415.1" stroke="#7f5318" stroke-width="0.8"/><path d="M439.3,1414.8L438.2,1419M436.8,1414.9L435.7,1419.1" stroke="#e8982c" stroke-width="1.8" stroke-linecap="round"/><path d="M453,1390.8L450.9,1394.7M455,1393L453,1396.9" stroke="#7f5318" stroke-width="0.8"/><path d="M448.9,1392.4L453,1390.8M450.9,1394.7L455,1393" stroke="#e8982c" stroke-width="1.8" stroke-linecap="round"/><path d="M477.6,1409.8L477.6,1415.6M481.2,1411L481.2,1416.8" stroke="#7f5318" stroke-width="0.8"/><path d="M474.1,1414.4L477.6,1409.8M477.6,1415.6L481.2,1411" stroke="#e8982c" stroke-width="1.8" stroke-linecap="round"/><path d="M463.2,1436L458.6,1437.1M462.9,1439.1L458.3,1440.1M462.6,1442.1L458,1443.2" stroke="#7f5318" stroke-width="0.8"/><path d="M459,1434L463.2,1436M458.6,1437.1L462.9,1439.1M458.3,1440.1L462.6,1442.1" stroke="#e8982c" stroke-width="1.8" stroke-linecap="round"/><path d="M483.5,1431.1L480,1434.7M484.8,1433.4L481.4,1437M486.2,1435.6L482.8,1439.3" stroke="#7f5318" stroke-width="0.8"/><path d="M478.7,1432.4L483.5,1431.1M480,1434.7L484.8,1433.4M481.4,1437L486.2,1435.6" stroke="#e8982c" stroke-width="1.8" stroke-linecap="round"/><path d="M485.7,1427.4L481.8,1430.1M486.5,1430L482.6,1432.7M487.4,1432.6L483.4,1435.3" stroke="#7f5318" stroke-width="0.8"/><path d="M480.9,1427.5L485.7,1427.4M481.8,1430.1L486.5,1430M482.6,1432.7L487.4,1432.6" stroke="#e8982c" stroke-width="1.8" stroke-linecap="round"/><path d="M464.1,1388.7L461.7,1392.4M466,1391.3L463.6,1395M467.9,1393.9L465.4,1397.6" stroke="#7f5318" stroke-width="0.8"/><path d="M459.8,1389.8L464.1,1388.7M461.7,1392.4L466,1391.3M463.6,1395L467.9,1393.9" stroke="#e8982c" stroke-width="1.8" stroke-linecap="round"/><path d="M487.7,1422.6L482,1421.4M486.2,1425.3L480.6,1424.1" stroke="#7f5318" stroke-width="0.8"/><path d="M483.5,1418.7L487.7,1422.6M482,1421.4L486.2,1425.3" stroke="#e8982c" stroke-width="1.8" stroke-linecap="round"/><path d="M463.5,1415.8L461.8,1411.6M460.8,1416L459.2,1411.8M458.2,1416.2L456.5,1412" stroke="#7f5318" stroke-width="0.8"/><path d="M464.5,1411.4L463.5,1415.8M461.8,1411.6L460.8,1416M459.2,1411.8L458.2,1416.2" stroke="#e8982c" stroke-width="1.8" stroke-linecap="round"/><path d="M447,1434.9L442.4,1433.9M445.6,1437.3L441.1,1436.3M444.3,1439.6L439.8,1438.6" stroke="#7f5318" stroke-width="0.8"/><path d="M443.7,1431.6L447,1434.9M442.4,1433.9L445.6,1437.3M441.1,1436.3L444.3,1439.6" stroke="#e8982c" stroke-width="1.8" stroke-linecap="round"/><path d="M486,1397.9L483.4,1393.2M483.4,1398.5L480.8,1393.9M480.8,1399.2L478.2,1394.5" stroke="#7f5318" stroke-width="0.8"/><path d="M486,1392.6L486,1397.9M483.4,1393.2L483.4,1398.5M480.8,1393.9L480.8,1399.2" stroke="#e8982c" stroke-width="1.8" stroke-linecap="round"/><path d="M476,1390.6L474,1396M478.5,1392.3L476.6,1397.8M481,1394.1L479.1,1399.5" stroke="#7f5318" stroke-width="0.8"/><path d="M471.5,1394.2L476,1390.6M474,1396L478.5,1392.3M476.6,1397.8L481,1394.1" stroke="#e8982c" stroke-width="1.8" stroke-linecap="round"/><path d="M461.3,1433.3L455.9,1433.5M460.5,1436.3L455.1,1436.4" stroke="#7f5318" stroke-width="0.8"/><path d="M456.7,1430.5L461.3,1433.3M455.9,1433.5L460.5,1436.3" stroke="#e8982c" stroke-width="1.8" stroke-linecap="round"/><path d="M451.9,1395.4L446.7,1393M450.1,1397.6L444.9,1395.2" stroke="#7f5318" stroke-width="0.8"/><path d="M448.5,1390.7L451.9,1395.4M446.7,1393L450.1,1397.6" stroke="#e8982c" stroke-width="1.8" stroke-linecap="round"/><path d="M468,1397.4L462.4,1399.1M467.9,1401.1L462.2,1402.8" stroke="#7f5318" stroke-width="0.8"/><path d="M462.5,1395.4L468,1397.4M462.4,1399.1L467.9,1401.1" stroke="#e8982c" stroke-width="1.8" stroke-linecap="round"/><path d="M444.9,1399.9L446.2,1404.2M447.8,1400L449.1,1404.3M450.7,1400.1L452,1404.4" stroke="#7f5318" stroke-width="0.8"/><path d="M443.3,1404.1L444.9,1399.9M446.2,1404.2L447.8,1400M449.1,1404.3L450.7,1400.1" stroke="#e8982c" stroke-width="1.8" stroke-linecap="round"/><path d="M484.7,1410.8L483,1405.7M481.9,1411L480.2,1405.8" stroke="#7f5318" stroke-width="0.8"/><path d="M485.8,1405.5L484.7,1410.8M483,1405.7L481.9,1411" stroke="#e8982c" stroke-width="1.8" stroke-linecap="round"/><path d="M465.7,1391.6L462.8,1395M467.2,1394.3L464.3,1397.7M468.7,1397L465.8,1400.4" stroke="#7f5318" stroke-width="0.8"/><path d="M461.3,1392.3L465.7,1391.6M462.8,1395L467.2,1394.3M464.3,1397.7L468.7,1397" stroke="#e8982c" stroke-width="1.8" stroke-linecap="round"/><path d="M463.9,1425.7L459.9,1423.1M461.8,1427.4L457.8,1424.8M459.7,1429.2L455.8,1426.6" stroke="#7f5318" stroke-width="0.8"/><path d="M462,1421.3L463.9,1425.7M459.9,1423.1L461.8,1427.4M457.8,1424.8L459.7,1429.2" stroke="#e8982c" stroke-width="1.8" stroke-linecap="round"/><path d="M427.7,1412.9L425.9,1408.9M424.3,1413L422.5,1408.9" stroke="#7f5318" stroke-width="0.8"/><path d="M429.3,1408.8L427.7,1412.9M425.9,1408.9L424.3,1413" stroke="#e8982c" stroke-width="1.8" stroke-linecap="round"/><path d="M484.3,1429.5L480.6,1432M485.1,1432.1L481.4,1434.7M485.9,1434.8L482.2,1437.4" stroke="#7f5318" stroke-width="0.8"/><path d="M479.8,1429.3L484.3,1429.5M480.6,1432L485.1,1432.1M481.4,1434.7L485.9,1434.8" stroke="#e8982c" stroke-width="1.8" stroke-linecap="round"/><path d="M479.9,1422.9L476.6,1427M481.7,1425.6L478.4,1429.7M483.4,1428.2L480.2,1432.3" stroke="#7f5318" stroke-width="0.8"/><path d="M474.9,1424.4L479.9,1422.9M476.6,1427L481.7,1425.6M478.4,1429.7L483.4,1428.2" stroke="#e8982c" stroke-width="1.8" stroke-linecap="round"/><path d="M492.6,1412.4L487.6,1412.4M492,1414.8L487,1414.8" stroke="#7f5318" stroke-width="0.8"/><path d="M488.2,1410L492.6,1412.4M487.6,1412.4L492,1414.8" stroke="#e8982c" stroke-width="1.8" stroke-linecap="round"/><path d="M455.9,1389.6L450.5,1391.2M456,1392.3L450.6,1393.9" stroke="#7f5318" stroke-width="0.8"/><path d="M450.4,1388.5L455.9,1389.6M450.5,1391.2L456,1392.3" stroke="#e8982c" stroke-width="1.8" stroke-linecap="round"/><path d="M459.7,1413.8L456.8,1417.1M461.1,1416.3L458.2,1419.6" stroke="#7f5318" stroke-width="0.8"/><path d="M455.3,1414.6L459.7,1413.8M456.8,1417.1L461.1,1416.3" stroke="#e8982c" stroke-width="1.8" stroke-linecap="round"/><path d="M423.5,1352.4L419.8,1357.4M425.5,1354.9L421.9,1359.9M427.6,1357.4L424,1362.5M429.6,1359.9L426,1365M431.7,1362.4L428.1,1367.5M433.8,1365L430.2,1370M435.8,1367.5L432.2,1372.6M437.9,1370L434.3,1375.1M440,1372.5L436.4,1377.6M442,1375.1L438.4,1380.1M444.1,1377.6L440.5,1382.6M446.2,1380.1L442.6,1385.2M448.2,1382.6L444.6,1387.7M450.3,1385.1L446.7,1390.2" stroke="#740b17" stroke-width="0.8"/><path d="M417.8,1354.9L423.5,1352.4M419.8,1357.4L425.5,1354.9M421.9,1359.9L427.6,1357.4M424,1362.5L429.6,1359.9M426,1365L431.7,1362.4M428.1,1367.5L433.8,1365M430.2,1370L435.8,1367.5M432.2,1372.6L437.9,1370M434.3,1375.1L440,1372.5M436.4,1377.6L442,1375.1M438.4,1380.1L444.1,1377.6M440.5,1382.6L446.2,1380.1M442.6,1385.2L448.2,1382.6M444.6,1387.7L450.3,1385.1" stroke="#d3152a" stroke-width="1.8" stroke-linecap="round"/><path d="M429,1349.6L426,1354.1M431,1352.1L428,1356.6M433,1354.5L430,1359M435,1357L432,1361.5M437,1359.4L434,1363.9M439,1361.9L436,1366.4M441,1364.4L438,1368.9M443,1366.8L440,1371.3M445,1369.3L442,1373.8M447,1371.7L444,1376.3M449,1374.2L446,1378.7M451,1376.7L448,1381.2M453,1379.1L450,1383.6" stroke="#740b17" stroke-width="0.8"/><path d="M424,1351.6L429,1349.6M426,1354.1L431,1352.1M428,1356.6L433,1354.5M430,1359L435,1357M432,1361.5L437,1359.4M434,1363.9L439,1361.9M436,1366.4L441,1364.4M438,1368.9L443,1366.8M440,1371.3L445,1369.3M442,1373.8L447,1371.7M444,1376.3L449,1374.2M446,1378.7L451,1376.7M448,1381.2L453,1379.1" stroke="#d3152a" stroke-width="1.8" stroke-linecap="round"/><path d="M489,1356.6L484.7,1359.9M490.1,1359.6L485.9,1362.9M491.3,1362.6L487,1365.9M492.4,1365.6L488.1,1368.9M493.6,1368.6L489.3,1371.9M494.7,1371.6L490.4,1374.9M495.9,1374.6L491.6,1377.9" stroke="#740b17" stroke-width="0.8"/><path d="M483.6,1356.9L489,1356.6M484.7,1359.9L490.1,1359.6M485.9,1362.9L491.3,1362.6M487,1365.9L492.4,1365.6M488.1,1368.9L493.6,1368.6M489.3,1371.9L494.7,1371.6M490.4,1374.9L495.9,1374.6" stroke="#d3152a" stroke-width="1.8" stroke-linecap="round"/><path d="M397.9,1348L393.6,1352.5M399.6,1350.7L395.3,1355.2M401.3,1353.4L397,1358M403,1356.2L398.7,1360.7M404.6,1358.9L400.4,1363.4M406.3,1361.6L402.1,1366.2M408,1364.4L403.7,1368.9M409.7,1367.1L405.4,1371.6M411.4,1369.8L407.1,1374.3M413.1,1372.6L408.8,1377.1M414.7,1375.3L410.5,1379.8M416.4,1378L412.2,1382.5M418.1,1380.7L413.9,1385.3M419.8,1383.5L415.5,1388M421.5,1386.2L417.2,1390.7M423.2,1388.9L418.9,1393.5M424.9,1391.7L420.6,1396.2M426.5,1394.4L422.3,1398.9M428.2,1397.1L424,1401.6M429.9,1399.9L425.6,1404.4" stroke="#196228" stroke-width="0.8"/><path d="M391.9,1349.8L397.9,1348M393.6,1352.5L399.6,1350.7M395.3,1355.2L401.3,1353.4M397,1358L403,1356.2M398.7,1360.7L404.6,1358.9M400.4,1363.4L406.3,1361.6M402.1,1366.2L408,1364.4M403.7,1368.9L409.7,1367.1M405.4,1371.6L411.4,1369.8M407.1,1374.3L413.1,1372.6M408.8,1377.1L414.7,1375.3M410.5,1379.8L416.4,1378M412.2,1382.5L418.1,1380.7M413.9,1385.3L419.8,1383.5M415.5,1388L421.5,1386.2M417.2,1390.7L423.2,1388.9M418.9,1393.5L424.9,1391.7M420.6,1396.2L426.5,1394.4M422.3,1398.9L428.2,1397.1M424,1401.6L429.9,1399.9" stroke="#2fb34a" stroke-width="1.8" stroke-linecap="round"/><path d="M404.2,1345.9L400.4,1350.2M406,1348.6L402.1,1353M407.7,1351.3L403.8,1355.7M409.4,1354.1L405.6,1358.4M411.2,1356.8L407.3,1361.2M412.9,1359.6L409.1,1363.9M414.7,1362.3L410.8,1366.7M416.4,1365L412.5,1369.4M418.1,1367.8L414.3,1372.1M419.9,1370.5L416,1374.9M421.6,1373.2L417.7,1377.6M423.3,1376L419.5,1380.3M425.1,1378.7L421.2,1383.1M426.8,1381.4L423,1385.8M428.5,1384.2L424.7,1388.6M430.3,1386.9L426.4,1391.3M432,1389.7L428.2,1394M433.8,1392.4L429.9,1396.8M435.5,1395.1L431.6,1399.5" stroke="#196228" stroke-width="0.8"/><path d="M398.6,1347.5L404.2,1345.9M400.4,1350.2L406,1348.6M402.1,1353L407.7,1351.3M403.8,1355.7L409.4,1354.1M405.6,1358.4L411.2,1356.8M407.3,1361.2L412.9,1359.6M409.1,1363.9L414.7,1362.3M410.8,1366.7L416.4,1365M412.5,1369.4L418.1,1367.8M414.3,1372.1L419.9,1370.5M416,1374.9L421.6,1373.2M417.7,1377.6L423.3,1376M419.5,1380.3L425.1,1378.7M421.2,1383.1L426.8,1381.4M423,1385.8L428.5,1384.2M424.7,1388.6L430.3,1386.9M426.4,1391.3L432,1389.7M428.2,1394L433.8,1392.4M429.9,1396.8L435.5,1395.1" stroke="#2fb34a" stroke-width="1.8" stroke-linecap="round"/><path d="M519.1,1348.2L513.7,1345.2M517,1350.4L511.6,1347.4M514.8,1352.7L509.4,1349.7M512.7,1354.9L507.3,1351.9M510.6,1357.2L505.2,1354.2M508.4,1359.4L503,1356.4M506.3,1361.7L500.9,1358.7M504.2,1363.9L498.8,1360.9M502,1366.2L496.6,1363.2M499.9,1368.4L494.5,1365.4M497.8,1370.7L492.4,1367.6M495.6,1372.9L490.2,1369.9M493.5,1375.1L488.1,1372.1M491.4,1377.4L486,1374.4M489.2,1379.6L483.8,1376.6" stroke="#196228" stroke-width="0.8"/><path d="M515.8,1342.9L519.1,1348.2M513.7,1345.2L517,1350.4M511.6,1347.4L514.8,1352.7M509.4,1349.7L512.7,1354.9M507.3,1351.9L510.6,1357.2M505.2,1354.2L508.4,1359.4M503,1356.4L506.3,1361.7M500.9,1358.7L504.2,1363.9M498.8,1360.9L502,1366.2M496.6,1363.2L499.9,1368.4M494.5,1365.4L497.8,1370.7M492.4,1367.6L495.6,1372.9M490.2,1369.9L493.5,1375.1M488.1,1372.1L491.4,1377.4M486,1374.4L489.2,1379.6" stroke="#2fb34a" stroke-width="1.8" stroke-linecap="round"/><path d="M522.8,1352.9L518,1350.5M520.7,1355.2L515.8,1352.8M518.5,1357.5L513.7,1355.1M516.4,1359.8L511.5,1357.4M514.3,1362.1L509.4,1359.7M512.1,1364.3L507.2,1361.9M510,1366.6L505.1,1364.2M507.8,1368.9L503,1366.5M505.7,1371.2L500.8,1368.8M503.5,1373.5L498.7,1371.1M501.4,1375.8L496.5,1373.4M499.3,1378.1L494.4,1375.7M497.1,1380.3L492.2,1377.9M495,1382.6L490.1,1380.2" stroke="#196228" stroke-width="0.8"/><path d="M520.1,1348.2L522.8,1352.9M518,1350.5L520.7,1355.2M515.8,1352.8L518.5,1357.5M513.7,1355.1L516.4,1359.8M511.5,1357.4L514.3,1362.1M509.4,1359.7L512.1,1364.3M507.2,1361.9L510,1366.6M505.1,1364.2L507.8,1368.9M503,1366.5L505.7,1371.2M500.8,1368.8L503.5,1373.5M498.7,1371.1L501.4,1375.8M496.5,1373.4L499.3,1378.1M494.4,1375.7L497.1,1380.3M492.2,1377.9L495,1382.6" stroke="#2fb34a" stroke-width="1.8" stroke-linecap="round"/><path d="M394.5,1348.2 Q395,1343 398,1344 L401,1345" fill="none" stroke="#27983e" stroke-width="0.9"/><path d="M518,1345 Q521,1340 518,1339.5 L515,1339" fill="none" stroke="#27983e" stroke-width="0.9"/></svg></body></html>
